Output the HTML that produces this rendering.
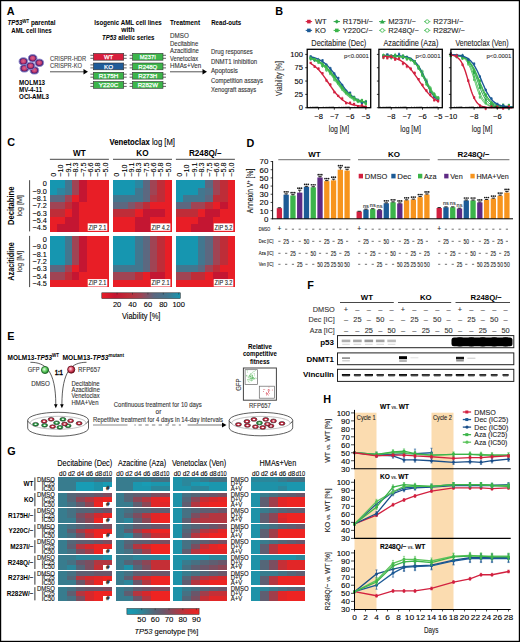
<!DOCTYPE html><html><head><meta charset="utf-8"><style>html,body{margin:0;padding:0;background:#fff;}svg{display:block;}text{font-family:"Liberation Sans",sans-serif;}</style></head><body>
<svg width="520" height="642" viewBox="0 0 520 642">
<rect x="0" y="0" width="520" height="642" fill="#fff"/>
<text x="6.80" y="14.70" font-size="10.8" text-anchor="start" fill="#000" font-weight="bold" >A</text>
<text x="275.30" y="15.00" font-size="10.8" text-anchor="start" fill="#000" font-weight="bold" >B</text>
<text x="7.30" y="146.20" font-size="10.8" text-anchor="start" fill="#000" font-weight="bold" >C</text>
<text x="246.60" y="146.70" font-size="10.8" text-anchor="start" fill="#000" font-weight="bold" >D</text>
<text x="7.30" y="339.50" font-size="10.8" text-anchor="start" fill="#000" font-weight="bold" >E</text>
<text x="307.20" y="288.90" font-size="10.8" text-anchor="start" fill="#000" font-weight="bold" >F</text>
<text x="7.30" y="454.50" font-size="10.8" text-anchor="start" fill="#000" font-weight="bold" >G</text>
<text x="323.30" y="403.30" font-size="10.8" text-anchor="start" fill="#000" font-weight="bold" >H</text>
<rect x="49.90" y="180.20" width="7.67" height="7.61" fill="#1696b0" shape-rendering="crispEdges"/>
<rect x="57.27" y="180.20" width="7.67" height="7.61" fill="#1696b0" shape-rendering="crispEdges"/>
<rect x="64.65" y="180.20" width="7.67" height="7.61" fill="#42778f" shape-rendering="crispEdges"/>
<rect x="72.03" y="180.20" width="7.67" height="7.61" fill="#a04454" shape-rendering="crispEdges"/>
<rect x="79.40" y="180.20" width="7.67" height="7.61" fill="#c41632" shape-rendering="crispEdges"/>
<rect x="86.78" y="180.20" width="7.67" height="7.61" fill="#e81e26" shape-rendering="crispEdges"/>
<rect x="94.15" y="180.20" width="7.67" height="7.61" fill="#e81e26" shape-rendering="crispEdges"/>
<rect x="101.53" y="180.20" width="7.67" height="7.61" fill="#e81e26" shape-rendering="crispEdges"/>
<rect x="49.90" y="187.51" width="7.67" height="7.61" fill="#1696b0" shape-rendering="crispEdges"/>
<rect x="57.27" y="187.51" width="7.67" height="7.61" fill="#2c86a0" shape-rendering="crispEdges"/>
<rect x="64.65" y="187.51" width="7.67" height="7.61" fill="#42778f" shape-rendering="crispEdges"/>
<rect x="72.03" y="187.51" width="7.67" height="7.61" fill="#a04454" shape-rendering="crispEdges"/>
<rect x="79.40" y="187.51" width="7.67" height="7.61" fill="#c41632" shape-rendering="crispEdges"/>
<rect x="86.78" y="187.51" width="7.67" height="7.61" fill="#e81e26" shape-rendering="crispEdges"/>
<rect x="94.15" y="187.51" width="7.67" height="7.61" fill="#e81e26" shape-rendering="crispEdges"/>
<rect x="101.53" y="187.51" width="7.67" height="7.61" fill="#e81e26" shape-rendering="crispEdges"/>
<rect x="49.90" y="194.83" width="7.67" height="7.61" fill="#5c6880" shape-rendering="crispEdges"/>
<rect x="57.27" y="194.83" width="7.67" height="7.61" fill="#5c6880" shape-rendering="crispEdges"/>
<rect x="64.65" y="194.83" width="7.67" height="7.61" fill="#a04454" shape-rendering="crispEdges"/>
<rect x="72.03" y="194.83" width="7.67" height="7.61" fill="#e81e26" shape-rendering="crispEdges"/>
<rect x="79.40" y="194.83" width="7.67" height="7.61" fill="#c41632" shape-rendering="crispEdges"/>
<rect x="86.78" y="194.83" width="7.67" height="7.61" fill="#e81e26" shape-rendering="crispEdges"/>
<rect x="94.15" y="194.83" width="7.67" height="7.61" fill="#e81e26" shape-rendering="crispEdges"/>
<rect x="101.53" y="194.83" width="7.67" height="7.61" fill="#e81e26" shape-rendering="crispEdges"/>
<rect x="49.90" y="202.14" width="7.67" height="7.61" fill="#a04454" shape-rendering="crispEdges"/>
<rect x="57.27" y="202.14" width="7.67" height="7.61" fill="#a04454" shape-rendering="crispEdges"/>
<rect x="64.65" y="202.14" width="7.67" height="7.61" fill="#be2d38" shape-rendering="crispEdges"/>
<rect x="72.03" y="202.14" width="7.67" height="7.61" fill="#c41632" shape-rendering="crispEdges"/>
<rect x="79.40" y="202.14" width="7.67" height="7.61" fill="#e81e26" shape-rendering="crispEdges"/>
<rect x="86.78" y="202.14" width="7.67" height="7.61" fill="#e81e26" shape-rendering="crispEdges"/>
<rect x="94.15" y="202.14" width="7.67" height="7.61" fill="#e81e26" shape-rendering="crispEdges"/>
<rect x="101.53" y="202.14" width="7.67" height="7.61" fill="#e81e26" shape-rendering="crispEdges"/>
<rect x="49.90" y="209.46" width="7.67" height="7.61" fill="#be2d38" shape-rendering="crispEdges"/>
<rect x="57.27" y="209.46" width="7.67" height="7.61" fill="#be2d38" shape-rendering="crispEdges"/>
<rect x="64.65" y="209.46" width="7.67" height="7.61" fill="#e81e26" shape-rendering="crispEdges"/>
<rect x="72.03" y="209.46" width="7.67" height="7.61" fill="#c41632" shape-rendering="crispEdges"/>
<rect x="79.40" y="209.46" width="7.67" height="7.61" fill="#e81e26" shape-rendering="crispEdges"/>
<rect x="86.78" y="209.46" width="7.67" height="7.61" fill="#e81e26" shape-rendering="crispEdges"/>
<rect x="94.15" y="209.46" width="7.67" height="7.61" fill="#e81e26" shape-rendering="crispEdges"/>
<rect x="101.53" y="209.46" width="7.67" height="7.61" fill="#e81e26" shape-rendering="crispEdges"/>
<rect x="49.90" y="216.77" width="7.67" height="7.61" fill="#e81e26" shape-rendering="crispEdges"/>
<rect x="57.27" y="216.77" width="7.67" height="7.61" fill="#e81e26" shape-rendering="crispEdges"/>
<rect x="64.65" y="216.77" width="7.67" height="7.61" fill="#c41632" shape-rendering="crispEdges"/>
<rect x="72.03" y="216.77" width="7.67" height="7.61" fill="#c41632" shape-rendering="crispEdges"/>
<rect x="79.40" y="216.77" width="7.67" height="7.61" fill="#e81e26" shape-rendering="crispEdges"/>
<rect x="86.78" y="216.77" width="7.67" height="7.61" fill="#e81e26" shape-rendering="crispEdges"/>
<rect x="94.15" y="216.77" width="7.67" height="7.61" fill="#e81e26" shape-rendering="crispEdges"/>
<rect x="101.53" y="216.77" width="7.67" height="7.61" fill="#e81e26" shape-rendering="crispEdges"/>
<rect x="49.90" y="224.09" width="7.67" height="7.61" fill="#e81e26" shape-rendering="crispEdges"/>
<rect x="57.27" y="224.09" width="7.67" height="7.61" fill="#c41632" shape-rendering="crispEdges"/>
<rect x="64.65" y="224.09" width="7.67" height="7.61" fill="#c41632" shape-rendering="crispEdges"/>
<rect x="72.03" y="224.09" width="7.67" height="7.61" fill="#c41632" shape-rendering="crispEdges"/>
<rect x="79.40" y="224.09" width="7.67" height="7.61" fill="#e81e26" shape-rendering="crispEdges"/>
<rect x="86.78" y="224.09" width="7.67" height="7.61" fill="#e81e26" shape-rendering="crispEdges"/>
<rect x="94.15" y="224.09" width="7.67" height="7.61" fill="#e81e26" shape-rendering="crispEdges"/>
<rect x="101.53" y="224.09" width="7.67" height="7.61" fill="#e81e26" shape-rendering="crispEdges"/>
<rect x="87.70" y="223.40" width="19.60" height="7.40" fill="#fff" />
<text x="97.50" y="229.50" font-size="6.4" text-anchor="middle" fill="#222" stroke="#222" stroke-width="0.1" textLength="18.00" lengthAdjust="spacingAndGlyphs" >ZIP 2.1</text>
<rect x="113.00" y="180.20" width="7.67" height="7.61" fill="#1696b0" shape-rendering="crispEdges"/>
<rect x="120.38" y="180.20" width="7.67" height="7.61" fill="#1696b0" shape-rendering="crispEdges"/>
<rect x="127.75" y="180.20" width="7.67" height="7.61" fill="#1696b0" shape-rendering="crispEdges"/>
<rect x="135.12" y="180.20" width="7.67" height="7.61" fill="#2c86a0" shape-rendering="crispEdges"/>
<rect x="142.50" y="180.20" width="7.67" height="7.61" fill="#5c6880" shape-rendering="crispEdges"/>
<rect x="149.88" y="180.20" width="7.67" height="7.61" fill="#a04454" shape-rendering="crispEdges"/>
<rect x="157.25" y="180.20" width="7.67" height="7.61" fill="#be2d38" shape-rendering="crispEdges"/>
<rect x="164.62" y="180.20" width="7.67" height="7.61" fill="#e81e26" shape-rendering="crispEdges"/>
<rect x="113.00" y="187.51" width="7.67" height="7.61" fill="#1696b0" shape-rendering="crispEdges"/>
<rect x="120.38" y="187.51" width="7.67" height="7.61" fill="#1696b0" shape-rendering="crispEdges"/>
<rect x="127.75" y="187.51" width="7.67" height="7.61" fill="#1696b0" shape-rendering="crispEdges"/>
<rect x="135.12" y="187.51" width="7.67" height="7.61" fill="#42778f" shape-rendering="crispEdges"/>
<rect x="142.50" y="187.51" width="7.67" height="7.61" fill="#5c6880" shape-rendering="crispEdges"/>
<rect x="149.88" y="187.51" width="7.67" height="7.61" fill="#a04454" shape-rendering="crispEdges"/>
<rect x="157.25" y="187.51" width="7.67" height="7.61" fill="#be2d38" shape-rendering="crispEdges"/>
<rect x="164.62" y="187.51" width="7.67" height="7.61" fill="#e81e26" shape-rendering="crispEdges"/>
<rect x="113.00" y="194.83" width="7.67" height="7.61" fill="#42778f" shape-rendering="crispEdges"/>
<rect x="120.38" y="194.83" width="7.67" height="7.61" fill="#42778f" shape-rendering="crispEdges"/>
<rect x="127.75" y="194.83" width="7.67" height="7.61" fill="#42778f" shape-rendering="crispEdges"/>
<rect x="135.12" y="194.83" width="7.67" height="7.61" fill="#42778f" shape-rendering="crispEdges"/>
<rect x="142.50" y="194.83" width="7.67" height="7.61" fill="#5c6880" shape-rendering="crispEdges"/>
<rect x="149.88" y="194.83" width="7.67" height="7.61" fill="#af3846" shape-rendering="crispEdges"/>
<rect x="157.25" y="194.83" width="7.67" height="7.61" fill="#be2d38" shape-rendering="crispEdges"/>
<rect x="164.62" y="194.83" width="7.67" height="7.61" fill="#e81e26" shape-rendering="crispEdges"/>
<rect x="113.00" y="202.14" width="7.67" height="7.61" fill="#5c6880" shape-rendering="crispEdges"/>
<rect x="120.38" y="202.14" width="7.67" height="7.61" fill="#5c6880" shape-rendering="crispEdges"/>
<rect x="127.75" y="202.14" width="7.67" height="7.61" fill="#7e566a" shape-rendering="crispEdges"/>
<rect x="135.12" y="202.14" width="7.67" height="7.61" fill="#a04454" shape-rendering="crispEdges"/>
<rect x="142.50" y="202.14" width="7.67" height="7.61" fill="#be2d38" shape-rendering="crispEdges"/>
<rect x="149.88" y="202.14" width="7.67" height="7.61" fill="#e81e26" shape-rendering="crispEdges"/>
<rect x="157.25" y="202.14" width="7.67" height="7.61" fill="#e81e26" shape-rendering="crispEdges"/>
<rect x="164.62" y="202.14" width="7.67" height="7.61" fill="#e81e26" shape-rendering="crispEdges"/>
<rect x="113.00" y="209.46" width="7.67" height="7.61" fill="#be2d38" shape-rendering="crispEdges"/>
<rect x="120.38" y="209.46" width="7.67" height="7.61" fill="#be2d38" shape-rendering="crispEdges"/>
<rect x="127.75" y="209.46" width="7.67" height="7.61" fill="#be2d38" shape-rendering="crispEdges"/>
<rect x="135.12" y="209.46" width="7.67" height="7.61" fill="#e81e26" shape-rendering="crispEdges"/>
<rect x="142.50" y="209.46" width="7.67" height="7.61" fill="#c41632" shape-rendering="crispEdges"/>
<rect x="149.88" y="209.46" width="7.67" height="7.61" fill="#c41632" shape-rendering="crispEdges"/>
<rect x="157.25" y="209.46" width="7.67" height="7.61" fill="#c41632" shape-rendering="crispEdges"/>
<rect x="164.62" y="209.46" width="7.67" height="7.61" fill="#e81e26" shape-rendering="crispEdges"/>
<rect x="113.00" y="216.77" width="7.67" height="7.61" fill="#e81e26" shape-rendering="crispEdges"/>
<rect x="120.38" y="216.77" width="7.67" height="7.61" fill="#e81e26" shape-rendering="crispEdges"/>
<rect x="127.75" y="216.77" width="7.67" height="7.61" fill="#e81e26" shape-rendering="crispEdges"/>
<rect x="135.12" y="216.77" width="7.67" height="7.61" fill="#c41632" shape-rendering="crispEdges"/>
<rect x="142.50" y="216.77" width="7.67" height="7.61" fill="#c41632" shape-rendering="crispEdges"/>
<rect x="149.88" y="216.77" width="7.67" height="7.61" fill="#e81e26" shape-rendering="crispEdges"/>
<rect x="157.25" y="216.77" width="7.67" height="7.61" fill="#e81e26" shape-rendering="crispEdges"/>
<rect x="164.62" y="216.77" width="7.67" height="7.61" fill="#e81e26" shape-rendering="crispEdges"/>
<rect x="113.00" y="224.09" width="7.67" height="7.61" fill="#e81e26" shape-rendering="crispEdges"/>
<rect x="120.38" y="224.09" width="7.67" height="7.61" fill="#e81e26" shape-rendering="crispEdges"/>
<rect x="127.75" y="224.09" width="7.67" height="7.61" fill="#e81e26" shape-rendering="crispEdges"/>
<rect x="135.12" y="224.09" width="7.67" height="7.61" fill="#c41632" shape-rendering="crispEdges"/>
<rect x="142.50" y="224.09" width="7.67" height="7.61" fill="#c41632" shape-rendering="crispEdges"/>
<rect x="149.88" y="224.09" width="7.67" height="7.61" fill="#e81e26" shape-rendering="crispEdges"/>
<rect x="157.25" y="224.09" width="7.67" height="7.61" fill="#e81e26" shape-rendering="crispEdges"/>
<rect x="164.62" y="224.09" width="7.67" height="7.61" fill="#e81e26" shape-rendering="crispEdges"/>
<rect x="150.80" y="223.40" width="19.60" height="7.40" fill="#fff" />
<text x="160.60" y="229.50" font-size="6.4" text-anchor="middle" fill="#222" stroke="#222" stroke-width="0.1" textLength="18.00" lengthAdjust="spacingAndGlyphs" >ZIP 4.2</text>
<rect x="175.90" y="180.20" width="7.67" height="7.61" fill="#1696b0" shape-rendering="crispEdges"/>
<rect x="183.28" y="180.20" width="7.67" height="7.61" fill="#1696b0" shape-rendering="crispEdges"/>
<rect x="190.65" y="180.20" width="7.67" height="7.61" fill="#1696b0" shape-rendering="crispEdges"/>
<rect x="198.03" y="180.20" width="7.67" height="7.61" fill="#1696b0" shape-rendering="crispEdges"/>
<rect x="205.40" y="180.20" width="7.67" height="7.61" fill="#5c6880" shape-rendering="crispEdges"/>
<rect x="212.78" y="180.20" width="7.67" height="7.61" fill="#a04454" shape-rendering="crispEdges"/>
<rect x="220.15" y="180.20" width="7.67" height="7.61" fill="#be2d38" shape-rendering="crispEdges"/>
<rect x="227.53" y="180.20" width="7.67" height="7.61" fill="#e81e26" shape-rendering="crispEdges"/>
<rect x="175.90" y="187.51" width="7.67" height="7.61" fill="#1696b0" shape-rendering="crispEdges"/>
<rect x="183.28" y="187.51" width="7.67" height="7.61" fill="#1696b0" shape-rendering="crispEdges"/>
<rect x="190.65" y="187.51" width="7.67" height="7.61" fill="#1696b0" shape-rendering="crispEdges"/>
<rect x="198.03" y="187.51" width="7.67" height="7.61" fill="#42778f" shape-rendering="crispEdges"/>
<rect x="205.40" y="187.51" width="7.67" height="7.61" fill="#4f7088" shape-rendering="crispEdges"/>
<rect x="212.78" y="187.51" width="7.67" height="7.61" fill="#a04454" shape-rendering="crispEdges"/>
<rect x="220.15" y="187.51" width="7.67" height="7.61" fill="#be2d38" shape-rendering="crispEdges"/>
<rect x="227.53" y="187.51" width="7.67" height="7.61" fill="#e81e26" shape-rendering="crispEdges"/>
<rect x="175.90" y="194.83" width="7.67" height="7.61" fill="#1696b0" shape-rendering="crispEdges"/>
<rect x="183.28" y="194.83" width="7.67" height="7.61" fill="#42778f" shape-rendering="crispEdges"/>
<rect x="190.65" y="194.83" width="7.67" height="7.61" fill="#42778f" shape-rendering="crispEdges"/>
<rect x="198.03" y="194.83" width="7.67" height="7.61" fill="#42778f" shape-rendering="crispEdges"/>
<rect x="205.40" y="194.83" width="7.67" height="7.61" fill="#5c6880" shape-rendering="crispEdges"/>
<rect x="212.78" y="194.83" width="7.67" height="7.61" fill="#be2d38" shape-rendering="crispEdges"/>
<rect x="220.15" y="194.83" width="7.67" height="7.61" fill="#be2d38" shape-rendering="crispEdges"/>
<rect x="227.53" y="194.83" width="7.67" height="7.61" fill="#e81e26" shape-rendering="crispEdges"/>
<rect x="175.90" y="202.14" width="7.67" height="7.61" fill="#5c6880" shape-rendering="crispEdges"/>
<rect x="183.28" y="202.14" width="7.67" height="7.61" fill="#5c6880" shape-rendering="crispEdges"/>
<rect x="190.65" y="202.14" width="7.67" height="7.61" fill="#a04454" shape-rendering="crispEdges"/>
<rect x="198.03" y="202.14" width="7.67" height="7.61" fill="#a04454" shape-rendering="crispEdges"/>
<rect x="205.40" y="202.14" width="7.67" height="7.61" fill="#be2d38" shape-rendering="crispEdges"/>
<rect x="212.78" y="202.14" width="7.67" height="7.61" fill="#e81e26" shape-rendering="crispEdges"/>
<rect x="220.15" y="202.14" width="7.67" height="7.61" fill="#c41632" shape-rendering="crispEdges"/>
<rect x="227.53" y="202.14" width="7.67" height="7.61" fill="#e81e26" shape-rendering="crispEdges"/>
<rect x="175.90" y="209.46" width="7.67" height="7.61" fill="#be2d38" shape-rendering="crispEdges"/>
<rect x="183.28" y="209.46" width="7.67" height="7.61" fill="#be2d38" shape-rendering="crispEdges"/>
<rect x="190.65" y="209.46" width="7.67" height="7.61" fill="#be2d38" shape-rendering="crispEdges"/>
<rect x="198.03" y="209.46" width="7.67" height="7.61" fill="#e81e26" shape-rendering="crispEdges"/>
<rect x="205.40" y="209.46" width="7.67" height="7.61" fill="#c41632" shape-rendering="crispEdges"/>
<rect x="212.78" y="209.46" width="7.67" height="7.61" fill="#c41632" shape-rendering="crispEdges"/>
<rect x="220.15" y="209.46" width="7.67" height="7.61" fill="#e81e26" shape-rendering="crispEdges"/>
<rect x="227.53" y="209.46" width="7.67" height="7.61" fill="#e81e26" shape-rendering="crispEdges"/>
<rect x="175.90" y="216.77" width="7.67" height="7.61" fill="#e81e26" shape-rendering="crispEdges"/>
<rect x="183.28" y="216.77" width="7.67" height="7.61" fill="#e81e26" shape-rendering="crispEdges"/>
<rect x="190.65" y="216.77" width="7.67" height="7.61" fill="#e81e26" shape-rendering="crispEdges"/>
<rect x="198.03" y="216.77" width="7.67" height="7.61" fill="#c41632" shape-rendering="crispEdges"/>
<rect x="205.40" y="216.77" width="7.67" height="7.61" fill="#c41632" shape-rendering="crispEdges"/>
<rect x="212.78" y="216.77" width="7.67" height="7.61" fill="#e81e26" shape-rendering="crispEdges"/>
<rect x="220.15" y="216.77" width="7.67" height="7.61" fill="#e81e26" shape-rendering="crispEdges"/>
<rect x="227.53" y="216.77" width="7.67" height="7.61" fill="#e81e26" shape-rendering="crispEdges"/>
<rect x="175.90" y="224.09" width="7.67" height="7.61" fill="#e81e26" shape-rendering="crispEdges"/>
<rect x="183.28" y="224.09" width="7.67" height="7.61" fill="#e81e26" shape-rendering="crispEdges"/>
<rect x="190.65" y="224.09" width="7.67" height="7.61" fill="#c41632" shape-rendering="crispEdges"/>
<rect x="198.03" y="224.09" width="7.67" height="7.61" fill="#c41632" shape-rendering="crispEdges"/>
<rect x="205.40" y="224.09" width="7.67" height="7.61" fill="#c41632" shape-rendering="crispEdges"/>
<rect x="212.78" y="224.09" width="7.67" height="7.61" fill="#e81e26" shape-rendering="crispEdges"/>
<rect x="220.15" y="224.09" width="7.67" height="7.61" fill="#e81e26" shape-rendering="crispEdges"/>
<rect x="227.53" y="224.09" width="7.67" height="7.61" fill="#e81e26" shape-rendering="crispEdges"/>
<rect x="213.70" y="223.40" width="19.60" height="7.40" fill="#fff" />
<text x="223.50" y="229.50" font-size="6.4" text-anchor="middle" fill="#222" stroke="#222" stroke-width="0.1" textLength="18.00" lengthAdjust="spacingAndGlyphs" >ZIP 5.2</text>
<rect x="49.90" y="235.90" width="7.67" height="7.61" fill="#1696b0" shape-rendering="crispEdges"/>
<rect x="57.27" y="235.90" width="7.67" height="7.61" fill="#1696b0" shape-rendering="crispEdges"/>
<rect x="64.65" y="235.90" width="7.67" height="7.61" fill="#42778f" shape-rendering="crispEdges"/>
<rect x="72.03" y="235.90" width="7.67" height="7.61" fill="#a04454" shape-rendering="crispEdges"/>
<rect x="79.40" y="235.90" width="7.67" height="7.61" fill="#c41632" shape-rendering="crispEdges"/>
<rect x="86.78" y="235.90" width="7.67" height="7.61" fill="#e81e26" shape-rendering="crispEdges"/>
<rect x="94.15" y="235.90" width="7.67" height="7.61" fill="#e81e26" shape-rendering="crispEdges"/>
<rect x="101.53" y="235.90" width="7.67" height="7.61" fill="#e81e26" shape-rendering="crispEdges"/>
<rect x="49.90" y="243.21" width="7.67" height="7.61" fill="#1696b0" shape-rendering="crispEdges"/>
<rect x="57.27" y="243.21" width="7.67" height="7.61" fill="#1696b0" shape-rendering="crispEdges"/>
<rect x="64.65" y="243.21" width="7.67" height="7.61" fill="#42778f" shape-rendering="crispEdges"/>
<rect x="72.03" y="243.21" width="7.67" height="7.61" fill="#a04454" shape-rendering="crispEdges"/>
<rect x="79.40" y="243.21" width="7.67" height="7.61" fill="#c41632" shape-rendering="crispEdges"/>
<rect x="86.78" y="243.21" width="7.67" height="7.61" fill="#e81e26" shape-rendering="crispEdges"/>
<rect x="94.15" y="243.21" width="7.67" height="7.61" fill="#e81e26" shape-rendering="crispEdges"/>
<rect x="101.53" y="243.21" width="7.67" height="7.61" fill="#e81e26" shape-rendering="crispEdges"/>
<rect x="49.90" y="250.53" width="7.67" height="7.61" fill="#1696b0" shape-rendering="crispEdges"/>
<rect x="57.27" y="250.53" width="7.67" height="7.61" fill="#1696b0" shape-rendering="crispEdges"/>
<rect x="64.65" y="250.53" width="7.67" height="7.61" fill="#42778f" shape-rendering="crispEdges"/>
<rect x="72.03" y="250.53" width="7.67" height="7.61" fill="#a04454" shape-rendering="crispEdges"/>
<rect x="79.40" y="250.53" width="7.67" height="7.61" fill="#c41632" shape-rendering="crispEdges"/>
<rect x="86.78" y="250.53" width="7.67" height="7.61" fill="#e81e26" shape-rendering="crispEdges"/>
<rect x="94.15" y="250.53" width="7.67" height="7.61" fill="#e81e26" shape-rendering="crispEdges"/>
<rect x="101.53" y="250.53" width="7.67" height="7.61" fill="#e81e26" shape-rendering="crispEdges"/>
<rect x="49.90" y="257.84" width="7.67" height="7.61" fill="#1696b0" shape-rendering="crispEdges"/>
<rect x="57.27" y="257.84" width="7.67" height="7.61" fill="#1696b0" shape-rendering="crispEdges"/>
<rect x="64.65" y="257.84" width="7.67" height="7.61" fill="#42778f" shape-rendering="crispEdges"/>
<rect x="72.03" y="257.84" width="7.67" height="7.61" fill="#a04454" shape-rendering="crispEdges"/>
<rect x="79.40" y="257.84" width="7.67" height="7.61" fill="#c41632" shape-rendering="crispEdges"/>
<rect x="86.78" y="257.84" width="7.67" height="7.61" fill="#e81e26" shape-rendering="crispEdges"/>
<rect x="94.15" y="257.84" width="7.67" height="7.61" fill="#e81e26" shape-rendering="crispEdges"/>
<rect x="101.53" y="257.84" width="7.67" height="7.61" fill="#e81e26" shape-rendering="crispEdges"/>
<rect x="49.90" y="265.16" width="7.67" height="7.61" fill="#5c6880" shape-rendering="crispEdges"/>
<rect x="57.27" y="265.16" width="7.67" height="7.61" fill="#5c6880" shape-rendering="crispEdges"/>
<rect x="64.65" y="265.16" width="7.67" height="7.61" fill="#a04454" shape-rendering="crispEdges"/>
<rect x="72.03" y="265.16" width="7.67" height="7.61" fill="#e81e26" shape-rendering="crispEdges"/>
<rect x="79.40" y="265.16" width="7.67" height="7.61" fill="#c41632" shape-rendering="crispEdges"/>
<rect x="86.78" y="265.16" width="7.67" height="7.61" fill="#e81e26" shape-rendering="crispEdges"/>
<rect x="94.15" y="265.16" width="7.67" height="7.61" fill="#e81e26" shape-rendering="crispEdges"/>
<rect x="101.53" y="265.16" width="7.67" height="7.61" fill="#e81e26" shape-rendering="crispEdges"/>
<rect x="49.90" y="272.47" width="7.67" height="7.61" fill="#a04454" shape-rendering="crispEdges"/>
<rect x="57.27" y="272.47" width="7.67" height="7.61" fill="#a04454" shape-rendering="crispEdges"/>
<rect x="64.65" y="272.47" width="7.67" height="7.61" fill="#be2d38" shape-rendering="crispEdges"/>
<rect x="72.03" y="272.47" width="7.67" height="7.61" fill="#c41632" shape-rendering="crispEdges"/>
<rect x="79.40" y="272.47" width="7.67" height="7.61" fill="#e81e26" shape-rendering="crispEdges"/>
<rect x="86.78" y="272.47" width="7.67" height="7.61" fill="#e81e26" shape-rendering="crispEdges"/>
<rect x="94.15" y="272.47" width="7.67" height="7.61" fill="#e81e26" shape-rendering="crispEdges"/>
<rect x="101.53" y="272.47" width="7.67" height="7.61" fill="#e81e26" shape-rendering="crispEdges"/>
<rect x="49.90" y="279.79" width="7.67" height="7.61" fill="#e81e26" shape-rendering="crispEdges"/>
<rect x="57.27" y="279.79" width="7.67" height="7.61" fill="#e81e26" shape-rendering="crispEdges"/>
<rect x="64.65" y="279.79" width="7.67" height="7.61" fill="#e81e26" shape-rendering="crispEdges"/>
<rect x="72.03" y="279.79" width="7.67" height="7.61" fill="#e81e26" shape-rendering="crispEdges"/>
<rect x="79.40" y="279.79" width="7.67" height="7.61" fill="#e81e26" shape-rendering="crispEdges"/>
<rect x="86.78" y="279.79" width="7.67" height="7.61" fill="#e81e26" shape-rendering="crispEdges"/>
<rect x="94.15" y="279.79" width="7.67" height="7.61" fill="#e81e26" shape-rendering="crispEdges"/>
<rect x="101.53" y="279.79" width="7.67" height="7.61" fill="#e81e26" shape-rendering="crispEdges"/>
<rect x="87.70" y="279.10" width="19.60" height="7.40" fill="#fff" />
<text x="97.50" y="285.20" font-size="6.4" text-anchor="middle" fill="#222" stroke="#222" stroke-width="0.1" textLength="18.00" lengthAdjust="spacingAndGlyphs" >ZIP 2.1</text>
<rect x="113.00" y="235.90" width="7.67" height="7.61" fill="#1696b0" shape-rendering="crispEdges"/>
<rect x="120.38" y="235.90" width="7.67" height="7.61" fill="#1696b0" shape-rendering="crispEdges"/>
<rect x="127.75" y="235.90" width="7.67" height="7.61" fill="#1696b0" shape-rendering="crispEdges"/>
<rect x="135.12" y="235.90" width="7.67" height="7.61" fill="#42778f" shape-rendering="crispEdges"/>
<rect x="142.50" y="235.90" width="7.67" height="7.61" fill="#5c6880" shape-rendering="crispEdges"/>
<rect x="149.88" y="235.90" width="7.67" height="7.61" fill="#a04454" shape-rendering="crispEdges"/>
<rect x="157.25" y="235.90" width="7.67" height="7.61" fill="#be2d38" shape-rendering="crispEdges"/>
<rect x="164.62" y="235.90" width="7.67" height="7.61" fill="#e81e26" shape-rendering="crispEdges"/>
<rect x="113.00" y="243.21" width="7.67" height="7.61" fill="#1696b0" shape-rendering="crispEdges"/>
<rect x="120.38" y="243.21" width="7.67" height="7.61" fill="#1696b0" shape-rendering="crispEdges"/>
<rect x="127.75" y="243.21" width="7.67" height="7.61" fill="#1696b0" shape-rendering="crispEdges"/>
<rect x="135.12" y="243.21" width="7.67" height="7.61" fill="#42778f" shape-rendering="crispEdges"/>
<rect x="142.50" y="243.21" width="7.67" height="7.61" fill="#5c6880" shape-rendering="crispEdges"/>
<rect x="149.88" y="243.21" width="7.67" height="7.61" fill="#a04454" shape-rendering="crispEdges"/>
<rect x="157.25" y="243.21" width="7.67" height="7.61" fill="#be2d38" shape-rendering="crispEdges"/>
<rect x="164.62" y="243.21" width="7.67" height="7.61" fill="#e81e26" shape-rendering="crispEdges"/>
<rect x="113.00" y="250.53" width="7.67" height="7.61" fill="#1696b0" shape-rendering="crispEdges"/>
<rect x="120.38" y="250.53" width="7.67" height="7.61" fill="#1696b0" shape-rendering="crispEdges"/>
<rect x="127.75" y="250.53" width="7.67" height="7.61" fill="#1696b0" shape-rendering="crispEdges"/>
<rect x="135.12" y="250.53" width="7.67" height="7.61" fill="#42778f" shape-rendering="crispEdges"/>
<rect x="142.50" y="250.53" width="7.67" height="7.61" fill="#5c6880" shape-rendering="crispEdges"/>
<rect x="149.88" y="250.53" width="7.67" height="7.61" fill="#a04454" shape-rendering="crispEdges"/>
<rect x="157.25" y="250.53" width="7.67" height="7.61" fill="#be2d38" shape-rendering="crispEdges"/>
<rect x="164.62" y="250.53" width="7.67" height="7.61" fill="#e81e26" shape-rendering="crispEdges"/>
<rect x="113.00" y="257.84" width="7.67" height="7.61" fill="#1696b0" shape-rendering="crispEdges"/>
<rect x="120.38" y="257.84" width="7.67" height="7.61" fill="#1696b0" shape-rendering="crispEdges"/>
<rect x="127.75" y="257.84" width="7.67" height="7.61" fill="#1696b0" shape-rendering="crispEdges"/>
<rect x="135.12" y="257.84" width="7.67" height="7.61" fill="#42778f" shape-rendering="crispEdges"/>
<rect x="142.50" y="257.84" width="7.67" height="7.61" fill="#5c6880" shape-rendering="crispEdges"/>
<rect x="149.88" y="257.84" width="7.67" height="7.61" fill="#a04454" shape-rendering="crispEdges"/>
<rect x="157.25" y="257.84" width="7.67" height="7.61" fill="#be2d38" shape-rendering="crispEdges"/>
<rect x="164.62" y="257.84" width="7.67" height="7.61" fill="#e81e26" shape-rendering="crispEdges"/>
<rect x="113.00" y="265.16" width="7.67" height="7.61" fill="#42778f" shape-rendering="crispEdges"/>
<rect x="120.38" y="265.16" width="7.67" height="7.61" fill="#42778f" shape-rendering="crispEdges"/>
<rect x="127.75" y="265.16" width="7.67" height="7.61" fill="#42778f" shape-rendering="crispEdges"/>
<rect x="135.12" y="265.16" width="7.67" height="7.61" fill="#42778f" shape-rendering="crispEdges"/>
<rect x="142.50" y="265.16" width="7.67" height="7.61" fill="#5c6880" shape-rendering="crispEdges"/>
<rect x="149.88" y="265.16" width="7.67" height="7.61" fill="#a04454" shape-rendering="crispEdges"/>
<rect x="157.25" y="265.16" width="7.67" height="7.61" fill="#be2d38" shape-rendering="crispEdges"/>
<rect x="164.62" y="265.16" width="7.67" height="7.61" fill="#e81e26" shape-rendering="crispEdges"/>
<rect x="113.00" y="272.47" width="7.67" height="7.61" fill="#a04454" shape-rendering="crispEdges"/>
<rect x="120.38" y="272.47" width="7.67" height="7.61" fill="#a04454" shape-rendering="crispEdges"/>
<rect x="127.75" y="272.47" width="7.67" height="7.61" fill="#a04454" shape-rendering="crispEdges"/>
<rect x="135.12" y="272.47" width="7.67" height="7.61" fill="#be2d38" shape-rendering="crispEdges"/>
<rect x="142.50" y="272.47" width="7.67" height="7.61" fill="#e81e26" shape-rendering="crispEdges"/>
<rect x="149.88" y="272.47" width="7.67" height="7.61" fill="#c41632" shape-rendering="crispEdges"/>
<rect x="157.25" y="272.47" width="7.67" height="7.61" fill="#c41632" shape-rendering="crispEdges"/>
<rect x="164.62" y="272.47" width="7.67" height="7.61" fill="#e81e26" shape-rendering="crispEdges"/>
<rect x="113.00" y="279.79" width="7.67" height="7.61" fill="#e81e26" shape-rendering="crispEdges"/>
<rect x="120.38" y="279.79" width="7.67" height="7.61" fill="#e81e26" shape-rendering="crispEdges"/>
<rect x="127.75" y="279.79" width="7.67" height="7.61" fill="#e81e26" shape-rendering="crispEdges"/>
<rect x="135.12" y="279.79" width="7.67" height="7.61" fill="#e81e26" shape-rendering="crispEdges"/>
<rect x="142.50" y="279.79" width="7.67" height="7.61" fill="#e81e26" shape-rendering="crispEdges"/>
<rect x="149.88" y="279.79" width="7.67" height="7.61" fill="#e81e26" shape-rendering="crispEdges"/>
<rect x="157.25" y="279.79" width="7.67" height="7.61" fill="#e81e26" shape-rendering="crispEdges"/>
<rect x="164.62" y="279.79" width="7.67" height="7.61" fill="#e81e26" shape-rendering="crispEdges"/>
<rect x="150.80" y="279.10" width="19.60" height="7.40" fill="#fff" />
<text x="160.60" y="285.20" font-size="6.4" text-anchor="middle" fill="#222" stroke="#222" stroke-width="0.1" textLength="18.00" lengthAdjust="spacingAndGlyphs" >ZIP 2.1</text>
<rect x="175.90" y="235.90" width="7.67" height="7.61" fill="#1696b0" shape-rendering="crispEdges"/>
<rect x="183.28" y="235.90" width="7.67" height="7.61" fill="#1696b0" shape-rendering="crispEdges"/>
<rect x="190.65" y="235.90" width="7.67" height="7.61" fill="#1696b0" shape-rendering="crispEdges"/>
<rect x="198.03" y="235.90" width="7.67" height="7.61" fill="#42778f" shape-rendering="crispEdges"/>
<rect x="205.40" y="235.90" width="7.67" height="7.61" fill="#5c6880" shape-rendering="crispEdges"/>
<rect x="212.78" y="235.90" width="7.67" height="7.61" fill="#a04454" shape-rendering="crispEdges"/>
<rect x="220.15" y="235.90" width="7.67" height="7.61" fill="#be2d38" shape-rendering="crispEdges"/>
<rect x="227.53" y="235.90" width="7.67" height="7.61" fill="#e81e26" shape-rendering="crispEdges"/>
<rect x="175.90" y="243.21" width="7.67" height="7.61" fill="#1696b0" shape-rendering="crispEdges"/>
<rect x="183.28" y="243.21" width="7.67" height="7.61" fill="#1696b0" shape-rendering="crispEdges"/>
<rect x="190.65" y="243.21" width="7.67" height="7.61" fill="#1696b0" shape-rendering="crispEdges"/>
<rect x="198.03" y="243.21" width="7.67" height="7.61" fill="#42778f" shape-rendering="crispEdges"/>
<rect x="205.40" y="243.21" width="7.67" height="7.61" fill="#5c6880" shape-rendering="crispEdges"/>
<rect x="212.78" y="243.21" width="7.67" height="7.61" fill="#a04454" shape-rendering="crispEdges"/>
<rect x="220.15" y="243.21" width="7.67" height="7.61" fill="#be2d38" shape-rendering="crispEdges"/>
<rect x="227.53" y="243.21" width="7.67" height="7.61" fill="#e81e26" shape-rendering="crispEdges"/>
<rect x="175.90" y="250.53" width="7.67" height="7.61" fill="#1696b0" shape-rendering="crispEdges"/>
<rect x="183.28" y="250.53" width="7.67" height="7.61" fill="#1696b0" shape-rendering="crispEdges"/>
<rect x="190.65" y="250.53" width="7.67" height="7.61" fill="#1696b0" shape-rendering="crispEdges"/>
<rect x="198.03" y="250.53" width="7.67" height="7.61" fill="#42778f" shape-rendering="crispEdges"/>
<rect x="205.40" y="250.53" width="7.67" height="7.61" fill="#5c6880" shape-rendering="crispEdges"/>
<rect x="212.78" y="250.53" width="7.67" height="7.61" fill="#a04454" shape-rendering="crispEdges"/>
<rect x="220.15" y="250.53" width="7.67" height="7.61" fill="#be2d38" shape-rendering="crispEdges"/>
<rect x="227.53" y="250.53" width="7.67" height="7.61" fill="#e81e26" shape-rendering="crispEdges"/>
<rect x="175.90" y="257.84" width="7.67" height="7.61" fill="#1696b0" shape-rendering="crispEdges"/>
<rect x="183.28" y="257.84" width="7.67" height="7.61" fill="#1696b0" shape-rendering="crispEdges"/>
<rect x="190.65" y="257.84" width="7.67" height="7.61" fill="#1696b0" shape-rendering="crispEdges"/>
<rect x="198.03" y="257.84" width="7.67" height="7.61" fill="#42778f" shape-rendering="crispEdges"/>
<rect x="205.40" y="257.84" width="7.67" height="7.61" fill="#5c6880" shape-rendering="crispEdges"/>
<rect x="212.78" y="257.84" width="7.67" height="7.61" fill="#a04454" shape-rendering="crispEdges"/>
<rect x="220.15" y="257.84" width="7.67" height="7.61" fill="#be2d38" shape-rendering="crispEdges"/>
<rect x="227.53" y="257.84" width="7.67" height="7.61" fill="#e81e26" shape-rendering="crispEdges"/>
<rect x="175.90" y="265.16" width="7.67" height="7.61" fill="#42778f" shape-rendering="crispEdges"/>
<rect x="183.28" y="265.16" width="7.67" height="7.61" fill="#42778f" shape-rendering="crispEdges"/>
<rect x="190.65" y="265.16" width="7.67" height="7.61" fill="#42778f" shape-rendering="crispEdges"/>
<rect x="198.03" y="265.16" width="7.67" height="7.61" fill="#5c6880" shape-rendering="crispEdges"/>
<rect x="205.40" y="265.16" width="7.67" height="7.61" fill="#a04454" shape-rendering="crispEdges"/>
<rect x="212.78" y="265.16" width="7.67" height="7.61" fill="#be2d38" shape-rendering="crispEdges"/>
<rect x="220.15" y="265.16" width="7.67" height="7.61" fill="#e81e26" shape-rendering="crispEdges"/>
<rect x="227.53" y="265.16" width="7.67" height="7.61" fill="#e81e26" shape-rendering="crispEdges"/>
<rect x="175.90" y="272.47" width="7.67" height="7.61" fill="#a04454" shape-rendering="crispEdges"/>
<rect x="183.28" y="272.47" width="7.67" height="7.61" fill="#a04454" shape-rendering="crispEdges"/>
<rect x="190.65" y="272.47" width="7.67" height="7.61" fill="#be2d38" shape-rendering="crispEdges"/>
<rect x="198.03" y="272.47" width="7.67" height="7.61" fill="#be2d38" shape-rendering="crispEdges"/>
<rect x="205.40" y="272.47" width="7.67" height="7.61" fill="#e81e26" shape-rendering="crispEdges"/>
<rect x="212.78" y="272.47" width="7.67" height="7.61" fill="#c41632" shape-rendering="crispEdges"/>
<rect x="220.15" y="272.47" width="7.67" height="7.61" fill="#c41632" shape-rendering="crispEdges"/>
<rect x="227.53" y="272.47" width="7.67" height="7.61" fill="#e81e26" shape-rendering="crispEdges"/>
<rect x="175.90" y="279.79" width="7.67" height="7.61" fill="#e81e26" shape-rendering="crispEdges"/>
<rect x="183.28" y="279.79" width="7.67" height="7.61" fill="#e81e26" shape-rendering="crispEdges"/>
<rect x="190.65" y="279.79" width="7.67" height="7.61" fill="#e81e26" shape-rendering="crispEdges"/>
<rect x="198.03" y="279.79" width="7.67" height="7.61" fill="#e81e26" shape-rendering="crispEdges"/>
<rect x="205.40" y="279.79" width="7.67" height="7.61" fill="#e81e26" shape-rendering="crispEdges"/>
<rect x="212.78" y="279.79" width="7.67" height="7.61" fill="#e81e26" shape-rendering="crispEdges"/>
<rect x="220.15" y="279.79" width="7.67" height="7.61" fill="#e81e26" shape-rendering="crispEdges"/>
<rect x="227.53" y="279.79" width="7.67" height="7.61" fill="#e81e26" shape-rendering="crispEdges"/>
<rect x="213.70" y="279.10" width="19.60" height="7.40" fill="#fff" />
<text x="223.50" y="285.20" font-size="6.4" text-anchor="middle" fill="#222" stroke="#222" stroke-width="0.1" textLength="18.00" lengthAdjust="spacingAndGlyphs" >ZIP 3.2</text>
<text x="142.30" y="145.40" font-size="8.6" text-anchor="middle" fill="#000" stroke="#000" stroke-width="0.1" textLength="65.40" lengthAdjust="spacingAndGlyphs" ><tspan font-weight="bold">Venetoclax</tspan> log [M]</text>
<text x="79.40" y="156.40" font-size="8.2" text-anchor="middle" fill="#000" font-weight="bold" >WT</text>
<line x1="49.90" y1="159.30" x2="108.90" y2="159.30" stroke="#333" stroke-width="0.9" />
<text x="56.09" y="176.80" font-size="7.3" text-anchor="start" fill="#000" stroke="#000" stroke-width="0.1" transform="rotate(-90 56.09 176.80)" >0</text>
<text x="63.46" y="176.80" font-size="7.3" text-anchor="start" fill="#000" stroke="#000" stroke-width="0.1" transform="rotate(-90 63.46 176.80)" >−10</text>
<text x="70.84" y="176.80" font-size="7.3" text-anchor="start" fill="#000" stroke="#000" stroke-width="0.1" transform="rotate(-90 70.84 176.80)" >−9.1</text>
<text x="78.21" y="176.80" font-size="7.3" text-anchor="start" fill="#000" stroke="#000" stroke-width="0.1" transform="rotate(-90 78.21 176.80)" >−8.3</text>
<text x="85.59" y="176.80" font-size="7.3" text-anchor="start" fill="#000" stroke="#000" stroke-width="0.1" transform="rotate(-90 85.59 176.80)" >−7.5</text>
<text x="92.96" y="176.80" font-size="7.3" text-anchor="start" fill="#000" stroke="#000" stroke-width="0.1" transform="rotate(-90 92.96 176.80)" >−6.6</text>
<text x="100.34" y="176.80" font-size="7.3" text-anchor="start" fill="#000" stroke="#000" stroke-width="0.1" transform="rotate(-90 100.34 176.80)" >−5.8</text>
<text x="107.71" y="176.80" font-size="7.3" text-anchor="start" fill="#000" stroke="#000" stroke-width="0.1" transform="rotate(-90 107.71 176.80)" >−5.0</text>
<text x="142.50" y="156.40" font-size="8.2" text-anchor="middle" fill="#000" font-weight="bold" >KO</text>
<line x1="113.00" y1="159.30" x2="172.00" y2="159.30" stroke="#333" stroke-width="0.9" />
<text x="119.19" y="176.80" font-size="7.3" text-anchor="start" fill="#000" stroke="#000" stroke-width="0.1" transform="rotate(-90 119.19 176.80)" >0</text>
<text x="126.56" y="176.80" font-size="7.3" text-anchor="start" fill="#000" stroke="#000" stroke-width="0.1" transform="rotate(-90 126.56 176.80)" >−10</text>
<text x="133.94" y="176.80" font-size="7.3" text-anchor="start" fill="#000" stroke="#000" stroke-width="0.1" transform="rotate(-90 133.94 176.80)" >−9.1</text>
<text x="141.31" y="176.80" font-size="7.3" text-anchor="start" fill="#000" stroke="#000" stroke-width="0.1" transform="rotate(-90 141.31 176.80)" >−8.3</text>
<text x="148.69" y="176.80" font-size="7.3" text-anchor="start" fill="#000" stroke="#000" stroke-width="0.1" transform="rotate(-90 148.69 176.80)" >−7.5</text>
<text x="156.06" y="176.80" font-size="7.3" text-anchor="start" fill="#000" stroke="#000" stroke-width="0.1" transform="rotate(-90 156.06 176.80)" >−6.6</text>
<text x="163.44" y="176.80" font-size="7.3" text-anchor="start" fill="#000" stroke="#000" stroke-width="0.1" transform="rotate(-90 163.44 176.80)" >−5.8</text>
<text x="170.81" y="176.80" font-size="7.3" text-anchor="start" fill="#000" stroke="#000" stroke-width="0.1" transform="rotate(-90 170.81 176.80)" >−5.0</text>
<text x="205.40" y="156.40" font-size="8.2" text-anchor="middle" fill="#000" font-weight="bold" >R248Q/−</text>
<line x1="175.90" y1="159.30" x2="234.90" y2="159.30" stroke="#333" stroke-width="0.9" />
<text x="182.09" y="176.80" font-size="7.3" text-anchor="start" fill="#000" stroke="#000" stroke-width="0.1" transform="rotate(-90 182.09 176.80)" >0</text>
<text x="189.46" y="176.80" font-size="7.3" text-anchor="start" fill="#000" stroke="#000" stroke-width="0.1" transform="rotate(-90 189.46 176.80)" >−10</text>
<text x="196.84" y="176.80" font-size="7.3" text-anchor="start" fill="#000" stroke="#000" stroke-width="0.1" transform="rotate(-90 196.84 176.80)" >−9.1</text>
<text x="204.21" y="176.80" font-size="7.3" text-anchor="start" fill="#000" stroke="#000" stroke-width="0.1" transform="rotate(-90 204.21 176.80)" >−8.3</text>
<text x="211.59" y="176.80" font-size="7.3" text-anchor="start" fill="#000" stroke="#000" stroke-width="0.1" transform="rotate(-90 211.59 176.80)" >−7.5</text>
<text x="218.96" y="176.80" font-size="7.3" text-anchor="start" fill="#000" stroke="#000" stroke-width="0.1" transform="rotate(-90 218.96 176.80)" >−6.6</text>
<text x="226.34" y="176.80" font-size="7.3" text-anchor="start" fill="#000" stroke="#000" stroke-width="0.1" transform="rotate(-90 226.34 176.80)" >−5.8</text>
<text x="233.71" y="176.80" font-size="7.3" text-anchor="start" fill="#000" stroke="#000" stroke-width="0.1" transform="rotate(-90 233.71 176.80)" >−5.0</text>
<text x="46.90" y="186.46" font-size="7.3" text-anchor="end" fill="#000" stroke="#000" stroke-width="0.1" >0</text>
<text x="46.90" y="193.77" font-size="7.3" text-anchor="end" fill="#000" stroke="#000" stroke-width="0.1" >−9.0</text>
<text x="46.90" y="201.09" font-size="7.3" text-anchor="end" fill="#000" stroke="#000" stroke-width="0.1" >−8.1</text>
<text x="46.90" y="208.40" font-size="7.3" text-anchor="end" fill="#000" stroke="#000" stroke-width="0.1" >−7.2</text>
<text x="46.90" y="215.71" font-size="7.3" text-anchor="end" fill="#000" stroke="#000" stroke-width="0.1" >−6.3</text>
<text x="46.90" y="223.03" font-size="7.3" text-anchor="end" fill="#000" stroke="#000" stroke-width="0.1" >−5.4</text>
<text x="46.90" y="230.34" font-size="7.3" text-anchor="end" fill="#000" stroke="#000" stroke-width="0.1" >−4.5</text>
<line x1="29.60" y1="180.20" x2="29.60" y2="231.40" stroke="#333" stroke-width="0.9" />
<text x="14.20" y="205.80" font-size="8.6" text-anchor="middle" fill="#000" font-weight="bold" textLength="38.50" lengthAdjust="spacingAndGlyphs" transform="rotate(-90 14.20 205.80)" >Decitabine</text>
<text x="22.20" y="205.80" font-size="7.2" text-anchor="middle" fill="#333" stroke="#333" stroke-width="0.1" transform="rotate(-90 22.20 205.80)" >log [M]</text>
<text x="46.90" y="242.16" font-size="7.3" text-anchor="end" fill="#000" stroke="#000" stroke-width="0.1" >0</text>
<text x="46.90" y="249.47" font-size="7.3" text-anchor="end" fill="#000" stroke="#000" stroke-width="0.1" >−9.0</text>
<text x="46.90" y="256.79" font-size="7.3" text-anchor="end" fill="#000" stroke="#000" stroke-width="0.1" >−8.1</text>
<text x="46.90" y="264.10" font-size="7.3" text-anchor="end" fill="#000" stroke="#000" stroke-width="0.1" >−7.2</text>
<text x="46.90" y="271.41" font-size="7.3" text-anchor="end" fill="#000" stroke="#000" stroke-width="0.1" >−6.3</text>
<text x="46.90" y="278.73" font-size="7.3" text-anchor="end" fill="#000" stroke="#000" stroke-width="0.1" >−5.4</text>
<text x="46.90" y="286.04" font-size="7.3" text-anchor="end" fill="#000" stroke="#000" stroke-width="0.1" >−4.5</text>
<line x1="29.60" y1="235.90" x2="29.60" y2="287.10" stroke="#333" stroke-width="0.9" />
<text x="14.20" y="261.50" font-size="8.6" text-anchor="middle" fill="#000" font-weight="bold" textLength="38.50" lengthAdjust="spacingAndGlyphs" transform="rotate(-90 14.20 261.50)" >Azacitidine</text>
<text x="22.20" y="261.50" font-size="7.2" text-anchor="middle" fill="#333" stroke="#333" stroke-width="0.1" transform="rotate(-90 22.20 261.50)" >log [M]</text>
<defs><linearGradient id="cgrad" x1="0" x2="1" y1="0" y2="0"><stop offset="0.000" stop-color="#e81e26"/><stop offset="0.167" stop-color="#c41632"/><stop offset="0.333" stop-color="#be2d38"/><stop offset="0.500" stop-color="#a04454"/><stop offset="0.667" stop-color="#5c6880"/><stop offset="0.833" stop-color="#42778f"/><stop offset="1.000" stop-color="#1696b0"/></linearGradient>
<linearGradient id="ggrad" x1="0" x2="1" y1="0" y2="0"><stop offset="0.000" stop-color="#189cb4"/><stop offset="0.125" stop-color="#1e92a8"/><stop offset="0.250" stop-color="#387c8e"/><stop offset="0.375" stop-color="#546678"/><stop offset="0.500" stop-color="#6a566a"/><stop offset="0.625" stop-color="#8c4656"/><stop offset="0.750" stop-color="#b43640"/><stop offset="0.875" stop-color="#d6282c"/><stop offset="1.000" stop-color="#ee2422"/></linearGradient></defs>
<rect x="101.80" y="292.80" width="78.50" height="5.80" fill="url(#cgrad)" stroke="#222" stroke-width="0.5" />
<line x1="117.10" y1="292.80" x2="117.10" y2="294.50" stroke="#222" stroke-width="0.5" />
<text x="117.10" y="306.90" font-size="7.5" text-anchor="middle" fill="#000" stroke="#000" stroke-width="0.1" >20</text>
<line x1="132.50" y1="292.80" x2="132.50" y2="294.50" stroke="#222" stroke-width="0.5" />
<text x="132.50" y="306.90" font-size="7.5" text-anchor="middle" fill="#000" stroke="#000" stroke-width="0.1" >40</text>
<line x1="147.90" y1="292.80" x2="147.90" y2="294.50" stroke="#222" stroke-width="0.5" />
<text x="147.90" y="306.90" font-size="7.5" text-anchor="middle" fill="#000" stroke="#000" stroke-width="0.1" >60</text>
<line x1="163.30" y1="292.80" x2="163.30" y2="294.50" stroke="#222" stroke-width="0.5" />
<text x="163.30" y="306.90" font-size="7.5" text-anchor="middle" fill="#000" stroke="#000" stroke-width="0.1" >80</text>
<line x1="178.70" y1="292.80" x2="178.70" y2="294.50" stroke="#222" stroke-width="0.5" />
<text x="178.70" y="306.90" font-size="7.5" text-anchor="middle" fill="#000" stroke="#000" stroke-width="0.1" >100</text>
<text x="141.15" y="319.20" font-size="8.2" text-anchor="middle" fill="#000" stroke="#000" stroke-width="0.1" textLength="38.50" lengthAdjust="spacingAndGlyphs" >Viability [%]</text>
<rect x="58.20" y="477.00" width="9.25" height="4.97" fill="#387c8e" shape-rendering="crispEdges"/>
<rect x="67.15" y="477.00" width="9.25" height="4.97" fill="#387c8e" shape-rendering="crispEdges"/>
<rect x="76.10" y="477.00" width="9.25" height="4.97" fill="#387c8e" shape-rendering="crispEdges"/>
<rect x="85.05" y="477.00" width="9.25" height="4.97" fill="#387c8e" shape-rendering="crispEdges"/>
<rect x="94.00" y="477.00" width="9.25" height="4.97" fill="#467183" shape-rendering="crispEdges"/>
<rect x="102.95" y="477.00" width="9.25" height="4.97" fill="#467183" shape-rendering="crispEdges"/>
<rect x="58.20" y="481.67" width="9.25" height="4.97" fill="#387c8e" shape-rendering="crispEdges"/>
<rect x="67.15" y="481.67" width="9.25" height="4.97" fill="#387c8e" shape-rendering="crispEdges"/>
<rect x="76.10" y="481.67" width="9.25" height="4.97" fill="#189cb4" shape-rendering="crispEdges"/>
<rect x="85.05" y="481.67" width="9.25" height="4.97" fill="#189cb4" shape-rendering="crispEdges"/>
<rect x="94.00" y="481.67" width="9.25" height="4.97" fill="#1e92a8" shape-rendering="crispEdges"/>
<rect x="102.95" y="481.67" width="9.25" height="4.97" fill="#189cb4" shape-rendering="crispEdges"/>
<rect x="58.20" y="486.33" width="9.25" height="4.97" fill="#387c8e" shape-rendering="crispEdges"/>
<rect x="67.15" y="486.33" width="9.25" height="4.97" fill="#387c8e" shape-rendering="crispEdges"/>
<rect x="76.10" y="486.33" width="9.25" height="4.97" fill="#189cb4" shape-rendering="crispEdges"/>
<rect x="85.05" y="486.33" width="9.25" height="4.97" fill="#189cb4" shape-rendering="crispEdges"/>
<rect x="94.00" y="486.33" width="9.25" height="4.97" fill="#1e92a8" shape-rendering="crispEdges"/>
<text x="107.93" y="490.40" font-size="5.6" text-anchor="middle" fill="#3a3a3a" stroke="#3a3a3a" stroke-width="0.35" font-weight="bold" >#</text>
<rect x="58.20" y="492.68" width="9.25" height="4.97" fill="#387c8e" shape-rendering="crispEdges"/>
<rect x="67.15" y="492.68" width="9.25" height="4.97" fill="#546678" shape-rendering="crispEdges"/>
<rect x="76.10" y="492.68" width="9.25" height="4.97" fill="#5f5e71" shape-rendering="crispEdges"/>
<rect x="85.05" y="492.68" width="9.25" height="4.97" fill="#5f5e71" shape-rendering="crispEdges"/>
<rect x="94.00" y="492.68" width="9.25" height="4.97" fill="#6a566a" shape-rendering="crispEdges"/>
<rect x="102.95" y="492.68" width="9.25" height="4.97" fill="#7b4e60" shape-rendering="crispEdges"/>
<rect x="58.20" y="497.35" width="9.25" height="4.97" fill="#387c8e" shape-rendering="crispEdges"/>
<rect x="67.15" y="497.35" width="9.25" height="4.97" fill="#546678" shape-rendering="crispEdges"/>
<rect x="76.10" y="497.35" width="9.25" height="4.97" fill="#8c4656" shape-rendering="crispEdges"/>
<rect x="85.05" y="497.35" width="9.25" height="4.97" fill="#b43640" shape-rendering="crispEdges"/>
<rect x="94.00" y="497.35" width="9.25" height="4.97" fill="#e22627" shape-rendering="crispEdges"/>
<rect x="102.95" y="497.35" width="9.25" height="4.97" fill="#ee2422" shape-rendering="crispEdges"/>
<rect x="58.20" y="502.01" width="9.25" height="4.97" fill="#387c8e" shape-rendering="crispEdges"/>
<rect x="67.15" y="502.01" width="9.25" height="4.97" fill="#467183" shape-rendering="crispEdges"/>
<rect x="76.10" y="502.01" width="9.25" height="4.97" fill="#5f5e71" shape-rendering="crispEdges"/>
<rect x="85.05" y="502.01" width="9.25" height="4.97" fill="#8c4656" shape-rendering="crispEdges"/>
<rect x="94.00" y="502.01" width="9.25" height="4.97" fill="#ee2422" shape-rendering="crispEdges"/>
<text x="107.93" y="506.08" font-size="5.6" text-anchor="middle" fill="#3a3a3a" stroke="#3a3a3a" stroke-width="0.35" font-weight="bold" >#</text>
<rect x="58.20" y="508.36" width="9.25" height="4.97" fill="#387c8e" shape-rendering="crispEdges"/>
<rect x="67.15" y="508.36" width="9.25" height="4.97" fill="#467183" shape-rendering="crispEdges"/>
<rect x="76.10" y="508.36" width="9.25" height="4.97" fill="#546678" shape-rendering="crispEdges"/>
<rect x="85.05" y="508.36" width="9.25" height="4.97" fill="#546678" shape-rendering="crispEdges"/>
<rect x="94.00" y="508.36" width="9.25" height="4.97" fill="#5f5e71" shape-rendering="crispEdges"/>
<rect x="102.95" y="508.36" width="9.25" height="4.97" fill="#6a566a" shape-rendering="crispEdges"/>
<rect x="58.20" y="513.03" width="9.25" height="4.97" fill="#387c8e" shape-rendering="crispEdges"/>
<rect x="67.15" y="513.03" width="9.25" height="4.97" fill="#467183" shape-rendering="crispEdges"/>
<rect x="76.10" y="513.03" width="9.25" height="4.97" fill="#7b4e60" shape-rendering="crispEdges"/>
<rect x="85.05" y="513.03" width="9.25" height="4.97" fill="#a03e4b" shape-rendering="crispEdges"/>
<rect x="94.00" y="513.03" width="9.25" height="4.97" fill="#d6282c" shape-rendering="crispEdges"/>
<rect x="102.95" y="513.03" width="9.25" height="4.97" fill="#ee2422" shape-rendering="crispEdges"/>
<rect x="58.20" y="517.69" width="9.25" height="4.97" fill="#387c8e" shape-rendering="crispEdges"/>
<rect x="67.15" y="517.69" width="9.25" height="4.97" fill="#387c8e" shape-rendering="crispEdges"/>
<rect x="76.10" y="517.69" width="9.25" height="4.97" fill="#6a566a" shape-rendering="crispEdges"/>
<rect x="85.05" y="517.69" width="9.25" height="4.97" fill="#8c4656" shape-rendering="crispEdges"/>
<rect x="94.00" y="517.69" width="9.25" height="4.97" fill="#ee2422" shape-rendering="crispEdges"/>
<text x="107.93" y="521.76" font-size="5.6" text-anchor="middle" fill="#3a3a3a" stroke="#3a3a3a" stroke-width="0.35" font-weight="bold" >#</text>
<rect x="58.20" y="524.04" width="9.25" height="4.97" fill="#387c8e" shape-rendering="crispEdges"/>
<rect x="67.15" y="524.04" width="9.25" height="4.97" fill="#467183" shape-rendering="crispEdges"/>
<rect x="76.10" y="524.04" width="9.25" height="4.97" fill="#546678" shape-rendering="crispEdges"/>
<rect x="85.05" y="524.04" width="9.25" height="4.97" fill="#5f5e71" shape-rendering="crispEdges"/>
<rect x="94.00" y="524.04" width="9.25" height="4.97" fill="#6a566a" shape-rendering="crispEdges"/>
<rect x="102.95" y="524.04" width="9.25" height="4.97" fill="#7b4e60" shape-rendering="crispEdges"/>
<rect x="58.20" y="528.71" width="9.25" height="4.97" fill="#387c8e" shape-rendering="crispEdges"/>
<rect x="67.15" y="528.71" width="9.25" height="4.97" fill="#5f5e71" shape-rendering="crispEdges"/>
<rect x="76.10" y="528.71" width="9.25" height="4.97" fill="#a03e4b" shape-rendering="crispEdges"/>
<rect x="85.05" y="528.71" width="9.25" height="4.97" fill="#d6282c" shape-rendering="crispEdges"/>
<rect x="94.00" y="528.71" width="9.25" height="4.97" fill="#ee2422" shape-rendering="crispEdges"/>
<rect x="102.95" y="528.71" width="9.25" height="4.97" fill="#ee2422" shape-rendering="crispEdges"/>
<rect x="58.20" y="533.37" width="9.25" height="4.97" fill="#387c8e" shape-rendering="crispEdges"/>
<rect x="67.15" y="533.37" width="9.25" height="4.97" fill="#467183" shape-rendering="crispEdges"/>
<rect x="76.10" y="533.37" width="9.25" height="4.97" fill="#6a566a" shape-rendering="crispEdges"/>
<rect x="85.05" y="533.37" width="9.25" height="4.97" fill="#b43640" shape-rendering="crispEdges"/>
<rect x="94.00" y="533.37" width="9.25" height="4.97" fill="#ee2422" shape-rendering="crispEdges"/>
<text x="107.93" y="537.44" font-size="5.6" text-anchor="middle" fill="#3a3a3a" stroke="#3a3a3a" stroke-width="0.35" font-weight="bold" >#</text>
<rect x="58.20" y="539.72" width="9.25" height="4.97" fill="#387c8e" shape-rendering="crispEdges"/>
<rect x="67.15" y="539.72" width="9.25" height="4.97" fill="#546678" shape-rendering="crispEdges"/>
<rect x="76.10" y="539.72" width="9.25" height="4.97" fill="#5f5e71" shape-rendering="crispEdges"/>
<rect x="85.05" y="539.72" width="9.25" height="4.97" fill="#5f5e71" shape-rendering="crispEdges"/>
<rect x="94.00" y="539.72" width="9.25" height="4.97" fill="#6a566a" shape-rendering="crispEdges"/>
<rect x="102.95" y="539.72" width="9.25" height="4.97" fill="#7b4e60" shape-rendering="crispEdges"/>
<rect x="58.20" y="544.39" width="9.25" height="4.97" fill="#387c8e" shape-rendering="crispEdges"/>
<rect x="67.15" y="544.39" width="9.25" height="4.97" fill="#5f5e71" shape-rendering="crispEdges"/>
<rect x="76.10" y="544.39" width="9.25" height="4.97" fill="#b43640" shape-rendering="crispEdges"/>
<rect x="85.05" y="544.39" width="9.25" height="4.97" fill="#d6282c" shape-rendering="crispEdges"/>
<rect x="94.00" y="544.39" width="9.25" height="4.97" fill="#ee2422" shape-rendering="crispEdges"/>
<rect x="102.95" y="544.39" width="9.25" height="4.97" fill="#ee2422" shape-rendering="crispEdges"/>
<rect x="58.20" y="549.05" width="9.25" height="4.97" fill="#387c8e" shape-rendering="crispEdges"/>
<rect x="67.15" y="549.05" width="9.25" height="4.97" fill="#467183" shape-rendering="crispEdges"/>
<rect x="76.10" y="549.05" width="9.25" height="4.97" fill="#7b4e60" shape-rendering="crispEdges"/>
<rect x="85.05" y="549.05" width="9.25" height="4.97" fill="#a03e4b" shape-rendering="crispEdges"/>
<rect x="94.00" y="549.05" width="9.25" height="4.97" fill="#ee2422" shape-rendering="crispEdges"/>
<text x="107.93" y="553.12" font-size="5.6" text-anchor="middle" fill="#3a3a3a" stroke="#3a3a3a" stroke-width="0.35" font-weight="bold" >#</text>
<rect x="58.20" y="555.40" width="9.25" height="4.97" fill="#387c8e" shape-rendering="crispEdges"/>
<rect x="67.15" y="555.40" width="9.25" height="4.97" fill="#387c8e" shape-rendering="crispEdges"/>
<rect x="76.10" y="555.40" width="9.25" height="4.97" fill="#2b879b" shape-rendering="crispEdges"/>
<rect x="85.05" y="555.40" width="9.25" height="4.97" fill="#2b879b" shape-rendering="crispEdges"/>
<rect x="94.00" y="555.40" width="9.25" height="4.97" fill="#2b879b" shape-rendering="crispEdges"/>
<rect x="102.95" y="555.40" width="9.25" height="4.97" fill="#1e92a8" shape-rendering="crispEdges"/>
<rect x="58.20" y="560.07" width="9.25" height="4.97" fill="#387c8e" shape-rendering="crispEdges"/>
<rect x="67.15" y="560.07" width="9.25" height="4.97" fill="#467183" shape-rendering="crispEdges"/>
<rect x="76.10" y="560.07" width="9.25" height="4.97" fill="#6a566a" shape-rendering="crispEdges"/>
<rect x="85.05" y="560.07" width="9.25" height="4.97" fill="#7b4e60" shape-rendering="crispEdges"/>
<rect x="94.00" y="560.07" width="9.25" height="4.97" fill="#b43640" shape-rendering="crispEdges"/>
<rect x="102.95" y="560.07" width="9.25" height="4.97" fill="#b43640" shape-rendering="crispEdges"/>
<rect x="58.20" y="564.73" width="9.25" height="4.97" fill="#387c8e" shape-rendering="crispEdges"/>
<rect x="67.15" y="564.73" width="9.25" height="4.97" fill="#2b879b" shape-rendering="crispEdges"/>
<rect x="76.10" y="564.73" width="9.25" height="4.97" fill="#546678" shape-rendering="crispEdges"/>
<rect x="85.05" y="564.73" width="9.25" height="4.97" fill="#7b4e60" shape-rendering="crispEdges"/>
<rect x="94.00" y="564.73" width="9.25" height="4.97" fill="#c52f36" shape-rendering="crispEdges"/>
<text x="107.93" y="568.80" font-size="5.6" text-anchor="middle" fill="#3a3a3a" stroke="#3a3a3a" stroke-width="0.35" font-weight="bold" >#</text>
<rect x="58.20" y="571.08" width="9.25" height="4.97" fill="#387c8e" shape-rendering="crispEdges"/>
<rect x="67.15" y="571.08" width="9.25" height="4.97" fill="#467183" shape-rendering="crispEdges"/>
<rect x="76.10" y="571.08" width="9.25" height="4.97" fill="#5f5e71" shape-rendering="crispEdges"/>
<rect x="85.05" y="571.08" width="9.25" height="4.97" fill="#5f5e71" shape-rendering="crispEdges"/>
<rect x="94.00" y="571.08" width="9.25" height="4.97" fill="#6a566a" shape-rendering="crispEdges"/>
<rect x="102.95" y="571.08" width="9.25" height="4.97" fill="#6a566a" shape-rendering="crispEdges"/>
<rect x="58.20" y="575.75" width="9.25" height="4.97" fill="#387c8e" shape-rendering="crispEdges"/>
<rect x="67.15" y="575.75" width="9.25" height="4.97" fill="#546678" shape-rendering="crispEdges"/>
<rect x="76.10" y="575.75" width="9.25" height="4.97" fill="#b43640" shape-rendering="crispEdges"/>
<rect x="85.05" y="575.75" width="9.25" height="4.97" fill="#d6282c" shape-rendering="crispEdges"/>
<rect x="94.00" y="575.75" width="9.25" height="4.97" fill="#e22627" shape-rendering="crispEdges"/>
<rect x="102.95" y="575.75" width="9.25" height="4.97" fill="#ee2422" shape-rendering="crispEdges"/>
<rect x="58.20" y="580.41" width="9.25" height="4.97" fill="#387c8e" shape-rendering="crispEdges"/>
<rect x="67.15" y="580.41" width="9.25" height="4.97" fill="#387c8e" shape-rendering="crispEdges"/>
<rect x="76.10" y="580.41" width="9.25" height="4.97" fill="#6a566a" shape-rendering="crispEdges"/>
<rect x="85.05" y="580.41" width="9.25" height="4.97" fill="#b43640" shape-rendering="crispEdges"/>
<rect x="94.00" y="580.41" width="9.25" height="4.97" fill="#ee2422" shape-rendering="crispEdges"/>
<text x="107.93" y="584.48" font-size="5.6" text-anchor="middle" fill="#3a3a3a" stroke="#3a3a3a" stroke-width="0.35" font-weight="bold" >#</text>
<rect x="58.20" y="586.76" width="9.25" height="4.97" fill="#387c8e" shape-rendering="crispEdges"/>
<rect x="67.15" y="586.76" width="9.25" height="4.97" fill="#467183" shape-rendering="crispEdges"/>
<rect x="76.10" y="586.76" width="9.25" height="4.97" fill="#5f5e71" shape-rendering="crispEdges"/>
<rect x="85.05" y="586.76" width="9.25" height="4.97" fill="#6a566a" shape-rendering="crispEdges"/>
<rect x="94.00" y="586.76" width="9.25" height="4.97" fill="#6a566a" shape-rendering="crispEdges"/>
<rect x="102.95" y="586.76" width="9.25" height="4.97" fill="#7b4e60" shape-rendering="crispEdges"/>
<rect x="58.20" y="591.43" width="9.25" height="4.97" fill="#387c8e" shape-rendering="crispEdges"/>
<rect x="67.15" y="591.43" width="9.25" height="4.97" fill="#5f5e71" shape-rendering="crispEdges"/>
<rect x="76.10" y="591.43" width="9.25" height="4.97" fill="#b43640" shape-rendering="crispEdges"/>
<rect x="85.05" y="591.43" width="9.25" height="4.97" fill="#d6282c" shape-rendering="crispEdges"/>
<rect x="94.00" y="591.43" width="9.25" height="4.97" fill="#ee2422" shape-rendering="crispEdges"/>
<rect x="102.95" y="591.43" width="9.25" height="4.97" fill="#ee2422" shape-rendering="crispEdges"/>
<rect x="58.20" y="596.09" width="9.25" height="4.97" fill="#387c8e" shape-rendering="crispEdges"/>
<rect x="67.15" y="596.09" width="9.25" height="4.97" fill="#467183" shape-rendering="crispEdges"/>
<rect x="76.10" y="596.09" width="9.25" height="4.97" fill="#7b4e60" shape-rendering="crispEdges"/>
<rect x="85.05" y="596.09" width="9.25" height="4.97" fill="#d6282c" shape-rendering="crispEdges"/>
<rect x="94.00" y="596.09" width="9.25" height="4.97" fill="#ee2422" shape-rendering="crispEdges"/>
<text x="107.93" y="600.16" font-size="5.6" text-anchor="middle" fill="#3a3a3a" stroke="#3a3a3a" stroke-width="0.35" font-weight="bold" >#</text>
<text x="62.68" y="475.80" font-size="6.9" text-anchor="middle" fill="#000" stroke="#000" stroke-width="0.1" textLength="7.20" lengthAdjust="spacingAndGlyphs" >d0</text>
<text x="71.62" y="475.80" font-size="6.9" text-anchor="middle" fill="#000" stroke="#000" stroke-width="0.1" textLength="7.20" lengthAdjust="spacingAndGlyphs" >d2</text>
<text x="80.58" y="475.80" font-size="6.9" text-anchor="middle" fill="#000" stroke="#000" stroke-width="0.1" textLength="7.20" lengthAdjust="spacingAndGlyphs" >d4</text>
<text x="89.53" y="475.80" font-size="6.9" text-anchor="middle" fill="#000" stroke="#000" stroke-width="0.1" textLength="7.20" lengthAdjust="spacingAndGlyphs" >d6</text>
<text x="98.48" y="475.80" font-size="6.9" text-anchor="middle" fill="#000" stroke="#000" stroke-width="0.1" textLength="7.20" lengthAdjust="spacingAndGlyphs" >d8</text>
<text x="107.43" y="475.80" font-size="6.9" text-anchor="middle" fill="#000" stroke="#000" stroke-width="0.1" textLength="9.40" lengthAdjust="spacingAndGlyphs" >d10</text>
<rect x="115.50" y="477.00" width="9.25" height="4.97" fill="#387c8e" shape-rendering="crispEdges"/>
<rect x="124.45" y="477.00" width="9.25" height="4.97" fill="#387c8e" shape-rendering="crispEdges"/>
<rect x="133.40" y="477.00" width="9.25" height="4.97" fill="#387c8e" shape-rendering="crispEdges"/>
<rect x="142.35" y="477.00" width="9.25" height="4.97" fill="#387c8e" shape-rendering="crispEdges"/>
<rect x="151.30" y="477.00" width="9.25" height="4.97" fill="#467183" shape-rendering="crispEdges"/>
<rect x="160.25" y="477.00" width="9.25" height="4.97" fill="#467183" shape-rendering="crispEdges"/>
<rect x="115.50" y="481.67" width="9.25" height="4.97" fill="#387c8e" shape-rendering="crispEdges"/>
<rect x="124.45" y="481.67" width="9.25" height="4.97" fill="#387c8e" shape-rendering="crispEdges"/>
<rect x="133.40" y="481.67" width="9.25" height="4.97" fill="#1b97ae" shape-rendering="crispEdges"/>
<rect x="142.35" y="481.67" width="9.25" height="4.97" fill="#189cb4" shape-rendering="crispEdges"/>
<rect x="151.30" y="481.67" width="9.25" height="4.97" fill="#1b97ae" shape-rendering="crispEdges"/>
<rect x="160.25" y="481.67" width="9.25" height="4.97" fill="#1b97ae" shape-rendering="crispEdges"/>
<rect x="115.50" y="486.33" width="9.25" height="4.97" fill="#387c8e" shape-rendering="crispEdges"/>
<rect x="124.45" y="486.33" width="9.25" height="4.97" fill="#387c8e" shape-rendering="crispEdges"/>
<rect x="133.40" y="486.33" width="9.25" height="4.97" fill="#1b97ae" shape-rendering="crispEdges"/>
<rect x="142.35" y="486.33" width="9.25" height="4.97" fill="#1b97ae" shape-rendering="crispEdges"/>
<rect x="151.30" y="486.33" width="9.25" height="4.97" fill="#2b879b" shape-rendering="crispEdges"/>
<rect x="160.25" y="486.33" width="9.25" height="4.97" fill="#2b879b" shape-rendering="crispEdges"/>
<rect x="115.50" y="492.68" width="9.25" height="4.97" fill="#387c8e" shape-rendering="crispEdges"/>
<rect x="124.45" y="492.68" width="9.25" height="4.97" fill="#546678" shape-rendering="crispEdges"/>
<rect x="133.40" y="492.68" width="9.25" height="4.97" fill="#5f5e71" shape-rendering="crispEdges"/>
<rect x="142.35" y="492.68" width="9.25" height="4.97" fill="#5f5e71" shape-rendering="crispEdges"/>
<rect x="151.30" y="492.68" width="9.25" height="4.97" fill="#7b4e60" shape-rendering="crispEdges"/>
<rect x="160.25" y="492.68" width="9.25" height="4.97" fill="#8c4656" shape-rendering="crispEdges"/>
<rect x="115.50" y="497.35" width="9.25" height="4.97" fill="#387c8e" shape-rendering="crispEdges"/>
<rect x="124.45" y="497.35" width="9.25" height="4.97" fill="#546678" shape-rendering="crispEdges"/>
<rect x="133.40" y="497.35" width="9.25" height="4.97" fill="#8c4656" shape-rendering="crispEdges"/>
<rect x="142.35" y="497.35" width="9.25" height="4.97" fill="#b43640" shape-rendering="crispEdges"/>
<rect x="151.30" y="497.35" width="9.25" height="4.97" fill="#e22627" shape-rendering="crispEdges"/>
<rect x="160.25" y="497.35" width="9.25" height="4.97" fill="#ee2422" shape-rendering="crispEdges"/>
<rect x="115.50" y="502.01" width="9.25" height="4.97" fill="#387c8e" shape-rendering="crispEdges"/>
<rect x="124.45" y="502.01" width="9.25" height="4.97" fill="#387c8e" shape-rendering="crispEdges"/>
<rect x="133.40" y="502.01" width="9.25" height="4.97" fill="#5f5e71" shape-rendering="crispEdges"/>
<rect x="142.35" y="502.01" width="9.25" height="4.97" fill="#8c4656" shape-rendering="crispEdges"/>
<rect x="151.30" y="502.01" width="9.25" height="4.97" fill="#e22627" shape-rendering="crispEdges"/>
<rect x="160.25" y="502.01" width="9.25" height="4.97" fill="#e22627" shape-rendering="crispEdges"/>
<rect x="115.50" y="508.36" width="9.25" height="4.97" fill="#387c8e" shape-rendering="crispEdges"/>
<rect x="124.45" y="508.36" width="9.25" height="4.97" fill="#467183" shape-rendering="crispEdges"/>
<rect x="133.40" y="508.36" width="9.25" height="4.97" fill="#546678" shape-rendering="crispEdges"/>
<rect x="142.35" y="508.36" width="9.25" height="4.97" fill="#546678" shape-rendering="crispEdges"/>
<rect x="151.30" y="508.36" width="9.25" height="4.97" fill="#5f5e71" shape-rendering="crispEdges"/>
<rect x="160.25" y="508.36" width="9.25" height="4.97" fill="#5f5e71" shape-rendering="crispEdges"/>
<rect x="115.50" y="513.03" width="9.25" height="4.97" fill="#387c8e" shape-rendering="crispEdges"/>
<rect x="124.45" y="513.03" width="9.25" height="4.97" fill="#546678" shape-rendering="crispEdges"/>
<rect x="133.40" y="513.03" width="9.25" height="4.97" fill="#7b4e60" shape-rendering="crispEdges"/>
<rect x="142.35" y="513.03" width="9.25" height="4.97" fill="#b43640" shape-rendering="crispEdges"/>
<rect x="151.30" y="513.03" width="9.25" height="4.97" fill="#e22627" shape-rendering="crispEdges"/>
<rect x="160.25" y="513.03" width="9.25" height="4.97" fill="#ee2422" shape-rendering="crispEdges"/>
<rect x="115.50" y="517.69" width="9.25" height="4.97" fill="#387c8e" shape-rendering="crispEdges"/>
<rect x="124.45" y="517.69" width="9.25" height="4.97" fill="#2b879b" shape-rendering="crispEdges"/>
<rect x="133.40" y="517.69" width="9.25" height="4.97" fill="#5f5e71" shape-rendering="crispEdges"/>
<rect x="142.35" y="517.69" width="9.25" height="4.97" fill="#8c4656" shape-rendering="crispEdges"/>
<rect x="151.30" y="517.69" width="9.25" height="4.97" fill="#e22627" shape-rendering="crispEdges"/>
<rect x="160.25" y="517.69" width="9.25" height="4.97" fill="#ee2422" shape-rendering="crispEdges"/>
<rect x="115.50" y="524.04" width="9.25" height="4.97" fill="#387c8e" shape-rendering="crispEdges"/>
<rect x="124.45" y="524.04" width="9.25" height="4.97" fill="#467183" shape-rendering="crispEdges"/>
<rect x="133.40" y="524.04" width="9.25" height="4.97" fill="#5f5e71" shape-rendering="crispEdges"/>
<rect x="142.35" y="524.04" width="9.25" height="4.97" fill="#5f5e71" shape-rendering="crispEdges"/>
<rect x="151.30" y="524.04" width="9.25" height="4.97" fill="#6a566a" shape-rendering="crispEdges"/>
<rect x="160.25" y="524.04" width="9.25" height="4.97" fill="#6a566a" shape-rendering="crispEdges"/>
<rect x="115.50" y="528.71" width="9.25" height="4.97" fill="#387c8e" shape-rendering="crispEdges"/>
<rect x="124.45" y="528.71" width="9.25" height="4.97" fill="#5f5e71" shape-rendering="crispEdges"/>
<rect x="133.40" y="528.71" width="9.25" height="4.97" fill="#a03e4b" shape-rendering="crispEdges"/>
<rect x="142.35" y="528.71" width="9.25" height="4.97" fill="#d6282c" shape-rendering="crispEdges"/>
<rect x="151.30" y="528.71" width="9.25" height="4.97" fill="#ee2422" shape-rendering="crispEdges"/>
<rect x="160.25" y="528.71" width="9.25" height="4.97" fill="#ee2422" shape-rendering="crispEdges"/>
<rect x="115.50" y="533.37" width="9.25" height="4.97" fill="#387c8e" shape-rendering="crispEdges"/>
<rect x="124.45" y="533.37" width="9.25" height="4.97" fill="#2b879b" shape-rendering="crispEdges"/>
<rect x="133.40" y="533.37" width="9.25" height="4.97" fill="#5f5e71" shape-rendering="crispEdges"/>
<rect x="142.35" y="533.37" width="9.25" height="4.97" fill="#8c4656" shape-rendering="crispEdges"/>
<rect x="151.30" y="533.37" width="9.25" height="4.97" fill="#c52f36" shape-rendering="crispEdges"/>
<rect x="160.25" y="533.37" width="9.25" height="4.97" fill="#d6282c" shape-rendering="crispEdges"/>
<rect x="115.50" y="539.72" width="9.25" height="4.97" fill="#387c8e" shape-rendering="crispEdges"/>
<rect x="124.45" y="539.72" width="9.25" height="4.97" fill="#546678" shape-rendering="crispEdges"/>
<rect x="133.40" y="539.72" width="9.25" height="4.97" fill="#5f5e71" shape-rendering="crispEdges"/>
<rect x="142.35" y="539.72" width="9.25" height="4.97" fill="#5f5e71" shape-rendering="crispEdges"/>
<rect x="151.30" y="539.72" width="9.25" height="4.97" fill="#6a566a" shape-rendering="crispEdges"/>
<rect x="160.25" y="539.72" width="9.25" height="4.97" fill="#7b4e60" shape-rendering="crispEdges"/>
<rect x="115.50" y="544.39" width="9.25" height="4.97" fill="#387c8e" shape-rendering="crispEdges"/>
<rect x="124.45" y="544.39" width="9.25" height="4.97" fill="#5f5e71" shape-rendering="crispEdges"/>
<rect x="133.40" y="544.39" width="9.25" height="4.97" fill="#b43640" shape-rendering="crispEdges"/>
<rect x="142.35" y="544.39" width="9.25" height="4.97" fill="#d6282c" shape-rendering="crispEdges"/>
<rect x="151.30" y="544.39" width="9.25" height="4.97" fill="#ee2422" shape-rendering="crispEdges"/>
<rect x="160.25" y="544.39" width="9.25" height="4.97" fill="#ee2422" shape-rendering="crispEdges"/>
<rect x="115.50" y="549.05" width="9.25" height="4.97" fill="#387c8e" shape-rendering="crispEdges"/>
<rect x="124.45" y="549.05" width="9.25" height="4.97" fill="#467183" shape-rendering="crispEdges"/>
<rect x="133.40" y="549.05" width="9.25" height="4.97" fill="#6a566a" shape-rendering="crispEdges"/>
<rect x="142.35" y="549.05" width="9.25" height="4.97" fill="#a03e4b" shape-rendering="crispEdges"/>
<rect x="151.30" y="549.05" width="9.25" height="4.97" fill="#ee2422" shape-rendering="crispEdges"/>
<rect x="160.25" y="549.05" width="9.25" height="4.97" fill="#ee2422" shape-rendering="crispEdges"/>
<rect x="115.50" y="555.40" width="9.25" height="4.97" fill="#387c8e" shape-rendering="crispEdges"/>
<rect x="124.45" y="555.40" width="9.25" height="4.97" fill="#387c8e" shape-rendering="crispEdges"/>
<rect x="133.40" y="555.40" width="9.25" height="4.97" fill="#2b879b" shape-rendering="crispEdges"/>
<rect x="142.35" y="555.40" width="9.25" height="4.97" fill="#2b879b" shape-rendering="crispEdges"/>
<rect x="151.30" y="555.40" width="9.25" height="4.97" fill="#2b879b" shape-rendering="crispEdges"/>
<rect x="160.25" y="555.40" width="9.25" height="4.97" fill="#1e92a8" shape-rendering="crispEdges"/>
<rect x="115.50" y="560.07" width="9.25" height="4.97" fill="#387c8e" shape-rendering="crispEdges"/>
<rect x="124.45" y="560.07" width="9.25" height="4.97" fill="#546678" shape-rendering="crispEdges"/>
<rect x="133.40" y="560.07" width="9.25" height="4.97" fill="#6a566a" shape-rendering="crispEdges"/>
<rect x="142.35" y="560.07" width="9.25" height="4.97" fill="#8c4656" shape-rendering="crispEdges"/>
<rect x="151.30" y="560.07" width="9.25" height="4.97" fill="#c52f36" shape-rendering="crispEdges"/>
<rect x="160.25" y="560.07" width="9.25" height="4.97" fill="#c52f36" shape-rendering="crispEdges"/>
<rect x="115.50" y="564.73" width="9.25" height="4.97" fill="#387c8e" shape-rendering="crispEdges"/>
<rect x="124.45" y="564.73" width="9.25" height="4.97" fill="#1e92a8" shape-rendering="crispEdges"/>
<rect x="133.40" y="564.73" width="9.25" height="4.97" fill="#546678" shape-rendering="crispEdges"/>
<rect x="142.35" y="564.73" width="9.25" height="4.97" fill="#7b4e60" shape-rendering="crispEdges"/>
<rect x="151.30" y="564.73" width="9.25" height="4.97" fill="#c52f36" shape-rendering="crispEdges"/>
<rect x="160.25" y="564.73" width="9.25" height="4.97" fill="#c52f36" shape-rendering="crispEdges"/>
<rect x="115.50" y="571.08" width="9.25" height="4.97" fill="#387c8e" shape-rendering="crispEdges"/>
<rect x="124.45" y="571.08" width="9.25" height="4.97" fill="#467183" shape-rendering="crispEdges"/>
<rect x="133.40" y="571.08" width="9.25" height="4.97" fill="#5f5e71" shape-rendering="crispEdges"/>
<rect x="142.35" y="571.08" width="9.25" height="4.97" fill="#5f5e71" shape-rendering="crispEdges"/>
<rect x="151.30" y="571.08" width="9.25" height="4.97" fill="#6a566a" shape-rendering="crispEdges"/>
<rect x="160.25" y="571.08" width="9.25" height="4.97" fill="#6a566a" shape-rendering="crispEdges"/>
<rect x="115.50" y="575.75" width="9.25" height="4.97" fill="#387c8e" shape-rendering="crispEdges"/>
<rect x="124.45" y="575.75" width="9.25" height="4.97" fill="#5f5e71" shape-rendering="crispEdges"/>
<rect x="133.40" y="575.75" width="9.25" height="4.97" fill="#b43640" shape-rendering="crispEdges"/>
<rect x="142.35" y="575.75" width="9.25" height="4.97" fill="#d6282c" shape-rendering="crispEdges"/>
<rect x="151.30" y="575.75" width="9.25" height="4.97" fill="#ee2422" shape-rendering="crispEdges"/>
<rect x="160.25" y="575.75" width="9.25" height="4.97" fill="#ee2422" shape-rendering="crispEdges"/>
<rect x="115.50" y="580.41" width="9.25" height="4.97" fill="#387c8e" shape-rendering="crispEdges"/>
<rect x="124.45" y="580.41" width="9.25" height="4.97" fill="#2b879b" shape-rendering="crispEdges"/>
<rect x="133.40" y="580.41" width="9.25" height="4.97" fill="#6a566a" shape-rendering="crispEdges"/>
<rect x="142.35" y="580.41" width="9.25" height="4.97" fill="#b43640" shape-rendering="crispEdges"/>
<rect x="151.30" y="580.41" width="9.25" height="4.97" fill="#ee2422" shape-rendering="crispEdges"/>
<rect x="160.25" y="580.41" width="9.25" height="4.97" fill="#ee2422" shape-rendering="crispEdges"/>
<rect x="115.50" y="586.76" width="9.25" height="4.97" fill="#387c8e" shape-rendering="crispEdges"/>
<rect x="124.45" y="586.76" width="9.25" height="4.97" fill="#467183" shape-rendering="crispEdges"/>
<rect x="133.40" y="586.76" width="9.25" height="4.97" fill="#5f5e71" shape-rendering="crispEdges"/>
<rect x="142.35" y="586.76" width="9.25" height="4.97" fill="#6a566a" shape-rendering="crispEdges"/>
<rect x="151.30" y="586.76" width="9.25" height="4.97" fill="#7b4e60" shape-rendering="crispEdges"/>
<rect x="160.25" y="586.76" width="9.25" height="4.97" fill="#7b4e60" shape-rendering="crispEdges"/>
<rect x="115.50" y="591.43" width="9.25" height="4.97" fill="#387c8e" shape-rendering="crispEdges"/>
<rect x="124.45" y="591.43" width="9.25" height="4.97" fill="#5f5e71" shape-rendering="crispEdges"/>
<rect x="133.40" y="591.43" width="9.25" height="4.97" fill="#b43640" shape-rendering="crispEdges"/>
<rect x="142.35" y="591.43" width="9.25" height="4.97" fill="#d6282c" shape-rendering="crispEdges"/>
<rect x="151.30" y="591.43" width="9.25" height="4.97" fill="#ee2422" shape-rendering="crispEdges"/>
<rect x="160.25" y="591.43" width="9.25" height="4.97" fill="#ee2422" shape-rendering="crispEdges"/>
<rect x="115.50" y="596.09" width="9.25" height="4.97" fill="#387c8e" shape-rendering="crispEdges"/>
<rect x="124.45" y="596.09" width="9.25" height="4.97" fill="#387c8e" shape-rendering="crispEdges"/>
<rect x="133.40" y="596.09" width="9.25" height="4.97" fill="#6a566a" shape-rendering="crispEdges"/>
<rect x="142.35" y="596.09" width="9.25" height="4.97" fill="#b43640" shape-rendering="crispEdges"/>
<rect x="151.30" y="596.09" width="9.25" height="4.97" fill="#ee2422" shape-rendering="crispEdges"/>
<rect x="160.25" y="596.09" width="9.25" height="4.97" fill="#ee2422" shape-rendering="crispEdges"/>
<text x="119.97" y="475.80" font-size="6.9" text-anchor="middle" fill="#000" stroke="#000" stroke-width="0.1" textLength="7.20" lengthAdjust="spacingAndGlyphs" >d0</text>
<text x="128.93" y="475.80" font-size="6.9" text-anchor="middle" fill="#000" stroke="#000" stroke-width="0.1" textLength="7.20" lengthAdjust="spacingAndGlyphs" >d2</text>
<text x="137.88" y="475.80" font-size="6.9" text-anchor="middle" fill="#000" stroke="#000" stroke-width="0.1" textLength="7.20" lengthAdjust="spacingAndGlyphs" >d4</text>
<text x="146.82" y="475.80" font-size="6.9" text-anchor="middle" fill="#000" stroke="#000" stroke-width="0.1" textLength="7.20" lengthAdjust="spacingAndGlyphs" >d6</text>
<text x="155.78" y="475.80" font-size="6.9" text-anchor="middle" fill="#000" stroke="#000" stroke-width="0.1" textLength="7.20" lengthAdjust="spacingAndGlyphs" >d8</text>
<text x="164.73" y="475.80" font-size="6.9" text-anchor="middle" fill="#000" stroke="#000" stroke-width="0.1" textLength="9.40" lengthAdjust="spacingAndGlyphs" >d10</text>
<rect x="172.80" y="477.00" width="9.25" height="4.97" fill="#1e92a8" shape-rendering="crispEdges"/>
<rect x="181.75" y="477.00" width="9.25" height="4.97" fill="#2b879b" shape-rendering="crispEdges"/>
<rect x="190.70" y="477.00" width="9.25" height="4.97" fill="#2b879b" shape-rendering="crispEdges"/>
<rect x="199.65" y="477.00" width="9.25" height="4.97" fill="#387c8e" shape-rendering="crispEdges"/>
<rect x="208.60" y="477.00" width="9.25" height="4.97" fill="#467183" shape-rendering="crispEdges"/>
<rect x="217.55" y="477.00" width="9.25" height="4.97" fill="#467183" shape-rendering="crispEdges"/>
<rect x="172.80" y="481.67" width="9.25" height="4.97" fill="#1e92a8" shape-rendering="crispEdges"/>
<rect x="181.75" y="481.67" width="9.25" height="4.97" fill="#2b879b" shape-rendering="crispEdges"/>
<rect x="190.70" y="481.67" width="9.25" height="4.97" fill="#1b97ae" shape-rendering="crispEdges"/>
<rect x="199.65" y="481.67" width="9.25" height="4.97" fill="#189cb4" shape-rendering="crispEdges"/>
<rect x="208.60" y="481.67" width="9.25" height="4.97" fill="#1b97ae" shape-rendering="crispEdges"/>
<rect x="217.55" y="481.67" width="9.25" height="4.97" fill="#1b97ae" shape-rendering="crispEdges"/>
<rect x="172.80" y="486.33" width="9.25" height="4.97" fill="#1e92a8" shape-rendering="crispEdges"/>
<rect x="181.75" y="486.33" width="9.25" height="4.97" fill="#1e92a8" shape-rendering="crispEdges"/>
<rect x="190.70" y="486.33" width="9.25" height="4.97" fill="#2b879b" shape-rendering="crispEdges"/>
<rect x="199.65" y="486.33" width="9.25" height="4.97" fill="#2b879b" shape-rendering="crispEdges"/>
<rect x="208.60" y="486.33" width="9.25" height="4.97" fill="#1b97ae" shape-rendering="crispEdges"/>
<rect x="217.55" y="486.33" width="9.25" height="4.97" fill="#1b97ae" shape-rendering="crispEdges"/>
<rect x="172.80" y="492.68" width="9.25" height="4.97" fill="#1e92a8" shape-rendering="crispEdges"/>
<rect x="181.75" y="492.68" width="9.25" height="4.97" fill="#467183" shape-rendering="crispEdges"/>
<rect x="190.70" y="492.68" width="9.25" height="4.97" fill="#546678" shape-rendering="crispEdges"/>
<rect x="199.65" y="492.68" width="9.25" height="4.97" fill="#5f5e71" shape-rendering="crispEdges"/>
<rect x="208.60" y="492.68" width="9.25" height="4.97" fill="#6a566a" shape-rendering="crispEdges"/>
<rect x="217.55" y="492.68" width="9.25" height="4.97" fill="#7b4e60" shape-rendering="crispEdges"/>
<rect x="172.80" y="497.35" width="9.25" height="4.97" fill="#1e92a8" shape-rendering="crispEdges"/>
<rect x="181.75" y="497.35" width="9.25" height="4.97" fill="#546678" shape-rendering="crispEdges"/>
<rect x="190.70" y="497.35" width="9.25" height="4.97" fill="#8c4656" shape-rendering="crispEdges"/>
<rect x="199.65" y="497.35" width="9.25" height="4.97" fill="#c52f36" shape-rendering="crispEdges"/>
<rect x="208.60" y="497.35" width="9.25" height="4.97" fill="#d6282c" shape-rendering="crispEdges"/>
<rect x="217.55" y="497.35" width="9.25" height="4.97" fill="#e22627" shape-rendering="crispEdges"/>
<rect x="172.80" y="502.01" width="9.25" height="4.97" fill="#1e92a8" shape-rendering="crispEdges"/>
<rect x="181.75" y="502.01" width="9.25" height="4.97" fill="#5f5e71" shape-rendering="crispEdges"/>
<rect x="190.70" y="502.01" width="9.25" height="4.97" fill="#b43640" shape-rendering="crispEdges"/>
<rect x="199.65" y="502.01" width="9.25" height="4.97" fill="#e22627" shape-rendering="crispEdges"/>
<rect x="208.60" y="502.01" width="9.25" height="4.97" fill="#ee2422" shape-rendering="crispEdges"/>
<rect x="217.55" y="502.01" width="9.25" height="4.97" fill="#ee2422" shape-rendering="crispEdges"/>
<rect x="172.80" y="508.36" width="9.25" height="4.97" fill="#1e92a8" shape-rendering="crispEdges"/>
<rect x="181.75" y="508.36" width="9.25" height="4.97" fill="#467183" shape-rendering="crispEdges"/>
<rect x="190.70" y="508.36" width="9.25" height="4.97" fill="#546678" shape-rendering="crispEdges"/>
<rect x="199.65" y="508.36" width="9.25" height="4.97" fill="#5f5e71" shape-rendering="crispEdges"/>
<rect x="208.60" y="508.36" width="9.25" height="4.97" fill="#5f5e71" shape-rendering="crispEdges"/>
<rect x="217.55" y="508.36" width="9.25" height="4.97" fill="#6a566a" shape-rendering="crispEdges"/>
<rect x="172.80" y="513.03" width="9.25" height="4.97" fill="#1e92a8" shape-rendering="crispEdges"/>
<rect x="181.75" y="513.03" width="9.25" height="4.97" fill="#467183" shape-rendering="crispEdges"/>
<rect x="190.70" y="513.03" width="9.25" height="4.97" fill="#7b4e60" shape-rendering="crispEdges"/>
<rect x="199.65" y="513.03" width="9.25" height="4.97" fill="#a03e4b" shape-rendering="crispEdges"/>
<rect x="208.60" y="513.03" width="9.25" height="4.97" fill="#b43640" shape-rendering="crispEdges"/>
<rect x="217.55" y="513.03" width="9.25" height="4.97" fill="#b43640" shape-rendering="crispEdges"/>
<rect x="172.80" y="517.69" width="9.25" height="4.97" fill="#1e92a8" shape-rendering="crispEdges"/>
<rect x="181.75" y="517.69" width="9.25" height="4.97" fill="#5f5e71" shape-rendering="crispEdges"/>
<rect x="190.70" y="517.69" width="9.25" height="4.97" fill="#a03e4b" shape-rendering="crispEdges"/>
<rect x="199.65" y="517.69" width="9.25" height="4.97" fill="#b43640" shape-rendering="crispEdges"/>
<rect x="208.60" y="517.69" width="9.25" height="4.97" fill="#b43640" shape-rendering="crispEdges"/>
<rect x="217.55" y="517.69" width="9.25" height="4.97" fill="#b43640" shape-rendering="crispEdges"/>
<rect x="172.80" y="524.04" width="9.25" height="4.97" fill="#1e92a8" shape-rendering="crispEdges"/>
<rect x="181.75" y="524.04" width="9.25" height="4.97" fill="#467183" shape-rendering="crispEdges"/>
<rect x="190.70" y="524.04" width="9.25" height="4.97" fill="#546678" shape-rendering="crispEdges"/>
<rect x="199.65" y="524.04" width="9.25" height="4.97" fill="#5f5e71" shape-rendering="crispEdges"/>
<rect x="208.60" y="524.04" width="9.25" height="4.97" fill="#6a566a" shape-rendering="crispEdges"/>
<rect x="217.55" y="524.04" width="9.25" height="4.97" fill="#7b4e60" shape-rendering="crispEdges"/>
<rect x="172.80" y="528.71" width="9.25" height="4.97" fill="#1e92a8" shape-rendering="crispEdges"/>
<rect x="181.75" y="528.71" width="9.25" height="4.97" fill="#546678" shape-rendering="crispEdges"/>
<rect x="190.70" y="528.71" width="9.25" height="4.97" fill="#7b4e60" shape-rendering="crispEdges"/>
<rect x="199.65" y="528.71" width="9.25" height="4.97" fill="#b43640" shape-rendering="crispEdges"/>
<rect x="208.60" y="528.71" width="9.25" height="4.97" fill="#c52f36" shape-rendering="crispEdges"/>
<rect x="217.55" y="528.71" width="9.25" height="4.97" fill="#e22627" shape-rendering="crispEdges"/>
<rect x="172.80" y="533.37" width="9.25" height="4.97" fill="#1e92a8" shape-rendering="crispEdges"/>
<rect x="181.75" y="533.37" width="9.25" height="4.97" fill="#5f5e71" shape-rendering="crispEdges"/>
<rect x="190.70" y="533.37" width="9.25" height="4.97" fill="#b43640" shape-rendering="crispEdges"/>
<rect x="199.65" y="533.37" width="9.25" height="4.97" fill="#e22627" shape-rendering="crispEdges"/>
<rect x="208.60" y="533.37" width="9.25" height="4.97" fill="#ee2422" shape-rendering="crispEdges"/>
<rect x="217.55" y="533.37" width="9.25" height="4.97" fill="#ee2422" shape-rendering="crispEdges"/>
<rect x="172.80" y="539.72" width="9.25" height="4.97" fill="#1e92a8" shape-rendering="crispEdges"/>
<rect x="181.75" y="539.72" width="9.25" height="4.97" fill="#467183" shape-rendering="crispEdges"/>
<rect x="190.70" y="539.72" width="9.25" height="4.97" fill="#546678" shape-rendering="crispEdges"/>
<rect x="199.65" y="539.72" width="9.25" height="4.97" fill="#5f5e71" shape-rendering="crispEdges"/>
<rect x="208.60" y="539.72" width="9.25" height="4.97" fill="#6a566a" shape-rendering="crispEdges"/>
<rect x="217.55" y="539.72" width="9.25" height="4.97" fill="#7b4e60" shape-rendering="crispEdges"/>
<rect x="172.80" y="544.39" width="9.25" height="4.97" fill="#1e92a8" shape-rendering="crispEdges"/>
<rect x="181.75" y="544.39" width="9.25" height="4.97" fill="#467183" shape-rendering="crispEdges"/>
<rect x="190.70" y="544.39" width="9.25" height="4.97" fill="#7b4e60" shape-rendering="crispEdges"/>
<rect x="199.65" y="544.39" width="9.25" height="4.97" fill="#c52f36" shape-rendering="crispEdges"/>
<rect x="208.60" y="544.39" width="9.25" height="4.97" fill="#e22627" shape-rendering="crispEdges"/>
<rect x="217.55" y="544.39" width="9.25" height="4.97" fill="#ee2422" shape-rendering="crispEdges"/>
<rect x="172.80" y="549.05" width="9.25" height="4.97" fill="#1e92a8" shape-rendering="crispEdges"/>
<rect x="181.75" y="549.05" width="9.25" height="4.97" fill="#5f5e71" shape-rendering="crispEdges"/>
<rect x="190.70" y="549.05" width="9.25" height="4.97" fill="#b43640" shape-rendering="crispEdges"/>
<rect x="199.65" y="549.05" width="9.25" height="4.97" fill="#e22627" shape-rendering="crispEdges"/>
<rect x="208.60" y="549.05" width="9.25" height="4.97" fill="#e22627" shape-rendering="crispEdges"/>
<rect x="217.55" y="549.05" width="9.25" height="4.97" fill="#e22627" shape-rendering="crispEdges"/>
<rect x="172.80" y="555.40" width="9.25" height="4.97" fill="#1e92a8" shape-rendering="crispEdges"/>
<rect x="181.75" y="555.40" width="9.25" height="4.97" fill="#1e92a8" shape-rendering="crispEdges"/>
<rect x="190.70" y="555.40" width="9.25" height="4.97" fill="#1e92a8" shape-rendering="crispEdges"/>
<rect x="199.65" y="555.40" width="9.25" height="4.97" fill="#1e92a8" shape-rendering="crispEdges"/>
<rect x="208.60" y="555.40" width="9.25" height="4.97" fill="#2b879b" shape-rendering="crispEdges"/>
<rect x="217.55" y="555.40" width="9.25" height="4.97" fill="#2b879b" shape-rendering="crispEdges"/>
<rect x="172.80" y="560.07" width="9.25" height="4.97" fill="#1e92a8" shape-rendering="crispEdges"/>
<rect x="181.75" y="560.07" width="9.25" height="4.97" fill="#387c8e" shape-rendering="crispEdges"/>
<rect x="190.70" y="560.07" width="9.25" height="4.97" fill="#467183" shape-rendering="crispEdges"/>
<rect x="199.65" y="560.07" width="9.25" height="4.97" fill="#546678" shape-rendering="crispEdges"/>
<rect x="208.60" y="560.07" width="9.25" height="4.97" fill="#5f5e71" shape-rendering="crispEdges"/>
<rect x="217.55" y="560.07" width="9.25" height="4.97" fill="#6a566a" shape-rendering="crispEdges"/>
<rect x="172.80" y="564.73" width="9.25" height="4.97" fill="#1e92a8" shape-rendering="crispEdges"/>
<rect x="181.75" y="564.73" width="9.25" height="4.97" fill="#467183" shape-rendering="crispEdges"/>
<rect x="190.70" y="564.73" width="9.25" height="4.97" fill="#5f5e71" shape-rendering="crispEdges"/>
<rect x="199.65" y="564.73" width="9.25" height="4.97" fill="#6a566a" shape-rendering="crispEdges"/>
<rect x="208.60" y="564.73" width="9.25" height="4.97" fill="#7b4e60" shape-rendering="crispEdges"/>
<rect x="217.55" y="564.73" width="9.25" height="4.97" fill="#8c4656" shape-rendering="crispEdges"/>
<rect x="172.80" y="571.08" width="9.25" height="4.97" fill="#1e92a8" shape-rendering="crispEdges"/>
<rect x="181.75" y="571.08" width="9.25" height="4.97" fill="#387c8e" shape-rendering="crispEdges"/>
<rect x="190.70" y="571.08" width="9.25" height="4.97" fill="#467183" shape-rendering="crispEdges"/>
<rect x="199.65" y="571.08" width="9.25" height="4.97" fill="#546678" shape-rendering="crispEdges"/>
<rect x="208.60" y="571.08" width="9.25" height="4.97" fill="#5f5e71" shape-rendering="crispEdges"/>
<rect x="217.55" y="571.08" width="9.25" height="4.97" fill="#6a566a" shape-rendering="crispEdges"/>
<rect x="172.80" y="575.75" width="9.25" height="4.97" fill="#1e92a8" shape-rendering="crispEdges"/>
<rect x="181.75" y="575.75" width="9.25" height="4.97" fill="#546678" shape-rendering="crispEdges"/>
<rect x="190.70" y="575.75" width="9.25" height="4.97" fill="#8c4656" shape-rendering="crispEdges"/>
<rect x="199.65" y="575.75" width="9.25" height="4.97" fill="#b43640" shape-rendering="crispEdges"/>
<rect x="208.60" y="575.75" width="9.25" height="4.97" fill="#c52f36" shape-rendering="crispEdges"/>
<rect x="217.55" y="575.75" width="9.25" height="4.97" fill="#d6282c" shape-rendering="crispEdges"/>
<rect x="172.80" y="580.41" width="9.25" height="4.97" fill="#1e92a8" shape-rendering="crispEdges"/>
<rect x="181.75" y="580.41" width="9.25" height="4.97" fill="#5f5e71" shape-rendering="crispEdges"/>
<rect x="190.70" y="580.41" width="9.25" height="4.97" fill="#b43640" shape-rendering="crispEdges"/>
<rect x="199.65" y="580.41" width="9.25" height="4.97" fill="#e22627" shape-rendering="crispEdges"/>
<rect x="208.60" y="580.41" width="9.25" height="4.97" fill="#ee2422" shape-rendering="crispEdges"/>
<rect x="217.55" y="580.41" width="9.25" height="4.97" fill="#ee2422" shape-rendering="crispEdges"/>
<rect x="172.80" y="586.76" width="9.25" height="4.97" fill="#1e92a8" shape-rendering="crispEdges"/>
<rect x="181.75" y="586.76" width="9.25" height="4.97" fill="#387c8e" shape-rendering="crispEdges"/>
<rect x="190.70" y="586.76" width="9.25" height="4.97" fill="#467183" shape-rendering="crispEdges"/>
<rect x="199.65" y="586.76" width="9.25" height="4.97" fill="#546678" shape-rendering="crispEdges"/>
<rect x="208.60" y="586.76" width="9.25" height="4.97" fill="#5f5e71" shape-rendering="crispEdges"/>
<rect x="217.55" y="586.76" width="9.25" height="4.97" fill="#6a566a" shape-rendering="crispEdges"/>
<rect x="172.80" y="591.43" width="9.25" height="4.97" fill="#1e92a8" shape-rendering="crispEdges"/>
<rect x="181.75" y="591.43" width="9.25" height="4.97" fill="#467183" shape-rendering="crispEdges"/>
<rect x="190.70" y="591.43" width="9.25" height="4.97" fill="#6a566a" shape-rendering="crispEdges"/>
<rect x="199.65" y="591.43" width="9.25" height="4.97" fill="#a03e4b" shape-rendering="crispEdges"/>
<rect x="208.60" y="591.43" width="9.25" height="4.97" fill="#c52f36" shape-rendering="crispEdges"/>
<rect x="217.55" y="591.43" width="9.25" height="4.97" fill="#c52f36" shape-rendering="crispEdges"/>
<rect x="172.80" y="596.09" width="9.25" height="4.97" fill="#1e92a8" shape-rendering="crispEdges"/>
<rect x="181.75" y="596.09" width="9.25" height="4.97" fill="#546678" shape-rendering="crispEdges"/>
<rect x="190.70" y="596.09" width="9.25" height="4.97" fill="#7b4e60" shape-rendering="crispEdges"/>
<rect x="199.65" y="596.09" width="9.25" height="4.97" fill="#c52f36" shape-rendering="crispEdges"/>
<rect x="208.60" y="596.09" width="9.25" height="4.97" fill="#e22627" shape-rendering="crispEdges"/>
<rect x="217.55" y="596.09" width="9.25" height="4.97" fill="#e22627" shape-rendering="crispEdges"/>
<text x="177.28" y="475.80" font-size="6.9" text-anchor="middle" fill="#000" stroke="#000" stroke-width="0.1" textLength="7.20" lengthAdjust="spacingAndGlyphs" >d0</text>
<text x="186.23" y="475.80" font-size="6.9" text-anchor="middle" fill="#000" stroke="#000" stroke-width="0.1" textLength="7.20" lengthAdjust="spacingAndGlyphs" >d2</text>
<text x="195.18" y="475.80" font-size="6.9" text-anchor="middle" fill="#000" stroke="#000" stroke-width="0.1" textLength="7.20" lengthAdjust="spacingAndGlyphs" >d4</text>
<text x="204.12" y="475.80" font-size="6.9" text-anchor="middle" fill="#000" stroke="#000" stroke-width="0.1" textLength="7.20" lengthAdjust="spacingAndGlyphs" >d6</text>
<text x="213.08" y="475.80" font-size="6.9" text-anchor="middle" fill="#000" stroke="#000" stroke-width="0.1" textLength="7.20" lengthAdjust="spacingAndGlyphs" >d8</text>
<text x="222.03" y="475.80" font-size="6.9" text-anchor="middle" fill="#000" stroke="#000" stroke-width="0.1" textLength="9.40" lengthAdjust="spacingAndGlyphs" >d10</text>
<rect x="251.20" y="477.00" width="9.25" height="4.97" fill="#2b879b" shape-rendering="crispEdges"/>
<rect x="260.15" y="477.00" width="9.25" height="4.97" fill="#2b879b" shape-rendering="crispEdges"/>
<rect x="269.10" y="477.00" width="9.25" height="4.97" fill="#2b879b" shape-rendering="crispEdges"/>
<rect x="278.05" y="477.00" width="9.25" height="4.97" fill="#387c8e" shape-rendering="crispEdges"/>
<rect x="287.00" y="477.00" width="9.25" height="4.97" fill="#467183" shape-rendering="crispEdges"/>
<rect x="295.95" y="477.00" width="9.25" height="4.97" fill="#467183" shape-rendering="crispEdges"/>
<rect x="251.20" y="481.67" width="9.25" height="4.97" fill="#1e92a8" shape-rendering="crispEdges"/>
<rect x="260.15" y="481.67" width="9.25" height="4.97" fill="#1e92a8" shape-rendering="crispEdges"/>
<rect x="269.10" y="481.67" width="9.25" height="4.97" fill="#1e92a8" shape-rendering="crispEdges"/>
<rect x="278.05" y="481.67" width="9.25" height="4.97" fill="#1e92a8" shape-rendering="crispEdges"/>
<rect x="287.00" y="481.67" width="9.25" height="4.97" fill="#1b97ae" shape-rendering="crispEdges"/>
<rect x="295.95" y="481.67" width="9.25" height="4.97" fill="#1b97ae" shape-rendering="crispEdges"/>
<rect x="251.20" y="486.33" width="9.25" height="4.97" fill="#1e92a8" shape-rendering="crispEdges"/>
<rect x="260.15" y="486.33" width="9.25" height="4.97" fill="#1e92a8" shape-rendering="crispEdges"/>
<rect x="269.10" y="486.33" width="9.25" height="4.97" fill="#1e92a8" shape-rendering="crispEdges"/>
<rect x="278.05" y="486.33" width="9.25" height="4.97" fill="#2b879b" shape-rendering="crispEdges"/>
<rect x="287.00" y="486.33" width="9.25" height="4.97" fill="#1b97ae" shape-rendering="crispEdges"/>
<rect x="295.95" y="486.33" width="9.25" height="4.97" fill="#1b97ae" shape-rendering="crispEdges"/>
<rect x="251.20" y="492.68" width="9.25" height="4.97" fill="#1e92a8" shape-rendering="crispEdges"/>
<rect x="260.15" y="492.68" width="9.25" height="4.97" fill="#387c8e" shape-rendering="crispEdges"/>
<rect x="269.10" y="492.68" width="9.25" height="4.97" fill="#467183" shape-rendering="crispEdges"/>
<rect x="278.05" y="492.68" width="9.25" height="4.97" fill="#546678" shape-rendering="crispEdges"/>
<rect x="287.00" y="492.68" width="9.25" height="4.97" fill="#5f5e71" shape-rendering="crispEdges"/>
<rect x="295.95" y="492.68" width="9.25" height="4.97" fill="#6a566a" shape-rendering="crispEdges"/>
<rect x="251.20" y="497.35" width="9.25" height="4.97" fill="#1e92a8" shape-rendering="crispEdges"/>
<rect x="260.15" y="497.35" width="9.25" height="4.97" fill="#5f5e71" shape-rendering="crispEdges"/>
<rect x="269.10" y="497.35" width="9.25" height="4.97" fill="#a03e4b" shape-rendering="crispEdges"/>
<rect x="278.05" y="497.35" width="9.25" height="4.97" fill="#e22627" shape-rendering="crispEdges"/>
<rect x="287.00" y="497.35" width="9.25" height="4.97" fill="#ee2422" shape-rendering="crispEdges"/>
<rect x="295.95" y="497.35" width="9.25" height="4.97" fill="#ee2422" shape-rendering="crispEdges"/>
<rect x="251.20" y="502.01" width="9.25" height="4.97" fill="#1e92a8" shape-rendering="crispEdges"/>
<rect x="260.15" y="502.01" width="9.25" height="4.97" fill="#5f5e71" shape-rendering="crispEdges"/>
<rect x="269.10" y="502.01" width="9.25" height="4.97" fill="#a03e4b" shape-rendering="crispEdges"/>
<rect x="278.05" y="502.01" width="9.25" height="4.97" fill="#e22627" shape-rendering="crispEdges"/>
<rect x="287.00" y="502.01" width="9.25" height="4.97" fill="#ee2422" shape-rendering="crispEdges"/>
<rect x="295.95" y="502.01" width="9.25" height="4.97" fill="#ee2422" shape-rendering="crispEdges"/>
<rect x="251.20" y="508.36" width="9.25" height="4.97" fill="#1e92a8" shape-rendering="crispEdges"/>
<rect x="260.15" y="508.36" width="9.25" height="4.97" fill="#387c8e" shape-rendering="crispEdges"/>
<rect x="269.10" y="508.36" width="9.25" height="4.97" fill="#467183" shape-rendering="crispEdges"/>
<rect x="278.05" y="508.36" width="9.25" height="4.97" fill="#546678" shape-rendering="crispEdges"/>
<rect x="287.00" y="508.36" width="9.25" height="4.97" fill="#5f5e71" shape-rendering="crispEdges"/>
<rect x="295.95" y="508.36" width="9.25" height="4.97" fill="#5f5e71" shape-rendering="crispEdges"/>
<rect x="251.20" y="513.03" width="9.25" height="4.97" fill="#1e92a8" shape-rendering="crispEdges"/>
<rect x="260.15" y="513.03" width="9.25" height="4.97" fill="#5f5e71" shape-rendering="crispEdges"/>
<rect x="269.10" y="513.03" width="9.25" height="4.97" fill="#8c4656" shape-rendering="crispEdges"/>
<rect x="278.05" y="513.03" width="9.25" height="4.97" fill="#e22627" shape-rendering="crispEdges"/>
<rect x="287.00" y="513.03" width="9.25" height="4.97" fill="#ee2422" shape-rendering="crispEdges"/>
<rect x="295.95" y="513.03" width="9.25" height="4.97" fill="#ee2422" shape-rendering="crispEdges"/>
<rect x="251.20" y="517.69" width="9.25" height="4.97" fill="#1e92a8" shape-rendering="crispEdges"/>
<rect x="260.15" y="517.69" width="9.25" height="4.97" fill="#5f5e71" shape-rendering="crispEdges"/>
<rect x="269.10" y="517.69" width="9.25" height="4.97" fill="#8c4656" shape-rendering="crispEdges"/>
<rect x="278.05" y="517.69" width="9.25" height="4.97" fill="#d6282c" shape-rendering="crispEdges"/>
<rect x="287.00" y="517.69" width="9.25" height="4.97" fill="#ee2422" shape-rendering="crispEdges"/>
<rect x="295.95" y="517.69" width="9.25" height="4.97" fill="#ee2422" shape-rendering="crispEdges"/>
<rect x="251.20" y="524.04" width="9.25" height="4.97" fill="#1e92a8" shape-rendering="crispEdges"/>
<rect x="260.15" y="524.04" width="9.25" height="4.97" fill="#387c8e" shape-rendering="crispEdges"/>
<rect x="269.10" y="524.04" width="9.25" height="4.97" fill="#467183" shape-rendering="crispEdges"/>
<rect x="278.05" y="524.04" width="9.25" height="4.97" fill="#546678" shape-rendering="crispEdges"/>
<rect x="287.00" y="524.04" width="9.25" height="4.97" fill="#5f5e71" shape-rendering="crispEdges"/>
<rect x="295.95" y="524.04" width="9.25" height="4.97" fill="#6a566a" shape-rendering="crispEdges"/>
<rect x="251.20" y="528.71" width="9.25" height="4.97" fill="#1e92a8" shape-rendering="crispEdges"/>
<rect x="260.15" y="528.71" width="9.25" height="4.97" fill="#5f5e71" shape-rendering="crispEdges"/>
<rect x="269.10" y="528.71" width="9.25" height="4.97" fill="#a03e4b" shape-rendering="crispEdges"/>
<rect x="278.05" y="528.71" width="9.25" height="4.97" fill="#ee2422" shape-rendering="crispEdges"/>
<rect x="287.00" y="528.71" width="9.25" height="4.97" fill="#ee2422" shape-rendering="crispEdges"/>
<rect x="295.95" y="528.71" width="9.25" height="4.97" fill="#ee2422" shape-rendering="crispEdges"/>
<rect x="251.20" y="533.37" width="9.25" height="4.97" fill="#1e92a8" shape-rendering="crispEdges"/>
<rect x="260.15" y="533.37" width="9.25" height="4.97" fill="#5f5e71" shape-rendering="crispEdges"/>
<rect x="269.10" y="533.37" width="9.25" height="4.97" fill="#a03e4b" shape-rendering="crispEdges"/>
<rect x="278.05" y="533.37" width="9.25" height="4.97" fill="#ee2422" shape-rendering="crispEdges"/>
<rect x="287.00" y="533.37" width="9.25" height="4.97" fill="#ee2422" shape-rendering="crispEdges"/>
<rect x="295.95" y="533.37" width="9.25" height="4.97" fill="#ee2422" shape-rendering="crispEdges"/>
<rect x="251.20" y="539.72" width="9.25" height="4.97" fill="#1e92a8" shape-rendering="crispEdges"/>
<rect x="260.15" y="539.72" width="9.25" height="4.97" fill="#387c8e" shape-rendering="crispEdges"/>
<rect x="269.10" y="539.72" width="9.25" height="4.97" fill="#467183" shape-rendering="crispEdges"/>
<rect x="278.05" y="539.72" width="9.25" height="4.97" fill="#546678" shape-rendering="crispEdges"/>
<rect x="287.00" y="539.72" width="9.25" height="4.97" fill="#5f5e71" shape-rendering="crispEdges"/>
<rect x="295.95" y="539.72" width="9.25" height="4.97" fill="#6a566a" shape-rendering="crispEdges"/>
<rect x="251.20" y="544.39" width="9.25" height="4.97" fill="#1e92a8" shape-rendering="crispEdges"/>
<rect x="260.15" y="544.39" width="9.25" height="4.97" fill="#5f5e71" shape-rendering="crispEdges"/>
<rect x="269.10" y="544.39" width="9.25" height="4.97" fill="#b43640" shape-rendering="crispEdges"/>
<rect x="278.05" y="544.39" width="9.25" height="4.97" fill="#ee2422" shape-rendering="crispEdges"/>
<rect x="287.00" y="544.39" width="9.25" height="4.97" fill="#ee2422" shape-rendering="crispEdges"/>
<rect x="295.95" y="544.39" width="9.25" height="4.97" fill="#ee2422" shape-rendering="crispEdges"/>
<rect x="251.20" y="549.05" width="9.25" height="4.97" fill="#1e92a8" shape-rendering="crispEdges"/>
<rect x="260.15" y="549.05" width="9.25" height="4.97" fill="#5f5e71" shape-rendering="crispEdges"/>
<rect x="269.10" y="549.05" width="9.25" height="4.97" fill="#b43640" shape-rendering="crispEdges"/>
<rect x="278.05" y="549.05" width="9.25" height="4.97" fill="#ee2422" shape-rendering="crispEdges"/>
<rect x="287.00" y="549.05" width="9.25" height="4.97" fill="#ee2422" shape-rendering="crispEdges"/>
<rect x="295.95" y="549.05" width="9.25" height="4.97" fill="#ee2422" shape-rendering="crispEdges"/>
<rect x="251.20" y="555.40" width="9.25" height="4.97" fill="#1e92a8" shape-rendering="crispEdges"/>
<rect x="260.15" y="555.40" width="9.25" height="4.97" fill="#1e92a8" shape-rendering="crispEdges"/>
<rect x="269.10" y="555.40" width="9.25" height="4.97" fill="#1e92a8" shape-rendering="crispEdges"/>
<rect x="278.05" y="555.40" width="9.25" height="4.97" fill="#1e92a8" shape-rendering="crispEdges"/>
<rect x="287.00" y="555.40" width="9.25" height="4.97" fill="#1e92a8" shape-rendering="crispEdges"/>
<rect x="295.95" y="555.40" width="9.25" height="4.97" fill="#2b879b" shape-rendering="crispEdges"/>
<rect x="251.20" y="560.07" width="9.25" height="4.97" fill="#1e92a8" shape-rendering="crispEdges"/>
<rect x="260.15" y="560.07" width="9.25" height="4.97" fill="#546678" shape-rendering="crispEdges"/>
<rect x="269.10" y="560.07" width="9.25" height="4.97" fill="#7b4e60" shape-rendering="crispEdges"/>
<rect x="278.05" y="560.07" width="9.25" height="4.97" fill="#c52f36" shape-rendering="crispEdges"/>
<rect x="287.00" y="560.07" width="9.25" height="4.97" fill="#e22627" shape-rendering="crispEdges"/>
<rect x="295.95" y="560.07" width="9.25" height="4.97" fill="#e22627" shape-rendering="crispEdges"/>
<rect x="251.20" y="564.73" width="9.25" height="4.97" fill="#1e92a8" shape-rendering="crispEdges"/>
<rect x="260.15" y="564.73" width="9.25" height="4.97" fill="#546678" shape-rendering="crispEdges"/>
<rect x="269.10" y="564.73" width="9.25" height="4.97" fill="#7b4e60" shape-rendering="crispEdges"/>
<rect x="278.05" y="564.73" width="9.25" height="4.97" fill="#c52f36" shape-rendering="crispEdges"/>
<rect x="287.00" y="564.73" width="9.25" height="4.97" fill="#e22627" shape-rendering="crispEdges"/>
<rect x="295.95" y="564.73" width="9.25" height="4.97" fill="#e22627" shape-rendering="crispEdges"/>
<rect x="251.20" y="571.08" width="9.25" height="4.97" fill="#1e92a8" shape-rendering="crispEdges"/>
<rect x="260.15" y="571.08" width="9.25" height="4.97" fill="#387c8e" shape-rendering="crispEdges"/>
<rect x="269.10" y="571.08" width="9.25" height="4.97" fill="#387c8e" shape-rendering="crispEdges"/>
<rect x="278.05" y="571.08" width="9.25" height="4.97" fill="#467183" shape-rendering="crispEdges"/>
<rect x="287.00" y="571.08" width="9.25" height="4.97" fill="#546678" shape-rendering="crispEdges"/>
<rect x="295.95" y="571.08" width="9.25" height="4.97" fill="#5f5e71" shape-rendering="crispEdges"/>
<rect x="251.20" y="575.75" width="9.25" height="4.97" fill="#1e92a8" shape-rendering="crispEdges"/>
<rect x="260.15" y="575.75" width="9.25" height="4.97" fill="#5f5e71" shape-rendering="crispEdges"/>
<rect x="269.10" y="575.75" width="9.25" height="4.97" fill="#b43640" shape-rendering="crispEdges"/>
<rect x="278.05" y="575.75" width="9.25" height="4.97" fill="#ee2422" shape-rendering="crispEdges"/>
<rect x="287.00" y="575.75" width="9.25" height="4.97" fill="#ee2422" shape-rendering="crispEdges"/>
<rect x="295.95" y="575.75" width="9.25" height="4.97" fill="#ee2422" shape-rendering="crispEdges"/>
<rect x="251.20" y="580.41" width="9.25" height="4.97" fill="#1e92a8" shape-rendering="crispEdges"/>
<rect x="260.15" y="580.41" width="9.25" height="4.97" fill="#5f5e71" shape-rendering="crispEdges"/>
<rect x="269.10" y="580.41" width="9.25" height="4.97" fill="#b43640" shape-rendering="crispEdges"/>
<rect x="278.05" y="580.41" width="9.25" height="4.97" fill="#ee2422" shape-rendering="crispEdges"/>
<rect x="287.00" y="580.41" width="9.25" height="4.97" fill="#ee2422" shape-rendering="crispEdges"/>
<rect x="295.95" y="580.41" width="9.25" height="4.97" fill="#ee2422" shape-rendering="crispEdges"/>
<rect x="251.20" y="586.76" width="9.25" height="4.97" fill="#1e92a8" shape-rendering="crispEdges"/>
<rect x="260.15" y="586.76" width="9.25" height="4.97" fill="#2b879b" shape-rendering="crispEdges"/>
<rect x="269.10" y="586.76" width="9.25" height="4.97" fill="#387c8e" shape-rendering="crispEdges"/>
<rect x="278.05" y="586.76" width="9.25" height="4.97" fill="#467183" shape-rendering="crispEdges"/>
<rect x="287.00" y="586.76" width="9.25" height="4.97" fill="#546678" shape-rendering="crispEdges"/>
<rect x="295.95" y="586.76" width="9.25" height="4.97" fill="#5f5e71" shape-rendering="crispEdges"/>
<rect x="251.20" y="591.43" width="9.25" height="4.97" fill="#1e92a8" shape-rendering="crispEdges"/>
<rect x="260.15" y="591.43" width="9.25" height="4.97" fill="#5f5e71" shape-rendering="crispEdges"/>
<rect x="269.10" y="591.43" width="9.25" height="4.97" fill="#a03e4b" shape-rendering="crispEdges"/>
<rect x="278.05" y="591.43" width="9.25" height="4.97" fill="#e22627" shape-rendering="crispEdges"/>
<rect x="287.00" y="591.43" width="9.25" height="4.97" fill="#ee2422" shape-rendering="crispEdges"/>
<rect x="295.95" y="591.43" width="9.25" height="4.97" fill="#ee2422" shape-rendering="crispEdges"/>
<rect x="251.20" y="596.09" width="9.25" height="4.97" fill="#1e92a8" shape-rendering="crispEdges"/>
<rect x="260.15" y="596.09" width="9.25" height="4.97" fill="#5f5e71" shape-rendering="crispEdges"/>
<rect x="269.10" y="596.09" width="9.25" height="4.97" fill="#a03e4b" shape-rendering="crispEdges"/>
<rect x="278.05" y="596.09" width="9.25" height="4.97" fill="#e22627" shape-rendering="crispEdges"/>
<rect x="287.00" y="596.09" width="9.25" height="4.97" fill="#ee2422" shape-rendering="crispEdges"/>
<rect x="295.95" y="596.09" width="9.25" height="4.97" fill="#ee2422" shape-rendering="crispEdges"/>
<text x="255.67" y="475.80" font-size="6.9" text-anchor="middle" fill="#000" stroke="#000" stroke-width="0.1" textLength="7.20" lengthAdjust="spacingAndGlyphs" >d0</text>
<text x="264.62" y="475.80" font-size="6.9" text-anchor="middle" fill="#000" stroke="#000" stroke-width="0.1" textLength="7.20" lengthAdjust="spacingAndGlyphs" >d2</text>
<text x="273.57" y="475.80" font-size="6.9" text-anchor="middle" fill="#000" stroke="#000" stroke-width="0.1" textLength="7.20" lengthAdjust="spacingAndGlyphs" >d4</text>
<text x="282.52" y="475.80" font-size="6.9" text-anchor="middle" fill="#000" stroke="#000" stroke-width="0.1" textLength="7.20" lengthAdjust="spacingAndGlyphs" >d6</text>
<text x="291.48" y="475.80" font-size="6.9" text-anchor="middle" fill="#000" stroke="#000" stroke-width="0.1" textLength="7.20" lengthAdjust="spacingAndGlyphs" >d8</text>
<text x="300.43" y="475.80" font-size="6.9" text-anchor="middle" fill="#000" stroke="#000" stroke-width="0.1" textLength="9.40" lengthAdjust="spacingAndGlyphs" >d10</text>
<text x="84.75" y="465.60" font-size="8.3" text-anchor="middle" fill="#000" stroke="#000" stroke-width="0.1" textLength="55.00" lengthAdjust="spacingAndGlyphs" >Decitabine (Dec)</text>
<text x="142.10" y="465.60" font-size="8.3" text-anchor="middle" fill="#000" stroke="#000" stroke-width="0.1" textLength="48.30" lengthAdjust="spacingAndGlyphs" >Azacitine (Aza)</text>
<text x="199.10" y="465.60" font-size="8.3" text-anchor="middle" fill="#000" stroke="#000" stroke-width="0.1" textLength="54.30" lengthAdjust="spacingAndGlyphs" >Venetoclax (Ven)</text>
<text x="277.90" y="465.60" font-size="8.3" text-anchor="middle" fill="#000" stroke="#000" stroke-width="0.1" textLength="36.60" lengthAdjust="spacingAndGlyphs" >HMAs+Ven</text>
<text x="33.50" y="486.40" font-size="6.4" text-anchor="end" fill="#000" font-weight="bold" >WT</text>
<line x1="34.90" y1="477.40" x2="34.90" y2="490.60" stroke="#333" stroke-width="1.0" />
<text x="54.80" y="481.73" font-size="6.7" text-anchor="end" fill="#222" stroke="#222" stroke-width="0.15" textLength="17.90" lengthAdjust="spacingAndGlyphs" >DMSO</text>
<text x="54.80" y="486.40" font-size="6.7" text-anchor="end" fill="#222" stroke="#222" stroke-width="0.15" textLength="13.00" lengthAdjust="spacingAndGlyphs" >IC25</text>
<text x="54.80" y="491.07" font-size="6.7" text-anchor="end" fill="#222" stroke="#222" stroke-width="0.15" textLength="13.00" lengthAdjust="spacingAndGlyphs" >IC50</text>
<text x="230.80" y="481.73" font-size="6.7" text-anchor="start" fill="#222" stroke="#222" stroke-width="0.15" textLength="17.90" lengthAdjust="spacingAndGlyphs" >DMSO</text>
<text x="230.80" y="486.40" font-size="6.7" text-anchor="start" fill="#222" stroke="#222" stroke-width="0.15" textLength="11.50" lengthAdjust="spacingAndGlyphs" >D+V</text>
<text x="230.80" y="491.07" font-size="6.7" text-anchor="start" fill="#222" stroke="#222" stroke-width="0.15" textLength="11.50" lengthAdjust="spacingAndGlyphs" >A+V</text>
<text x="33.50" y="502.08" font-size="6.4" text-anchor="end" fill="#000" font-weight="bold" >KO</text>
<line x1="34.90" y1="493.08" x2="34.90" y2="506.28" stroke="#333" stroke-width="1.0" />
<text x="54.80" y="497.41" font-size="6.7" text-anchor="end" fill="#222" stroke="#222" stroke-width="0.15" textLength="17.90" lengthAdjust="spacingAndGlyphs" >DMSO</text>
<text x="54.80" y="502.08" font-size="6.7" text-anchor="end" fill="#222" stroke="#222" stroke-width="0.15" textLength="13.00" lengthAdjust="spacingAndGlyphs" >IC25</text>
<text x="54.80" y="506.75" font-size="6.7" text-anchor="end" fill="#222" stroke="#222" stroke-width="0.15" textLength="13.00" lengthAdjust="spacingAndGlyphs" >IC50</text>
<text x="230.80" y="497.41" font-size="6.7" text-anchor="start" fill="#222" stroke="#222" stroke-width="0.15" textLength="17.90" lengthAdjust="spacingAndGlyphs" >DMSO</text>
<text x="230.80" y="502.08" font-size="6.7" text-anchor="start" fill="#222" stroke="#222" stroke-width="0.15" textLength="11.50" lengthAdjust="spacingAndGlyphs" >D+V</text>
<text x="230.80" y="506.75" font-size="6.7" text-anchor="start" fill="#222" stroke="#222" stroke-width="0.15" textLength="11.50" lengthAdjust="spacingAndGlyphs" >A+V</text>
<text x="33.50" y="517.76" font-size="6.4" text-anchor="end" fill="#000" font-weight="bold" >R175H/−</text>
<line x1="34.90" y1="508.76" x2="34.90" y2="521.96" stroke="#333" stroke-width="1.0" />
<text x="54.80" y="513.09" font-size="6.7" text-anchor="end" fill="#222" stroke="#222" stroke-width="0.15" textLength="17.90" lengthAdjust="spacingAndGlyphs" >DMSO</text>
<text x="54.80" y="517.76" font-size="6.7" text-anchor="end" fill="#222" stroke="#222" stroke-width="0.15" textLength="13.00" lengthAdjust="spacingAndGlyphs" >IC25</text>
<text x="54.80" y="522.43" font-size="6.7" text-anchor="end" fill="#222" stroke="#222" stroke-width="0.15" textLength="13.00" lengthAdjust="spacingAndGlyphs" >IC50</text>
<text x="230.80" y="513.09" font-size="6.7" text-anchor="start" fill="#222" stroke="#222" stroke-width="0.15" textLength="17.90" lengthAdjust="spacingAndGlyphs" >DMSO</text>
<text x="230.80" y="517.76" font-size="6.7" text-anchor="start" fill="#222" stroke="#222" stroke-width="0.15" textLength="11.50" lengthAdjust="spacingAndGlyphs" >D+V</text>
<text x="230.80" y="522.43" font-size="6.7" text-anchor="start" fill="#222" stroke="#222" stroke-width="0.15" textLength="11.50" lengthAdjust="spacingAndGlyphs" >A+V</text>
<text x="33.50" y="533.44" font-size="6.4" text-anchor="end" fill="#000" font-weight="bold" >Y220C/−</text>
<line x1="34.90" y1="524.44" x2="34.90" y2="537.64" stroke="#333" stroke-width="1.0" />
<text x="54.80" y="528.77" font-size="6.7" text-anchor="end" fill="#222" stroke="#222" stroke-width="0.15" textLength="17.90" lengthAdjust="spacingAndGlyphs" >DMSO</text>
<text x="54.80" y="533.44" font-size="6.7" text-anchor="end" fill="#222" stroke="#222" stroke-width="0.15" textLength="13.00" lengthAdjust="spacingAndGlyphs" >IC25</text>
<text x="54.80" y="538.11" font-size="6.7" text-anchor="end" fill="#222" stroke="#222" stroke-width="0.15" textLength="13.00" lengthAdjust="spacingAndGlyphs" >IC50</text>
<text x="230.80" y="528.77" font-size="6.7" text-anchor="start" fill="#222" stroke="#222" stroke-width="0.15" textLength="17.90" lengthAdjust="spacingAndGlyphs" >DMSO</text>
<text x="230.80" y="533.44" font-size="6.7" text-anchor="start" fill="#222" stroke="#222" stroke-width="0.15" textLength="11.50" lengthAdjust="spacingAndGlyphs" >D+V</text>
<text x="230.80" y="538.11" font-size="6.7" text-anchor="start" fill="#222" stroke="#222" stroke-width="0.15" textLength="11.50" lengthAdjust="spacingAndGlyphs" >A+V</text>
<text x="33.50" y="549.12" font-size="6.4" text-anchor="end" fill="#000" font-weight="bold" >M237I/−</text>
<line x1="34.90" y1="540.12" x2="34.90" y2="553.32" stroke="#333" stroke-width="1.0" />
<text x="54.80" y="544.45" font-size="6.7" text-anchor="end" fill="#222" stroke="#222" stroke-width="0.15" textLength="17.90" lengthAdjust="spacingAndGlyphs" >DMSO</text>
<text x="54.80" y="549.12" font-size="6.7" text-anchor="end" fill="#222" stroke="#222" stroke-width="0.15" textLength="13.00" lengthAdjust="spacingAndGlyphs" >IC25</text>
<text x="54.80" y="553.79" font-size="6.7" text-anchor="end" fill="#222" stroke="#222" stroke-width="0.15" textLength="13.00" lengthAdjust="spacingAndGlyphs" >IC50</text>
<text x="230.80" y="544.45" font-size="6.7" text-anchor="start" fill="#222" stroke="#222" stroke-width="0.15" textLength="17.90" lengthAdjust="spacingAndGlyphs" >DMSO</text>
<text x="230.80" y="549.12" font-size="6.7" text-anchor="start" fill="#222" stroke="#222" stroke-width="0.15" textLength="11.50" lengthAdjust="spacingAndGlyphs" >D+V</text>
<text x="230.80" y="553.79" font-size="6.7" text-anchor="start" fill="#222" stroke="#222" stroke-width="0.15" textLength="11.50" lengthAdjust="spacingAndGlyphs" >A+V</text>
<text x="33.50" y="564.80" font-size="6.4" text-anchor="end" fill="#000" font-weight="bold" >R248Q/−</text>
<line x1="34.90" y1="555.80" x2="34.90" y2="569.00" stroke="#333" stroke-width="1.0" />
<text x="54.80" y="560.13" font-size="6.7" text-anchor="end" fill="#222" stroke="#222" stroke-width="0.15" textLength="17.90" lengthAdjust="spacingAndGlyphs" >DMSO</text>
<text x="54.80" y="564.80" font-size="6.7" text-anchor="end" fill="#222" stroke="#222" stroke-width="0.15" textLength="13.00" lengthAdjust="spacingAndGlyphs" >IC25</text>
<text x="54.80" y="569.47" font-size="6.7" text-anchor="end" fill="#222" stroke="#222" stroke-width="0.15" textLength="13.00" lengthAdjust="spacingAndGlyphs" >IC50</text>
<text x="230.80" y="560.13" font-size="6.7" text-anchor="start" fill="#222" stroke="#222" stroke-width="0.15" textLength="17.90" lengthAdjust="spacingAndGlyphs" >DMSO</text>
<text x="230.80" y="564.80" font-size="6.7" text-anchor="start" fill="#222" stroke="#222" stroke-width="0.15" textLength="11.50" lengthAdjust="spacingAndGlyphs" >D+V</text>
<text x="230.80" y="569.47" font-size="6.7" text-anchor="start" fill="#222" stroke="#222" stroke-width="0.15" textLength="11.50" lengthAdjust="spacingAndGlyphs" >A+V</text>
<text x="33.50" y="580.48" font-size="6.4" text-anchor="end" fill="#000" font-weight="bold" >R273H/−</text>
<line x1="34.90" y1="571.48" x2="34.90" y2="584.68" stroke="#333" stroke-width="1.0" />
<text x="54.80" y="575.81" font-size="6.7" text-anchor="end" fill="#222" stroke="#222" stroke-width="0.15" textLength="17.90" lengthAdjust="spacingAndGlyphs" >DMSO</text>
<text x="54.80" y="580.48" font-size="6.7" text-anchor="end" fill="#222" stroke="#222" stroke-width="0.15" textLength="13.00" lengthAdjust="spacingAndGlyphs" >IC25</text>
<text x="54.80" y="585.15" font-size="6.7" text-anchor="end" fill="#222" stroke="#222" stroke-width="0.15" textLength="13.00" lengthAdjust="spacingAndGlyphs" >IC50</text>
<text x="230.80" y="575.81" font-size="6.7" text-anchor="start" fill="#222" stroke="#222" stroke-width="0.15" textLength="17.90" lengthAdjust="spacingAndGlyphs" >DMSO</text>
<text x="230.80" y="580.48" font-size="6.7" text-anchor="start" fill="#222" stroke="#222" stroke-width="0.15" textLength="11.50" lengthAdjust="spacingAndGlyphs" >D+V</text>
<text x="230.80" y="585.15" font-size="6.7" text-anchor="start" fill="#222" stroke="#222" stroke-width="0.15" textLength="11.50" lengthAdjust="spacingAndGlyphs" >A+V</text>
<text x="33.50" y="596.16" font-size="6.4" text-anchor="end" fill="#000" font-weight="bold" >R282W/−</text>
<line x1="34.90" y1="587.16" x2="34.90" y2="600.36" stroke="#333" stroke-width="1.0" />
<text x="54.80" y="591.49" font-size="6.7" text-anchor="end" fill="#222" stroke="#222" stroke-width="0.15" textLength="17.90" lengthAdjust="spacingAndGlyphs" >DMSO</text>
<text x="54.80" y="596.16" font-size="6.7" text-anchor="end" fill="#222" stroke="#222" stroke-width="0.15" textLength="13.00" lengthAdjust="spacingAndGlyphs" >IC25</text>
<text x="54.80" y="600.83" font-size="6.7" text-anchor="end" fill="#222" stroke="#222" stroke-width="0.15" textLength="13.00" lengthAdjust="spacingAndGlyphs" >IC50</text>
<text x="230.80" y="591.49" font-size="6.7" text-anchor="start" fill="#222" stroke="#222" stroke-width="0.15" textLength="17.90" lengthAdjust="spacingAndGlyphs" >DMSO</text>
<text x="230.80" y="596.16" font-size="6.7" text-anchor="start" fill="#222" stroke="#222" stroke-width="0.15" textLength="11.50" lengthAdjust="spacingAndGlyphs" >D+V</text>
<text x="230.80" y="600.83" font-size="6.7" text-anchor="start" fill="#222" stroke="#222" stroke-width="0.15" textLength="11.50" lengthAdjust="spacingAndGlyphs" >A+V</text>
<rect x="126.90" y="608.50" width="72.20" height="5.90" fill="url(#ggrad)" stroke="#222" stroke-width="0.5" />
<line x1="141.70" y1="608.50" x2="141.70" y2="610.20" stroke="#222" stroke-width="0.5" />
<text x="141.70" y="622.20" font-size="7.8" text-anchor="middle" fill="#000" stroke="#000" stroke-width="0.1" >50</text>
<line x1="155.20" y1="608.50" x2="155.20" y2="610.20" stroke="#222" stroke-width="0.5" />
<text x="155.20" y="622.20" font-size="7.8" text-anchor="middle" fill="#000" stroke="#000" stroke-width="0.1" >60</text>
<line x1="169.00" y1="608.50" x2="169.00" y2="610.20" stroke="#222" stroke-width="0.5" />
<text x="169.00" y="622.20" font-size="7.8" text-anchor="middle" fill="#000" stroke="#000" stroke-width="0.1" >70</text>
<line x1="182.80" y1="608.50" x2="182.80" y2="610.20" stroke="#222" stroke-width="0.5" />
<text x="182.80" y="622.20" font-size="7.8" text-anchor="middle" fill="#000" stroke="#000" stroke-width="0.1" >80</text>
<line x1="196.40" y1="608.50" x2="196.40" y2="610.20" stroke="#222" stroke-width="0.5" />
<text x="196.40" y="622.20" font-size="7.8" text-anchor="middle" fill="#000" stroke="#000" stroke-width="0.1" >90</text>
<text x="166.40" y="633.60" font-size="8.0" text-anchor="middle" fill="#000" stroke="#000" stroke-width="0.1" textLength="63.80" lengthAdjust="spacingAndGlyphs" ><tspan font-style="italic">TP53</tspan> genotype [%]</text>
<rect x="276.75" y="208.17" width="5.30" height="10.63" fill="#d2203f" />
<line x1="279.40" y1="207.76" x2="279.40" y2="208.17" stroke="#111" stroke-width="0.8" />
<line x1="277.70" y1="207.76" x2="281.10" y2="207.76" stroke="#111" stroke-width="0.9" />
<rect x="283.52" y="194.67" width="5.30" height="24.13" fill="#1c5a96" />
<line x1="286.17" y1="193.85" x2="286.17" y2="194.67" stroke="#111" stroke-width="0.8" />
<line x1="284.47" y1="193.85" x2="287.87" y2="193.85" stroke="#111" stroke-width="0.9" />
<circle cx="284.37" cy="191.85" r="0.85" fill="#1a1a1a"/>
<circle cx="286.17" cy="191.85" r="0.85" fill="#1a1a1a"/>
<circle cx="287.97" cy="191.85" r="0.85" fill="#1a1a1a"/>
<rect x="290.29" y="195.49" width="5.30" height="23.31" fill="#3cb44a" />
<line x1="292.94" y1="194.67" x2="292.94" y2="195.49" stroke="#111" stroke-width="0.8" />
<line x1="291.24" y1="194.67" x2="294.64" y2="194.67" stroke="#111" stroke-width="0.9" />
<circle cx="291.14" cy="192.67" r="0.85" fill="#1a1a1a"/>
<circle cx="292.94" cy="192.67" r="0.85" fill="#1a1a1a"/>
<circle cx="294.74" cy="192.67" r="0.85" fill="#1a1a1a"/>
<rect x="297.06" y="192.62" width="5.30" height="26.18" fill="#5e2a84" />
<line x1="299.71" y1="190.17" x2="299.71" y2="192.62" stroke="#111" stroke-width="0.8" />
<line x1="298.01" y1="190.17" x2="301.41" y2="190.17" stroke="#111" stroke-width="0.9" />
<circle cx="297.91" cy="188.17" r="0.85" fill="#1a1a1a"/>
<circle cx="299.71" cy="188.17" r="0.85" fill="#1a1a1a"/>
<circle cx="301.51" cy="188.17" r="0.85" fill="#1a1a1a"/>
<rect x="303.83" y="186.90" width="5.30" height="31.90" fill="#1c5a96" />
<line x1="306.48" y1="186.33" x2="306.48" y2="186.90" stroke="#111" stroke-width="0.8" />
<line x1="304.78" y1="186.33" x2="308.18" y2="186.33" stroke="#111" stroke-width="0.9" />
<circle cx="304.68" cy="184.33" r="0.85" fill="#1a1a1a"/>
<circle cx="306.48" cy="184.33" r="0.85" fill="#1a1a1a"/>
<circle cx="308.28" cy="184.33" r="0.85" fill="#1a1a1a"/>
<rect x="310.60" y="187.31" width="5.30" height="31.49" fill="#3cb44a" />
<line x1="313.25" y1="186.73" x2="313.25" y2="187.31" stroke="#111" stroke-width="0.8" />
<line x1="311.55" y1="186.73" x2="314.95" y2="186.73" stroke="#111" stroke-width="0.9" />
<circle cx="311.45" cy="184.73" r="0.85" fill="#1a1a1a"/>
<circle cx="313.25" cy="184.73" r="0.85" fill="#1a1a1a"/>
<circle cx="315.05" cy="184.73" r="0.85" fill="#1a1a1a"/>
<rect x="317.37" y="177.49" width="5.30" height="41.31" fill="#5e2a84" />
<line x1="320.02" y1="176.67" x2="320.02" y2="177.49" stroke="#111" stroke-width="0.8" />
<line x1="318.32" y1="176.67" x2="321.72" y2="176.67" stroke="#111" stroke-width="0.9" />
<circle cx="318.22" cy="174.67" r="0.85" fill="#1a1a1a"/>
<circle cx="320.02" cy="174.67" r="0.85" fill="#1a1a1a"/>
<circle cx="321.82" cy="174.67" r="0.85" fill="#1a1a1a"/>
<rect x="324.14" y="181.17" width="5.30" height="37.63" fill="#f7941d" />
<line x1="326.79" y1="180.60" x2="326.79" y2="181.17" stroke="#111" stroke-width="0.8" />
<line x1="325.09" y1="180.60" x2="328.49" y2="180.60" stroke="#111" stroke-width="0.9" />
<circle cx="324.99" cy="178.60" r="0.85" fill="#1a1a1a"/>
<circle cx="326.79" cy="178.60" r="0.85" fill="#1a1a1a"/>
<circle cx="328.59" cy="178.60" r="0.85" fill="#1a1a1a"/>
<rect x="330.91" y="180.35" width="5.30" height="38.45" fill="#f7941d" />
<line x1="333.56" y1="179.13" x2="333.56" y2="180.35" stroke="#111" stroke-width="0.8" />
<line x1="331.86" y1="179.13" x2="335.26" y2="179.13" stroke="#111" stroke-width="0.9" />
<circle cx="331.76" cy="177.13" r="0.85" fill="#1a1a1a"/>
<circle cx="333.56" cy="177.13" r="0.85" fill="#1a1a1a"/>
<circle cx="335.36" cy="177.13" r="0.85" fill="#1a1a1a"/>
<rect x="337.68" y="169.72" width="5.30" height="49.08" fill="#f7941d" />
<line x1="340.33" y1="167.68" x2="340.33" y2="169.72" stroke="#111" stroke-width="0.8" />
<line x1="338.63" y1="167.68" x2="342.03" y2="167.68" stroke="#111" stroke-width="0.9" />
<circle cx="338.53" cy="165.68" r="0.85" fill="#1a1a1a"/>
<circle cx="340.33" cy="165.68" r="0.85" fill="#1a1a1a"/>
<circle cx="342.13" cy="165.68" r="0.85" fill="#1a1a1a"/>
<rect x="344.45" y="170.54" width="5.30" height="48.26" fill="#f7941d" />
<line x1="347.10" y1="169.31" x2="347.10" y2="170.54" stroke="#111" stroke-width="0.8" />
<line x1="345.40" y1="169.31" x2="348.80" y2="169.31" stroke="#111" stroke-width="0.9" />
<circle cx="345.30" cy="167.31" r="0.85" fill="#1a1a1a"/>
<circle cx="347.10" cy="167.31" r="0.85" fill="#1a1a1a"/>
<circle cx="348.90" cy="167.31" r="0.85" fill="#1a1a1a"/>
<rect x="356.55" y="211.52" width="5.30" height="7.28" fill="#d2203f" />
<line x1="359.20" y1="211.27" x2="359.20" y2="211.52" stroke="#111" stroke-width="0.8" />
<line x1="357.50" y1="211.27" x2="360.90" y2="211.27" stroke="#111" stroke-width="0.9" />
<rect x="363.32" y="209.56" width="5.30" height="9.24" fill="#1c5a96" />
<line x1="365.97" y1="209.15" x2="365.97" y2="209.56" stroke="#111" stroke-width="0.8" />
<line x1="364.27" y1="209.15" x2="367.67" y2="209.15" stroke="#111" stroke-width="0.9" />
<text x="365.97" y="207.65" font-size="6.2" text-anchor="middle" fill="#222" stroke="#222" stroke-width="0.1" textLength="5.80" lengthAdjust="spacingAndGlyphs" >ns</text>
<rect x="370.09" y="209.15" width="5.30" height="9.65" fill="#3cb44a" />
<line x1="372.74" y1="208.74" x2="372.74" y2="209.15" stroke="#111" stroke-width="0.8" />
<line x1="371.04" y1="208.74" x2="374.44" y2="208.74" stroke="#111" stroke-width="0.9" />
<text x="372.74" y="207.24" font-size="6.2" text-anchor="middle" fill="#222" stroke="#222" stroke-width="0.1" textLength="5.80" lengthAdjust="spacingAndGlyphs" >ns</text>
<rect x="376.86" y="210.13" width="5.30" height="8.67" fill="#5e2a84" />
<line x1="379.51" y1="209.72" x2="379.51" y2="210.13" stroke="#111" stroke-width="0.8" />
<line x1="377.81" y1="209.72" x2="381.21" y2="209.72" stroke="#111" stroke-width="0.9" />
<text x="379.51" y="208.22" font-size="6.2" text-anchor="middle" fill="#222" stroke="#222" stroke-width="0.1" textLength="5.80" lengthAdjust="spacingAndGlyphs" >ns</text>
<rect x="383.63" y="203.26" width="5.30" height="15.54" fill="#1c5a96" />
<line x1="386.28" y1="202.85" x2="386.28" y2="203.26" stroke="#111" stroke-width="0.8" />
<line x1="384.58" y1="202.85" x2="387.98" y2="202.85" stroke="#111" stroke-width="0.9" />
<circle cx="384.48" cy="200.85" r="0.85" fill="#1a1a1a"/>
<circle cx="386.28" cy="200.85" r="0.85" fill="#1a1a1a"/>
<circle cx="388.08" cy="200.85" r="0.85" fill="#1a1a1a"/>
<rect x="390.40" y="202.28" width="5.30" height="16.52" fill="#3cb44a" />
<line x1="393.05" y1="201.87" x2="393.05" y2="202.28" stroke="#111" stroke-width="0.8" />
<line x1="391.35" y1="201.87" x2="394.75" y2="201.87" stroke="#111" stroke-width="0.9" />
<circle cx="391.25" cy="199.87" r="0.85" fill="#1a1a1a"/>
<circle cx="393.05" cy="199.87" r="0.85" fill="#1a1a1a"/>
<circle cx="394.85" cy="199.87" r="0.85" fill="#1a1a1a"/>
<rect x="397.17" y="203.42" width="5.30" height="15.38" fill="#5e2a84" />
<line x1="399.82" y1="202.93" x2="399.82" y2="203.42" stroke="#111" stroke-width="0.8" />
<line x1="398.12" y1="202.93" x2="401.52" y2="202.93" stroke="#111" stroke-width="0.9" />
<circle cx="398.02" cy="200.93" r="0.85" fill="#1a1a1a"/>
<circle cx="399.82" cy="200.93" r="0.85" fill="#1a1a1a"/>
<circle cx="401.62" cy="200.93" r="0.85" fill="#1a1a1a"/>
<rect x="403.94" y="200.31" width="5.30" height="18.49" fill="#f7941d" />
<line x1="406.59" y1="199.82" x2="406.59" y2="200.31" stroke="#111" stroke-width="0.8" />
<line x1="404.89" y1="199.82" x2="408.29" y2="199.82" stroke="#111" stroke-width="0.9" />
<circle cx="404.79" cy="197.82" r="0.85" fill="#1a1a1a"/>
<circle cx="406.59" cy="197.82" r="0.85" fill="#1a1a1a"/>
<circle cx="408.39" cy="197.82" r="0.85" fill="#1a1a1a"/>
<rect x="410.71" y="199.58" width="5.30" height="19.22" fill="#f7941d" />
<line x1="413.36" y1="199.09" x2="413.36" y2="199.58" stroke="#111" stroke-width="0.8" />
<line x1="411.66" y1="199.09" x2="415.06" y2="199.09" stroke="#111" stroke-width="0.9" />
<circle cx="411.56" cy="197.09" r="0.85" fill="#1a1a1a"/>
<circle cx="413.36" cy="197.09" r="0.85" fill="#1a1a1a"/>
<circle cx="415.16" cy="197.09" r="0.85" fill="#1a1a1a"/>
<rect x="417.48" y="197.20" width="5.30" height="21.60" fill="#f7941d" />
<line x1="420.13" y1="196.55" x2="420.13" y2="197.20" stroke="#111" stroke-width="0.8" />
<line x1="418.43" y1="196.55" x2="421.83" y2="196.55" stroke="#111" stroke-width="0.9" />
<circle cx="418.33" cy="194.55" r="0.85" fill="#1a1a1a"/>
<circle cx="420.13" cy="194.55" r="0.85" fill="#1a1a1a"/>
<circle cx="421.93" cy="194.55" r="0.85" fill="#1a1a1a"/>
<rect x="424.25" y="194.59" width="5.30" height="24.21" fill="#f7941d" />
<line x1="426.90" y1="193.93" x2="426.90" y2="194.59" stroke="#111" stroke-width="0.8" />
<line x1="425.20" y1="193.93" x2="428.60" y2="193.93" stroke="#111" stroke-width="0.9" />
<circle cx="425.10" cy="191.93" r="0.85" fill="#1a1a1a"/>
<circle cx="426.90" cy="191.93" r="0.85" fill="#1a1a1a"/>
<circle cx="428.70" cy="191.93" r="0.85" fill="#1a1a1a"/>
<rect x="436.55" y="208.00" width="5.30" height="10.80" fill="#d2203f" />
<line x1="439.20" y1="207.59" x2="439.20" y2="208.00" stroke="#111" stroke-width="0.8" />
<line x1="437.50" y1="207.59" x2="440.90" y2="207.59" stroke="#111" stroke-width="0.9" />
<rect x="443.32" y="207.27" width="5.30" height="11.53" fill="#1c5a96" />
<line x1="445.97" y1="206.86" x2="445.97" y2="207.27" stroke="#111" stroke-width="0.8" />
<line x1="444.27" y1="206.86" x2="447.67" y2="206.86" stroke="#111" stroke-width="0.9" />
<text x="445.97" y="205.36" font-size="6.2" text-anchor="middle" fill="#222" stroke="#222" stroke-width="0.1" textLength="5.80" lengthAdjust="spacingAndGlyphs" >ns</text>
<rect x="450.09" y="207.27" width="5.30" height="11.53" fill="#3cb44a" />
<line x1="452.74" y1="206.86" x2="452.74" y2="207.27" stroke="#111" stroke-width="0.8" />
<line x1="451.04" y1="206.86" x2="454.44" y2="206.86" stroke="#111" stroke-width="0.9" />
<text x="452.74" y="205.36" font-size="6.2" text-anchor="middle" fill="#222" stroke="#222" stroke-width="0.1" textLength="5.80" lengthAdjust="spacingAndGlyphs" >ns</text>
<rect x="456.86" y="208.58" width="5.30" height="10.22" fill="#5e2a84" />
<line x1="459.51" y1="208.17" x2="459.51" y2="208.58" stroke="#111" stroke-width="0.8" />
<line x1="457.81" y1="208.17" x2="461.21" y2="208.17" stroke="#111" stroke-width="0.9" />
<text x="459.51" y="206.67" font-size="6.2" text-anchor="middle" fill="#222" stroke="#222" stroke-width="0.1" textLength="5.80" lengthAdjust="spacingAndGlyphs" >ns</text>
<rect x="463.63" y="200.48" width="5.30" height="18.32" fill="#1c5a96" />
<line x1="466.28" y1="199.99" x2="466.28" y2="200.48" stroke="#111" stroke-width="0.8" />
<line x1="464.58" y1="199.99" x2="467.98" y2="199.99" stroke="#111" stroke-width="0.9" />
<circle cx="464.48" cy="197.99" r="0.85" fill="#1a1a1a"/>
<circle cx="466.28" cy="197.99" r="0.85" fill="#1a1a1a"/>
<circle cx="468.08" cy="197.99" r="0.85" fill="#1a1a1a"/>
<rect x="470.40" y="200.48" width="5.30" height="18.32" fill="#3cb44a" />
<line x1="473.05" y1="199.99" x2="473.05" y2="200.48" stroke="#111" stroke-width="0.8" />
<line x1="471.35" y1="199.99" x2="474.75" y2="199.99" stroke="#111" stroke-width="0.9" />
<circle cx="471.25" cy="197.99" r="0.85" fill="#1a1a1a"/>
<circle cx="473.05" cy="197.99" r="0.85" fill="#1a1a1a"/>
<circle cx="474.85" cy="197.99" r="0.85" fill="#1a1a1a"/>
<rect x="477.17" y="202.44" width="5.30" height="16.36" fill="#5e2a84" />
<line x1="479.82" y1="201.95" x2="479.82" y2="202.44" stroke="#111" stroke-width="0.8" />
<line x1="478.12" y1="201.95" x2="481.52" y2="201.95" stroke="#111" stroke-width="0.9" />
<circle cx="478.02" cy="199.95" r="0.85" fill="#1a1a1a"/>
<circle cx="479.82" cy="199.95" r="0.85" fill="#1a1a1a"/>
<circle cx="481.62" cy="199.95" r="0.85" fill="#1a1a1a"/>
<rect x="483.94" y="199.99" width="5.30" height="18.81" fill="#f7941d" />
<line x1="486.59" y1="199.50" x2="486.59" y2="199.99" stroke="#111" stroke-width="0.8" />
<line x1="484.89" y1="199.50" x2="488.29" y2="199.50" stroke="#111" stroke-width="0.9" />
<circle cx="484.79" cy="197.50" r="0.85" fill="#1a1a1a"/>
<circle cx="486.59" cy="197.50" r="0.85" fill="#1a1a1a"/>
<circle cx="488.39" cy="197.50" r="0.85" fill="#1a1a1a"/>
<rect x="490.71" y="198.60" width="5.30" height="20.20" fill="#f7941d" />
<line x1="493.36" y1="198.10" x2="493.36" y2="198.60" stroke="#111" stroke-width="0.8" />
<line x1="491.66" y1="198.10" x2="495.06" y2="198.10" stroke="#111" stroke-width="0.9" />
<circle cx="491.56" cy="196.10" r="0.85" fill="#1a1a1a"/>
<circle cx="493.36" cy="196.10" r="0.85" fill="#1a1a1a"/>
<circle cx="495.16" cy="196.10" r="0.85" fill="#1a1a1a"/>
<rect x="497.48" y="195.73" width="5.30" height="23.07" fill="#f7941d" />
<line x1="500.13" y1="195.08" x2="500.13" y2="195.73" stroke="#111" stroke-width="0.8" />
<line x1="498.43" y1="195.08" x2="501.83" y2="195.08" stroke="#111" stroke-width="0.9" />
<circle cx="498.33" cy="193.08" r="0.85" fill="#1a1a1a"/>
<circle cx="500.13" cy="193.08" r="0.85" fill="#1a1a1a"/>
<circle cx="501.93" cy="193.08" r="0.85" fill="#1a1a1a"/>
<rect x="504.25" y="192.62" width="5.30" height="26.18" fill="#f7941d" />
<line x1="506.90" y1="191.40" x2="506.90" y2="192.62" stroke="#111" stroke-width="0.8" />
<line x1="505.20" y1="191.40" x2="508.60" y2="191.40" stroke="#111" stroke-width="0.9" />
<circle cx="505.10" cy="189.40" r="0.85" fill="#1a1a1a"/>
<circle cx="506.90" cy="189.40" r="0.85" fill="#1a1a1a"/>
<circle cx="508.70" cy="189.40" r="0.85" fill="#1a1a1a"/>
<line x1="272.60" y1="161.00" x2="272.60" y2="219.20" stroke="#000" stroke-width="0.9" />
<line x1="272.20" y1="218.80" x2="513.00" y2="218.80" stroke="#000" stroke-width="1.0" />
<line x1="270.60" y1="218.80" x2="272.60" y2="218.80" stroke="#000" stroke-width="0.7" />
<text x="268.40" y="221.70" font-size="8.0" text-anchor="end" fill="#000" stroke="#000" stroke-width="0.1" textLength="4.40" lengthAdjust="spacingAndGlyphs" >0</text>
<line x1="270.60" y1="210.62" x2="272.60" y2="210.62" stroke="#000" stroke-width="0.7" />
<text x="268.40" y="213.52" font-size="8.0" text-anchor="end" fill="#000" stroke="#000" stroke-width="0.1" textLength="8.80" lengthAdjust="spacingAndGlyphs" >10</text>
<line x1="270.60" y1="202.44" x2="272.60" y2="202.44" stroke="#000" stroke-width="0.7" />
<text x="268.40" y="205.34" font-size="8.0" text-anchor="end" fill="#000" stroke="#000" stroke-width="0.1" textLength="8.80" lengthAdjust="spacingAndGlyphs" >20</text>
<line x1="270.60" y1="194.26" x2="272.60" y2="194.26" stroke="#000" stroke-width="0.7" />
<text x="268.40" y="197.16" font-size="8.0" text-anchor="end" fill="#000" stroke="#000" stroke-width="0.1" textLength="8.80" lengthAdjust="spacingAndGlyphs" >30</text>
<line x1="270.60" y1="186.08" x2="272.60" y2="186.08" stroke="#000" stroke-width="0.7" />
<text x="268.40" y="188.98" font-size="8.0" text-anchor="end" fill="#000" stroke="#000" stroke-width="0.1" textLength="8.80" lengthAdjust="spacingAndGlyphs" >40</text>
<line x1="270.60" y1="177.90" x2="272.60" y2="177.90" stroke="#000" stroke-width="0.7" />
<text x="268.40" y="180.80" font-size="8.0" text-anchor="end" fill="#000" stroke="#000" stroke-width="0.1" textLength="8.80" lengthAdjust="spacingAndGlyphs" >50</text>
<line x1="270.60" y1="169.72" x2="272.60" y2="169.72" stroke="#000" stroke-width="0.7" />
<text x="268.40" y="172.62" font-size="8.0" text-anchor="end" fill="#000" stroke="#000" stroke-width="0.1" textLength="8.80" lengthAdjust="spacingAndGlyphs" >60</text>
<line x1="270.60" y1="161.54" x2="272.60" y2="161.54" stroke="#000" stroke-width="0.7" />
<text x="268.40" y="164.44" font-size="8.0" text-anchor="end" fill="#000" stroke="#000" stroke-width="0.1" textLength="8.80" lengthAdjust="spacingAndGlyphs" >70</text>
<text x="253.40" y="191.00" font-size="8.2" text-anchor="middle" fill="#000" stroke="#000" stroke-width="0.1" textLength="44.50" lengthAdjust="spacingAndGlyphs" transform="rotate(-90 253.40 191.00)" >Annexin V<tspan baseline-shift="super" font-size="5">+</tspan> [%]</text>
<line x1="278.30" y1="159.60" x2="350.40" y2="159.60" stroke="#888" stroke-width="1.1" />
<text x="314.35" y="156.60" font-size="8" text-anchor="middle" fill="#000" font-weight="bold" >WT</text>
<line x1="358.00" y1="159.60" x2="429.80" y2="159.60" stroke="#888" stroke-width="1.1" />
<text x="393.90" y="156.60" font-size="8" text-anchor="middle" fill="#000" font-weight="bold" >KO</text>
<line x1="437.70" y1="159.60" x2="509.40" y2="159.60" stroke="#888" stroke-width="1.1" />
<text x="473.55" y="156.60" font-size="8" text-anchor="middle" fill="#000" font-weight="bold" >R248Q/−</text>
<rect x="358.70" y="173.80" width="4.30" height="4.60" fill="#d2203f" />
<text x="364.80" y="178.60" font-size="7.6" text-anchor="start" fill="#222" stroke="#222" stroke-width="0.1" textLength="22.50" lengthAdjust="spacingAndGlyphs" >DMSO</text>
<rect x="391.30" y="173.80" width="4.30" height="4.60" fill="#1c5a96" />
<text x="397.30" y="178.60" font-size="7.6" text-anchor="start" fill="#222" stroke="#222" stroke-width="0.1" textLength="14.00" lengthAdjust="spacingAndGlyphs" >Dec</text>
<rect x="418.00" y="173.80" width="4.30" height="4.60" fill="#3cb44a" />
<text x="424.00" y="178.60" font-size="7.6" text-anchor="start" fill="#222" stroke="#222" stroke-width="0.1" textLength="12.50" lengthAdjust="spacingAndGlyphs" >Aza</text>
<rect x="444.20" y="173.80" width="4.30" height="4.60" fill="#5e2a84" />
<text x="450.20" y="178.60" font-size="7.6" text-anchor="start" fill="#222" stroke="#222" stroke-width="0.1" textLength="12.50" lengthAdjust="spacingAndGlyphs" >Ven</text>
<rect x="470.40" y="173.80" width="4.30" height="4.60" fill="#f7941d" />
<text x="476.40" y="178.60" font-size="7.6" text-anchor="start" fill="#222" stroke="#222" stroke-width="0.1" textLength="32.40" lengthAdjust="spacingAndGlyphs" >HMA+Ven</text>
<text x="258.80" y="230.80" font-size="5.0" text-anchor="start" fill="#222" stroke="#222" stroke-width="0.1" textLength="11.50" lengthAdjust="spacingAndGlyphs" >DMSO</text>
<text x="279.40" y="231.40" font-size="6.6" text-anchor="middle" fill="#222" stroke="#222" stroke-width="0.1" >+</text>
<line x1="285.07" y1="229.20" x2="287.27" y2="229.20" stroke="#333" stroke-width="0.7" />
<line x1="291.84" y1="229.20" x2="294.04" y2="229.20" stroke="#333" stroke-width="0.7" />
<line x1="298.61" y1="229.20" x2="300.81" y2="229.20" stroke="#333" stroke-width="0.7" />
<line x1="305.38" y1="229.20" x2="307.58" y2="229.20" stroke="#333" stroke-width="0.7" />
<line x1="312.15" y1="229.20" x2="314.35" y2="229.20" stroke="#333" stroke-width="0.7" />
<line x1="318.92" y1="229.20" x2="321.12" y2="229.20" stroke="#333" stroke-width="0.7" />
<line x1="325.69" y1="229.20" x2="327.89" y2="229.20" stroke="#333" stroke-width="0.7" />
<line x1="332.46" y1="229.20" x2="334.66" y2="229.20" stroke="#333" stroke-width="0.7" />
<line x1="339.23" y1="229.20" x2="341.43" y2="229.20" stroke="#333" stroke-width="0.7" />
<line x1="346.00" y1="229.20" x2="348.20" y2="229.20" stroke="#333" stroke-width="0.7" />
<text x="359.20" y="231.40" font-size="6.6" text-anchor="middle" fill="#222" stroke="#222" stroke-width="0.1" >+</text>
<line x1="364.87" y1="229.20" x2="367.07" y2="229.20" stroke="#333" stroke-width="0.7" />
<line x1="371.64" y1="229.20" x2="373.84" y2="229.20" stroke="#333" stroke-width="0.7" />
<line x1="378.41" y1="229.20" x2="380.61" y2="229.20" stroke="#333" stroke-width="0.7" />
<line x1="385.18" y1="229.20" x2="387.38" y2="229.20" stroke="#333" stroke-width="0.7" />
<line x1="391.95" y1="229.20" x2="394.15" y2="229.20" stroke="#333" stroke-width="0.7" />
<line x1="398.72" y1="229.20" x2="400.92" y2="229.20" stroke="#333" stroke-width="0.7" />
<line x1="405.49" y1="229.20" x2="407.69" y2="229.20" stroke="#333" stroke-width="0.7" />
<line x1="412.26" y1="229.20" x2="414.46" y2="229.20" stroke="#333" stroke-width="0.7" />
<line x1="419.03" y1="229.20" x2="421.23" y2="229.20" stroke="#333" stroke-width="0.7" />
<line x1="425.80" y1="229.20" x2="428.00" y2="229.20" stroke="#333" stroke-width="0.7" />
<text x="439.20" y="231.40" font-size="6.6" text-anchor="middle" fill="#222" stroke="#222" stroke-width="0.1" >+</text>
<line x1="444.87" y1="229.20" x2="447.07" y2="229.20" stroke="#333" stroke-width="0.7" />
<line x1="451.64" y1="229.20" x2="453.84" y2="229.20" stroke="#333" stroke-width="0.7" />
<line x1="458.41" y1="229.20" x2="460.61" y2="229.20" stroke="#333" stroke-width="0.7" />
<line x1="465.18" y1="229.20" x2="467.38" y2="229.20" stroke="#333" stroke-width="0.7" />
<line x1="471.95" y1="229.20" x2="474.15" y2="229.20" stroke="#333" stroke-width="0.7" />
<line x1="478.72" y1="229.20" x2="480.92" y2="229.20" stroke="#333" stroke-width="0.7" />
<line x1="485.49" y1="229.20" x2="487.69" y2="229.20" stroke="#333" stroke-width="0.7" />
<line x1="492.26" y1="229.20" x2="494.46" y2="229.20" stroke="#333" stroke-width="0.7" />
<line x1="499.03" y1="229.20" x2="501.23" y2="229.20" stroke="#333" stroke-width="0.7" />
<line x1="505.80" y1="229.20" x2="508.00" y2="229.20" stroke="#333" stroke-width="0.7" />
<text x="258.80" y="242.90" font-size="5.0" text-anchor="start" fill="#222" stroke="#222" stroke-width="0.1" textLength="14.50" lengthAdjust="spacingAndGlyphs" >Dec [IC]</text>
<line x1="278.30" y1="241.30" x2="280.50" y2="241.30" stroke="#333" stroke-width="0.7" />
<text x="286.17" y="243.70" font-size="6.4" text-anchor="middle" fill="#222" stroke="#222" stroke-width="0.1" textLength="5.60" lengthAdjust="spacingAndGlyphs" >25</text>
<line x1="291.84" y1="241.30" x2="294.04" y2="241.30" stroke="#333" stroke-width="0.7" />
<line x1="298.61" y1="241.30" x2="300.81" y2="241.30" stroke="#333" stroke-width="0.7" />
<text x="306.48" y="243.70" font-size="6.4" text-anchor="middle" fill="#222" stroke="#222" stroke-width="0.1" textLength="5.60" lengthAdjust="spacingAndGlyphs" >50</text>
<line x1="312.15" y1="241.30" x2="314.35" y2="241.30" stroke="#333" stroke-width="0.7" />
<line x1="318.92" y1="241.30" x2="321.12" y2="241.30" stroke="#333" stroke-width="0.7" />
<text x="326.79" y="243.70" font-size="6.4" text-anchor="middle" fill="#222" stroke="#222" stroke-width="0.1" textLength="5.60" lengthAdjust="spacingAndGlyphs" >25</text>
<line x1="332.46" y1="241.30" x2="334.66" y2="241.30" stroke="#333" stroke-width="0.7" />
<text x="340.33" y="243.70" font-size="6.4" text-anchor="middle" fill="#222" stroke="#222" stroke-width="0.1" textLength="5.60" lengthAdjust="spacingAndGlyphs" >25</text>
<line x1="346.00" y1="241.30" x2="348.20" y2="241.30" stroke="#333" stroke-width="0.7" />
<line x1="358.10" y1="241.30" x2="360.30" y2="241.30" stroke="#333" stroke-width="0.7" />
<text x="365.97" y="243.70" font-size="6.4" text-anchor="middle" fill="#222" stroke="#222" stroke-width="0.1" textLength="5.60" lengthAdjust="spacingAndGlyphs" >25</text>
<line x1="371.64" y1="241.30" x2="373.84" y2="241.30" stroke="#333" stroke-width="0.7" />
<line x1="378.41" y1="241.30" x2="380.61" y2="241.30" stroke="#333" stroke-width="0.7" />
<text x="386.28" y="243.70" font-size="6.4" text-anchor="middle" fill="#222" stroke="#222" stroke-width="0.1" textLength="5.60" lengthAdjust="spacingAndGlyphs" >50</text>
<line x1="391.95" y1="241.30" x2="394.15" y2="241.30" stroke="#333" stroke-width="0.7" />
<line x1="398.72" y1="241.30" x2="400.92" y2="241.30" stroke="#333" stroke-width="0.7" />
<text x="406.59" y="243.70" font-size="6.4" text-anchor="middle" fill="#222" stroke="#222" stroke-width="0.1" textLength="5.60" lengthAdjust="spacingAndGlyphs" >25</text>
<line x1="412.26" y1="241.30" x2="414.46" y2="241.30" stroke="#333" stroke-width="0.7" />
<text x="420.13" y="243.70" font-size="6.4" text-anchor="middle" fill="#222" stroke="#222" stroke-width="0.1" textLength="5.60" lengthAdjust="spacingAndGlyphs" >25</text>
<line x1="425.80" y1="241.30" x2="428.00" y2="241.30" stroke="#333" stroke-width="0.7" />
<line x1="438.10" y1="241.30" x2="440.30" y2="241.30" stroke="#333" stroke-width="0.7" />
<text x="445.97" y="243.70" font-size="6.4" text-anchor="middle" fill="#222" stroke="#222" stroke-width="0.1" textLength="5.60" lengthAdjust="spacingAndGlyphs" >25</text>
<line x1="451.64" y1="241.30" x2="453.84" y2="241.30" stroke="#333" stroke-width="0.7" />
<line x1="458.41" y1="241.30" x2="460.61" y2="241.30" stroke="#333" stroke-width="0.7" />
<text x="466.28" y="243.70" font-size="6.4" text-anchor="middle" fill="#222" stroke="#222" stroke-width="0.1" textLength="5.60" lengthAdjust="spacingAndGlyphs" >50</text>
<line x1="471.95" y1="241.30" x2="474.15" y2="241.30" stroke="#333" stroke-width="0.7" />
<line x1="478.72" y1="241.30" x2="480.92" y2="241.30" stroke="#333" stroke-width="0.7" />
<text x="486.59" y="243.70" font-size="6.4" text-anchor="middle" fill="#222" stroke="#222" stroke-width="0.1" textLength="5.60" lengthAdjust="spacingAndGlyphs" >25</text>
<line x1="492.26" y1="241.30" x2="494.46" y2="241.30" stroke="#333" stroke-width="0.7" />
<text x="500.13" y="243.70" font-size="6.4" text-anchor="middle" fill="#222" stroke="#222" stroke-width="0.1" textLength="5.60" lengthAdjust="spacingAndGlyphs" >25</text>
<line x1="505.80" y1="241.30" x2="508.00" y2="241.30" stroke="#333" stroke-width="0.7" />
<text x="258.80" y="254.90" font-size="5.0" text-anchor="start" fill="#222" stroke="#222" stroke-width="0.1" textLength="14.50" lengthAdjust="spacingAndGlyphs" >Aza [IC]</text>
<line x1="278.30" y1="253.30" x2="280.50" y2="253.30" stroke="#333" stroke-width="0.7" />
<line x1="285.07" y1="253.30" x2="287.27" y2="253.30" stroke="#333" stroke-width="0.7" />
<text x="292.94" y="255.70" font-size="6.4" text-anchor="middle" fill="#222" stroke="#222" stroke-width="0.1" textLength="5.60" lengthAdjust="spacingAndGlyphs" >25</text>
<line x1="298.61" y1="253.30" x2="300.81" y2="253.30" stroke="#333" stroke-width="0.7" />
<line x1="305.38" y1="253.30" x2="307.58" y2="253.30" stroke="#333" stroke-width="0.7" />
<text x="313.25" y="255.70" font-size="6.4" text-anchor="middle" fill="#222" stroke="#222" stroke-width="0.1" textLength="5.60" lengthAdjust="spacingAndGlyphs" >50</text>
<line x1="318.92" y1="253.30" x2="321.12" y2="253.30" stroke="#333" stroke-width="0.7" />
<line x1="325.69" y1="253.30" x2="327.89" y2="253.30" stroke="#333" stroke-width="0.7" />
<text x="333.56" y="255.70" font-size="6.4" text-anchor="middle" fill="#222" stroke="#222" stroke-width="0.1" textLength="5.60" lengthAdjust="spacingAndGlyphs" >25</text>
<line x1="339.23" y1="253.30" x2="341.43" y2="253.30" stroke="#333" stroke-width="0.7" />
<text x="347.10" y="255.70" font-size="6.4" text-anchor="middle" fill="#222" stroke="#222" stroke-width="0.1" textLength="5.60" lengthAdjust="spacingAndGlyphs" >25</text>
<line x1="358.10" y1="253.30" x2="360.30" y2="253.30" stroke="#333" stroke-width="0.7" />
<line x1="364.87" y1="253.30" x2="367.07" y2="253.30" stroke="#333" stroke-width="0.7" />
<text x="372.74" y="255.70" font-size="6.4" text-anchor="middle" fill="#222" stroke="#222" stroke-width="0.1" textLength="5.60" lengthAdjust="spacingAndGlyphs" >25</text>
<line x1="378.41" y1="253.30" x2="380.61" y2="253.30" stroke="#333" stroke-width="0.7" />
<line x1="385.18" y1="253.30" x2="387.38" y2="253.30" stroke="#333" stroke-width="0.7" />
<text x="393.05" y="255.70" font-size="6.4" text-anchor="middle" fill="#222" stroke="#222" stroke-width="0.1" textLength="5.60" lengthAdjust="spacingAndGlyphs" >50</text>
<line x1="398.72" y1="253.30" x2="400.92" y2="253.30" stroke="#333" stroke-width="0.7" />
<line x1="405.49" y1="253.30" x2="407.69" y2="253.30" stroke="#333" stroke-width="0.7" />
<text x="413.36" y="255.70" font-size="6.4" text-anchor="middle" fill="#222" stroke="#222" stroke-width="0.1" textLength="5.60" lengthAdjust="spacingAndGlyphs" >25</text>
<line x1="419.03" y1="253.30" x2="421.23" y2="253.30" stroke="#333" stroke-width="0.7" />
<text x="426.90" y="255.70" font-size="6.4" text-anchor="middle" fill="#222" stroke="#222" stroke-width="0.1" textLength="5.60" lengthAdjust="spacingAndGlyphs" >25</text>
<line x1="438.10" y1="253.30" x2="440.30" y2="253.30" stroke="#333" stroke-width="0.7" />
<line x1="444.87" y1="253.30" x2="447.07" y2="253.30" stroke="#333" stroke-width="0.7" />
<text x="452.74" y="255.70" font-size="6.4" text-anchor="middle" fill="#222" stroke="#222" stroke-width="0.1" textLength="5.60" lengthAdjust="spacingAndGlyphs" >25</text>
<line x1="458.41" y1="253.30" x2="460.61" y2="253.30" stroke="#333" stroke-width="0.7" />
<line x1="465.18" y1="253.30" x2="467.38" y2="253.30" stroke="#333" stroke-width="0.7" />
<text x="473.05" y="255.70" font-size="6.4" text-anchor="middle" fill="#222" stroke="#222" stroke-width="0.1" textLength="5.60" lengthAdjust="spacingAndGlyphs" >50</text>
<line x1="478.72" y1="253.30" x2="480.92" y2="253.30" stroke="#333" stroke-width="0.7" />
<line x1="485.49" y1="253.30" x2="487.69" y2="253.30" stroke="#333" stroke-width="0.7" />
<text x="493.36" y="255.70" font-size="6.4" text-anchor="middle" fill="#222" stroke="#222" stroke-width="0.1" textLength="5.60" lengthAdjust="spacingAndGlyphs" >25</text>
<line x1="499.03" y1="253.30" x2="501.23" y2="253.30" stroke="#333" stroke-width="0.7" />
<text x="506.90" y="255.70" font-size="6.4" text-anchor="middle" fill="#222" stroke="#222" stroke-width="0.1" textLength="5.60" lengthAdjust="spacingAndGlyphs" >25</text>
<text x="258.80" y="265.90" font-size="5.0" text-anchor="start" fill="#222" stroke="#222" stroke-width="0.1" textLength="14.50" lengthAdjust="spacingAndGlyphs" >Ven [IC]</text>
<line x1="278.30" y1="264.30" x2="280.50" y2="264.30" stroke="#333" stroke-width="0.7" />
<line x1="285.07" y1="264.30" x2="287.27" y2="264.30" stroke="#333" stroke-width="0.7" />
<line x1="291.84" y1="264.30" x2="294.04" y2="264.30" stroke="#333" stroke-width="0.7" />
<text x="299.71" y="266.70" font-size="6.4" text-anchor="middle" fill="#222" stroke="#222" stroke-width="0.1" textLength="5.60" lengthAdjust="spacingAndGlyphs" >25</text>
<line x1="305.38" y1="264.30" x2="307.58" y2="264.30" stroke="#333" stroke-width="0.7" />
<line x1="312.15" y1="264.30" x2="314.35" y2="264.30" stroke="#333" stroke-width="0.7" />
<text x="320.02" y="266.70" font-size="6.4" text-anchor="middle" fill="#222" stroke="#222" stroke-width="0.1" textLength="5.60" lengthAdjust="spacingAndGlyphs" >50</text>
<text x="326.79" y="266.70" font-size="6.4" text-anchor="middle" fill="#222" stroke="#222" stroke-width="0.1" textLength="5.60" lengthAdjust="spacingAndGlyphs" >25</text>
<text x="333.56" y="266.70" font-size="6.4" text-anchor="middle" fill="#222" stroke="#222" stroke-width="0.1" textLength="5.60" lengthAdjust="spacingAndGlyphs" >25</text>
<text x="340.33" y="266.70" font-size="6.4" text-anchor="middle" fill="#222" stroke="#222" stroke-width="0.1" textLength="5.60" lengthAdjust="spacingAndGlyphs" >50</text>
<text x="347.10" y="266.70" font-size="6.4" text-anchor="middle" fill="#222" stroke="#222" stroke-width="0.1" textLength="5.60" lengthAdjust="spacingAndGlyphs" >50</text>
<line x1="358.10" y1="264.30" x2="360.30" y2="264.30" stroke="#333" stroke-width="0.7" />
<line x1="364.87" y1="264.30" x2="367.07" y2="264.30" stroke="#333" stroke-width="0.7" />
<line x1="371.64" y1="264.30" x2="373.84" y2="264.30" stroke="#333" stroke-width="0.7" />
<text x="379.51" y="266.70" font-size="6.4" text-anchor="middle" fill="#222" stroke="#222" stroke-width="0.1" textLength="5.60" lengthAdjust="spacingAndGlyphs" >25</text>
<line x1="385.18" y1="264.30" x2="387.38" y2="264.30" stroke="#333" stroke-width="0.7" />
<line x1="391.95" y1="264.30" x2="394.15" y2="264.30" stroke="#333" stroke-width="0.7" />
<text x="399.82" y="266.70" font-size="6.4" text-anchor="middle" fill="#222" stroke="#222" stroke-width="0.1" textLength="5.60" lengthAdjust="spacingAndGlyphs" >50</text>
<text x="406.59" y="266.70" font-size="6.4" text-anchor="middle" fill="#222" stroke="#222" stroke-width="0.1" textLength="5.60" lengthAdjust="spacingAndGlyphs" >25</text>
<text x="413.36" y="266.70" font-size="6.4" text-anchor="middle" fill="#222" stroke="#222" stroke-width="0.1" textLength="5.60" lengthAdjust="spacingAndGlyphs" >25</text>
<text x="420.13" y="266.70" font-size="6.4" text-anchor="middle" fill="#222" stroke="#222" stroke-width="0.1" textLength="5.60" lengthAdjust="spacingAndGlyphs" >50</text>
<text x="426.90" y="266.70" font-size="6.4" text-anchor="middle" fill="#222" stroke="#222" stroke-width="0.1" textLength="5.60" lengthAdjust="spacingAndGlyphs" >50</text>
<line x1="438.10" y1="264.30" x2="440.30" y2="264.30" stroke="#333" stroke-width="0.7" />
<line x1="444.87" y1="264.30" x2="447.07" y2="264.30" stroke="#333" stroke-width="0.7" />
<line x1="451.64" y1="264.30" x2="453.84" y2="264.30" stroke="#333" stroke-width="0.7" />
<text x="459.51" y="266.70" font-size="6.4" text-anchor="middle" fill="#222" stroke="#222" stroke-width="0.1" textLength="5.60" lengthAdjust="spacingAndGlyphs" >25</text>
<line x1="465.18" y1="264.30" x2="467.38" y2="264.30" stroke="#333" stroke-width="0.7" />
<line x1="471.95" y1="264.30" x2="474.15" y2="264.30" stroke="#333" stroke-width="0.7" />
<text x="479.82" y="266.70" font-size="6.4" text-anchor="middle" fill="#222" stroke="#222" stroke-width="0.1" textLength="5.60" lengthAdjust="spacingAndGlyphs" >50</text>
<text x="486.59" y="266.70" font-size="6.4" text-anchor="middle" fill="#222" stroke="#222" stroke-width="0.1" textLength="5.60" lengthAdjust="spacingAndGlyphs" >25</text>
<text x="493.36" y="266.70" font-size="6.4" text-anchor="middle" fill="#222" stroke="#222" stroke-width="0.1" textLength="5.60" lengthAdjust="spacingAndGlyphs" >25</text>
<text x="500.13" y="266.70" font-size="6.4" text-anchor="middle" fill="#222" stroke="#222" stroke-width="0.1" textLength="5.60" lengthAdjust="spacingAndGlyphs" >50</text>
<text x="506.90" y="266.70" font-size="6.4" text-anchor="middle" fill="#222" stroke="#222" stroke-width="0.1" textLength="5.60" lengthAdjust="spacingAndGlyphs" >50</text>
<polyline points="310.67,58.28 311.59,58.56 312.51,58.87 313.43,59.20 314.35,59.56 315.27,59.96 316.19,60.39 317.11,60.85 318.03,61.35 318.95,61.90 319.87,62.48 320.79,63.11 321.71,63.78 322.63,64.50 323.55,65.27 324.47,66.08 325.39,66.94 326.31,67.85 327.23,68.81 328.15,69.81 329.07,70.85 329.99,71.93 330.91,73.05 331.83,74.20 332.75,75.38 333.67,76.58 334.59,77.80 335.51,79.03 336.43,80.27 337.35,81.50 338.27,82.72 339.19,83.94 340.11,85.13 341.03,86.30 341.95,87.43 342.87,88.54 343.79,89.60 344.71,90.63 345.63,91.61 346.55,92.54 347.47,93.43 348.39,94.27 349.31,95.06 350.23,95.80 351.15,96.50 352.07,97.15 352.99,97.76 353.91,98.32 354.83,98.85 355.75,99.33 356.67,99.78 357.59,100.19 358.51,100.57 359.42,100.92 360.34,101.24 361.26,101.54 362.18,101.80 363.10,102.05 364.02,102.27 364.94,102.48 365.86,102.67" fill="none" stroke="#2aa84a" stroke-width="1.3"/>
<line x1="310.67" y1="57.60" x2="310.67" y2="60.65" stroke="#2aa84a" stroke-width="0.7" />
<rect x="309.57" y="58.02" width="2.20" height="2.20" fill="#2aa84a" />
<line x1="314.61" y1="58.49" x2="314.61" y2="61.69" stroke="#2aa84a" stroke-width="0.7" />
<rect x="313.51" y="58.99" width="2.20" height="2.20" fill="#2aa84a" />
<line x1="318.55" y1="60.37" x2="318.55" y2="62.14" stroke="#2aa84a" stroke-width="0.7" />
<rect x="317.45" y="60.16" width="2.20" height="2.20" fill="#2aa84a" />
<line x1="322.50" y1="64.04" x2="322.50" y2="67.87" stroke="#2aa84a" stroke-width="0.7" />
<rect x="321.40" y="64.85" width="2.20" height="2.20" fill="#2aa84a" />
<line x1="326.44" y1="67.64" x2="326.44" y2="69.86" stroke="#2aa84a" stroke-width="0.7" />
<rect x="325.34" y="67.65" width="2.20" height="2.20" fill="#2aa84a" />
<line x1="330.38" y1="69.40" x2="330.38" y2="72.25" stroke="#2aa84a" stroke-width="0.7" />
<rect x="329.28" y="69.72" width="2.20" height="2.20" fill="#2aa84a" />
<line x1="334.32" y1="74.94" x2="334.32" y2="77.81" stroke="#2aa84a" stroke-width="0.7" />
<rect x="333.22" y="75.28" width="2.20" height="2.20" fill="#2aa84a" />
<line x1="338.27" y1="81.28" x2="338.27" y2="83.28" stroke="#2aa84a" stroke-width="0.7" />
<rect x="337.17" y="81.18" width="2.20" height="2.20" fill="#2aa84a" />
<line x1="342.21" y1="85.36" x2="342.21" y2="89.28" stroke="#2aa84a" stroke-width="0.7" />
<rect x="341.11" y="86.22" width="2.20" height="2.20" fill="#2aa84a" />
<line x1="346.15" y1="90.28" x2="346.15" y2="93.86" stroke="#2aa84a" stroke-width="0.7" />
<rect x="345.05" y="90.97" width="2.20" height="2.20" fill="#2aa84a" />
<line x1="350.09" y1="94.27" x2="350.09" y2="96.04" stroke="#2aa84a" stroke-width="0.7" />
<rect x="348.99" y="94.05" width="2.20" height="2.20" fill="#2aa84a" />
<line x1="354.04" y1="95.99" x2="354.04" y2="99.16" stroke="#2aa84a" stroke-width="0.7" />
<rect x="352.94" y="96.48" width="2.20" height="2.20" fill="#2aa84a" />
<line x1="357.98" y1="100.15" x2="357.98" y2="101.84" stroke="#2aa84a" stroke-width="0.7" />
<rect x="356.88" y="99.90" width="2.20" height="2.20" fill="#2aa84a" />
<line x1="361.92" y1="99.13" x2="361.92" y2="101.99" stroke="#2aa84a" stroke-width="0.7" />
<rect x="360.82" y="99.46" width="2.20" height="2.20" fill="#2aa84a" />
<line x1="365.86" y1="100.00" x2="365.86" y2="103.94" stroke="#2aa84a" stroke-width="0.7" />
<rect x="364.76" y="100.87" width="2.20" height="2.20" fill="#2aa84a" />
<polyline points="310.67,58.38 311.59,58.66 312.51,58.98 313.43,59.32 314.35,59.70 315.27,60.10 316.19,60.54 317.11,61.02 318.03,61.54 318.95,62.09 319.87,62.69 320.79,63.33 321.71,64.02 322.63,64.76 323.55,65.54 324.47,66.37 325.39,67.25 326.31,68.17 327.23,69.14 328.15,70.16 329.07,71.22 329.99,72.31 330.91,73.44 331.83,74.60 332.75,75.79 333.67,77.00 334.59,78.22 335.51,79.45 336.43,80.69 337.35,81.92 338.27,83.14 339.19,84.35 340.11,85.53 341.03,86.69 341.95,87.82 342.87,88.91 343.79,89.96 344.71,90.97 345.63,91.93 346.55,92.85 347.47,93.72 348.39,94.54 349.31,95.32 350.23,96.05 351.15,96.73 352.07,97.37 352.99,97.96 353.91,98.51 354.83,99.02 355.75,99.49 356.67,99.93 357.59,100.33 358.51,100.70 359.42,101.04 360.34,101.35 361.26,101.63 362.18,101.89 363.10,102.13 364.02,102.35 364.94,102.55 365.86,102.73" fill="none" stroke="#34a853" stroke-width="1.3"/>
<line x1="310.67" y1="55.66" x2="310.67" y2="59.72" stroke="#34a853" stroke-width="0.7" />
<rect x="309.57" y="56.59" width="2.20" height="2.20" fill="#34a853" />
<line x1="314.61" y1="58.28" x2="314.61" y2="62.01" stroke="#34a853" stroke-width="0.7" />
<rect x="313.51" y="59.04" width="2.20" height="2.20" fill="#34a853" />
<line x1="318.55" y1="59.98" x2="318.55" y2="64.07" stroke="#34a853" stroke-width="0.7" />
<rect x="317.45" y="60.93" width="2.20" height="2.20" fill="#34a853" />
<line x1="322.50" y1="62.51" x2="322.50" y2="64.37" stroke="#34a853" stroke-width="0.7" />
<rect x="321.40" y="62.34" width="2.20" height="2.20" fill="#34a853" />
<line x1="326.44" y1="68.38" x2="326.44" y2="70.56" stroke="#34a853" stroke-width="0.7" />
<rect x="325.34" y="68.37" width="2.20" height="2.20" fill="#34a853" />
<line x1="330.38" y1="69.92" x2="330.38" y2="72.68" stroke="#34a853" stroke-width="0.7" />
<rect x="329.28" y="70.20" width="2.20" height="2.20" fill="#34a853" />
<line x1="334.32" y1="76.27" x2="334.32" y2="78.67" stroke="#34a853" stroke-width="0.7" />
<rect x="333.22" y="76.37" width="2.20" height="2.20" fill="#34a853" />
<line x1="338.27" y1="81.81" x2="338.27" y2="84.43" stroke="#34a853" stroke-width="0.7" />
<rect x="337.17" y="82.02" width="2.20" height="2.20" fill="#34a853" />
<line x1="342.21" y1="87.03" x2="342.21" y2="90.19" stroke="#34a853" stroke-width="0.7" />
<rect x="341.11" y="87.51" width="2.20" height="2.20" fill="#34a853" />
<line x1="346.15" y1="90.19" x2="346.15" y2="94.20" stroke="#34a853" stroke-width="0.7" />
<rect x="345.05" y="91.09" width="2.20" height="2.20" fill="#34a853" />
<line x1="350.09" y1="93.33" x2="350.09" y2="97.40" stroke="#34a853" stroke-width="0.7" />
<rect x="348.99" y="94.26" width="2.20" height="2.20" fill="#34a853" />
<line x1="354.04" y1="95.32" x2="354.04" y2="99.56" stroke="#34a853" stroke-width="0.7" />
<rect x="352.94" y="96.34" width="2.20" height="2.20" fill="#34a853" />
<line x1="357.98" y1="98.92" x2="357.98" y2="100.96" stroke="#34a853" stroke-width="0.7" />
<rect x="356.88" y="98.84" width="2.20" height="2.20" fill="#34a853" />
<line x1="361.92" y1="98.58" x2="361.92" y2="102.75" stroke="#34a853" stroke-width="0.7" />
<rect x="360.82" y="99.57" width="2.20" height="2.20" fill="#34a853" />
<line x1="365.86" y1="99.87" x2="365.86" y2="102.99" stroke="#34a853" stroke-width="0.7" />
<rect x="364.76" y="100.33" width="2.20" height="2.20" fill="#34a853" />
<polyline points="310.67,58.64 311.59,58.92 312.51,59.23 313.43,59.57 314.35,59.94 315.27,60.35 316.19,60.79 317.11,61.28 318.03,61.80 318.95,62.38 319.87,62.99 320.79,63.66 321.71,64.38 322.63,65.15 323.55,65.98 324.47,66.86 325.39,67.79 326.31,68.77 327.23,69.81 328.15,70.90 329.07,72.03 329.99,73.20 330.91,74.41 331.83,75.65 332.75,76.92 333.67,78.21 334.59,79.51 335.51,80.81 336.43,82.11 337.35,83.40 338.27,84.67 339.19,85.91 340.11,87.13 341.03,88.31 341.95,89.45 342.87,90.54 343.79,91.58 344.71,92.58 345.63,93.51 346.55,94.40 347.47,95.23 348.39,96.01 349.31,96.74 350.23,97.41 351.15,98.04 352.07,98.62 352.99,99.15 353.91,99.64 354.83,100.09 355.75,100.50 356.67,100.88 357.59,101.23 358.51,101.54 359.42,101.82 360.34,102.08 361.26,102.32 362.18,102.53 363.10,102.73 364.02,102.90 364.94,103.06 365.86,103.20" fill="none" stroke="#5cc56a" stroke-width="1.3"/>
<line x1="310.67" y1="56.87" x2="310.67" y2="59.04" stroke="#5cc56a" stroke-width="0.7" />
<rect x="309.57" y="56.85" width="2.20" height="2.20" fill="#5cc56a" />
<line x1="314.61" y1="57.43" x2="314.61" y2="60.56" stroke="#5cc56a" stroke-width="0.7" />
<rect x="313.51" y="57.89" width="2.20" height="2.20" fill="#5cc56a" />
<line x1="318.55" y1="61.93" x2="318.55" y2="63.70" stroke="#5cc56a" stroke-width="0.7" />
<rect x="317.45" y="61.71" width="2.20" height="2.20" fill="#5cc56a" />
<line x1="322.50" y1="61.79" x2="322.50" y2="66.03" stroke="#5cc56a" stroke-width="0.7" />
<rect x="321.40" y="62.81" width="2.20" height="2.20" fill="#5cc56a" />
<line x1="326.44" y1="68.37" x2="326.44" y2="72.10" stroke="#5cc56a" stroke-width="0.7" />
<rect x="325.34" y="69.13" width="2.20" height="2.20" fill="#5cc56a" />
<line x1="330.38" y1="73.00" x2="330.38" y2="75.00" stroke="#5cc56a" stroke-width="0.7" />
<rect x="329.28" y="72.90" width="2.20" height="2.20" fill="#5cc56a" />
<line x1="334.32" y1="77.97" x2="334.32" y2="81.62" stroke="#5cc56a" stroke-width="0.7" />
<rect x="333.22" y="78.69" width="2.20" height="2.20" fill="#5cc56a" />
<line x1="338.27" y1="82.62" x2="338.27" y2="84.33" stroke="#5cc56a" stroke-width="0.7" />
<rect x="337.17" y="82.38" width="2.20" height="2.20" fill="#5cc56a" />
<line x1="342.21" y1="88.54" x2="342.21" y2="90.26" stroke="#5cc56a" stroke-width="0.7" />
<rect x="341.11" y="88.30" width="2.20" height="2.20" fill="#5cc56a" />
<line x1="346.15" y1="92.09" x2="346.15" y2="94.57" stroke="#5cc56a" stroke-width="0.7" />
<rect x="345.05" y="92.23" width="2.20" height="2.20" fill="#5cc56a" />
<line x1="350.09" y1="94.00" x2="350.09" y2="98.21" stroke="#5cc56a" stroke-width="0.7" />
<rect x="348.99" y="95.00" width="2.20" height="2.20" fill="#5cc56a" />
<line x1="354.04" y1="97.56" x2="354.04" y2="101.82" stroke="#5cc56a" stroke-width="0.7" />
<rect x="352.94" y="98.59" width="2.20" height="2.20" fill="#5cc56a" />
<line x1="357.98" y1="101.07" x2="357.98" y2="102.87" stroke="#5cc56a" stroke-width="0.7" />
<rect x="356.88" y="100.87" width="2.20" height="2.20" fill="#5cc56a" />
<line x1="361.92" y1="101.31" x2="361.92" y2="103.00" stroke="#5cc56a" stroke-width="0.7" />
<rect x="360.82" y="101.05" width="2.20" height="2.20" fill="#5cc56a" />
<line x1="365.86" y1="102.83" x2="365.86" y2="105.51" stroke="#5cc56a" stroke-width="0.7" />
<rect x="364.76" y="103.07" width="2.20" height="2.20" fill="#5cc56a" />
<polyline points="310.67,56.80 311.59,57.00 312.51,57.22 313.43,57.47 314.35,57.74 315.27,58.04 316.19,58.37 317.11,58.73 318.03,59.12 318.95,59.55 319.87,60.02 320.79,60.54 321.71,61.09 322.63,61.70 323.55,62.35 324.47,63.05 325.39,63.81 326.31,64.62 327.23,65.48 328.15,66.40 329.07,67.38 329.99,68.41 330.91,69.49 331.83,70.61 332.75,71.79 333.67,73.00 334.59,74.25 335.51,75.53 336.43,76.84 337.35,78.16 338.27,79.49 339.19,80.82 340.11,82.14 341.03,83.46 341.95,84.74 342.87,86.01 343.79,87.23 344.71,88.42 345.63,89.57 346.55,90.66 347.47,91.71 348.39,92.70 349.31,93.64 350.23,94.53 351.15,95.35 352.07,96.13 352.99,96.85 353.91,97.52 354.83,98.14 355.75,98.71 356.67,99.24 357.59,99.72 358.51,100.17 359.42,100.58 360.34,100.95 361.26,101.29 362.18,101.59 363.10,101.87 364.02,102.13 364.94,102.36 365.86,102.57" fill="none" stroke="#1c5a96" stroke-width="1.4"/>
<line x1="310.67" y1="55.44" x2="310.67" y2="57.45" stroke="#1c5a96" stroke-width="0.7" />
<rect x="309.57" y="55.34" width="2.20" height="2.20" fill="#1c5a96" />
<line x1="314.61" y1="57.33" x2="314.61" y2="61.24" stroke="#1c5a96" stroke-width="0.7" />
<rect x="313.51" y="58.19" width="2.20" height="2.20" fill="#1c5a96" />
<line x1="318.55" y1="57.88" x2="318.55" y2="62.04" stroke="#1c5a96" stroke-width="0.7" />
<rect x="317.45" y="58.86" width="2.20" height="2.20" fill="#1c5a96" />
<line x1="322.50" y1="59.04" x2="322.50" y2="61.64" stroke="#1c5a96" stroke-width="0.7" />
<rect x="321.40" y="59.24" width="2.20" height="2.20" fill="#1c5a96" />
<line x1="326.44" y1="63.37" x2="326.44" y2="66.36" stroke="#1c5a96" stroke-width="0.7" />
<rect x="325.34" y="63.77" width="2.20" height="2.20" fill="#1c5a96" />
<line x1="330.38" y1="66.81" x2="330.38" y2="70.00" stroke="#1c5a96" stroke-width="0.7" />
<rect x="329.28" y="67.30" width="2.20" height="2.20" fill="#1c5a96" />
<line x1="334.32" y1="72.08" x2="334.32" y2="75.33" stroke="#1c5a96" stroke-width="0.7" />
<rect x="333.22" y="72.60" width="2.20" height="2.20" fill="#1c5a96" />
<line x1="338.27" y1="76.61" x2="338.27" y2="79.56" stroke="#1c5a96" stroke-width="0.7" />
<rect x="337.17" y="76.98" width="2.20" height="2.20" fill="#1c5a96" />
<line x1="342.21" y1="83.57" x2="342.21" y2="87.09" stroke="#1c5a96" stroke-width="0.7" />
<rect x="341.11" y="84.23" width="2.20" height="2.20" fill="#1c5a96" />
<line x1="346.15" y1="89.84" x2="346.15" y2="92.24" stroke="#1c5a96" stroke-width="0.7" />
<rect x="345.05" y="89.94" width="2.20" height="2.20" fill="#1c5a96" />
<line x1="350.09" y1="91.38" x2="350.09" y2="94.37" stroke="#1c5a96" stroke-width="0.7" />
<rect x="348.99" y="91.78" width="2.20" height="2.20" fill="#1c5a96" />
<line x1="354.04" y1="96.64" x2="354.04" y2="98.27" stroke="#1c5a96" stroke-width="0.7" />
<rect x="352.94" y="96.36" width="2.20" height="2.20" fill="#1c5a96" />
<line x1="357.98" y1="98.62" x2="357.98" y2="101.76" stroke="#1c5a96" stroke-width="0.7" />
<rect x="356.88" y="99.09" width="2.20" height="2.20" fill="#1c5a96" />
<line x1="361.92" y1="101.42" x2="361.92" y2="104.66" stroke="#1c5a96" stroke-width="0.7" />
<rect x="360.82" y="101.94" width="2.20" height="2.20" fill="#1c5a96" />
<line x1="365.86" y1="101.27" x2="365.86" y2="103.03" stroke="#1c5a96" stroke-width="0.7" />
<rect x="364.76" y="101.05" width="2.20" height="2.20" fill="#1c5a96" />
<polyline points="310.67,58.35 311.59,58.60 312.51,58.87 313.43,59.17 314.35,59.49 315.27,59.85 316.19,60.23 317.11,60.66 318.03,61.12 318.95,61.61 319.87,62.16 320.79,62.74 321.71,63.37 322.63,64.05 323.55,64.77 324.47,65.55 325.39,66.38 326.31,67.25 327.23,68.18 328.15,69.16 329.07,70.18 329.99,71.25 330.91,72.36 331.83,73.51 332.75,74.69 333.67,75.90 334.59,77.13 335.51,78.37 336.43,79.63 337.35,80.88 338.27,82.13 339.19,83.37 340.11,84.59 341.03,85.79 341.95,86.96 342.87,88.09 343.79,89.18 344.71,90.23 345.63,91.23 346.55,92.19 347.47,93.10 348.39,93.95 349.31,94.76 350.23,95.51 351.15,96.22 352.07,96.87 352.99,97.48 353.91,98.05 354.83,98.57 355.75,99.05 356.67,99.50 357.59,99.90 358.51,100.28 359.42,100.62 360.34,100.93 361.26,101.22 362.18,101.48 363.10,101.71 364.02,101.93 364.94,102.12 365.86,102.30" fill="none" stroke="#3cb54a" stroke-width="1.4"/>
<line x1="310.67" y1="56.53" x2="310.67" y2="59.37" stroke="#3cb54a" stroke-width="0.7" />
<rect x="309.57" y="56.85" width="2.20" height="2.20" fill="#3cb54a" />
<line x1="314.61" y1="57.75" x2="314.61" y2="60.29" stroke="#3cb54a" stroke-width="0.7" />
<rect x="313.51" y="57.92" width="2.20" height="2.20" fill="#3cb54a" />
<line x1="318.55" y1="58.95" x2="318.55" y2="62.52" stroke="#3cb54a" stroke-width="0.7" />
<rect x="317.45" y="59.63" width="2.20" height="2.20" fill="#3cb54a" />
<line x1="322.50" y1="64.60" x2="322.50" y2="66.36" stroke="#3cb54a" stroke-width="0.7" />
<rect x="321.40" y="64.38" width="2.20" height="2.20" fill="#3cb54a" />
<line x1="326.44" y1="64.74" x2="326.44" y2="68.90" stroke="#3cb54a" stroke-width="0.7" />
<rect x="325.34" y="65.72" width="2.20" height="2.20" fill="#3cb54a" />
<line x1="330.38" y1="71.11" x2="330.38" y2="73.92" stroke="#3cb54a" stroke-width="0.7" />
<rect x="329.28" y="71.42" width="2.20" height="2.20" fill="#3cb54a" />
<line x1="334.32" y1="75.25" x2="334.32" y2="77.70" stroke="#3cb54a" stroke-width="0.7" />
<rect x="333.22" y="75.38" width="2.20" height="2.20" fill="#3cb54a" />
<line x1="338.27" y1="81.35" x2="338.27" y2="83.78" stroke="#3cb54a" stroke-width="0.7" />
<rect x="337.17" y="81.47" width="2.20" height="2.20" fill="#3cb54a" />
<line x1="342.21" y1="86.11" x2="342.21" y2="89.30" stroke="#3cb54a" stroke-width="0.7" />
<rect x="341.11" y="86.60" width="2.20" height="2.20" fill="#3cb54a" />
<line x1="346.15" y1="91.12" x2="346.15" y2="93.73" stroke="#3cb54a" stroke-width="0.7" />
<rect x="345.05" y="91.32" width="2.20" height="2.20" fill="#3cb54a" />
<line x1="350.09" y1="93.70" x2="350.09" y2="95.37" stroke="#3cb54a" stroke-width="0.7" />
<rect x="348.99" y="93.44" width="2.20" height="2.20" fill="#3cb54a" />
<line x1="354.04" y1="96.13" x2="354.04" y2="99.68" stroke="#3cb54a" stroke-width="0.7" />
<rect x="352.94" y="96.81" width="2.20" height="2.20" fill="#3cb54a" />
<line x1="357.98" y1="99.58" x2="357.98" y2="101.77" stroke="#3cb54a" stroke-width="0.7" />
<rect x="356.88" y="99.58" width="2.20" height="2.20" fill="#3cb54a" />
<line x1="361.92" y1="99.31" x2="361.92" y2="101.55" stroke="#3cb54a" stroke-width="0.7" />
<rect x="360.82" y="99.33" width="2.20" height="2.20" fill="#3cb54a" />
<line x1="365.86" y1="101.92" x2="365.86" y2="104.68" stroke="#3cb54a" stroke-width="0.7" />
<rect x="364.76" y="102.20" width="2.20" height="2.20" fill="#3cb54a" />
<polyline points="310.67,63.51 311.59,64.03 312.51,64.60 313.43,65.22 314.35,65.89 315.27,66.62 316.19,67.41 317.11,68.26 318.03,69.17 318.95,70.14 319.87,71.16 320.79,72.25 321.71,73.39 322.63,74.59 323.55,75.83 324.47,77.11 325.39,78.42 326.31,79.77 327.23,81.13 328.15,82.51 329.07,83.88 329.99,85.25 330.91,86.60 331.83,87.93 332.75,89.23 333.67,90.49 334.59,91.70 335.51,92.86 336.43,93.97 337.35,95.02 338.27,96.02 339.19,96.95 340.11,97.82 341.03,98.63 341.95,99.38 342.87,100.08 343.79,100.72 344.71,101.31 345.63,101.85 346.55,102.34 347.47,102.79 348.39,103.20 349.31,103.58 350.23,103.91 351.15,104.22 352.07,104.49 352.99,104.74 353.91,104.96 354.83,105.16 355.75,105.35 356.67,105.51 357.59,105.66 358.51,105.79 359.42,105.90 360.34,106.01 361.26,106.10 362.18,106.19 363.10,106.26 364.02,106.33 364.94,106.39 365.86,106.45" fill="none" stroke="#d2203f" stroke-width="1.4"/>
<line x1="310.67" y1="61.94" x2="310.67" y2="63.81" stroke="#d2203f" stroke-width="0.7" />
<rect x="309.57" y="61.78" width="2.20" height="2.20" fill="#d2203f" />
<line x1="314.61" y1="65.42" x2="314.61" y2="67.91" stroke="#d2203f" stroke-width="0.7" />
<rect x="313.51" y="65.57" width="2.20" height="2.20" fill="#d2203f" />
<line x1="318.55" y1="67.26" x2="318.55" y2="70.03" stroke="#d2203f" stroke-width="0.7" />
<rect x="317.45" y="67.55" width="2.20" height="2.20" fill="#d2203f" />
<line x1="322.50" y1="72.25" x2="322.50" y2="74.30" stroke="#d2203f" stroke-width="0.7" />
<rect x="321.40" y="72.18" width="2.20" height="2.20" fill="#d2203f" />
<line x1="326.44" y1="78.82" x2="326.44" y2="82.15" stroke="#d2203f" stroke-width="0.7" />
<rect x="325.34" y="79.39" width="2.20" height="2.20" fill="#d2203f" />
<line x1="330.38" y1="83.20" x2="330.38" y2="86.00" stroke="#d2203f" stroke-width="0.7" />
<rect x="329.28" y="83.50" width="2.20" height="2.20" fill="#d2203f" />
<line x1="334.32" y1="91.28" x2="334.32" y2="93.20" stroke="#d2203f" stroke-width="0.7" />
<rect x="333.22" y="91.14" width="2.20" height="2.20" fill="#d2203f" />
<line x1="338.27" y1="94.87" x2="338.27" y2="96.97" stroke="#d2203f" stroke-width="0.7" />
<rect x="337.17" y="94.82" width="2.20" height="2.20" fill="#d2203f" />
<line x1="342.21" y1="96.69" x2="342.21" y2="100.52" stroke="#d2203f" stroke-width="0.7" />
<rect x="341.11" y="97.51" width="2.20" height="2.20" fill="#d2203f" />
<line x1="346.15" y1="101.98" x2="346.15" y2="104.32" stroke="#d2203f" stroke-width="0.7" />
<rect x="345.05" y="102.05" width="2.20" height="2.20" fill="#d2203f" />
<line x1="350.09" y1="101.23" x2="350.09" y2="104.54" stroke="#d2203f" stroke-width="0.7" />
<rect x="348.99" y="101.78" width="2.20" height="2.20" fill="#d2203f" />
<line x1="354.04" y1="102.75" x2="354.04" y2="105.27" stroke="#d2203f" stroke-width="0.7" />
<rect x="352.94" y="102.91" width="2.20" height="2.20" fill="#d2203f" />
<line x1="357.98" y1="105.71" x2="357.98" y2="108.09" stroke="#d2203f" stroke-width="0.7" />
<rect x="356.88" y="105.80" width="2.20" height="2.20" fill="#d2203f" />
<line x1="361.92" y1="104.07" x2="361.92" y2="106.39" stroke="#d2203f" stroke-width="0.7" />
<rect x="360.82" y="104.13" width="2.20" height="2.20" fill="#d2203f" />
<line x1="365.86" y1="105.58" x2="365.86" y2="108.29" stroke="#d2203f" stroke-width="0.7" />
<rect x="364.76" y="105.84" width="2.20" height="2.20" fill="#d2203f" />
<rect x="307.20" y="49.30" width="63.50" height="58.40" fill="none" stroke="#000" stroke-width="1.3" />
<line x1="305.20" y1="107.70" x2="307.20" y2="107.70" stroke="#000" stroke-width="0.8" />
<line x1="305.20" y1="94.38" x2="307.20" y2="94.38" stroke="#000" stroke-width="0.8" />
<line x1="305.20" y1="81.05" x2="307.20" y2="81.05" stroke="#000" stroke-width="0.8" />
<line x1="305.20" y1="67.72" x2="307.20" y2="67.72" stroke="#000" stroke-width="0.8" />
<line x1="305.20" y1="54.40" x2="307.20" y2="54.40" stroke="#000" stroke-width="0.8" />
<line x1="318.55" y1="107.70" x2="318.55" y2="109.70" stroke="#000" stroke-width="0.8" />
<text x="318.55" y="119.30" font-size="7.6" text-anchor="middle" fill="#000" stroke="#000" stroke-width="0.1" >−8</text>
<line x1="334.32" y1="107.70" x2="334.32" y2="109.70" stroke="#000" stroke-width="0.8" />
<text x="334.32" y="119.30" font-size="7.6" text-anchor="middle" fill="#000" stroke="#000" stroke-width="0.1" >−7</text>
<line x1="350.09" y1="107.70" x2="350.09" y2="109.70" stroke="#000" stroke-width="0.8" />
<text x="350.09" y="119.30" font-size="7.6" text-anchor="middle" fill="#000" stroke="#000" stroke-width="0.1" >−6</text>
<line x1="365.86" y1="107.70" x2="365.86" y2="109.70" stroke="#000" stroke-width="0.8" />
<text x="365.86" y="119.30" font-size="7.6" text-anchor="middle" fill="#000" stroke="#000" stroke-width="0.1" >−5</text>
<line x1="307.53" y1="106.50" x2="307.53" y2="107.70" stroke="#000" stroke-width="0.5" />
<line x1="310.31" y1="106.50" x2="310.31" y2="107.70" stroke="#000" stroke-width="0.5" />
<line x1="312.28" y1="106.50" x2="312.28" y2="107.70" stroke="#000" stroke-width="0.5" />
<line x1="313.81" y1="106.50" x2="313.81" y2="107.70" stroke="#000" stroke-width="0.5" />
<line x1="315.06" y1="106.50" x2="315.06" y2="107.70" stroke="#000" stroke-width="0.5" />
<line x1="316.11" y1="106.50" x2="316.11" y2="107.70" stroke="#000" stroke-width="0.5" />
<line x1="317.03" y1="106.50" x2="317.03" y2="107.70" stroke="#000" stroke-width="0.5" />
<line x1="317.83" y1="106.50" x2="317.83" y2="107.70" stroke="#000" stroke-width="0.5" />
<line x1="323.30" y1="106.50" x2="323.30" y2="107.70" stroke="#000" stroke-width="0.5" />
<line x1="326.08" y1="106.50" x2="326.08" y2="107.70" stroke="#000" stroke-width="0.5" />
<line x1="328.05" y1="106.50" x2="328.05" y2="107.70" stroke="#000" stroke-width="0.5" />
<line x1="329.58" y1="106.50" x2="329.58" y2="107.70" stroke="#000" stroke-width="0.5" />
<line x1="330.83" y1="106.50" x2="330.83" y2="107.70" stroke="#000" stroke-width="0.5" />
<line x1="331.88" y1="106.50" x2="331.88" y2="107.70" stroke="#000" stroke-width="0.5" />
<line x1="332.80" y1="106.50" x2="332.80" y2="107.70" stroke="#000" stroke-width="0.5" />
<line x1="333.60" y1="106.50" x2="333.60" y2="107.70" stroke="#000" stroke-width="0.5" />
<line x1="339.07" y1="106.50" x2="339.07" y2="107.70" stroke="#000" stroke-width="0.5" />
<line x1="341.85" y1="106.50" x2="341.85" y2="107.70" stroke="#000" stroke-width="0.5" />
<line x1="343.82" y1="106.50" x2="343.82" y2="107.70" stroke="#000" stroke-width="0.5" />
<line x1="345.35" y1="106.50" x2="345.35" y2="107.70" stroke="#000" stroke-width="0.5" />
<line x1="346.60" y1="106.50" x2="346.60" y2="107.70" stroke="#000" stroke-width="0.5" />
<line x1="347.65" y1="106.50" x2="347.65" y2="107.70" stroke="#000" stroke-width="0.5" />
<line x1="348.57" y1="106.50" x2="348.57" y2="107.70" stroke="#000" stroke-width="0.5" />
<line x1="349.37" y1="106.50" x2="349.37" y2="107.70" stroke="#000" stroke-width="0.5" />
<line x1="354.84" y1="106.50" x2="354.84" y2="107.70" stroke="#000" stroke-width="0.5" />
<line x1="357.62" y1="106.50" x2="357.62" y2="107.70" stroke="#000" stroke-width="0.5" />
<line x1="359.59" y1="106.50" x2="359.59" y2="107.70" stroke="#000" stroke-width="0.5" />
<line x1="361.12" y1="106.50" x2="361.12" y2="107.70" stroke="#000" stroke-width="0.5" />
<line x1="362.37" y1="106.50" x2="362.37" y2="107.70" stroke="#000" stroke-width="0.5" />
<line x1="363.42" y1="106.50" x2="363.42" y2="107.70" stroke="#000" stroke-width="0.5" />
<line x1="364.34" y1="106.50" x2="364.34" y2="107.70" stroke="#000" stroke-width="0.5" />
<line x1="365.14" y1="106.50" x2="365.14" y2="107.70" stroke="#000" stroke-width="0.5" />
<line x1="370.61" y1="106.50" x2="370.61" y2="107.70" stroke="#000" stroke-width="0.5" />
<text x="368.90" y="58.30" font-size="6.0" text-anchor="end" fill="#333" stroke="#333" stroke-width="0.1" textLength="25.00" lengthAdjust="spacingAndGlyphs" >p&lt;0.0001</text>
<text x="338.80" y="46.10" font-size="8.3" text-anchor="middle" fill="#222" stroke="#222" stroke-width="0.1" textLength="55.00" lengthAdjust="spacingAndGlyphs" >Decitabine (Dec)</text>
<text x="338.95" y="132.20" font-size="8.8" text-anchor="middle" fill="#222" stroke="#222" stroke-width="0.1" textLength="20.50" lengthAdjust="spacingAndGlyphs" >log [M]</text>
<polyline points="383.43,56.03 384.34,56.04 385.26,56.04 386.17,56.05 387.08,56.06 387.99,56.07 388.90,56.08 389.81,56.09 390.73,56.11 391.64,56.13 392.55,56.15 393.46,56.18 394.37,56.21 395.29,56.25 396.20,56.29 397.11,56.34 398.02,56.40 398.93,56.47 399.84,56.56 400.76,56.65 401.67,56.76 402.58,56.90 403.49,57.05 404.40,57.23 405.31,57.44 406.23,57.68 407.14,57.96 408.05,58.29 408.96,58.66 409.87,59.10 410.79,59.60 411.70,60.17 412.61,60.83 413.52,61.57 414.43,62.42 415.34,63.36 416.26,64.42 417.17,65.59 418.08,66.88 418.99,68.28 419.90,69.80 420.81,71.42 421.73,73.13 422.64,74.92 423.55,76.76 424.46,78.64 425.37,80.53 426.28,82.41 427.20,84.24 428.11,86.02 429.02,87.72 429.93,89.33 430.84,90.83 431.76,92.21 432.67,93.49 433.58,94.64 434.49,95.68 435.40,96.61 436.31,97.44 437.23,98.17 438.14,98.81" fill="none" stroke="#2aa84a" stroke-width="1.3"/>
<line x1="383.43" y1="54.94" x2="383.43" y2="57.63" stroke="#2aa84a" stroke-width="0.7" />
<rect x="382.33" y="55.19" width="2.20" height="2.20" fill="#2aa84a" />
<line x1="387.34" y1="53.71" x2="387.34" y2="55.72" stroke="#2aa84a" stroke-width="0.7" />
<rect x="386.24" y="53.62" width="2.20" height="2.20" fill="#2aa84a" />
<line x1="391.25" y1="55.65" x2="391.25" y2="59.76" stroke="#2aa84a" stroke-width="0.7" />
<rect x="390.15" y="56.61" width="2.20" height="2.20" fill="#2aa84a" />
<line x1="395.16" y1="52.91" x2="395.16" y2="57.14" stroke="#2aa84a" stroke-width="0.7" />
<rect x="394.06" y="53.93" width="2.20" height="2.20" fill="#2aa84a" />
<line x1="399.06" y1="54.63" x2="399.06" y2="58.76" stroke="#2aa84a" stroke-width="0.7" />
<rect x="397.96" y="55.59" width="2.20" height="2.20" fill="#2aa84a" />
<line x1="402.97" y1="54.50" x2="402.97" y2="56.69" stroke="#2aa84a" stroke-width="0.7" />
<rect x="401.87" y="54.49" width="2.20" height="2.20" fill="#2aa84a" />
<line x1="406.88" y1="55.18" x2="406.88" y2="59.01" stroke="#2aa84a" stroke-width="0.7" />
<rect x="405.78" y="55.99" width="2.20" height="2.20" fill="#2aa84a" />
<line x1="410.79" y1="57.59" x2="410.79" y2="60.57" stroke="#2aa84a" stroke-width="0.7" />
<rect x="409.69" y="57.98" width="2.20" height="2.20" fill="#2aa84a" />
<line x1="414.69" y1="62.10" x2="414.69" y2="64.60" stroke="#2aa84a" stroke-width="0.7" />
<rect x="413.59" y="62.25" width="2.20" height="2.20" fill="#2aa84a" />
<line x1="418.60" y1="67.65" x2="418.60" y2="69.43" stroke="#2aa84a" stroke-width="0.7" />
<rect x="417.50" y="67.44" width="2.20" height="2.20" fill="#2aa84a" />
<line x1="422.51" y1="73.19" x2="422.51" y2="75.56" stroke="#2aa84a" stroke-width="0.7" />
<rect x="421.41" y="73.28" width="2.20" height="2.20" fill="#2aa84a" />
<line x1="426.42" y1="80.82" x2="426.42" y2="82.54" stroke="#2aa84a" stroke-width="0.7" />
<rect x="425.32" y="80.58" width="2.20" height="2.20" fill="#2aa84a" />
<line x1="430.32" y1="86.97" x2="430.32" y2="90.42" stroke="#2aa84a" stroke-width="0.7" />
<rect x="429.22" y="87.59" width="2.20" height="2.20" fill="#2aa84a" />
<line x1="434.23" y1="92.05" x2="434.23" y2="96.03" stroke="#2aa84a" stroke-width="0.7" />
<rect x="433.13" y="92.94" width="2.20" height="2.20" fill="#2aa84a" />
<line x1="438.14" y1="95.97" x2="438.14" y2="99.10" stroke="#2aa84a" stroke-width="0.7" />
<rect x="437.04" y="96.44" width="2.20" height="2.20" fill="#2aa84a" />
<polyline points="383.43,56.03 384.34,56.03 385.26,56.04 386.17,56.04 387.08,56.05 387.99,56.06 388.90,56.07 389.81,56.08 390.73,56.10 391.64,56.11 392.55,56.13 393.46,56.16 394.37,56.18 395.29,56.21 396.20,56.25 397.11,56.30 398.02,56.35 398.93,56.41 399.84,56.48 400.76,56.56 401.67,56.66 402.58,56.77 403.49,56.91 404.40,57.06 405.31,57.24 406.23,57.45 407.14,57.70 408.05,57.98 408.96,58.31 409.87,58.69 410.79,59.13 411.70,59.64 412.61,60.21 413.52,60.87 414.43,61.62 415.34,62.47 416.26,63.42 417.17,64.48 418.08,65.66 418.99,66.95 419.90,68.35 420.81,69.86 421.73,71.48 422.64,73.18 423.55,74.96 424.46,76.79 425.37,78.65 426.28,80.52 427.20,82.37 428.11,84.18 429.02,85.92 429.93,87.59 430.84,89.17 431.76,90.63 432.67,91.99 433.58,93.23 434.49,94.36 435.40,95.37 436.31,96.27 437.23,97.08 438.14,97.79" fill="none" stroke="#5cc56a" stroke-width="1.3"/>
<line x1="383.43" y1="55.79" x2="383.43" y2="59.38" stroke="#5cc56a" stroke-width="0.7" />
<rect x="382.33" y="56.48" width="2.20" height="2.20" fill="#5cc56a" />
<line x1="387.34" y1="55.90" x2="387.34" y2="58.30" stroke="#5cc56a" stroke-width="0.7" />
<rect x="386.24" y="56.00" width="2.20" height="2.20" fill="#5cc56a" />
<line x1="391.25" y1="54.09" x2="391.25" y2="57.08" stroke="#5cc56a" stroke-width="0.7" />
<rect x="390.15" y="54.48" width="2.20" height="2.20" fill="#5cc56a" />
<line x1="395.16" y1="54.44" x2="395.16" y2="58.54" stroke="#5cc56a" stroke-width="0.7" />
<rect x="394.06" y="55.39" width="2.20" height="2.20" fill="#5cc56a" />
<line x1="399.06" y1="54.81" x2="399.06" y2="57.31" stroke="#5cc56a" stroke-width="0.7" />
<rect x="397.96" y="54.96" width="2.20" height="2.20" fill="#5cc56a" />
<line x1="402.97" y1="55.67" x2="402.97" y2="59.57" stroke="#5cc56a" stroke-width="0.7" />
<rect x="401.87" y="56.52" width="2.20" height="2.20" fill="#5cc56a" />
<line x1="406.88" y1="55.85" x2="406.88" y2="59.54" stroke="#5cc56a" stroke-width="0.7" />
<rect x="405.78" y="56.60" width="2.20" height="2.20" fill="#5cc56a" />
<line x1="410.79" y1="58.54" x2="410.79" y2="60.67" stroke="#5cc56a" stroke-width="0.7" />
<rect x="409.69" y="58.51" width="2.20" height="2.20" fill="#5cc56a" />
<line x1="414.69" y1="59.86" x2="414.69" y2="63.63" stroke="#5cc56a" stroke-width="0.7" />
<rect x="413.59" y="60.64" width="2.20" height="2.20" fill="#5cc56a" />
<line x1="418.60" y1="65.58" x2="418.60" y2="69.28" stroke="#5cc56a" stroke-width="0.7" />
<rect x="417.50" y="66.33" width="2.20" height="2.20" fill="#5cc56a" />
<line x1="422.51" y1="69.71" x2="422.51" y2="73.46" stroke="#5cc56a" stroke-width="0.7" />
<rect x="421.41" y="70.49" width="2.20" height="2.20" fill="#5cc56a" />
<line x1="426.42" y1="78.94" x2="426.42" y2="80.56" stroke="#5cc56a" stroke-width="0.7" />
<rect x="425.32" y="78.65" width="2.20" height="2.20" fill="#5cc56a" />
<line x1="430.32" y1="85.92" x2="430.32" y2="89.82" stroke="#5cc56a" stroke-width="0.7" />
<rect x="429.22" y="86.77" width="2.20" height="2.20" fill="#5cc56a" />
<line x1="434.23" y1="94.32" x2="434.23" y2="96.65" stroke="#5cc56a" stroke-width="0.7" />
<rect x="433.13" y="94.39" width="2.20" height="2.20" fill="#5cc56a" />
<line x1="438.14" y1="97.03" x2="438.14" y2="100.03" stroke="#5cc56a" stroke-width="0.7" />
<rect x="437.04" y="97.43" width="2.20" height="2.20" fill="#5cc56a" />
<polyline points="383.43,55.49 384.34,55.49 385.26,55.50 386.17,55.50 387.08,55.51 387.99,55.52 388.90,55.53 389.81,55.54 390.73,55.55 391.64,55.57 392.55,55.58 393.46,55.60 394.37,55.63 395.29,55.66 396.20,55.69 397.11,55.74 398.02,55.79 398.93,55.84 399.84,55.91 400.76,55.99 401.67,56.09 402.58,56.20 403.49,56.33 404.40,56.49 405.31,56.67 406.23,56.88 407.14,57.13 408.05,57.42 408.96,57.76 409.87,58.16 410.79,58.62 411.70,59.16 412.61,59.77 413.52,60.48 414.43,61.28 415.34,62.20 416.26,63.24 417.17,64.40 418.08,65.69 418.99,67.12 419.90,68.68 420.81,70.36 421.73,72.15 422.64,74.05 423.55,76.02 424.46,78.05 425.37,80.10 426.28,82.15 427.20,84.18 428.11,86.14 429.02,88.03 429.93,89.81 430.84,91.48 431.76,93.02 432.67,94.43 433.58,95.71 434.49,96.85 435.40,97.88 436.31,98.78 437.23,99.58 438.14,100.27" fill="none" stroke="#1c5a96" stroke-width="1.4"/>
<line x1="383.43" y1="54.30" x2="383.43" y2="57.16" stroke="#1c5a96" stroke-width="0.7" />
<rect x="382.33" y="54.63" width="2.20" height="2.20" fill="#1c5a96" />
<line x1="387.34" y1="53.82" x2="387.34" y2="55.43" stroke="#1c5a96" stroke-width="0.7" />
<rect x="386.24" y="53.53" width="2.20" height="2.20" fill="#1c5a96" />
<line x1="391.25" y1="56.01" x2="391.25" y2="57.95" stroke="#1c5a96" stroke-width="0.7" />
<rect x="390.15" y="55.88" width="2.20" height="2.20" fill="#1c5a96" />
<line x1="395.16" y1="55.96" x2="395.16" y2="57.75" stroke="#1c5a96" stroke-width="0.7" />
<rect x="394.06" y="55.76" width="2.20" height="2.20" fill="#1c5a96" />
<line x1="399.06" y1="52.40" x2="399.06" y2="56.27" stroke="#1c5a96" stroke-width="0.7" />
<rect x="397.96" y="53.23" width="2.20" height="2.20" fill="#1c5a96" />
<line x1="402.97" y1="56.11" x2="402.97" y2="59.05" stroke="#1c5a96" stroke-width="0.7" />
<rect x="401.87" y="56.48" width="2.20" height="2.20" fill="#1c5a96" />
<line x1="406.88" y1="56.43" x2="406.88" y2="58.86" stroke="#1c5a96" stroke-width="0.7" />
<rect x="405.78" y="56.54" width="2.20" height="2.20" fill="#1c5a96" />
<line x1="410.79" y1="57.44" x2="410.79" y2="60.76" stroke="#1c5a96" stroke-width="0.7" />
<rect x="409.69" y="58.00" width="2.20" height="2.20" fill="#1c5a96" />
<line x1="414.69" y1="59.98" x2="414.69" y2="62.54" stroke="#1c5a96" stroke-width="0.7" />
<rect x="413.59" y="60.16" width="2.20" height="2.20" fill="#1c5a96" />
<line x1="418.60" y1="66.24" x2="418.60" y2="68.72" stroke="#1c5a96" stroke-width="0.7" />
<rect x="417.50" y="66.38" width="2.20" height="2.20" fill="#1c5a96" />
<line x1="422.51" y1="73.43" x2="422.51" y2="76.51" stroke="#1c5a96" stroke-width="0.7" />
<rect x="421.41" y="73.87" width="2.20" height="2.20" fill="#1c5a96" />
<line x1="426.42" y1="80.45" x2="426.42" y2="83.06" stroke="#1c5a96" stroke-width="0.7" />
<rect x="425.32" y="80.65" width="2.20" height="2.20" fill="#1c5a96" />
<line x1="430.32" y1="90.85" x2="430.32" y2="92.92" stroke="#1c5a96" stroke-width="0.7" />
<rect x="429.22" y="90.78" width="2.20" height="2.20" fill="#1c5a96" />
<line x1="434.23" y1="95.34" x2="434.23" y2="98.55" stroke="#1c5a96" stroke-width="0.7" />
<rect x="433.13" y="95.84" width="2.20" height="2.20" fill="#1c5a96" />
<line x1="438.14" y1="98.06" x2="438.14" y2="100.67" stroke="#1c5a96" stroke-width="0.7" />
<rect x="437.04" y="98.27" width="2.20" height="2.20" fill="#1c5a96" />
<polyline points="383.43,56.03 384.34,56.04 385.26,56.04 386.17,56.05 387.08,56.06 387.99,56.07 388.90,56.08 389.81,56.10 390.73,56.11 391.64,56.13 392.55,56.16 393.46,56.19 394.37,56.22 395.29,56.26 396.20,56.30 397.11,56.35 398.02,56.42 398.93,56.49 399.84,56.57 400.76,56.67 401.67,56.79 402.58,56.92 403.49,57.08 404.40,57.26 405.31,57.48 406.23,57.72 407.14,58.01 408.05,58.35 408.96,58.73 409.87,59.18 410.79,59.69 411.70,60.28 412.61,60.95 413.52,61.71 414.43,62.57 415.34,63.54 416.26,64.61 417.17,65.80 418.08,67.11 418.99,68.53 419.90,70.07 420.81,71.71 421.73,73.43 422.64,75.23 423.55,77.08 424.46,78.97 425.37,80.85 426.28,82.72 427.20,84.55 428.11,86.32 429.02,88.00 429.93,89.59 430.84,91.07 431.76,92.44 432.67,93.69 433.58,94.83 434.49,95.85 435.40,96.76 436.31,97.57 437.23,98.29 438.14,98.92" fill="none" stroke="#3cb54a" stroke-width="1.4"/>
<line x1="383.43" y1="53.44" x2="383.43" y2="56.70" stroke="#3cb54a" stroke-width="0.7" />
<rect x="382.33" y="53.97" width="2.20" height="2.20" fill="#3cb54a" />
<line x1="387.34" y1="54.99" x2="387.34" y2="57.58" stroke="#3cb54a" stroke-width="0.7" />
<rect x="386.24" y="55.18" width="2.20" height="2.20" fill="#3cb54a" />
<line x1="391.25" y1="54.40" x2="391.25" y2="57.87" stroke="#3cb54a" stroke-width="0.7" />
<rect x="390.15" y="55.04" width="2.20" height="2.20" fill="#3cb54a" />
<line x1="395.16" y1="54.78" x2="395.16" y2="58.23" stroke="#3cb54a" stroke-width="0.7" />
<rect x="394.06" y="55.40" width="2.20" height="2.20" fill="#3cb54a" />
<line x1="399.06" y1="55.50" x2="399.06" y2="57.75" stroke="#3cb54a" stroke-width="0.7" />
<rect x="397.96" y="55.52" width="2.20" height="2.20" fill="#3cb54a" />
<line x1="402.97" y1="55.14" x2="402.97" y2="58.60" stroke="#3cb54a" stroke-width="0.7" />
<rect x="401.87" y="55.77" width="2.20" height="2.20" fill="#3cb54a" />
<line x1="406.88" y1="57.93" x2="406.88" y2="60.66" stroke="#3cb54a" stroke-width="0.7" />
<rect x="405.78" y="58.20" width="2.20" height="2.20" fill="#3cb54a" />
<line x1="410.79" y1="57.96" x2="410.79" y2="61.90" stroke="#3cb54a" stroke-width="0.7" />
<rect x="409.69" y="58.83" width="2.20" height="2.20" fill="#3cb54a" />
<line x1="414.69" y1="60.14" x2="414.69" y2="62.74" stroke="#3cb54a" stroke-width="0.7" />
<rect x="413.59" y="60.34" width="2.20" height="2.20" fill="#3cb54a" />
<line x1="418.60" y1="64.78" x2="418.60" y2="68.49" stroke="#3cb54a" stroke-width="0.7" />
<rect x="417.50" y="65.54" width="2.20" height="2.20" fill="#3cb54a" />
<line x1="422.51" y1="74.31" x2="422.51" y2="77.15" stroke="#3cb54a" stroke-width="0.7" />
<rect x="421.41" y="74.63" width="2.20" height="2.20" fill="#3cb54a" />
<line x1="426.42" y1="82.31" x2="426.42" y2="86.08" stroke="#3cb54a" stroke-width="0.7" />
<rect x="425.32" y="83.09" width="2.20" height="2.20" fill="#3cb54a" />
<line x1="430.32" y1="87.74" x2="430.32" y2="91.70" stroke="#3cb54a" stroke-width="0.7" />
<rect x="429.22" y="88.62" width="2.20" height="2.20" fill="#3cb54a" />
<line x1="434.23" y1="92.94" x2="434.23" y2="96.32" stroke="#3cb54a" stroke-width="0.7" />
<rect x="433.13" y="93.53" width="2.20" height="2.20" fill="#3cb54a" />
<line x1="438.14" y1="96.62" x2="438.14" y2="99.72" stroke="#3cb54a" stroke-width="0.7" />
<rect x="437.04" y="97.07" width="2.20" height="2.20" fill="#3cb54a" />
<polyline points="383.43,56.21 384.34,56.30 385.26,56.39 386.17,56.49 387.08,56.61 387.99,56.73 388.90,56.87 389.81,57.03 390.73,57.20 391.64,57.39 392.55,57.60 393.46,57.83 394.37,58.08 395.29,58.36 396.20,58.67 397.11,59.01 398.02,59.38 398.93,59.78 399.84,60.23 400.76,60.71 401.67,61.24 402.58,61.81 403.49,62.43 404.40,63.10 405.31,63.82 406.23,64.60 407.14,65.43 408.05,66.32 408.96,67.27 409.87,68.27 410.79,69.32 411.70,70.43 412.61,71.59 413.52,72.79 414.43,74.03 415.34,75.31 416.26,76.62 417.17,77.96 418.08,79.31 418.99,80.67 419.90,82.03 420.81,83.38 421.73,84.72 422.64,86.03 423.55,87.32 424.46,88.57 425.37,89.78 426.28,90.94 427.20,92.06 428.11,93.12 429.02,94.13 429.93,95.09 430.84,95.99 431.76,96.83 432.67,97.61 433.58,98.35 434.49,99.03 435.40,99.65 436.31,100.24 437.23,100.77 438.14,101.26" fill="none" stroke="#d2203f" stroke-width="1.4"/>
<line x1="383.43" y1="55.90" x2="383.43" y2="59.07" stroke="#d2203f" stroke-width="0.7" />
<rect x="382.33" y="56.38" width="2.20" height="2.20" fill="#d2203f" />
<line x1="387.34" y1="57.23" x2="387.34" y2="59.22" stroke="#d2203f" stroke-width="0.7" />
<rect x="386.24" y="57.12" width="2.20" height="2.20" fill="#d2203f" />
<line x1="391.25" y1="55.57" x2="391.25" y2="57.29" stroke="#d2203f" stroke-width="0.7" />
<rect x="390.15" y="55.33" width="2.20" height="2.20" fill="#d2203f" />
<line x1="395.16" y1="58.69" x2="395.16" y2="60.56" stroke="#d2203f" stroke-width="0.7" />
<rect x="394.06" y="58.52" width="2.20" height="2.20" fill="#d2203f" />
<line x1="399.06" y1="57.59" x2="399.06" y2="59.66" stroke="#d2203f" stroke-width="0.7" />
<rect x="397.96" y="57.53" width="2.20" height="2.20" fill="#d2203f" />
<line x1="402.97" y1="61.67" x2="402.97" y2="65.51" stroke="#d2203f" stroke-width="0.7" />
<rect x="401.87" y="62.49" width="2.20" height="2.20" fill="#d2203f" />
<line x1="406.88" y1="64.48" x2="406.88" y2="68.33" stroke="#d2203f" stroke-width="0.7" />
<rect x="405.78" y="65.30" width="2.20" height="2.20" fill="#d2203f" />
<line x1="410.79" y1="66.85" x2="410.79" y2="70.68" stroke="#d2203f" stroke-width="0.7" />
<rect x="409.69" y="67.67" width="2.20" height="2.20" fill="#d2203f" />
<line x1="414.69" y1="71.38" x2="414.69" y2="74.52" stroke="#d2203f" stroke-width="0.7" />
<rect x="413.59" y="71.85" width="2.20" height="2.20" fill="#d2203f" />
<line x1="418.60" y1="78.28" x2="418.60" y2="79.98" stroke="#d2203f" stroke-width="0.7" />
<rect x="417.50" y="78.03" width="2.20" height="2.20" fill="#d2203f" />
<line x1="422.51" y1="83.51" x2="422.51" y2="86.47" stroke="#d2203f" stroke-width="0.7" />
<rect x="421.41" y="83.89" width="2.20" height="2.20" fill="#d2203f" />
<line x1="426.42" y1="89.48" x2="426.42" y2="91.36" stroke="#d2203f" stroke-width="0.7" />
<rect x="425.32" y="89.32" width="2.20" height="2.20" fill="#d2203f" />
<line x1="430.32" y1="92.64" x2="430.32" y2="96.73" stroke="#d2203f" stroke-width="0.7" />
<rect x="429.22" y="93.58" width="2.20" height="2.20" fill="#d2203f" />
<line x1="434.23" y1="99.01" x2="434.23" y2="101.47" stroke="#d2203f" stroke-width="0.7" />
<rect x="433.13" y="99.14" width="2.20" height="2.20" fill="#d2203f" />
<line x1="438.14" y1="99.15" x2="438.14" y2="102.96" stroke="#d2203f" stroke-width="0.7" />
<rect x="437.04" y="99.96" width="2.20" height="2.20" fill="#d2203f" />
<rect x="378.90" y="49.30" width="63.40" height="58.40" fill="none" stroke="#000" stroke-width="1.3" />
<line x1="376.90" y1="107.70" x2="378.90" y2="107.70" stroke="#000" stroke-width="0.8" />
<line x1="376.90" y1="94.38" x2="378.90" y2="94.38" stroke="#000" stroke-width="0.8" />
<line x1="376.90" y1="81.05" x2="378.90" y2="81.05" stroke="#000" stroke-width="0.8" />
<line x1="376.90" y1="67.72" x2="378.90" y2="67.72" stroke="#000" stroke-width="0.8" />
<line x1="376.90" y1="54.40" x2="378.90" y2="54.40" stroke="#000" stroke-width="0.8" />
<line x1="391.25" y1="107.70" x2="391.25" y2="109.70" stroke="#000" stroke-width="0.8" />
<text x="391.25" y="119.30" font-size="7.6" text-anchor="middle" fill="#000" stroke="#000" stroke-width="0.1" >−8</text>
<line x1="406.88" y1="107.70" x2="406.88" y2="109.70" stroke="#000" stroke-width="0.8" />
<text x="406.88" y="119.30" font-size="7.6" text-anchor="middle" fill="#000" stroke="#000" stroke-width="0.1" >−7</text>
<line x1="422.51" y1="107.70" x2="422.51" y2="109.70" stroke="#000" stroke-width="0.8" />
<text x="422.51" y="119.30" font-size="7.6" text-anchor="middle" fill="#000" stroke="#000" stroke-width="0.1" >−6</text>
<line x1="438.14" y1="107.70" x2="438.14" y2="109.70" stroke="#000" stroke-width="0.8" />
<text x="438.14" y="119.30" font-size="7.6" text-anchor="middle" fill="#000" stroke="#000" stroke-width="0.1" >−5</text>
<line x1="380.32" y1="106.50" x2="380.32" y2="107.70" stroke="#000" stroke-width="0.5" />
<line x1="383.08" y1="106.50" x2="383.08" y2="107.70" stroke="#000" stroke-width="0.5" />
<line x1="385.03" y1="106.50" x2="385.03" y2="107.70" stroke="#000" stroke-width="0.5" />
<line x1="386.54" y1="106.50" x2="386.54" y2="107.70" stroke="#000" stroke-width="0.5" />
<line x1="387.78" y1="106.50" x2="387.78" y2="107.70" stroke="#000" stroke-width="0.5" />
<line x1="388.83" y1="106.50" x2="388.83" y2="107.70" stroke="#000" stroke-width="0.5" />
<line x1="389.73" y1="106.50" x2="389.73" y2="107.70" stroke="#000" stroke-width="0.5" />
<line x1="390.53" y1="106.50" x2="390.53" y2="107.70" stroke="#000" stroke-width="0.5" />
<line x1="395.95" y1="106.50" x2="395.95" y2="107.70" stroke="#000" stroke-width="0.5" />
<line x1="398.71" y1="106.50" x2="398.71" y2="107.70" stroke="#000" stroke-width="0.5" />
<line x1="400.66" y1="106.50" x2="400.66" y2="107.70" stroke="#000" stroke-width="0.5" />
<line x1="402.17" y1="106.50" x2="402.17" y2="107.70" stroke="#000" stroke-width="0.5" />
<line x1="403.41" y1="106.50" x2="403.41" y2="107.70" stroke="#000" stroke-width="0.5" />
<line x1="404.46" y1="106.50" x2="404.46" y2="107.70" stroke="#000" stroke-width="0.5" />
<line x1="405.36" y1="106.50" x2="405.36" y2="107.70" stroke="#000" stroke-width="0.5" />
<line x1="406.16" y1="106.50" x2="406.16" y2="107.70" stroke="#000" stroke-width="0.5" />
<line x1="411.58" y1="106.50" x2="411.58" y2="107.70" stroke="#000" stroke-width="0.5" />
<line x1="414.34" y1="106.50" x2="414.34" y2="107.70" stroke="#000" stroke-width="0.5" />
<line x1="416.29" y1="106.50" x2="416.29" y2="107.70" stroke="#000" stroke-width="0.5" />
<line x1="417.80" y1="106.50" x2="417.80" y2="107.70" stroke="#000" stroke-width="0.5" />
<line x1="419.04" y1="106.50" x2="419.04" y2="107.70" stroke="#000" stroke-width="0.5" />
<line x1="420.09" y1="106.50" x2="420.09" y2="107.70" stroke="#000" stroke-width="0.5" />
<line x1="420.99" y1="106.50" x2="420.99" y2="107.70" stroke="#000" stroke-width="0.5" />
<line x1="421.79" y1="106.50" x2="421.79" y2="107.70" stroke="#000" stroke-width="0.5" />
<line x1="427.21" y1="106.50" x2="427.21" y2="107.70" stroke="#000" stroke-width="0.5" />
<line x1="429.97" y1="106.50" x2="429.97" y2="107.70" stroke="#000" stroke-width="0.5" />
<line x1="431.92" y1="106.50" x2="431.92" y2="107.70" stroke="#000" stroke-width="0.5" />
<line x1="433.43" y1="106.50" x2="433.43" y2="107.70" stroke="#000" stroke-width="0.5" />
<line x1="434.67" y1="106.50" x2="434.67" y2="107.70" stroke="#000" stroke-width="0.5" />
<line x1="435.72" y1="106.50" x2="435.72" y2="107.70" stroke="#000" stroke-width="0.5" />
<line x1="436.62" y1="106.50" x2="436.62" y2="107.70" stroke="#000" stroke-width="0.5" />
<line x1="437.42" y1="106.50" x2="437.42" y2="107.70" stroke="#000" stroke-width="0.5" />
<text x="440.50" y="58.30" font-size="6.0" text-anchor="end" fill="#333" stroke="#333" stroke-width="0.1" textLength="25.00" lengthAdjust="spacingAndGlyphs" >p&lt;0.0001</text>
<text x="410.90" y="46.10" font-size="8.3" text-anchor="middle" fill="#222" stroke="#222" stroke-width="0.1" textLength="55.00" lengthAdjust="spacingAndGlyphs" >Azacitidine (Aza)</text>
<text x="410.60" y="132.20" font-size="8.8" text-anchor="middle" fill="#222" stroke="#222" stroke-width="0.1" textLength="20.50" lengthAdjust="spacingAndGlyphs" >log [M]</text>
<polyline points="450.90,55.08 451.92,55.12 452.95,55.17 453.97,55.24 455.00,55.33 456.02,55.44 457.05,55.58 458.07,55.77 459.10,56.00 460.12,56.31 461.15,56.69 462.17,57.18 463.20,57.79 464.22,58.56 465.25,59.52 466.27,60.70 467.29,62.14 468.32,63.87 469.34,65.91 470.37,68.28 471.39,70.95 472.42,73.91 473.44,77.07 474.47,80.36 475.49,83.67 476.52,86.90 477.54,89.95 478.57,92.75 479.59,95.25 480.62,97.42 481.64,99.28 482.66,100.84 483.69,102.12 484.71,103.17 485.74,104.01 486.76,104.69 487.79,105.22 488.81,105.65 489.84,105.98 490.86,106.24 491.89,106.45 492.91,106.61 493.94,106.73 494.96,106.83 495.99,106.90 497.01,106.96 498.03,107.01 499.06,107.04 500.08,107.07 501.11,107.09 502.13,107.11 503.16,107.12 504.18,107.13 505.21,107.14 506.23,107.15 507.26,107.15 508.28,107.15 509.31,107.16 510.33,107.16 511.36,107.16 512.38,107.16" fill="none" stroke="#5cc56a" stroke-width="1.0"/>
<line x1="450.90" y1="54.86" x2="450.90" y2="56.94" stroke="#5cc56a" stroke-width="0.7" />
<rect x="449.80" y="54.80" width="2.20" height="2.20" fill="#5cc56a" />
<line x1="456.70" y1="54.71" x2="456.70" y2="57.95" stroke="#5cc56a" stroke-width="0.7" />
<rect x="455.60" y="55.23" width="2.20" height="2.20" fill="#5cc56a" />
<line x1="462.50" y1="55.22" x2="462.50" y2="57.87" stroke="#5cc56a" stroke-width="0.7" />
<rect x="461.40" y="55.45" width="2.20" height="2.20" fill="#5cc56a" />
<line x1="468.30" y1="62.93" x2="468.30" y2="65.58" stroke="#5cc56a" stroke-width="0.7" />
<rect x="467.20" y="63.16" width="2.20" height="2.20" fill="#5cc56a" />
<line x1="474.10" y1="78.30" x2="474.10" y2="81.01" stroke="#5cc56a" stroke-width="0.7" />
<rect x="473.00" y="78.55" width="2.20" height="2.20" fill="#5cc56a" />
<line x1="479.90" y1="95.80" x2="479.90" y2="98.74" stroke="#5cc56a" stroke-width="0.7" />
<rect x="478.80" y="96.17" width="2.20" height="2.20" fill="#5cc56a" />
<line x1="485.70" y1="101.12" x2="485.70" y2="103.82" stroke="#5cc56a" stroke-width="0.7" />
<rect x="484.60" y="101.37" width="2.20" height="2.20" fill="#5cc56a" />
<line x1="491.50" y1="104.57" x2="491.50" y2="106.60" stroke="#5cc56a" stroke-width="0.7" />
<rect x="490.40" y="104.48" width="2.20" height="2.20" fill="#5cc56a" />
<line x1="497.30" y1="104.56" x2="497.30" y2="108.17" stroke="#5cc56a" stroke-width="0.7" />
<rect x="496.20" y="105.27" width="2.20" height="2.20" fill="#5cc56a" />
<line x1="503.10" y1="105.08" x2="503.10" y2="108.05" stroke="#5cc56a" stroke-width="0.7" />
<rect x="502.00" y="105.47" width="2.20" height="2.20" fill="#5cc56a" />
<line x1="508.90" y1="105.55" x2="508.90" y2="108.86" stroke="#5cc56a" stroke-width="0.7" />
<rect x="507.80" y="106.11" width="2.20" height="2.20" fill="#5cc56a" />
<polyline points="450.90,55.07 451.92,55.11 452.95,55.16 453.97,55.22 455.00,55.30 456.02,55.39 457.05,55.52 458.07,55.68 459.10,55.88 460.12,56.14 461.15,56.46 462.17,56.87 463.20,57.38 464.22,58.02 465.25,58.81 466.27,59.78 467.29,60.97 468.32,62.40 469.34,64.10 470.37,66.09 471.39,68.38 472.42,70.96 473.44,73.79 474.47,76.82 475.49,79.97 476.52,83.15 477.54,86.27 478.57,89.24 479.59,92.00 480.62,94.49 481.64,96.68 482.66,98.58 483.69,100.19 484.71,101.54 485.74,102.65 486.76,103.56 487.79,104.30 488.81,104.89 489.84,105.37 490.86,105.75 491.89,106.05 492.91,106.29 493.94,106.47 494.96,106.62 495.99,106.74 497.01,106.83 498.03,106.90 499.06,106.96 500.08,107.01 501.11,107.04 502.13,107.07 503.16,107.09 504.18,107.11 505.21,107.12 506.23,107.13 507.26,107.14 508.28,107.14 509.31,107.15 510.33,107.15 511.36,107.16 512.38,107.16" fill="none" stroke="#4cc05a" stroke-width="1.0"/>
<line x1="450.90" y1="52.80" x2="450.90" y2="54.80" stroke="#4cc05a" stroke-width="0.7" />
<rect x="449.80" y="52.70" width="2.20" height="2.20" fill="#4cc05a" />
<line x1="456.70" y1="54.97" x2="456.70" y2="58.56" stroke="#4cc05a" stroke-width="0.7" />
<rect x="455.60" y="55.67" width="2.20" height="2.20" fill="#4cc05a" />
<line x1="462.50" y1="54.20" x2="462.50" y2="57.18" stroke="#4cc05a" stroke-width="0.7" />
<rect x="461.40" y="54.59" width="2.20" height="2.20" fill="#4cc05a" />
<line x1="468.30" y1="60.79" x2="468.30" y2="64.31" stroke="#4cc05a" stroke-width="0.7" />
<rect x="467.20" y="61.45" width="2.20" height="2.20" fill="#4cc05a" />
<line x1="474.10" y1="75.56" x2="474.10" y2="77.87" stroke="#4cc05a" stroke-width="0.7" />
<rect x="473.00" y="75.62" width="2.20" height="2.20" fill="#4cc05a" />
<line x1="479.90" y1="92.16" x2="479.90" y2="95.32" stroke="#4cc05a" stroke-width="0.7" />
<rect x="478.80" y="92.64" width="2.20" height="2.20" fill="#4cc05a" />
<line x1="485.70" y1="102.10" x2="485.70" y2="104.31" stroke="#4cc05a" stroke-width="0.7" />
<rect x="484.60" y="102.11" width="2.20" height="2.20" fill="#4cc05a" />
<line x1="491.50" y1="103.26" x2="491.50" y2="107.40" stroke="#4cc05a" stroke-width="0.7" />
<rect x="490.40" y="104.23" width="2.20" height="2.20" fill="#4cc05a" />
<line x1="497.30" y1="105.77" x2="497.30" y2="109.25" stroke="#4cc05a" stroke-width="0.7" />
<rect x="496.20" y="106.41" width="2.20" height="2.20" fill="#4cc05a" />
<line x1="503.10" y1="105.43" x2="503.10" y2="109.30" stroke="#4cc05a" stroke-width="0.7" />
<rect x="502.00" y="106.27" width="2.20" height="2.20" fill="#4cc05a" />
<line x1="508.90" y1="105.72" x2="508.90" y2="108.03" stroke="#4cc05a" stroke-width="0.7" />
<rect x="507.80" y="105.78" width="2.20" height="2.20" fill="#4cc05a" />
<polyline points="450.90,55.09 451.92,55.13 452.95,55.17 453.97,55.23 455.00,55.31 456.02,55.40 457.05,55.52 458.07,55.66 459.10,55.84 460.12,56.06 461.15,56.34 462.17,56.68 463.20,57.10 464.22,57.61 465.25,58.24 466.27,59.01 467.29,59.93 468.32,61.04 469.34,62.35 470.37,63.89 471.39,65.68 472.42,67.71 473.44,69.99 474.47,72.50 475.49,75.20 476.52,78.03 477.54,80.94 478.57,83.85 479.59,86.69 480.62,89.40 481.64,91.92 482.66,94.22 483.69,96.28 484.71,98.08 485.74,99.64 486.76,100.97 487.79,102.09 488.81,103.03 489.84,103.80 490.86,104.44 491.89,104.97 492.91,105.39 493.94,105.74 494.96,106.02 495.99,106.24 497.01,106.43 498.03,106.57 499.06,106.69 500.08,106.79 501.11,106.86 502.13,106.92 503.16,106.97 504.18,107.01 505.21,107.04 506.23,107.07 507.26,107.09 508.28,107.10 509.31,107.12 510.33,107.13 511.36,107.13 512.38,107.14" fill="none" stroke="#2aa84a" stroke-width="1.0"/>
<line x1="450.90" y1="55.16" x2="450.90" y2="56.82" stroke="#2aa84a" stroke-width="0.7" />
<rect x="449.80" y="54.89" width="2.20" height="2.20" fill="#2aa84a" />
<line x1="456.70" y1="54.23" x2="456.70" y2="56.85" stroke="#2aa84a" stroke-width="0.7" />
<rect x="455.60" y="54.44" width="2.20" height="2.20" fill="#2aa84a" />
<line x1="462.50" y1="56.57" x2="462.50" y2="59.13" stroke="#2aa84a" stroke-width="0.7" />
<rect x="461.40" y="56.75" width="2.20" height="2.20" fill="#2aa84a" />
<line x1="468.30" y1="59.75" x2="468.30" y2="63.42" stroke="#2aa84a" stroke-width="0.7" />
<rect x="467.20" y="60.49" width="2.20" height="2.20" fill="#2aa84a" />
<line x1="474.10" y1="70.60" x2="474.10" y2="74.84" stroke="#2aa84a" stroke-width="0.7" />
<rect x="473.00" y="71.62" width="2.20" height="2.20" fill="#2aa84a" />
<line x1="479.90" y1="85.99" x2="479.90" y2="89.19" stroke="#2aa84a" stroke-width="0.7" />
<rect x="478.80" y="86.49" width="2.20" height="2.20" fill="#2aa84a" />
<line x1="485.70" y1="97.77" x2="485.70" y2="101.60" stroke="#2aa84a" stroke-width="0.7" />
<rect x="484.60" y="98.59" width="2.20" height="2.20" fill="#2aa84a" />
<line x1="491.50" y1="102.21" x2="491.50" y2="105.29" stroke="#2aa84a" stroke-width="0.7" />
<rect x="490.40" y="102.65" width="2.20" height="2.20" fill="#2aa84a" />
<line x1="497.30" y1="104.77" x2="497.30" y2="108.29" stroke="#2aa84a" stroke-width="0.7" />
<rect x="496.20" y="105.43" width="2.20" height="2.20" fill="#2aa84a" />
<line x1="503.10" y1="104.50" x2="503.10" y2="107.16" stroke="#2aa84a" stroke-width="0.7" />
<rect x="502.00" y="104.73" width="2.20" height="2.20" fill="#2aa84a" />
<line x1="508.90" y1="104.29" x2="508.90" y2="108.44" stroke="#2aa84a" stroke-width="0.7" />
<rect x="507.80" y="105.26" width="2.20" height="2.20" fill="#2aa84a" />
<polyline points="450.90,55.14 451.92,55.19 452.95,55.24 453.97,55.31 455.00,55.40 456.02,55.50 457.05,55.63 458.07,55.78 459.10,55.97 460.12,56.20 461.15,56.48 462.17,56.81 463.20,57.22 464.22,57.70 465.25,58.29 466.27,58.99 467.29,59.82 468.32,60.79 469.34,61.94 470.37,63.27 471.39,64.79 472.42,66.52 473.44,68.46 474.47,70.59 475.49,72.91 476.52,75.38 477.54,77.96 478.57,80.60 479.59,83.25 480.62,85.86 481.64,88.37 482.66,90.74 483.69,92.94 484.71,94.94 485.74,96.74 486.76,98.34 487.79,99.73 488.81,100.94 489.84,101.97 490.86,102.85 491.89,103.59 492.91,104.21 493.94,104.73 494.96,105.16 495.99,105.52 497.01,105.81 498.03,106.06 499.06,106.26 500.08,106.42 501.11,106.56 502.13,106.67 503.16,106.76 504.18,106.83 505.21,106.90 506.23,106.95 507.26,106.99 508.28,107.02 509.31,107.05 510.33,107.07 511.36,107.09 512.38,107.10" fill="none" stroke="#34a853" stroke-width="1.0"/>
<line x1="450.90" y1="54.14" x2="450.90" y2="56.35" stroke="#34a853" stroke-width="0.7" />
<rect x="449.80" y="54.14" width="2.20" height="2.20" fill="#34a853" />
<line x1="456.70" y1="54.67" x2="456.70" y2="58.19" stroke="#34a853" stroke-width="0.7" />
<rect x="455.60" y="55.33" width="2.20" height="2.20" fill="#34a853" />
<line x1="462.50" y1="54.30" x2="462.50" y2="58.45" stroke="#34a853" stroke-width="0.7" />
<rect x="461.40" y="55.27" width="2.20" height="2.20" fill="#34a853" />
<line x1="468.30" y1="58.52" x2="468.30" y2="60.76" stroke="#34a853" stroke-width="0.7" />
<rect x="467.20" y="58.54" width="2.20" height="2.20" fill="#34a853" />
<line x1="474.10" y1="69.65" x2="474.10" y2="71.94" stroke="#34a853" stroke-width="0.7" />
<rect x="473.00" y="69.70" width="2.20" height="2.20" fill="#34a853" />
<line x1="479.90" y1="83.31" x2="479.90" y2="86.78" stroke="#34a853" stroke-width="0.7" />
<rect x="478.80" y="83.94" width="2.20" height="2.20" fill="#34a853" />
<line x1="485.70" y1="93.54" x2="485.70" y2="97.53" stroke="#34a853" stroke-width="0.7" />
<rect x="484.60" y="94.43" width="2.20" height="2.20" fill="#34a853" />
<line x1="491.50" y1="102.15" x2="491.50" y2="106.06" stroke="#34a853" stroke-width="0.7" />
<rect x="490.40" y="103.01" width="2.20" height="2.20" fill="#34a853" />
<line x1="497.30" y1="105.12" x2="497.30" y2="107.85" stroke="#34a853" stroke-width="0.7" />
<rect x="496.20" y="105.38" width="2.20" height="2.20" fill="#34a853" />
<line x1="503.10" y1="105.11" x2="503.10" y2="106.94" stroke="#34a853" stroke-width="0.7" />
<rect x="502.00" y="104.92" width="2.20" height="2.20" fill="#34a853" />
<line x1="508.90" y1="106.43" x2="508.90" y2="110.25" stroke="#34a853" stroke-width="0.7" />
<rect x="507.80" y="107.24" width="2.20" height="2.20" fill="#34a853" />
<polyline points="450.90,55.18 451.92,55.23 452.95,55.29 453.97,55.36 455.00,55.45 456.02,55.56 457.05,55.70 458.07,55.86 459.10,56.05 460.12,56.28 461.15,56.56 462.17,56.89 463.20,57.29 464.22,57.77 465.25,58.33 466.27,59.00 467.29,59.78 468.32,60.70 469.34,61.77 470.37,63.00 471.39,64.41 472.42,65.99 473.44,67.76 474.47,69.72 475.49,71.84 476.52,74.11 477.54,76.49 478.57,78.95 479.59,81.44 480.62,83.93 481.64,86.35 482.66,88.68 483.69,90.87 484.71,92.90 485.74,94.76 486.76,96.44 487.79,97.93 488.81,99.24 489.84,100.38 490.86,101.37 491.89,102.21 492.91,102.93 493.94,103.55 494.96,104.06 495.99,104.49 497.01,104.86 498.03,105.16 499.06,105.41 500.08,105.62 501.11,105.80 502.13,105.94 503.16,106.06 504.18,106.16 505.21,106.24 506.23,106.31 507.26,106.37 508.28,106.42 509.31,106.45 510.33,106.49 511.36,106.51 512.38,106.53" fill="none" stroke="#3cb54a" stroke-width="1.2"/>
<line x1="450.90" y1="54.57" x2="450.90" y2="57.12" stroke="#3cb54a" stroke-width="0.7" />
<rect x="449.80" y="54.74" width="2.20" height="2.20" fill="#3cb54a" />
<line x1="456.70" y1="53.69" x2="456.70" y2="57.09" stroke="#3cb54a" stroke-width="0.7" />
<rect x="455.60" y="54.29" width="2.20" height="2.20" fill="#3cb54a" />
<line x1="462.50" y1="57.34" x2="462.50" y2="59.84" stroke="#3cb54a" stroke-width="0.7" />
<rect x="461.40" y="57.49" width="2.20" height="2.20" fill="#3cb54a" />
<line x1="468.30" y1="59.44" x2="468.30" y2="62.34" stroke="#3cb54a" stroke-width="0.7" />
<rect x="467.20" y="59.79" width="2.20" height="2.20" fill="#3cb54a" />
<line x1="474.10" y1="68.35" x2="474.10" y2="71.50" stroke="#3cb54a" stroke-width="0.7" />
<rect x="473.00" y="68.82" width="2.20" height="2.20" fill="#3cb54a" />
<line x1="479.90" y1="79.42" x2="479.90" y2="82.06" stroke="#3cb54a" stroke-width="0.7" />
<rect x="478.80" y="79.64" width="2.20" height="2.20" fill="#3cb54a" />
<line x1="485.70" y1="93.59" x2="485.70" y2="95.51" stroke="#3cb54a" stroke-width="0.7" />
<rect x="484.60" y="93.45" width="2.20" height="2.20" fill="#3cb54a" />
<line x1="491.50" y1="100.94" x2="491.50" y2="104.32" stroke="#3cb54a" stroke-width="0.7" />
<rect x="490.40" y="101.53" width="2.20" height="2.20" fill="#3cb54a" />
<line x1="497.30" y1="104.21" x2="497.30" y2="108.17" stroke="#3cb54a" stroke-width="0.7" />
<rect x="496.20" y="105.09" width="2.20" height="2.20" fill="#3cb54a" />
<line x1="503.10" y1="103.82" x2="503.10" y2="105.68" stroke="#3cb54a" stroke-width="0.7" />
<rect x="502.00" y="103.65" width="2.20" height="2.20" fill="#3cb54a" />
<line x1="508.90" y1="103.73" x2="508.90" y2="106.33" stroke="#3cb54a" stroke-width="0.7" />
<rect x="507.80" y="103.93" width="2.20" height="2.20" fill="#3cb54a" />
<polyline points="450.90,54.62 451.92,54.66 452.95,54.71 453.97,54.77 455.00,54.85 456.02,54.94 457.05,55.04 458.07,55.17 459.10,55.32 460.12,55.51 461.15,55.72 462.17,55.98 463.20,56.29 464.22,56.65 465.25,57.08 466.27,57.58 467.29,58.18 468.32,58.87 469.34,59.68 470.37,60.61 471.39,61.69 472.42,62.92 473.44,64.31 474.47,65.87 475.49,67.59 476.52,69.49 477.54,71.53 478.57,73.72 479.59,76.01 480.62,78.38 481.64,80.78 482.66,83.19 483.69,85.56 484.71,87.85 485.74,90.03 486.76,92.08 487.79,93.97 488.81,95.70 489.84,97.26 490.86,98.65 491.89,99.88 492.91,100.95 493.94,101.89 494.96,102.70 495.99,103.39 497.01,103.98 498.03,104.49 499.06,104.92 500.08,105.28 501.11,105.59 502.13,105.84 503.16,106.06 504.18,106.24 505.21,106.40 506.23,106.52 507.26,106.63 508.28,106.72 509.31,106.79 510.33,106.86 511.36,106.91 512.38,106.95" fill="none" stroke="#1c5a96" stroke-width="1.4"/>
<line x1="450.90" y1="51.94" x2="450.90" y2="55.55" stroke="#1c5a96" stroke-width="0.7" />
<rect x="449.80" y="52.65" width="2.20" height="2.20" fill="#1c5a96" />
<line x1="456.70" y1="53.96" x2="456.70" y2="57.36" stroke="#1c5a96" stroke-width="0.7" />
<rect x="455.60" y="54.56" width="2.20" height="2.20" fill="#1c5a96" />
<line x1="462.50" y1="53.71" x2="462.50" y2="57.45" stroke="#1c5a96" stroke-width="0.7" />
<rect x="461.40" y="54.48" width="2.20" height="2.20" fill="#1c5a96" />
<line x1="468.30" y1="57.80" x2="468.30" y2="61.41" stroke="#1c5a96" stroke-width="0.7" />
<rect x="467.20" y="58.51" width="2.20" height="2.20" fill="#1c5a96" />
<line x1="474.10" y1="62.12" x2="474.10" y2="65.51" stroke="#1c5a96" stroke-width="0.7" />
<rect x="473.00" y="62.71" width="2.20" height="2.20" fill="#1c5a96" />
<line x1="479.90" y1="75.65" x2="479.90" y2="77.55" stroke="#1c5a96" stroke-width="0.7" />
<rect x="478.80" y="75.50" width="2.20" height="2.20" fill="#1c5a96" />
<line x1="485.70" y1="88.70" x2="485.70" y2="91.24" stroke="#1c5a96" stroke-width="0.7" />
<rect x="484.60" y="88.87" width="2.20" height="2.20" fill="#1c5a96" />
<line x1="491.50" y1="97.03" x2="491.50" y2="100.44" stroke="#1c5a96" stroke-width="0.7" />
<rect x="490.40" y="97.63" width="2.20" height="2.20" fill="#1c5a96" />
<line x1="497.30" y1="102.88" x2="497.30" y2="104.97" stroke="#1c5a96" stroke-width="0.7" />
<rect x="496.20" y="102.82" width="2.20" height="2.20" fill="#1c5a96" />
<line x1="503.10" y1="103.94" x2="503.10" y2="107.22" stroke="#1c5a96" stroke-width="0.7" />
<rect x="502.00" y="104.48" width="2.20" height="2.20" fill="#1c5a96" />
<line x1="508.90" y1="105.81" x2="508.90" y2="109.78" stroke="#1c5a96" stroke-width="0.7" />
<rect x="507.80" y="106.69" width="2.20" height="2.20" fill="#1c5a96" />
<polyline points="450.90,54.99 451.92,55.17 452.95,55.40 453.97,55.69 455.00,56.07 456.02,56.55 457.05,57.17 458.07,57.95 459.10,58.94 460.12,60.16 461.15,61.67 462.17,63.49 463.20,65.66 464.22,68.19 465.25,71.06 466.27,74.23 467.29,77.61 468.32,81.12 469.34,84.62 470.37,88.00 471.39,91.16 472.42,94.01 473.44,96.53 474.47,98.68 475.49,100.49 476.52,101.99 477.54,103.20 478.57,104.18 479.59,104.96 480.62,105.57 481.64,106.05 482.66,106.42 483.69,106.71 484.71,106.94 485.74,107.11 486.76,107.25 487.79,107.35 488.81,107.43 489.84,107.50 490.86,107.54 491.89,107.58 492.91,107.61 493.94,107.63 494.96,107.65 495.99,107.66 497.01,107.67 498.03,107.68 499.06,107.68 500.08,107.69 501.11,107.69 502.13,107.69 503.16,107.69 504.18,107.69 505.21,107.70 506.23,107.70 507.26,107.70 508.28,107.70 509.31,107.70 510.33,107.70 511.36,107.70 512.38,107.70" fill="none" stroke="#d2203f" stroke-width="1.4"/>
<line x1="450.90" y1="53.53" x2="450.90" y2="55.46" stroke="#d2203f" stroke-width="0.7" />
<rect x="449.80" y="53.39" width="2.20" height="2.20" fill="#d2203f" />
<line x1="456.70" y1="54.57" x2="456.70" y2="56.55" stroke="#d2203f" stroke-width="0.7" />
<rect x="455.60" y="54.46" width="2.20" height="2.20" fill="#d2203f" />
<line x1="462.50" y1="62.93" x2="462.50" y2="66.45" stroke="#d2203f" stroke-width="0.7" />
<rect x="461.40" y="63.59" width="2.20" height="2.20" fill="#d2203f" />
<line x1="468.30" y1="79.20" x2="468.30" y2="82.28" stroke="#d2203f" stroke-width="0.7" />
<rect x="467.20" y="79.64" width="2.20" height="2.20" fill="#d2203f" />
<line x1="474.10" y1="96.07" x2="474.10" y2="98.89" stroke="#d2203f" stroke-width="0.7" />
<rect x="473.00" y="96.38" width="2.20" height="2.20" fill="#d2203f" />
<line x1="479.90" y1="104.72" x2="479.90" y2="106.79" stroke="#d2203f" stroke-width="0.7" />
<rect x="478.80" y="104.66" width="2.20" height="2.20" fill="#d2203f" />
<line x1="485.70" y1="106.73" x2="485.70" y2="110.24" stroke="#d2203f" stroke-width="0.7" />
<rect x="484.60" y="107.39" width="2.20" height="2.20" fill="#d2203f" />
<line x1="491.50" y1="105.23" x2="491.50" y2="108.28" stroke="#d2203f" stroke-width="0.7" />
<rect x="490.40" y="105.65" width="2.20" height="2.20" fill="#d2203f" />
<line x1="497.30" y1="105.63" x2="497.30" y2="108.18" stroke="#d2203f" stroke-width="0.7" />
<rect x="496.20" y="105.80" width="2.20" height="2.20" fill="#d2203f" />
<line x1="503.10" y1="107.13" x2="503.10" y2="109.75" stroke="#d2203f" stroke-width="0.7" />
<rect x="502.00" y="107.34" width="2.20" height="2.20" fill="#d2203f" />
<line x1="508.90" y1="105.65" x2="508.90" y2="107.36" stroke="#d2203f" stroke-width="0.7" />
<rect x="507.80" y="105.41" width="2.20" height="2.20" fill="#d2203f" />
<rect x="450.90" y="49.30" width="62.30" height="58.40" fill="none" stroke="#000" stroke-width="1.3" />
<line x1="448.90" y1="107.70" x2="450.90" y2="107.70" stroke="#000" stroke-width="0.8" />
<line x1="448.90" y1="94.38" x2="450.90" y2="94.38" stroke="#000" stroke-width="0.8" />
<line x1="448.90" y1="81.05" x2="450.90" y2="81.05" stroke="#000" stroke-width="0.8" />
<line x1="448.90" y1="67.72" x2="450.90" y2="67.72" stroke="#000" stroke-width="0.8" />
<line x1="448.90" y1="54.40" x2="450.90" y2="54.40" stroke="#000" stroke-width="0.8" />
<line x1="450.90" y1="107.70" x2="450.90" y2="109.70" stroke="#000" stroke-width="0.8" />
<text x="450.90" y="119.30" font-size="7.6" text-anchor="middle" fill="#000" stroke="#000" stroke-width="0.1" >−10</text>
<line x1="474.10" y1="107.70" x2="474.10" y2="109.70" stroke="#000" stroke-width="0.8" />
<text x="474.10" y="119.30" font-size="7.6" text-anchor="middle" fill="#000" stroke="#000" stroke-width="0.1" >−8</text>
<line x1="497.30" y1="107.70" x2="497.30" y2="109.70" stroke="#000" stroke-width="0.8" />
<text x="497.30" y="119.30" font-size="7.6" text-anchor="middle" fill="#000" stroke="#000" stroke-width="0.1" >−6</text>
<line x1="454.39" y1="106.50" x2="454.39" y2="107.70" stroke="#000" stroke-width="0.5" />
<line x1="456.43" y1="106.50" x2="456.43" y2="107.70" stroke="#000" stroke-width="0.5" />
<line x1="457.88" y1="106.50" x2="457.88" y2="107.70" stroke="#000" stroke-width="0.5" />
<line x1="459.01" y1="106.50" x2="459.01" y2="107.70" stroke="#000" stroke-width="0.5" />
<line x1="459.93" y1="106.50" x2="459.93" y2="107.70" stroke="#000" stroke-width="0.5" />
<line x1="460.70" y1="106.50" x2="460.70" y2="107.70" stroke="#000" stroke-width="0.5" />
<line x1="461.38" y1="106.50" x2="461.38" y2="107.70" stroke="#000" stroke-width="0.5" />
<line x1="461.97" y1="106.50" x2="461.97" y2="107.70" stroke="#000" stroke-width="0.5" />
<line x1="465.99" y1="106.50" x2="465.99" y2="107.70" stroke="#000" stroke-width="0.5" />
<line x1="468.03" y1="106.50" x2="468.03" y2="107.70" stroke="#000" stroke-width="0.5" />
<line x1="469.48" y1="106.50" x2="469.48" y2="107.70" stroke="#000" stroke-width="0.5" />
<line x1="470.61" y1="106.50" x2="470.61" y2="107.70" stroke="#000" stroke-width="0.5" />
<line x1="471.53" y1="106.50" x2="471.53" y2="107.70" stroke="#000" stroke-width="0.5" />
<line x1="472.30" y1="106.50" x2="472.30" y2="107.70" stroke="#000" stroke-width="0.5" />
<line x1="472.98" y1="106.50" x2="472.98" y2="107.70" stroke="#000" stroke-width="0.5" />
<line x1="473.57" y1="106.50" x2="473.57" y2="107.70" stroke="#000" stroke-width="0.5" />
<line x1="477.59" y1="106.50" x2="477.59" y2="107.70" stroke="#000" stroke-width="0.5" />
<line x1="479.63" y1="106.50" x2="479.63" y2="107.70" stroke="#000" stroke-width="0.5" />
<line x1="481.08" y1="106.50" x2="481.08" y2="107.70" stroke="#000" stroke-width="0.5" />
<line x1="482.21" y1="106.50" x2="482.21" y2="107.70" stroke="#000" stroke-width="0.5" />
<line x1="483.13" y1="106.50" x2="483.13" y2="107.70" stroke="#000" stroke-width="0.5" />
<line x1="483.90" y1="106.50" x2="483.90" y2="107.70" stroke="#000" stroke-width="0.5" />
<line x1="484.58" y1="106.50" x2="484.58" y2="107.70" stroke="#000" stroke-width="0.5" />
<line x1="485.17" y1="106.50" x2="485.17" y2="107.70" stroke="#000" stroke-width="0.5" />
<line x1="489.19" y1="106.50" x2="489.19" y2="107.70" stroke="#000" stroke-width="0.5" />
<line x1="491.23" y1="106.50" x2="491.23" y2="107.70" stroke="#000" stroke-width="0.5" />
<line x1="492.68" y1="106.50" x2="492.68" y2="107.70" stroke="#000" stroke-width="0.5" />
<line x1="493.81" y1="106.50" x2="493.81" y2="107.70" stroke="#000" stroke-width="0.5" />
<line x1="494.73" y1="106.50" x2="494.73" y2="107.70" stroke="#000" stroke-width="0.5" />
<line x1="495.50" y1="106.50" x2="495.50" y2="107.70" stroke="#000" stroke-width="0.5" />
<line x1="496.18" y1="106.50" x2="496.18" y2="107.70" stroke="#000" stroke-width="0.5" />
<line x1="496.77" y1="106.50" x2="496.77" y2="107.70" stroke="#000" stroke-width="0.5" />
<line x1="500.79" y1="106.50" x2="500.79" y2="107.70" stroke="#000" stroke-width="0.5" />
<line x1="502.83" y1="106.50" x2="502.83" y2="107.70" stroke="#000" stroke-width="0.5" />
<line x1="504.28" y1="106.50" x2="504.28" y2="107.70" stroke="#000" stroke-width="0.5" />
<line x1="505.41" y1="106.50" x2="505.41" y2="107.70" stroke="#000" stroke-width="0.5" />
<line x1="506.33" y1="106.50" x2="506.33" y2="107.70" stroke="#000" stroke-width="0.5" />
<line x1="507.10" y1="106.50" x2="507.10" y2="107.70" stroke="#000" stroke-width="0.5" />
<line x1="507.78" y1="106.50" x2="507.78" y2="107.70" stroke="#000" stroke-width="0.5" />
<line x1="508.37" y1="106.50" x2="508.37" y2="107.70" stroke="#000" stroke-width="0.5" />
<line x1="512.39" y1="106.50" x2="512.39" y2="107.70" stroke="#000" stroke-width="0.5" />
<text x="511.40" y="58.30" font-size="6.0" text-anchor="end" fill="#333" stroke="#333" stroke-width="0.1" textLength="25.00" lengthAdjust="spacingAndGlyphs" >p&lt;0.0001</text>
<text x="482.00" y="46.10" font-size="8.3" text-anchor="middle" fill="#222" stroke="#222" stroke-width="0.1" textLength="53.00" lengthAdjust="spacingAndGlyphs" >Venetoclax (Ven)</text>
<text x="482.05" y="132.20" font-size="8.8" text-anchor="middle" fill="#222" stroke="#222" stroke-width="0.1" textLength="20.50" lengthAdjust="spacingAndGlyphs" >log [M]</text>
<text x="303.00" y="110.40" font-size="7.6" text-anchor="end" fill="#000" stroke="#000" stroke-width="0.1" >0</text>
<text x="303.00" y="97.08" font-size="7.6" text-anchor="end" fill="#000" stroke="#000" stroke-width="0.1" >25</text>
<text x="303.00" y="83.75" font-size="7.6" text-anchor="end" fill="#000" stroke="#000" stroke-width="0.1" >50</text>
<text x="303.00" y="70.42" font-size="7.6" text-anchor="end" fill="#000" stroke="#000" stroke-width="0.1" >75</text>
<text x="303.00" y="57.10" font-size="7.6" text-anchor="end" fill="#000" stroke="#000" stroke-width="0.1" >100</text>
<text x="282.40" y="78.50" font-size="8.4" text-anchor="middle" fill="#222" stroke="#222" stroke-width="0.1" textLength="35.00" lengthAdjust="spacingAndGlyphs" transform="rotate(-90 282.40 78.50)" >Viability [%]</text>
<line x1="305.70" y1="21.60" x2="312.10" y2="21.60" stroke="#d2203f" stroke-width="1.0" />
<rect x="307.10" y="19.80" width="3.60" height="3.60" fill="#d2203f" />
<text x="314.90" y="24.30" font-size="7.6" text-anchor="start" fill="#222" stroke="#222" stroke-width="0.1" >WT</text>
<line x1="305.70" y1="30.40" x2="312.10" y2="30.40" stroke="#1c5a96" stroke-width="1.0" />
<rect x="307.10" y="28.60" width="3.60" height="3.60" fill="#1c5a96" />
<text x="314.90" y="33.10" font-size="7.6" text-anchor="start" fill="#222" stroke="#222" stroke-width="0.1" >KO</text>
<line x1="333.60" y1="21.60" x2="340.00" y2="21.60" stroke="#2fa84a" stroke-width="1.0" />
<polygon points="334.6,21.6 336.8,19.400000000000002 339.0,21.6 336.8,23.8" fill="#2fa84a"/>
<text x="342.80" y="24.30" font-size="7.6" text-anchor="start" fill="#222" stroke="#222" stroke-width="0.1" >R175H/−</text>
<line x1="333.60" y1="30.40" x2="340.00" y2="30.40" stroke="#3cb54a" stroke-width="1.0" />
<rect x="335.00" y="28.60" width="3.60" height="3.60" fill="#3cb54a" />
<text x="342.80" y="33.10" font-size="7.6" text-anchor="start" fill="#222" stroke="#222" stroke-width="0.1" >Y220C/−</text>
<line x1="379.10" y1="21.60" x2="385.50" y2="21.60" stroke="#2fa84a" stroke-width="1.0" />
<polygon points="380.0,23.400000000000002 382.3,19.200000000000003 384.6,23.400000000000002" fill="#2fa84a"/>
<text x="388.30" y="24.30" font-size="7.6" text-anchor="start" fill="#222" stroke="#222" stroke-width="0.1" >M237I/−</text>
<line x1="379.10" y1="30.40" x2="385.50" y2="30.40" stroke="#5cc56a" stroke-width="1.0" />
<circle cx="382.3" cy="30.4" r="1.8" fill="#fff" stroke="#5cc56a" stroke-width="1"/>
<text x="388.30" y="33.10" font-size="7.6" text-anchor="start" fill="#222" stroke="#222" stroke-width="0.1" >R248Q/−</text>
<line x1="424.00" y1="21.60" x2="430.40" y2="21.60" stroke="#5cc56a" stroke-width="1.0" />
<circle cx="427.2" cy="21.6" r="1.8" fill="#fff" stroke="#5cc56a" stroke-width="1"/>
<text x="433.20" y="24.30" font-size="7.6" text-anchor="start" fill="#222" stroke="#222" stroke-width="0.1" >R273H/−</text>
<line x1="424.00" y1="30.40" x2="430.40" y2="30.40" stroke="#5cc56a" stroke-width="1.0" />
<circle cx="427.2" cy="30.4" r="1.8" fill="#fff" stroke="#5cc56a" stroke-width="1"/>
<text x="433.20" y="33.10" font-size="7.6" text-anchor="start" fill="#222" stroke="#222" stroke-width="0.1" >R282W/−</text>
<rect x="354.50" y="412.7" width="22.00" height="196.80" fill="#fbdcb0"/>
<rect x="431.50" y="412.7" width="22.00" height="196.80" fill="#fbdcb0"/>
<text x="356.80" y="419.90" font-size="6.6" text-anchor="start" fill="#222" stroke="#222" stroke-width="0.1" textLength="19.00" lengthAdjust="spacingAndGlyphs" >Cycle 1</text>
<text x="442.50" y="419.70" font-size="6.6" text-anchor="middle" fill="#222" stroke="#222" stroke-width="0.1" textLength="19.00" lengthAdjust="spacingAndGlyphs" >Cycle 2</text>
<polyline points="354.50,452.76 376.50,455.15 393.00,455.95 404.00,459.93 415.00,459.93 431.50,460.73 453.50,462.32 470.00,461.53 481.00,462.32 492.00,460.73 508.50,459.13" fill="none" stroke="#1a4f8a" stroke-width="1.3"/>
<circle cx="354.50" cy="452.76" r="1.5" fill="#1a4f8a"/>
<circle cx="376.50" cy="455.15" r="1.5" fill="#1a4f8a"/>
<line x1="376.50" y1="452.95" x2="376.50" y2="457.35" stroke="#1a4f8a" stroke-width="0.7" />
<line x1="375.40" y1="452.95" x2="377.60" y2="452.95" stroke="#1a4f8a" stroke-width="0.6" />
<line x1="375.40" y1="457.35" x2="377.60" y2="457.35" stroke="#1a4f8a" stroke-width="0.6" />
<circle cx="393.00" cy="455.95" r="1.5" fill="#1a4f8a"/>
<line x1="393.00" y1="453.75" x2="393.00" y2="458.15" stroke="#1a4f8a" stroke-width="0.7" />
<line x1="391.90" y1="453.75" x2="394.10" y2="453.75" stroke="#1a4f8a" stroke-width="0.6" />
<line x1="391.90" y1="458.15" x2="394.10" y2="458.15" stroke="#1a4f8a" stroke-width="0.6" />
<circle cx="404.00" cy="459.93" r="1.5" fill="#1a4f8a"/>
<line x1="404.00" y1="457.73" x2="404.00" y2="462.13" stroke="#1a4f8a" stroke-width="0.7" />
<line x1="402.90" y1="457.73" x2="405.10" y2="457.73" stroke="#1a4f8a" stroke-width="0.6" />
<line x1="402.90" y1="462.13" x2="405.10" y2="462.13" stroke="#1a4f8a" stroke-width="0.6" />
<circle cx="415.00" cy="459.93" r="1.5" fill="#1a4f8a"/>
<line x1="415.00" y1="457.73" x2="415.00" y2="462.13" stroke="#1a4f8a" stroke-width="0.7" />
<line x1="413.90" y1="457.73" x2="416.10" y2="457.73" stroke="#1a4f8a" stroke-width="0.6" />
<line x1="413.90" y1="462.13" x2="416.10" y2="462.13" stroke="#1a4f8a" stroke-width="0.6" />
<circle cx="431.50" cy="460.73" r="1.5" fill="#1a4f8a"/>
<line x1="431.50" y1="458.53" x2="431.50" y2="462.93" stroke="#1a4f8a" stroke-width="0.7" />
<line x1="430.40" y1="458.53" x2="432.60" y2="458.53" stroke="#1a4f8a" stroke-width="0.6" />
<line x1="430.40" y1="462.93" x2="432.60" y2="462.93" stroke="#1a4f8a" stroke-width="0.6" />
<circle cx="453.50" cy="462.32" r="1.5" fill="#1a4f8a"/>
<line x1="453.50" y1="460.12" x2="453.50" y2="464.52" stroke="#1a4f8a" stroke-width="0.7" />
<line x1="452.40" y1="460.12" x2="454.60" y2="460.12" stroke="#1a4f8a" stroke-width="0.6" />
<line x1="452.40" y1="464.52" x2="454.60" y2="464.52" stroke="#1a4f8a" stroke-width="0.6" />
<circle cx="470.00" cy="461.53" r="1.5" fill="#1a4f8a"/>
<line x1="470.00" y1="459.33" x2="470.00" y2="463.73" stroke="#1a4f8a" stroke-width="0.7" />
<line x1="468.90" y1="459.33" x2="471.10" y2="459.33" stroke="#1a4f8a" stroke-width="0.6" />
<line x1="468.90" y1="463.73" x2="471.10" y2="463.73" stroke="#1a4f8a" stroke-width="0.6" />
<circle cx="481.00" cy="462.32" r="1.5" fill="#1a4f8a"/>
<line x1="481.00" y1="460.12" x2="481.00" y2="464.52" stroke="#1a4f8a" stroke-width="0.7" />
<line x1="479.90" y1="460.12" x2="482.10" y2="460.12" stroke="#1a4f8a" stroke-width="0.6" />
<line x1="479.90" y1="464.52" x2="482.10" y2="464.52" stroke="#1a4f8a" stroke-width="0.6" />
<circle cx="492.00" cy="460.73" r="1.5" fill="#1a4f8a"/>
<line x1="492.00" y1="458.53" x2="492.00" y2="462.93" stroke="#1a4f8a" stroke-width="0.7" />
<line x1="490.90" y1="458.53" x2="493.10" y2="458.53" stroke="#1a4f8a" stroke-width="0.6" />
<line x1="490.90" y1="462.93" x2="493.10" y2="462.93" stroke="#1a4f8a" stroke-width="0.6" />
<circle cx="508.50" cy="459.13" r="1.5" fill="#1a4f8a"/>
<line x1="508.50" y1="456.93" x2="508.50" y2="461.33" stroke="#1a4f8a" stroke-width="0.7" />
<line x1="507.40" y1="456.93" x2="509.60" y2="456.93" stroke="#1a4f8a" stroke-width="0.6" />
<line x1="507.40" y1="461.33" x2="509.60" y2="461.33" stroke="#1a4f8a" stroke-width="0.6" />
<polyline points="354.50,452.76 376.50,454.35 393.00,454.35 404.00,453.55 415.00,453.55 431.50,452.76" fill="none" stroke="#1c5a96" stroke-width="1.3"/>
<circle cx="354.50" cy="452.76" r="1.5" fill="#1c5a96"/>
<circle cx="376.50" cy="454.35" r="1.5" fill="#1c5a96"/>
<line x1="376.50" y1="452.15" x2="376.50" y2="456.55" stroke="#1c5a96" stroke-width="0.7" />
<line x1="375.40" y1="452.15" x2="377.60" y2="452.15" stroke="#1c5a96" stroke-width="0.6" />
<line x1="375.40" y1="456.55" x2="377.60" y2="456.55" stroke="#1c5a96" stroke-width="0.6" />
<circle cx="393.00" cy="454.35" r="1.5" fill="#1c5a96"/>
<line x1="393.00" y1="452.15" x2="393.00" y2="456.55" stroke="#1c5a96" stroke-width="0.7" />
<line x1="391.90" y1="452.15" x2="394.10" y2="452.15" stroke="#1c5a96" stroke-width="0.6" />
<line x1="391.90" y1="456.55" x2="394.10" y2="456.55" stroke="#1c5a96" stroke-width="0.6" />
<circle cx="404.00" cy="453.55" r="1.5" fill="#1c5a96"/>
<line x1="404.00" y1="451.35" x2="404.00" y2="455.75" stroke="#1c5a96" stroke-width="0.7" />
<line x1="402.90" y1="451.35" x2="405.10" y2="451.35" stroke="#1c5a96" stroke-width="0.6" />
<line x1="402.90" y1="455.75" x2="405.10" y2="455.75" stroke="#1c5a96" stroke-width="0.6" />
<circle cx="415.00" cy="453.55" r="1.5" fill="#1c5a96"/>
<line x1="415.00" y1="449.05" x2="415.00" y2="458.05" stroke="#1c5a96" stroke-width="0.7" />
<line x1="413.90" y1="449.05" x2="416.10" y2="449.05" stroke="#1c5a96" stroke-width="0.6" />
<line x1="413.90" y1="458.05" x2="416.10" y2="458.05" stroke="#1c5a96" stroke-width="0.6" />
<circle cx="431.50" cy="452.76" r="1.5" fill="#1c5a96"/>
<line x1="431.50" y1="448.26" x2="431.50" y2="457.26" stroke="#1c5a96" stroke-width="0.7" />
<line x1="430.40" y1="448.26" x2="432.60" y2="448.26" stroke="#1c5a96" stroke-width="0.6" />
<line x1="430.40" y1="457.26" x2="432.60" y2="457.26" stroke="#1c5a96" stroke-width="0.6" />
<polyline points="354.50,452.76 376.50,454.35 393.00,452.76 404.00,452.76 415.00,454.35 431.50,455.15 453.50,454.35 470.00,454.35 481.00,454.35 492.00,455.15 508.50,455.15" fill="none" stroke="#5cc45c" stroke-width="1.3"/>
<circle cx="354.50" cy="452.76" r="1.5" fill="#5cc45c"/>
<circle cx="376.50" cy="454.35" r="1.5" fill="#5cc45c"/>
<line x1="376.50" y1="452.15" x2="376.50" y2="456.55" stroke="#5cc45c" stroke-width="0.7" />
<line x1="375.40" y1="452.15" x2="377.60" y2="452.15" stroke="#5cc45c" stroke-width="0.6" />
<line x1="375.40" y1="456.55" x2="377.60" y2="456.55" stroke="#5cc45c" stroke-width="0.6" />
<circle cx="393.00" cy="452.76" r="1.5" fill="#5cc45c"/>
<line x1="393.00" y1="450.56" x2="393.00" y2="454.96" stroke="#5cc45c" stroke-width="0.7" />
<line x1="391.90" y1="450.56" x2="394.10" y2="450.56" stroke="#5cc45c" stroke-width="0.6" />
<line x1="391.90" y1="454.96" x2="394.10" y2="454.96" stroke="#5cc45c" stroke-width="0.6" />
<circle cx="404.00" cy="452.76" r="1.5" fill="#5cc45c"/>
<line x1="404.00" y1="450.56" x2="404.00" y2="454.96" stroke="#5cc45c" stroke-width="0.7" />
<line x1="402.90" y1="450.56" x2="405.10" y2="450.56" stroke="#5cc45c" stroke-width="0.6" />
<line x1="402.90" y1="454.96" x2="405.10" y2="454.96" stroke="#5cc45c" stroke-width="0.6" />
<circle cx="415.00" cy="454.35" r="1.5" fill="#5cc45c"/>
<line x1="415.00" y1="452.15" x2="415.00" y2="456.55" stroke="#5cc45c" stroke-width="0.7" />
<line x1="413.90" y1="452.15" x2="416.10" y2="452.15" stroke="#5cc45c" stroke-width="0.6" />
<line x1="413.90" y1="456.55" x2="416.10" y2="456.55" stroke="#5cc45c" stroke-width="0.6" />
<circle cx="431.50" cy="455.15" r="1.5" fill="#5cc45c"/>
<line x1="431.50" y1="452.95" x2="431.50" y2="457.35" stroke="#5cc45c" stroke-width="0.7" />
<line x1="430.40" y1="452.95" x2="432.60" y2="452.95" stroke="#5cc45c" stroke-width="0.6" />
<line x1="430.40" y1="457.35" x2="432.60" y2="457.35" stroke="#5cc45c" stroke-width="0.6" />
<circle cx="453.50" cy="454.35" r="1.5" fill="#5cc45c"/>
<line x1="453.50" y1="452.15" x2="453.50" y2="456.55" stroke="#5cc45c" stroke-width="0.7" />
<line x1="452.40" y1="452.15" x2="454.60" y2="452.15" stroke="#5cc45c" stroke-width="0.6" />
<line x1="452.40" y1="456.55" x2="454.60" y2="456.55" stroke="#5cc45c" stroke-width="0.6" />
<circle cx="470.00" cy="454.35" r="1.5" fill="#5cc45c"/>
<line x1="470.00" y1="452.15" x2="470.00" y2="456.55" stroke="#5cc45c" stroke-width="0.7" />
<line x1="468.90" y1="452.15" x2="471.10" y2="452.15" stroke="#5cc45c" stroke-width="0.6" />
<line x1="468.90" y1="456.55" x2="471.10" y2="456.55" stroke="#5cc45c" stroke-width="0.6" />
<circle cx="481.00" cy="454.35" r="1.5" fill="#5cc45c"/>
<line x1="481.00" y1="452.15" x2="481.00" y2="456.55" stroke="#5cc45c" stroke-width="0.7" />
<line x1="479.90" y1="452.15" x2="482.10" y2="452.15" stroke="#5cc45c" stroke-width="0.6" />
<line x1="479.90" y1="456.55" x2="482.10" y2="456.55" stroke="#5cc45c" stroke-width="0.6" />
<circle cx="492.00" cy="455.15" r="1.5" fill="#5cc45c"/>
<line x1="492.00" y1="452.95" x2="492.00" y2="457.35" stroke="#5cc45c" stroke-width="0.7" />
<line x1="490.90" y1="452.95" x2="493.10" y2="452.95" stroke="#5cc45c" stroke-width="0.6" />
<line x1="490.90" y1="457.35" x2="493.10" y2="457.35" stroke="#5cc45c" stroke-width="0.6" />
<circle cx="508.50" cy="455.15" r="1.5" fill="#5cc45c"/>
<line x1="508.50" y1="452.95" x2="508.50" y2="457.35" stroke="#5cc45c" stroke-width="0.7" />
<line x1="507.40" y1="452.95" x2="509.60" y2="452.95" stroke="#5cc45c" stroke-width="0.6" />
<line x1="507.40" y1="457.35" x2="509.60" y2="457.35" stroke="#5cc45c" stroke-width="0.6" />
<polyline points="354.50,452.76 376.50,454.35 393.00,451.96 404.00,451.16 415.00,453.55 431.50,455.15 453.50,454.35 470.00,454.35 481.00,455.15 492.00,455.15 508.50,455.15" fill="none" stroke="#3cb54a" stroke-width="1.3"/>
<circle cx="354.50" cy="452.76" r="1.5" fill="#3cb54a"/>
<circle cx="376.50" cy="454.35" r="1.5" fill="#3cb54a"/>
<line x1="376.50" y1="452.15" x2="376.50" y2="456.55" stroke="#3cb54a" stroke-width="0.7" />
<line x1="375.40" y1="452.15" x2="377.60" y2="452.15" stroke="#3cb54a" stroke-width="0.6" />
<line x1="375.40" y1="456.55" x2="377.60" y2="456.55" stroke="#3cb54a" stroke-width="0.6" />
<circle cx="393.00" cy="451.96" r="1.5" fill="#3cb54a"/>
<line x1="393.00" y1="449.76" x2="393.00" y2="454.16" stroke="#3cb54a" stroke-width="0.7" />
<line x1="391.90" y1="449.76" x2="394.10" y2="449.76" stroke="#3cb54a" stroke-width="0.6" />
<line x1="391.90" y1="454.16" x2="394.10" y2="454.16" stroke="#3cb54a" stroke-width="0.6" />
<circle cx="404.00" cy="451.16" r="1.5" fill="#3cb54a"/>
<line x1="404.00" y1="448.96" x2="404.00" y2="453.36" stroke="#3cb54a" stroke-width="0.7" />
<line x1="402.90" y1="448.96" x2="405.10" y2="448.96" stroke="#3cb54a" stroke-width="0.6" />
<line x1="402.90" y1="453.36" x2="405.10" y2="453.36" stroke="#3cb54a" stroke-width="0.6" />
<circle cx="415.00" cy="453.55" r="1.5" fill="#3cb54a"/>
<line x1="415.00" y1="451.35" x2="415.00" y2="455.75" stroke="#3cb54a" stroke-width="0.7" />
<line x1="413.90" y1="451.35" x2="416.10" y2="451.35" stroke="#3cb54a" stroke-width="0.6" />
<line x1="413.90" y1="455.75" x2="416.10" y2="455.75" stroke="#3cb54a" stroke-width="0.6" />
<circle cx="431.50" cy="455.15" r="1.5" fill="#3cb54a"/>
<line x1="431.50" y1="452.95" x2="431.50" y2="457.35" stroke="#3cb54a" stroke-width="0.7" />
<line x1="430.40" y1="452.95" x2="432.60" y2="452.95" stroke="#3cb54a" stroke-width="0.6" />
<line x1="430.40" y1="457.35" x2="432.60" y2="457.35" stroke="#3cb54a" stroke-width="0.6" />
<circle cx="453.50" cy="454.35" r="1.5" fill="#3cb54a"/>
<line x1="453.50" y1="452.15" x2="453.50" y2="456.55" stroke="#3cb54a" stroke-width="0.7" />
<line x1="452.40" y1="452.15" x2="454.60" y2="452.15" stroke="#3cb54a" stroke-width="0.6" />
<line x1="452.40" y1="456.55" x2="454.60" y2="456.55" stroke="#3cb54a" stroke-width="0.6" />
<circle cx="470.00" cy="454.35" r="1.5" fill="#3cb54a"/>
<line x1="470.00" y1="452.15" x2="470.00" y2="456.55" stroke="#3cb54a" stroke-width="0.7" />
<line x1="468.90" y1="452.15" x2="471.10" y2="452.15" stroke="#3cb54a" stroke-width="0.6" />
<line x1="468.90" y1="456.55" x2="471.10" y2="456.55" stroke="#3cb54a" stroke-width="0.6" />
<circle cx="481.00" cy="455.15" r="1.5" fill="#3cb54a"/>
<line x1="481.00" y1="452.95" x2="481.00" y2="457.35" stroke="#3cb54a" stroke-width="0.7" />
<line x1="479.90" y1="452.95" x2="482.10" y2="452.95" stroke="#3cb54a" stroke-width="0.6" />
<line x1="479.90" y1="457.35" x2="482.10" y2="457.35" stroke="#3cb54a" stroke-width="0.6" />
<circle cx="492.00" cy="455.15" r="1.5" fill="#3cb54a"/>
<line x1="492.00" y1="452.95" x2="492.00" y2="457.35" stroke="#3cb54a" stroke-width="0.7" />
<line x1="490.90" y1="452.95" x2="493.10" y2="452.95" stroke="#3cb54a" stroke-width="0.6" />
<line x1="490.90" y1="457.35" x2="493.10" y2="457.35" stroke="#3cb54a" stroke-width="0.6" />
<circle cx="508.50" cy="455.15" r="1.5" fill="#3cb54a"/>
<line x1="508.50" y1="452.95" x2="508.50" y2="457.35" stroke="#3cb54a" stroke-width="0.7" />
<line x1="507.40" y1="452.95" x2="509.60" y2="452.95" stroke="#3cb54a" stroke-width="0.6" />
<line x1="507.40" y1="457.35" x2="509.60" y2="457.35" stroke="#3cb54a" stroke-width="0.6" />
<polyline points="354.50,452.76 376.50,455.95 393.00,455.15 404.00,455.15 415.00,455.95 431.50,456.74 453.50,458.34 470.00,457.54 481.00,457.54 492.00,456.74 508.50,455.95" fill="none" stroke="#d2203f" stroke-width="1.3"/>
<circle cx="354.50" cy="452.76" r="1.5" fill="#d2203f"/>
<circle cx="376.50" cy="455.95" r="1.5" fill="#d2203f"/>
<line x1="376.50" y1="454.55" x2="376.50" y2="457.35" stroke="#d2203f" stroke-width="0.7" />
<line x1="375.40" y1="454.55" x2="377.60" y2="454.55" stroke="#d2203f" stroke-width="0.6" />
<line x1="375.40" y1="457.35" x2="377.60" y2="457.35" stroke="#d2203f" stroke-width="0.6" />
<circle cx="393.00" cy="455.15" r="1.5" fill="#d2203f"/>
<line x1="393.00" y1="453.75" x2="393.00" y2="456.55" stroke="#d2203f" stroke-width="0.7" />
<line x1="391.90" y1="453.75" x2="394.10" y2="453.75" stroke="#d2203f" stroke-width="0.6" />
<line x1="391.90" y1="456.55" x2="394.10" y2="456.55" stroke="#d2203f" stroke-width="0.6" />
<circle cx="404.00" cy="455.15" r="1.5" fill="#d2203f"/>
<line x1="404.00" y1="453.75" x2="404.00" y2="456.55" stroke="#d2203f" stroke-width="0.7" />
<line x1="402.90" y1="453.75" x2="405.10" y2="453.75" stroke="#d2203f" stroke-width="0.6" />
<line x1="402.90" y1="456.55" x2="405.10" y2="456.55" stroke="#d2203f" stroke-width="0.6" />
<circle cx="415.00" cy="455.95" r="1.5" fill="#d2203f"/>
<line x1="415.00" y1="454.55" x2="415.00" y2="457.35" stroke="#d2203f" stroke-width="0.7" />
<line x1="413.90" y1="454.55" x2="416.10" y2="454.55" stroke="#d2203f" stroke-width="0.6" />
<line x1="413.90" y1="457.35" x2="416.10" y2="457.35" stroke="#d2203f" stroke-width="0.6" />
<circle cx="431.50" cy="456.74" r="1.5" fill="#d2203f"/>
<line x1="431.50" y1="455.34" x2="431.50" y2="458.14" stroke="#d2203f" stroke-width="0.7" />
<line x1="430.40" y1="455.34" x2="432.60" y2="455.34" stroke="#d2203f" stroke-width="0.6" />
<line x1="430.40" y1="458.14" x2="432.60" y2="458.14" stroke="#d2203f" stroke-width="0.6" />
<circle cx="453.50" cy="458.34" r="1.5" fill="#d2203f"/>
<line x1="453.50" y1="456.94" x2="453.50" y2="459.74" stroke="#d2203f" stroke-width="0.7" />
<line x1="452.40" y1="456.94" x2="454.60" y2="456.94" stroke="#d2203f" stroke-width="0.6" />
<line x1="452.40" y1="459.74" x2="454.60" y2="459.74" stroke="#d2203f" stroke-width="0.6" />
<circle cx="470.00" cy="457.54" r="1.5" fill="#d2203f"/>
<line x1="470.00" y1="456.14" x2="470.00" y2="458.94" stroke="#d2203f" stroke-width="0.7" />
<line x1="468.90" y1="456.14" x2="471.10" y2="456.14" stroke="#d2203f" stroke-width="0.6" />
<line x1="468.90" y1="458.94" x2="471.10" y2="458.94" stroke="#d2203f" stroke-width="0.6" />
<circle cx="481.00" cy="457.54" r="1.5" fill="#d2203f"/>
<line x1="481.00" y1="456.14" x2="481.00" y2="458.94" stroke="#d2203f" stroke-width="0.7" />
<line x1="479.90" y1="456.14" x2="482.10" y2="456.14" stroke="#d2203f" stroke-width="0.6" />
<line x1="479.90" y1="458.94" x2="482.10" y2="458.94" stroke="#d2203f" stroke-width="0.6" />
<circle cx="492.00" cy="456.74" r="1.5" fill="#d2203f"/>
<line x1="492.00" y1="455.34" x2="492.00" y2="458.14" stroke="#d2203f" stroke-width="0.7" />
<line x1="490.90" y1="455.34" x2="493.10" y2="455.34" stroke="#d2203f" stroke-width="0.6" />
<line x1="490.90" y1="458.14" x2="493.10" y2="458.14" stroke="#d2203f" stroke-width="0.6" />
<circle cx="508.50" cy="455.95" r="1.5" fill="#d2203f"/>
<line x1="508.50" y1="454.55" x2="508.50" y2="457.35" stroke="#d2203f" stroke-width="0.7" />
<line x1="507.40" y1="454.55" x2="509.60" y2="454.55" stroke="#d2203f" stroke-width="0.6" />
<line x1="507.40" y1="457.35" x2="509.60" y2="457.35" stroke="#d2203f" stroke-width="0.6" />
<line x1="354.50" y1="409.90" x2="354.50" y2="469.20" stroke="#000" stroke-width="1.0" />
<line x1="354.50" y1="468.70" x2="510.70" y2="468.70" stroke="#000" stroke-width="1.1" />
<line x1="351.00" y1="468.70" x2="354.50" y2="468.70" stroke="#000" stroke-width="0.7" />
<text x="349.90" y="471.50" font-size="7.9" text-anchor="end" fill="#000" stroke="#000" stroke-width="0.1" textLength="8.80" lengthAdjust="spacingAndGlyphs" >30</text>
<line x1="351.00" y1="460.73" x2="354.50" y2="460.73" stroke="#000" stroke-width="0.7" />
<text x="349.90" y="463.53" font-size="7.9" text-anchor="end" fill="#000" stroke="#000" stroke-width="0.1" textLength="8.80" lengthAdjust="spacingAndGlyphs" >40</text>
<line x1="351.00" y1="452.76" x2="354.50" y2="452.76" stroke="#000" stroke-width="0.7" />
<text x="349.90" y="455.56" font-size="7.9" text-anchor="end" fill="#000" stroke="#000" stroke-width="0.1" textLength="8.80" lengthAdjust="spacingAndGlyphs" >50</text>
<line x1="351.00" y1="444.79" x2="354.50" y2="444.79" stroke="#000" stroke-width="0.7" />
<text x="349.90" y="447.59" font-size="7.9" text-anchor="end" fill="#000" stroke="#000" stroke-width="0.1" textLength="8.80" lengthAdjust="spacingAndGlyphs" >60</text>
<line x1="351.00" y1="436.81" x2="354.50" y2="436.81" stroke="#000" stroke-width="0.7" />
<text x="349.90" y="439.61" font-size="7.9" text-anchor="end" fill="#000" stroke="#000" stroke-width="0.1" textLength="8.80" lengthAdjust="spacingAndGlyphs" >70</text>
<line x1="351.00" y1="428.84" x2="354.50" y2="428.84" stroke="#000" stroke-width="0.7" />
<text x="349.90" y="431.64" font-size="7.9" text-anchor="end" fill="#000" stroke="#000" stroke-width="0.1" textLength="8.80" lengthAdjust="spacingAndGlyphs" >80</text>
<line x1="351.00" y1="420.87" x2="354.50" y2="420.87" stroke="#000" stroke-width="0.7" />
<text x="349.90" y="423.67" font-size="7.9" text-anchor="end" fill="#000" stroke="#000" stroke-width="0.1" textLength="8.80" lengthAdjust="spacingAndGlyphs" >90</text>
<line x1="351.00" y1="412.90" x2="354.50" y2="412.90" stroke="#000" stroke-width="0.7" />
<text x="349.90" y="415.70" font-size="7.9" text-anchor="end" fill="#000" stroke="#000" stroke-width="0.1" textLength="13.20" lengthAdjust="spacingAndGlyphs" >100</text>
<text x="380.00" y="409.10" font-size="6.6" text-anchor="start" fill="#000" stroke="#000" stroke-width="0.1" ><tspan font-weight="bold">WT</tspan><tspan font-size="4.6" fill="#333"> vs. </tspan><tspan font-weight="bold">WT</tspan></text>
<text x="329.60" y="440.80" font-size="7.6" text-anchor="middle" fill="#222" stroke="#222" stroke-width="0.1" textLength="44.00" lengthAdjust="spacingAndGlyphs" transform="rotate(-90 329.60 440.80)" >WT <tspan font-size="5.5">vs.</tspan> WT [%]</text>
<polyline points="354.50,523.97 376.50,515.16 393.00,504.74 404.00,499.93 415.00,495.92 431.50,491.12 453.50,487.91 470.00,487.91 481.00,487.91 492.00,488.71 508.50,487.91" fill="none" stroke="#d2203f" stroke-width="1.3"/>
<circle cx="354.50" cy="523.97" r="1.5" fill="#d2203f"/>
<circle cx="376.50" cy="515.16" r="1.5" fill="#d2203f"/>
<line x1="376.50" y1="513.76" x2="376.50" y2="516.56" stroke="#d2203f" stroke-width="0.7" />
<line x1="375.40" y1="513.76" x2="377.60" y2="513.76" stroke="#d2203f" stroke-width="0.6" />
<line x1="375.40" y1="516.56" x2="377.60" y2="516.56" stroke="#d2203f" stroke-width="0.6" />
<circle cx="393.00" cy="504.74" r="1.5" fill="#d2203f"/>
<line x1="393.00" y1="503.34" x2="393.00" y2="506.14" stroke="#d2203f" stroke-width="0.7" />
<line x1="391.90" y1="503.34" x2="394.10" y2="503.34" stroke="#d2203f" stroke-width="0.6" />
<line x1="391.90" y1="506.14" x2="394.10" y2="506.14" stroke="#d2203f" stroke-width="0.6" />
<circle cx="404.00" cy="499.93" r="1.5" fill="#d2203f"/>
<line x1="404.00" y1="498.53" x2="404.00" y2="501.33" stroke="#d2203f" stroke-width="0.7" />
<line x1="402.90" y1="498.53" x2="405.10" y2="498.53" stroke="#d2203f" stroke-width="0.6" />
<line x1="402.90" y1="501.33" x2="405.10" y2="501.33" stroke="#d2203f" stroke-width="0.6" />
<circle cx="415.00" cy="495.92" r="1.5" fill="#d2203f"/>
<line x1="415.00" y1="494.52" x2="415.00" y2="497.32" stroke="#d2203f" stroke-width="0.7" />
<line x1="413.90" y1="494.52" x2="416.10" y2="494.52" stroke="#d2203f" stroke-width="0.6" />
<line x1="413.90" y1="497.32" x2="416.10" y2="497.32" stroke="#d2203f" stroke-width="0.6" />
<circle cx="431.50" cy="491.12" r="1.5" fill="#d2203f"/>
<line x1="431.50" y1="489.72" x2="431.50" y2="492.52" stroke="#d2203f" stroke-width="0.7" />
<line x1="430.40" y1="489.72" x2="432.60" y2="489.72" stroke="#d2203f" stroke-width="0.6" />
<line x1="430.40" y1="492.52" x2="432.60" y2="492.52" stroke="#d2203f" stroke-width="0.6" />
<circle cx="453.50" cy="487.91" r="1.5" fill="#d2203f"/>
<line x1="453.50" y1="486.51" x2="453.50" y2="489.31" stroke="#d2203f" stroke-width="0.7" />
<line x1="452.40" y1="486.51" x2="454.60" y2="486.51" stroke="#d2203f" stroke-width="0.6" />
<line x1="452.40" y1="489.31" x2="454.60" y2="489.31" stroke="#d2203f" stroke-width="0.6" />
<circle cx="470.00" cy="487.91" r="1.5" fill="#d2203f"/>
<line x1="470.00" y1="486.51" x2="470.00" y2="489.31" stroke="#d2203f" stroke-width="0.7" />
<line x1="468.90" y1="486.51" x2="471.10" y2="486.51" stroke="#d2203f" stroke-width="0.6" />
<line x1="468.90" y1="489.31" x2="471.10" y2="489.31" stroke="#d2203f" stroke-width="0.6" />
<circle cx="481.00" cy="487.91" r="1.5" fill="#d2203f"/>
<line x1="481.00" y1="486.51" x2="481.00" y2="489.31" stroke="#d2203f" stroke-width="0.7" />
<line x1="479.90" y1="486.51" x2="482.10" y2="486.51" stroke="#d2203f" stroke-width="0.6" />
<line x1="479.90" y1="489.31" x2="482.10" y2="489.31" stroke="#d2203f" stroke-width="0.6" />
<circle cx="492.00" cy="488.71" r="1.5" fill="#d2203f"/>
<line x1="492.00" y1="487.31" x2="492.00" y2="490.11" stroke="#d2203f" stroke-width="0.7" />
<line x1="490.90" y1="487.31" x2="493.10" y2="487.31" stroke="#d2203f" stroke-width="0.6" />
<line x1="490.90" y1="490.11" x2="493.10" y2="490.11" stroke="#d2203f" stroke-width="0.6" />
<circle cx="508.50" cy="487.91" r="1.5" fill="#d2203f"/>
<line x1="508.50" y1="486.51" x2="508.50" y2="489.31" stroke="#d2203f" stroke-width="0.7" />
<line x1="507.40" y1="486.51" x2="509.60" y2="486.51" stroke="#d2203f" stroke-width="0.6" />
<line x1="507.40" y1="489.31" x2="509.60" y2="489.31" stroke="#d2203f" stroke-width="0.6" />
<polyline points="354.50,523.97 376.50,513.56 393.00,493.52 404.00,489.51 415.00,487.91 431.50,487.11 453.50,485.51 470.00,485.51 481.00,485.51 492.00,485.51 508.50,485.51" fill="none" stroke="#1a4f8a" stroke-width="1.3"/>
<circle cx="354.50" cy="523.97" r="1.5" fill="#1a4f8a"/>
<circle cx="376.50" cy="513.56" r="1.5" fill="#1a4f8a"/>
<line x1="376.50" y1="511.36" x2="376.50" y2="515.76" stroke="#1a4f8a" stroke-width="0.7" />
<line x1="375.40" y1="511.36" x2="377.60" y2="511.36" stroke="#1a4f8a" stroke-width="0.6" />
<line x1="375.40" y1="515.76" x2="377.60" y2="515.76" stroke="#1a4f8a" stroke-width="0.6" />
<circle cx="393.00" cy="493.52" r="1.5" fill="#1a4f8a"/>
<line x1="393.00" y1="491.32" x2="393.00" y2="495.72" stroke="#1a4f8a" stroke-width="0.7" />
<line x1="391.90" y1="491.32" x2="394.10" y2="491.32" stroke="#1a4f8a" stroke-width="0.6" />
<line x1="391.90" y1="495.72" x2="394.10" y2="495.72" stroke="#1a4f8a" stroke-width="0.6" />
<circle cx="404.00" cy="489.51" r="1.5" fill="#1a4f8a"/>
<line x1="404.00" y1="487.31" x2="404.00" y2="491.71" stroke="#1a4f8a" stroke-width="0.7" />
<line x1="402.90" y1="487.31" x2="405.10" y2="487.31" stroke="#1a4f8a" stroke-width="0.6" />
<line x1="402.90" y1="491.71" x2="405.10" y2="491.71" stroke="#1a4f8a" stroke-width="0.6" />
<circle cx="415.00" cy="487.91" r="1.5" fill="#1a4f8a"/>
<line x1="415.00" y1="485.71" x2="415.00" y2="490.11" stroke="#1a4f8a" stroke-width="0.7" />
<line x1="413.90" y1="485.71" x2="416.10" y2="485.71" stroke="#1a4f8a" stroke-width="0.6" />
<line x1="413.90" y1="490.11" x2="416.10" y2="490.11" stroke="#1a4f8a" stroke-width="0.6" />
<circle cx="431.50" cy="487.11" r="1.5" fill="#1a4f8a"/>
<line x1="431.50" y1="484.91" x2="431.50" y2="489.31" stroke="#1a4f8a" stroke-width="0.7" />
<line x1="430.40" y1="484.91" x2="432.60" y2="484.91" stroke="#1a4f8a" stroke-width="0.6" />
<line x1="430.40" y1="489.31" x2="432.60" y2="489.31" stroke="#1a4f8a" stroke-width="0.6" />
<circle cx="453.50" cy="485.51" r="1.5" fill="#1a4f8a"/>
<line x1="453.50" y1="483.31" x2="453.50" y2="487.71" stroke="#1a4f8a" stroke-width="0.7" />
<line x1="452.40" y1="483.31" x2="454.60" y2="483.31" stroke="#1a4f8a" stroke-width="0.6" />
<line x1="452.40" y1="487.71" x2="454.60" y2="487.71" stroke="#1a4f8a" stroke-width="0.6" />
<circle cx="470.00" cy="485.51" r="1.5" fill="#1a4f8a"/>
<line x1="470.00" y1="483.31" x2="470.00" y2="487.71" stroke="#1a4f8a" stroke-width="0.7" />
<line x1="468.90" y1="483.31" x2="471.10" y2="483.31" stroke="#1a4f8a" stroke-width="0.6" />
<line x1="468.90" y1="487.71" x2="471.10" y2="487.71" stroke="#1a4f8a" stroke-width="0.6" />
<circle cx="481.00" cy="485.51" r="1.5" fill="#1a4f8a"/>
<line x1="481.00" y1="483.31" x2="481.00" y2="487.71" stroke="#1a4f8a" stroke-width="0.7" />
<line x1="479.90" y1="483.31" x2="482.10" y2="483.31" stroke="#1a4f8a" stroke-width="0.6" />
<line x1="479.90" y1="487.71" x2="482.10" y2="487.71" stroke="#1a4f8a" stroke-width="0.6" />
<circle cx="492.00" cy="485.51" r="1.5" fill="#1a4f8a"/>
<line x1="492.00" y1="483.31" x2="492.00" y2="487.71" stroke="#1a4f8a" stroke-width="0.7" />
<line x1="490.90" y1="483.31" x2="493.10" y2="483.31" stroke="#1a4f8a" stroke-width="0.6" />
<line x1="490.90" y1="487.71" x2="493.10" y2="487.71" stroke="#1a4f8a" stroke-width="0.6" />
<circle cx="508.50" cy="485.51" r="1.5" fill="#1a4f8a"/>
<line x1="508.50" y1="483.31" x2="508.50" y2="487.71" stroke="#1a4f8a" stroke-width="0.7" />
<line x1="507.40" y1="483.31" x2="509.60" y2="483.31" stroke="#1a4f8a" stroke-width="0.6" />
<line x1="507.40" y1="487.71" x2="509.60" y2="487.71" stroke="#1a4f8a" stroke-width="0.6" />
<polyline points="354.50,523.97 376.50,503.94 393.00,491.92 404.00,487.91 415.00,487.11 431.50,486.31 453.50,484.70 470.00,484.70 481.00,484.70 492.00,485.51 508.50,484.70" fill="none" stroke="#1c5a96" stroke-width="1.3"/>
<circle cx="354.50" cy="523.97" r="1.5" fill="#1c5a96"/>
<circle cx="376.50" cy="503.94" r="1.5" fill="#1c5a96"/>
<line x1="376.50" y1="501.74" x2="376.50" y2="506.14" stroke="#1c5a96" stroke-width="0.7" />
<line x1="375.40" y1="501.74" x2="377.60" y2="501.74" stroke="#1c5a96" stroke-width="0.6" />
<line x1="375.40" y1="506.14" x2="377.60" y2="506.14" stroke="#1c5a96" stroke-width="0.6" />
<circle cx="393.00" cy="491.92" r="1.5" fill="#1c5a96"/>
<line x1="393.00" y1="489.72" x2="393.00" y2="494.12" stroke="#1c5a96" stroke-width="0.7" />
<line x1="391.90" y1="489.72" x2="394.10" y2="489.72" stroke="#1c5a96" stroke-width="0.6" />
<line x1="391.90" y1="494.12" x2="394.10" y2="494.12" stroke="#1c5a96" stroke-width="0.6" />
<circle cx="404.00" cy="487.91" r="1.5" fill="#1c5a96"/>
<line x1="404.00" y1="485.71" x2="404.00" y2="490.11" stroke="#1c5a96" stroke-width="0.7" />
<line x1="402.90" y1="485.71" x2="405.10" y2="485.71" stroke="#1c5a96" stroke-width="0.6" />
<line x1="402.90" y1="490.11" x2="405.10" y2="490.11" stroke="#1c5a96" stroke-width="0.6" />
<circle cx="415.00" cy="487.11" r="1.5" fill="#1c5a96"/>
<line x1="415.00" y1="484.91" x2="415.00" y2="489.31" stroke="#1c5a96" stroke-width="0.7" />
<line x1="413.90" y1="484.91" x2="416.10" y2="484.91" stroke="#1c5a96" stroke-width="0.6" />
<line x1="413.90" y1="489.31" x2="416.10" y2="489.31" stroke="#1c5a96" stroke-width="0.6" />
<circle cx="431.50" cy="486.31" r="1.5" fill="#1c5a96"/>
<line x1="431.50" y1="484.11" x2="431.50" y2="488.51" stroke="#1c5a96" stroke-width="0.7" />
<line x1="430.40" y1="484.11" x2="432.60" y2="484.11" stroke="#1c5a96" stroke-width="0.6" />
<line x1="430.40" y1="488.51" x2="432.60" y2="488.51" stroke="#1c5a96" stroke-width="0.6" />
<circle cx="453.50" cy="484.70" r="1.5" fill="#1c5a96"/>
<line x1="453.50" y1="482.50" x2="453.50" y2="486.90" stroke="#1c5a96" stroke-width="0.7" />
<line x1="452.40" y1="482.50" x2="454.60" y2="482.50" stroke="#1c5a96" stroke-width="0.6" />
<line x1="452.40" y1="486.90" x2="454.60" y2="486.90" stroke="#1c5a96" stroke-width="0.6" />
<circle cx="470.00" cy="484.70" r="1.5" fill="#1c5a96"/>
<line x1="470.00" y1="482.50" x2="470.00" y2="486.90" stroke="#1c5a96" stroke-width="0.7" />
<line x1="468.90" y1="482.50" x2="471.10" y2="482.50" stroke="#1c5a96" stroke-width="0.6" />
<line x1="468.90" y1="486.90" x2="471.10" y2="486.90" stroke="#1c5a96" stroke-width="0.6" />
<circle cx="481.00" cy="484.70" r="1.5" fill="#1c5a96"/>
<line x1="481.00" y1="482.50" x2="481.00" y2="486.90" stroke="#1c5a96" stroke-width="0.7" />
<line x1="479.90" y1="482.50" x2="482.10" y2="482.50" stroke="#1c5a96" stroke-width="0.6" />
<line x1="479.90" y1="486.90" x2="482.10" y2="486.90" stroke="#1c5a96" stroke-width="0.6" />
<circle cx="492.00" cy="485.51" r="1.5" fill="#1c5a96"/>
<line x1="492.00" y1="483.31" x2="492.00" y2="487.71" stroke="#1c5a96" stroke-width="0.7" />
<line x1="490.90" y1="483.31" x2="493.10" y2="483.31" stroke="#1c5a96" stroke-width="0.6" />
<line x1="490.90" y1="487.71" x2="493.10" y2="487.71" stroke="#1c5a96" stroke-width="0.6" />
<circle cx="508.50" cy="484.70" r="1.5" fill="#1c5a96"/>
<line x1="508.50" y1="482.50" x2="508.50" y2="486.90" stroke="#1c5a96" stroke-width="0.7" />
<line x1="507.40" y1="482.50" x2="509.60" y2="482.50" stroke="#1c5a96" stroke-width="0.6" />
<line x1="507.40" y1="486.90" x2="509.60" y2="486.90" stroke="#1c5a96" stroke-width="0.6" />
<polyline points="354.50,523.97 376.50,501.53 393.00,491.92 404.00,486.31 415.00,486.31 431.50,486.31 453.50,484.70 470.00,484.70 481.00,484.70 492.00,485.51 508.50,485.51" fill="none" stroke="#5cc45c" stroke-width="1.3"/>
<circle cx="354.50" cy="523.97" r="1.5" fill="#5cc45c"/>
<circle cx="376.50" cy="501.53" r="1.5" fill="#5cc45c"/>
<line x1="376.50" y1="499.33" x2="376.50" y2="503.73" stroke="#5cc45c" stroke-width="0.7" />
<line x1="375.40" y1="499.33" x2="377.60" y2="499.33" stroke="#5cc45c" stroke-width="0.6" />
<line x1="375.40" y1="503.73" x2="377.60" y2="503.73" stroke="#5cc45c" stroke-width="0.6" />
<circle cx="393.00" cy="491.92" r="1.5" fill="#5cc45c"/>
<line x1="393.00" y1="489.72" x2="393.00" y2="494.12" stroke="#5cc45c" stroke-width="0.7" />
<line x1="391.90" y1="489.72" x2="394.10" y2="489.72" stroke="#5cc45c" stroke-width="0.6" />
<line x1="391.90" y1="494.12" x2="394.10" y2="494.12" stroke="#5cc45c" stroke-width="0.6" />
<circle cx="404.00" cy="486.31" r="1.5" fill="#5cc45c"/>
<line x1="404.00" y1="484.11" x2="404.00" y2="488.51" stroke="#5cc45c" stroke-width="0.7" />
<line x1="402.90" y1="484.11" x2="405.10" y2="484.11" stroke="#5cc45c" stroke-width="0.6" />
<line x1="402.90" y1="488.51" x2="405.10" y2="488.51" stroke="#5cc45c" stroke-width="0.6" />
<circle cx="415.00" cy="486.31" r="1.5" fill="#5cc45c"/>
<line x1="415.00" y1="484.11" x2="415.00" y2="488.51" stroke="#5cc45c" stroke-width="0.7" />
<line x1="413.90" y1="484.11" x2="416.10" y2="484.11" stroke="#5cc45c" stroke-width="0.6" />
<line x1="413.90" y1="488.51" x2="416.10" y2="488.51" stroke="#5cc45c" stroke-width="0.6" />
<circle cx="431.50" cy="486.31" r="1.5" fill="#5cc45c"/>
<line x1="431.50" y1="484.11" x2="431.50" y2="488.51" stroke="#5cc45c" stroke-width="0.7" />
<line x1="430.40" y1="484.11" x2="432.60" y2="484.11" stroke="#5cc45c" stroke-width="0.6" />
<line x1="430.40" y1="488.51" x2="432.60" y2="488.51" stroke="#5cc45c" stroke-width="0.6" />
<circle cx="453.50" cy="484.70" r="1.5" fill="#5cc45c"/>
<line x1="453.50" y1="482.50" x2="453.50" y2="486.90" stroke="#5cc45c" stroke-width="0.7" />
<line x1="452.40" y1="482.50" x2="454.60" y2="482.50" stroke="#5cc45c" stroke-width="0.6" />
<line x1="452.40" y1="486.90" x2="454.60" y2="486.90" stroke="#5cc45c" stroke-width="0.6" />
<circle cx="470.00" cy="484.70" r="1.5" fill="#5cc45c"/>
<line x1="470.00" y1="482.50" x2="470.00" y2="486.90" stroke="#5cc45c" stroke-width="0.7" />
<line x1="468.90" y1="482.50" x2="471.10" y2="482.50" stroke="#5cc45c" stroke-width="0.6" />
<line x1="468.90" y1="486.90" x2="471.10" y2="486.90" stroke="#5cc45c" stroke-width="0.6" />
<circle cx="481.00" cy="484.70" r="1.5" fill="#5cc45c"/>
<line x1="481.00" y1="482.50" x2="481.00" y2="486.90" stroke="#5cc45c" stroke-width="0.7" />
<line x1="479.90" y1="482.50" x2="482.10" y2="482.50" stroke="#5cc45c" stroke-width="0.6" />
<line x1="479.90" y1="486.90" x2="482.10" y2="486.90" stroke="#5cc45c" stroke-width="0.6" />
<circle cx="492.00" cy="485.51" r="1.5" fill="#5cc45c"/>
<line x1="492.00" y1="483.31" x2="492.00" y2="487.71" stroke="#5cc45c" stroke-width="0.7" />
<line x1="490.90" y1="483.31" x2="493.10" y2="483.31" stroke="#5cc45c" stroke-width="0.6" />
<line x1="490.90" y1="487.71" x2="493.10" y2="487.71" stroke="#5cc45c" stroke-width="0.6" />
<circle cx="508.50" cy="485.51" r="1.5" fill="#5cc45c"/>
<line x1="508.50" y1="483.31" x2="508.50" y2="487.71" stroke="#5cc45c" stroke-width="0.7" />
<line x1="507.40" y1="483.31" x2="509.60" y2="483.31" stroke="#5cc45c" stroke-width="0.6" />
<line x1="507.40" y1="487.71" x2="509.60" y2="487.71" stroke="#5cc45c" stroke-width="0.6" />
<polyline points="354.50,523.97 376.50,507.14 393.00,487.11 404.00,484.70 415.00,485.51 431.50,486.31 453.50,484.70 470.00,484.70 481.00,484.70 492.00,485.51 508.50,486.31" fill="none" stroke="#3cb54a" stroke-width="1.3"/>
<circle cx="354.50" cy="523.97" r="1.5" fill="#3cb54a"/>
<circle cx="376.50" cy="507.14" r="1.5" fill="#3cb54a"/>
<line x1="376.50" y1="504.94" x2="376.50" y2="509.34" stroke="#3cb54a" stroke-width="0.7" />
<line x1="375.40" y1="504.94" x2="377.60" y2="504.94" stroke="#3cb54a" stroke-width="0.6" />
<line x1="375.40" y1="509.34" x2="377.60" y2="509.34" stroke="#3cb54a" stroke-width="0.6" />
<circle cx="393.00" cy="487.11" r="1.5" fill="#3cb54a"/>
<line x1="393.00" y1="484.91" x2="393.00" y2="489.31" stroke="#3cb54a" stroke-width="0.7" />
<line x1="391.90" y1="484.91" x2="394.10" y2="484.91" stroke="#3cb54a" stroke-width="0.6" />
<line x1="391.90" y1="489.31" x2="394.10" y2="489.31" stroke="#3cb54a" stroke-width="0.6" />
<circle cx="404.00" cy="484.70" r="1.5" fill="#3cb54a"/>
<line x1="404.00" y1="482.50" x2="404.00" y2="486.90" stroke="#3cb54a" stroke-width="0.7" />
<line x1="402.90" y1="482.50" x2="405.10" y2="482.50" stroke="#3cb54a" stroke-width="0.6" />
<line x1="402.90" y1="486.90" x2="405.10" y2="486.90" stroke="#3cb54a" stroke-width="0.6" />
<circle cx="415.00" cy="485.51" r="1.5" fill="#3cb54a"/>
<line x1="415.00" y1="483.31" x2="415.00" y2="487.71" stroke="#3cb54a" stroke-width="0.7" />
<line x1="413.90" y1="483.31" x2="416.10" y2="483.31" stroke="#3cb54a" stroke-width="0.6" />
<line x1="413.90" y1="487.71" x2="416.10" y2="487.71" stroke="#3cb54a" stroke-width="0.6" />
<circle cx="431.50" cy="486.31" r="1.5" fill="#3cb54a"/>
<line x1="431.50" y1="484.11" x2="431.50" y2="488.51" stroke="#3cb54a" stroke-width="0.7" />
<line x1="430.40" y1="484.11" x2="432.60" y2="484.11" stroke="#3cb54a" stroke-width="0.6" />
<line x1="430.40" y1="488.51" x2="432.60" y2="488.51" stroke="#3cb54a" stroke-width="0.6" />
<circle cx="453.50" cy="484.70" r="1.5" fill="#3cb54a"/>
<line x1="453.50" y1="482.50" x2="453.50" y2="486.90" stroke="#3cb54a" stroke-width="0.7" />
<line x1="452.40" y1="482.50" x2="454.60" y2="482.50" stroke="#3cb54a" stroke-width="0.6" />
<line x1="452.40" y1="486.90" x2="454.60" y2="486.90" stroke="#3cb54a" stroke-width="0.6" />
<circle cx="470.00" cy="484.70" r="1.5" fill="#3cb54a"/>
<line x1="470.00" y1="482.50" x2="470.00" y2="486.90" stroke="#3cb54a" stroke-width="0.7" />
<line x1="468.90" y1="482.50" x2="471.10" y2="482.50" stroke="#3cb54a" stroke-width="0.6" />
<line x1="468.90" y1="486.90" x2="471.10" y2="486.90" stroke="#3cb54a" stroke-width="0.6" />
<circle cx="481.00" cy="484.70" r="1.5" fill="#3cb54a"/>
<line x1="481.00" y1="482.50" x2="481.00" y2="486.90" stroke="#3cb54a" stroke-width="0.7" />
<line x1="479.90" y1="482.50" x2="482.10" y2="482.50" stroke="#3cb54a" stroke-width="0.6" />
<line x1="479.90" y1="486.90" x2="482.10" y2="486.90" stroke="#3cb54a" stroke-width="0.6" />
<circle cx="492.00" cy="485.51" r="1.5" fill="#3cb54a"/>
<line x1="492.00" y1="483.31" x2="492.00" y2="487.71" stroke="#3cb54a" stroke-width="0.7" />
<line x1="490.90" y1="483.31" x2="493.10" y2="483.31" stroke="#3cb54a" stroke-width="0.6" />
<line x1="490.90" y1="487.71" x2="493.10" y2="487.71" stroke="#3cb54a" stroke-width="0.6" />
<circle cx="508.50" cy="486.31" r="1.5" fill="#3cb54a"/>
<line x1="508.50" y1="484.11" x2="508.50" y2="488.51" stroke="#3cb54a" stroke-width="0.7" />
<line x1="507.40" y1="484.11" x2="509.60" y2="484.11" stroke="#3cb54a" stroke-width="0.6" />
<line x1="507.40" y1="488.51" x2="509.60" y2="488.51" stroke="#3cb54a" stroke-width="0.6" />
<line x1="354.50" y1="479.30" x2="354.50" y2="538.90" stroke="#000" stroke-width="1.0" />
<line x1="354.50" y1="538.40" x2="510.70" y2="538.40" stroke="#000" stroke-width="1.1" />
<line x1="351.00" y1="538.40" x2="354.50" y2="538.40" stroke="#000" stroke-width="0.7" />
<text x="349.90" y="541.20" font-size="7.9" text-anchor="end" fill="#000" stroke="#000" stroke-width="0.1" textLength="8.80" lengthAdjust="spacingAndGlyphs" >30</text>
<line x1="351.00" y1="530.39" x2="354.50" y2="530.39" stroke="#000" stroke-width="0.7" />
<text x="349.90" y="533.19" font-size="7.9" text-anchor="end" fill="#000" stroke="#000" stroke-width="0.1" textLength="8.80" lengthAdjust="spacingAndGlyphs" >40</text>
<line x1="351.00" y1="522.37" x2="354.50" y2="522.37" stroke="#000" stroke-width="0.7" />
<text x="349.90" y="525.17" font-size="7.9" text-anchor="end" fill="#000" stroke="#000" stroke-width="0.1" textLength="8.80" lengthAdjust="spacingAndGlyphs" >50</text>
<line x1="351.00" y1="514.36" x2="354.50" y2="514.36" stroke="#000" stroke-width="0.7" />
<text x="349.90" y="517.16" font-size="7.9" text-anchor="end" fill="#000" stroke="#000" stroke-width="0.1" textLength="8.80" lengthAdjust="spacingAndGlyphs" >60</text>
<line x1="351.00" y1="506.34" x2="354.50" y2="506.34" stroke="#000" stroke-width="0.7" />
<text x="349.90" y="509.14" font-size="7.9" text-anchor="end" fill="#000" stroke="#000" stroke-width="0.1" textLength="8.80" lengthAdjust="spacingAndGlyphs" >70</text>
<line x1="351.00" y1="498.33" x2="354.50" y2="498.33" stroke="#000" stroke-width="0.7" />
<text x="349.90" y="501.13" font-size="7.9" text-anchor="end" fill="#000" stroke="#000" stroke-width="0.1" textLength="8.80" lengthAdjust="spacingAndGlyphs" >80</text>
<line x1="351.00" y1="490.31" x2="354.50" y2="490.31" stroke="#000" stroke-width="0.7" />
<text x="349.90" y="493.11" font-size="7.9" text-anchor="end" fill="#000" stroke="#000" stroke-width="0.1" textLength="8.80" lengthAdjust="spacingAndGlyphs" >90</text>
<line x1="351.00" y1="482.30" x2="354.50" y2="482.30" stroke="#000" stroke-width="0.7" />
<text x="349.90" y="485.10" font-size="7.9" text-anchor="end" fill="#000" stroke="#000" stroke-width="0.1" textLength="13.20" lengthAdjust="spacingAndGlyphs" >100</text>
<text x="380.00" y="478.50" font-size="6.6" text-anchor="start" fill="#000" stroke="#000" stroke-width="0.1" ><tspan font-weight="bold">KO</tspan><tspan font-size="4.6" fill="#333"> vs. </tspan><tspan font-weight="bold">WT</tspan></text>
<text x="329.60" y="510.35" font-size="7.6" text-anchor="middle" fill="#222" stroke="#222" stroke-width="0.1" textLength="44.00" lengthAdjust="spacingAndGlyphs" transform="rotate(-90 329.60 510.35)" >KO <tspan font-size="5.5">vs.</tspan> WT [%]</text>
<polyline points="354.50,591.71 376.50,595.75 393.00,590.90 404.00,590.90 415.00,590.90 431.50,588.48 453.50,582.01 470.00,578.77 481.00,574.73 492.00,574.73 508.50,571.50" fill="none" stroke="#d2203f" stroke-width="1.3"/>
<circle cx="354.50" cy="591.71" r="1.5" fill="#d2203f"/>
<circle cx="376.50" cy="595.75" r="1.5" fill="#d2203f"/>
<line x1="376.50" y1="594.35" x2="376.50" y2="597.15" stroke="#d2203f" stroke-width="0.7" />
<line x1="375.40" y1="594.35" x2="377.60" y2="594.35" stroke="#d2203f" stroke-width="0.6" />
<line x1="375.40" y1="597.15" x2="377.60" y2="597.15" stroke="#d2203f" stroke-width="0.6" />
<circle cx="393.00" cy="590.90" r="1.5" fill="#d2203f"/>
<line x1="393.00" y1="589.50" x2="393.00" y2="592.30" stroke="#d2203f" stroke-width="0.7" />
<line x1="391.90" y1="589.50" x2="394.10" y2="589.50" stroke="#d2203f" stroke-width="0.6" />
<line x1="391.90" y1="592.30" x2="394.10" y2="592.30" stroke="#d2203f" stroke-width="0.6" />
<circle cx="404.00" cy="590.90" r="1.5" fill="#d2203f"/>
<line x1="404.00" y1="589.50" x2="404.00" y2="592.30" stroke="#d2203f" stroke-width="0.7" />
<line x1="402.90" y1="589.50" x2="405.10" y2="589.50" stroke="#d2203f" stroke-width="0.6" />
<line x1="402.90" y1="592.30" x2="405.10" y2="592.30" stroke="#d2203f" stroke-width="0.6" />
<circle cx="415.00" cy="590.90" r="1.5" fill="#d2203f"/>
<line x1="415.00" y1="589.50" x2="415.00" y2="592.30" stroke="#d2203f" stroke-width="0.7" />
<line x1="413.90" y1="589.50" x2="416.10" y2="589.50" stroke="#d2203f" stroke-width="0.6" />
<line x1="413.90" y1="592.30" x2="416.10" y2="592.30" stroke="#d2203f" stroke-width="0.6" />
<circle cx="431.50" cy="588.48" r="1.5" fill="#d2203f"/>
<line x1="431.50" y1="587.08" x2="431.50" y2="589.88" stroke="#d2203f" stroke-width="0.7" />
<line x1="430.40" y1="587.08" x2="432.60" y2="587.08" stroke="#d2203f" stroke-width="0.6" />
<line x1="430.40" y1="589.88" x2="432.60" y2="589.88" stroke="#d2203f" stroke-width="0.6" />
<circle cx="453.50" cy="582.01" r="1.5" fill="#d2203f"/>
<line x1="453.50" y1="580.61" x2="453.50" y2="583.41" stroke="#d2203f" stroke-width="0.7" />
<line x1="452.40" y1="580.61" x2="454.60" y2="580.61" stroke="#d2203f" stroke-width="0.6" />
<line x1="452.40" y1="583.41" x2="454.60" y2="583.41" stroke="#d2203f" stroke-width="0.6" />
<circle cx="470.00" cy="578.77" r="1.5" fill="#d2203f"/>
<line x1="470.00" y1="577.37" x2="470.00" y2="580.17" stroke="#d2203f" stroke-width="0.7" />
<line x1="468.90" y1="577.37" x2="471.10" y2="577.37" stroke="#d2203f" stroke-width="0.6" />
<line x1="468.90" y1="580.17" x2="471.10" y2="580.17" stroke="#d2203f" stroke-width="0.6" />
<circle cx="481.00" cy="574.73" r="1.5" fill="#d2203f"/>
<line x1="481.00" y1="573.33" x2="481.00" y2="576.13" stroke="#d2203f" stroke-width="0.7" />
<line x1="479.90" y1="573.33" x2="482.10" y2="573.33" stroke="#d2203f" stroke-width="0.6" />
<line x1="479.90" y1="576.13" x2="482.10" y2="576.13" stroke="#d2203f" stroke-width="0.6" />
<circle cx="492.00" cy="574.73" r="1.5" fill="#d2203f"/>
<line x1="492.00" y1="573.33" x2="492.00" y2="576.13" stroke="#d2203f" stroke-width="0.7" />
<line x1="490.90" y1="573.33" x2="493.10" y2="573.33" stroke="#d2203f" stroke-width="0.6" />
<line x1="490.90" y1="576.13" x2="493.10" y2="576.13" stroke="#d2203f" stroke-width="0.6" />
<circle cx="508.50" cy="571.50" r="1.5" fill="#d2203f"/>
<line x1="508.50" y1="570.10" x2="508.50" y2="572.90" stroke="#d2203f" stroke-width="0.7" />
<line x1="507.40" y1="570.10" x2="509.60" y2="570.10" stroke="#d2203f" stroke-width="0.6" />
<line x1="507.40" y1="572.90" x2="509.60" y2="572.90" stroke="#d2203f" stroke-width="0.6" />
<polyline points="354.50,591.71 376.50,573.92 393.00,569.07 404.00,566.65 415.00,565.84 431.50,565.03 453.50,560.18 470.00,557.75 481.00,557.75 492.00,557.75 508.50,557.75" fill="none" stroke="#1a4f8a" stroke-width="1.3"/>
<circle cx="354.50" cy="591.71" r="1.5" fill="#1a4f8a"/>
<circle cx="376.50" cy="573.92" r="1.5" fill="#1a4f8a"/>
<line x1="376.50" y1="569.92" x2="376.50" y2="577.92" stroke="#1a4f8a" stroke-width="0.7" />
<line x1="375.40" y1="569.92" x2="377.60" y2="569.92" stroke="#1a4f8a" stroke-width="0.6" />
<line x1="375.40" y1="577.92" x2="377.60" y2="577.92" stroke="#1a4f8a" stroke-width="0.6" />
<circle cx="393.00" cy="569.07" r="1.5" fill="#1a4f8a"/>
<line x1="393.00" y1="565.07" x2="393.00" y2="573.07" stroke="#1a4f8a" stroke-width="0.7" />
<line x1="391.90" y1="565.07" x2="394.10" y2="565.07" stroke="#1a4f8a" stroke-width="0.6" />
<line x1="391.90" y1="573.07" x2="394.10" y2="573.07" stroke="#1a4f8a" stroke-width="0.6" />
<circle cx="404.00" cy="566.65" r="1.5" fill="#1a4f8a"/>
<line x1="404.00" y1="562.65" x2="404.00" y2="570.65" stroke="#1a4f8a" stroke-width="0.7" />
<line x1="402.90" y1="562.65" x2="405.10" y2="562.65" stroke="#1a4f8a" stroke-width="0.6" />
<line x1="402.90" y1="570.65" x2="405.10" y2="570.65" stroke="#1a4f8a" stroke-width="0.6" />
<circle cx="415.00" cy="565.84" r="1.5" fill="#1a4f8a"/>
<line x1="415.00" y1="561.84" x2="415.00" y2="569.84" stroke="#1a4f8a" stroke-width="0.7" />
<line x1="413.90" y1="561.84" x2="416.10" y2="561.84" stroke="#1a4f8a" stroke-width="0.6" />
<line x1="413.90" y1="569.84" x2="416.10" y2="569.84" stroke="#1a4f8a" stroke-width="0.6" />
<circle cx="431.50" cy="565.03" r="1.5" fill="#1a4f8a"/>
<line x1="431.50" y1="561.03" x2="431.50" y2="569.03" stroke="#1a4f8a" stroke-width="0.7" />
<line x1="430.40" y1="561.03" x2="432.60" y2="561.03" stroke="#1a4f8a" stroke-width="0.6" />
<line x1="430.40" y1="569.03" x2="432.60" y2="569.03" stroke="#1a4f8a" stroke-width="0.6" />
<circle cx="453.50" cy="560.18" r="1.5" fill="#1a4f8a"/>
<line x1="453.50" y1="556.18" x2="453.50" y2="564.18" stroke="#1a4f8a" stroke-width="0.7" />
<line x1="452.40" y1="556.18" x2="454.60" y2="556.18" stroke="#1a4f8a" stroke-width="0.6" />
<line x1="452.40" y1="564.18" x2="454.60" y2="564.18" stroke="#1a4f8a" stroke-width="0.6" />
<circle cx="470.00" cy="557.75" r="1.5" fill="#1a4f8a"/>
<line x1="470.00" y1="553.75" x2="470.00" y2="561.75" stroke="#1a4f8a" stroke-width="0.7" />
<line x1="468.90" y1="553.75" x2="471.10" y2="553.75" stroke="#1a4f8a" stroke-width="0.6" />
<line x1="468.90" y1="561.75" x2="471.10" y2="561.75" stroke="#1a4f8a" stroke-width="0.6" />
<circle cx="481.00" cy="557.75" r="1.5" fill="#1a4f8a"/>
<line x1="481.00" y1="553.75" x2="481.00" y2="561.75" stroke="#1a4f8a" stroke-width="0.7" />
<line x1="479.90" y1="553.75" x2="482.10" y2="553.75" stroke="#1a4f8a" stroke-width="0.6" />
<line x1="479.90" y1="561.75" x2="482.10" y2="561.75" stroke="#1a4f8a" stroke-width="0.6" />
<circle cx="492.00" cy="557.75" r="1.5" fill="#1a4f8a"/>
<line x1="492.00" y1="553.75" x2="492.00" y2="561.75" stroke="#1a4f8a" stroke-width="0.7" />
<line x1="490.90" y1="553.75" x2="493.10" y2="553.75" stroke="#1a4f8a" stroke-width="0.6" />
<line x1="490.90" y1="561.75" x2="493.10" y2="561.75" stroke="#1a4f8a" stroke-width="0.6" />
<circle cx="508.50" cy="557.75" r="1.5" fill="#1a4f8a"/>
<line x1="508.50" y1="553.75" x2="508.50" y2="561.75" stroke="#1a4f8a" stroke-width="0.7" />
<line x1="507.40" y1="553.75" x2="509.60" y2="553.75" stroke="#1a4f8a" stroke-width="0.6" />
<line x1="507.40" y1="561.75" x2="509.60" y2="561.75" stroke="#1a4f8a" stroke-width="0.6" />
<polyline points="354.50,591.71 376.50,585.24 393.00,573.11 404.00,567.45 415.00,566.65 431.50,565.84 453.50,560.99 470.00,558.56 481.00,558.56 492.00,558.56 508.50,558.56" fill="none" stroke="#1c5a96" stroke-width="1.3"/>
<circle cx="354.50" cy="591.71" r="1.5" fill="#1c5a96"/>
<circle cx="376.50" cy="585.24" r="1.5" fill="#1c5a96"/>
<line x1="376.50" y1="581.24" x2="376.50" y2="589.24" stroke="#1c5a96" stroke-width="0.7" />
<line x1="375.40" y1="581.24" x2="377.60" y2="581.24" stroke="#1c5a96" stroke-width="0.6" />
<line x1="375.40" y1="589.24" x2="377.60" y2="589.24" stroke="#1c5a96" stroke-width="0.6" />
<circle cx="393.00" cy="573.11" r="1.5" fill="#1c5a96"/>
<line x1="393.00" y1="569.11" x2="393.00" y2="577.11" stroke="#1c5a96" stroke-width="0.7" />
<line x1="391.90" y1="569.11" x2="394.10" y2="569.11" stroke="#1c5a96" stroke-width="0.6" />
<line x1="391.90" y1="577.11" x2="394.10" y2="577.11" stroke="#1c5a96" stroke-width="0.6" />
<circle cx="404.00" cy="567.45" r="1.5" fill="#1c5a96"/>
<line x1="404.00" y1="563.45" x2="404.00" y2="571.45" stroke="#1c5a96" stroke-width="0.7" />
<line x1="402.90" y1="563.45" x2="405.10" y2="563.45" stroke="#1c5a96" stroke-width="0.6" />
<line x1="402.90" y1="571.45" x2="405.10" y2="571.45" stroke="#1c5a96" stroke-width="0.6" />
<circle cx="415.00" cy="566.65" r="1.5" fill="#1c5a96"/>
<line x1="415.00" y1="562.65" x2="415.00" y2="570.65" stroke="#1c5a96" stroke-width="0.7" />
<line x1="413.90" y1="562.65" x2="416.10" y2="562.65" stroke="#1c5a96" stroke-width="0.6" />
<line x1="413.90" y1="570.65" x2="416.10" y2="570.65" stroke="#1c5a96" stroke-width="0.6" />
<circle cx="431.50" cy="565.84" r="1.5" fill="#1c5a96"/>
<line x1="431.50" y1="561.84" x2="431.50" y2="569.84" stroke="#1c5a96" stroke-width="0.7" />
<line x1="430.40" y1="561.84" x2="432.60" y2="561.84" stroke="#1c5a96" stroke-width="0.6" />
<line x1="430.40" y1="569.84" x2="432.60" y2="569.84" stroke="#1c5a96" stroke-width="0.6" />
<circle cx="453.50" cy="560.99" r="1.5" fill="#1c5a96"/>
<line x1="453.50" y1="556.99" x2="453.50" y2="564.99" stroke="#1c5a96" stroke-width="0.7" />
<line x1="452.40" y1="556.99" x2="454.60" y2="556.99" stroke="#1c5a96" stroke-width="0.6" />
<line x1="452.40" y1="564.99" x2="454.60" y2="564.99" stroke="#1c5a96" stroke-width="0.6" />
<circle cx="470.00" cy="558.56" r="1.5" fill="#1c5a96"/>
<line x1="470.00" y1="554.56" x2="470.00" y2="562.56" stroke="#1c5a96" stroke-width="0.7" />
<line x1="468.90" y1="554.56" x2="471.10" y2="554.56" stroke="#1c5a96" stroke-width="0.6" />
<line x1="468.90" y1="562.56" x2="471.10" y2="562.56" stroke="#1c5a96" stroke-width="0.6" />
<circle cx="481.00" cy="558.56" r="1.5" fill="#1c5a96"/>
<line x1="481.00" y1="554.56" x2="481.00" y2="562.56" stroke="#1c5a96" stroke-width="0.7" />
<line x1="479.90" y1="554.56" x2="482.10" y2="554.56" stroke="#1c5a96" stroke-width="0.6" />
<line x1="479.90" y1="562.56" x2="482.10" y2="562.56" stroke="#1c5a96" stroke-width="0.6" />
<circle cx="492.00" cy="558.56" r="1.5" fill="#1c5a96"/>
<line x1="492.00" y1="554.56" x2="492.00" y2="562.56" stroke="#1c5a96" stroke-width="0.7" />
<line x1="490.90" y1="554.56" x2="493.10" y2="554.56" stroke="#1c5a96" stroke-width="0.6" />
<line x1="490.90" y1="562.56" x2="493.10" y2="562.56" stroke="#1c5a96" stroke-width="0.6" />
<circle cx="508.50" cy="558.56" r="1.5" fill="#1c5a96"/>
<line x1="508.50" y1="554.56" x2="508.50" y2="562.56" stroke="#1c5a96" stroke-width="0.7" />
<line x1="507.40" y1="554.56" x2="509.60" y2="554.56" stroke="#1c5a96" stroke-width="0.6" />
<line x1="507.40" y1="562.56" x2="509.60" y2="562.56" stroke="#1c5a96" stroke-width="0.6" />
<polyline points="354.50,591.71 376.50,580.39 393.00,563.41 404.00,559.37 415.00,559.37 431.50,560.99 453.50,556.13 470.00,555.33 481.00,556.13 492.00,556.13 508.50,556.13" fill="none" stroke="#5cc45c" stroke-width="1.3"/>
<circle cx="354.50" cy="591.71" r="1.5" fill="#5cc45c"/>
<circle cx="376.50" cy="580.39" r="1.5" fill="#5cc45c"/>
<line x1="376.50" y1="577.39" x2="376.50" y2="583.39" stroke="#5cc45c" stroke-width="0.7" />
<line x1="375.40" y1="577.39" x2="377.60" y2="577.39" stroke="#5cc45c" stroke-width="0.6" />
<line x1="375.40" y1="583.39" x2="377.60" y2="583.39" stroke="#5cc45c" stroke-width="0.6" />
<circle cx="393.00" cy="563.41" r="1.5" fill="#5cc45c"/>
<line x1="393.00" y1="560.41" x2="393.00" y2="566.41" stroke="#5cc45c" stroke-width="0.7" />
<line x1="391.90" y1="560.41" x2="394.10" y2="560.41" stroke="#5cc45c" stroke-width="0.6" />
<line x1="391.90" y1="566.41" x2="394.10" y2="566.41" stroke="#5cc45c" stroke-width="0.6" />
<circle cx="404.00" cy="559.37" r="1.5" fill="#5cc45c"/>
<line x1="404.00" y1="556.37" x2="404.00" y2="562.37" stroke="#5cc45c" stroke-width="0.7" />
<line x1="402.90" y1="556.37" x2="405.10" y2="556.37" stroke="#5cc45c" stroke-width="0.6" />
<line x1="402.90" y1="562.37" x2="405.10" y2="562.37" stroke="#5cc45c" stroke-width="0.6" />
<circle cx="415.00" cy="559.37" r="1.5" fill="#5cc45c"/>
<line x1="415.00" y1="556.37" x2="415.00" y2="562.37" stroke="#5cc45c" stroke-width="0.7" />
<line x1="413.90" y1="556.37" x2="416.10" y2="556.37" stroke="#5cc45c" stroke-width="0.6" />
<line x1="413.90" y1="562.37" x2="416.10" y2="562.37" stroke="#5cc45c" stroke-width="0.6" />
<circle cx="431.50" cy="560.99" r="1.5" fill="#5cc45c"/>
<line x1="431.50" y1="557.99" x2="431.50" y2="563.99" stroke="#5cc45c" stroke-width="0.7" />
<line x1="430.40" y1="557.99" x2="432.60" y2="557.99" stroke="#5cc45c" stroke-width="0.6" />
<line x1="430.40" y1="563.99" x2="432.60" y2="563.99" stroke="#5cc45c" stroke-width="0.6" />
<circle cx="453.50" cy="556.13" r="1.5" fill="#5cc45c"/>
<line x1="453.50" y1="553.13" x2="453.50" y2="559.13" stroke="#5cc45c" stroke-width="0.7" />
<line x1="452.40" y1="553.13" x2="454.60" y2="553.13" stroke="#5cc45c" stroke-width="0.6" />
<line x1="452.40" y1="559.13" x2="454.60" y2="559.13" stroke="#5cc45c" stroke-width="0.6" />
<circle cx="470.00" cy="555.33" r="1.5" fill="#5cc45c"/>
<line x1="470.00" y1="552.33" x2="470.00" y2="558.33" stroke="#5cc45c" stroke-width="0.7" />
<line x1="468.90" y1="552.33" x2="471.10" y2="552.33" stroke="#5cc45c" stroke-width="0.6" />
<line x1="468.90" y1="558.33" x2="471.10" y2="558.33" stroke="#5cc45c" stroke-width="0.6" />
<circle cx="481.00" cy="556.13" r="1.5" fill="#5cc45c"/>
<line x1="481.00" y1="553.13" x2="481.00" y2="559.13" stroke="#5cc45c" stroke-width="0.7" />
<line x1="479.90" y1="553.13" x2="482.10" y2="553.13" stroke="#5cc45c" stroke-width="0.6" />
<line x1="479.90" y1="559.13" x2="482.10" y2="559.13" stroke="#5cc45c" stroke-width="0.6" />
<circle cx="492.00" cy="556.13" r="1.5" fill="#5cc45c"/>
<line x1="492.00" y1="553.13" x2="492.00" y2="559.13" stroke="#5cc45c" stroke-width="0.7" />
<line x1="490.90" y1="553.13" x2="493.10" y2="553.13" stroke="#5cc45c" stroke-width="0.6" />
<line x1="490.90" y1="559.13" x2="493.10" y2="559.13" stroke="#5cc45c" stroke-width="0.6" />
<circle cx="508.50" cy="556.13" r="1.5" fill="#5cc45c"/>
<line x1="508.50" y1="553.13" x2="508.50" y2="559.13" stroke="#5cc45c" stroke-width="0.7" />
<line x1="507.40" y1="553.13" x2="509.60" y2="553.13" stroke="#5cc45c" stroke-width="0.6" />
<line x1="507.40" y1="559.13" x2="509.60" y2="559.13" stroke="#5cc45c" stroke-width="0.6" />
<polyline points="354.50,591.71 376.50,582.01 393.00,565.84 404.00,561.79 415.00,560.99 431.50,562.60 453.50,556.94 470.00,556.13 481.00,556.13 492.00,556.94 508.50,556.94" fill="none" stroke="#3cb54a" stroke-width="1.3"/>
<circle cx="354.50" cy="591.71" r="1.5" fill="#3cb54a"/>
<circle cx="376.50" cy="582.01" r="1.5" fill="#3cb54a"/>
<line x1="376.50" y1="579.01" x2="376.50" y2="585.01" stroke="#3cb54a" stroke-width="0.7" />
<line x1="375.40" y1="579.01" x2="377.60" y2="579.01" stroke="#3cb54a" stroke-width="0.6" />
<line x1="375.40" y1="585.01" x2="377.60" y2="585.01" stroke="#3cb54a" stroke-width="0.6" />
<circle cx="393.00" cy="565.84" r="1.5" fill="#3cb54a"/>
<line x1="393.00" y1="562.84" x2="393.00" y2="568.84" stroke="#3cb54a" stroke-width="0.7" />
<line x1="391.90" y1="562.84" x2="394.10" y2="562.84" stroke="#3cb54a" stroke-width="0.6" />
<line x1="391.90" y1="568.84" x2="394.10" y2="568.84" stroke="#3cb54a" stroke-width="0.6" />
<circle cx="404.00" cy="561.79" r="1.5" fill="#3cb54a"/>
<line x1="404.00" y1="558.79" x2="404.00" y2="564.79" stroke="#3cb54a" stroke-width="0.7" />
<line x1="402.90" y1="558.79" x2="405.10" y2="558.79" stroke="#3cb54a" stroke-width="0.6" />
<line x1="402.90" y1="564.79" x2="405.10" y2="564.79" stroke="#3cb54a" stroke-width="0.6" />
<circle cx="415.00" cy="560.99" r="1.5" fill="#3cb54a"/>
<line x1="415.00" y1="557.99" x2="415.00" y2="563.99" stroke="#3cb54a" stroke-width="0.7" />
<line x1="413.90" y1="557.99" x2="416.10" y2="557.99" stroke="#3cb54a" stroke-width="0.6" />
<line x1="413.90" y1="563.99" x2="416.10" y2="563.99" stroke="#3cb54a" stroke-width="0.6" />
<circle cx="431.50" cy="562.60" r="1.5" fill="#3cb54a"/>
<line x1="431.50" y1="559.60" x2="431.50" y2="565.60" stroke="#3cb54a" stroke-width="0.7" />
<line x1="430.40" y1="559.60" x2="432.60" y2="559.60" stroke="#3cb54a" stroke-width="0.6" />
<line x1="430.40" y1="565.60" x2="432.60" y2="565.60" stroke="#3cb54a" stroke-width="0.6" />
<circle cx="453.50" cy="556.94" r="1.5" fill="#3cb54a"/>
<line x1="453.50" y1="553.94" x2="453.50" y2="559.94" stroke="#3cb54a" stroke-width="0.7" />
<line x1="452.40" y1="553.94" x2="454.60" y2="553.94" stroke="#3cb54a" stroke-width="0.6" />
<line x1="452.40" y1="559.94" x2="454.60" y2="559.94" stroke="#3cb54a" stroke-width="0.6" />
<circle cx="470.00" cy="556.13" r="1.5" fill="#3cb54a"/>
<line x1="470.00" y1="553.13" x2="470.00" y2="559.13" stroke="#3cb54a" stroke-width="0.7" />
<line x1="468.90" y1="553.13" x2="471.10" y2="553.13" stroke="#3cb54a" stroke-width="0.6" />
<line x1="468.90" y1="559.13" x2="471.10" y2="559.13" stroke="#3cb54a" stroke-width="0.6" />
<circle cx="481.00" cy="556.13" r="1.5" fill="#3cb54a"/>
<line x1="481.00" y1="553.13" x2="481.00" y2="559.13" stroke="#3cb54a" stroke-width="0.7" />
<line x1="479.90" y1="553.13" x2="482.10" y2="553.13" stroke="#3cb54a" stroke-width="0.6" />
<line x1="479.90" y1="559.13" x2="482.10" y2="559.13" stroke="#3cb54a" stroke-width="0.6" />
<circle cx="492.00" cy="556.94" r="1.5" fill="#3cb54a"/>
<line x1="492.00" y1="553.94" x2="492.00" y2="559.94" stroke="#3cb54a" stroke-width="0.7" />
<line x1="490.90" y1="553.94" x2="493.10" y2="553.94" stroke="#3cb54a" stroke-width="0.6" />
<line x1="490.90" y1="559.94" x2="493.10" y2="559.94" stroke="#3cb54a" stroke-width="0.6" />
<circle cx="508.50" cy="556.94" r="1.5" fill="#3cb54a"/>
<line x1="508.50" y1="553.94" x2="508.50" y2="559.94" stroke="#3cb54a" stroke-width="0.7" />
<line x1="507.40" y1="553.94" x2="509.60" y2="553.94" stroke="#3cb54a" stroke-width="0.6" />
<line x1="507.40" y1="559.94" x2="509.60" y2="559.94" stroke="#3cb54a" stroke-width="0.6" />
<line x1="354.50" y1="549.90" x2="354.50" y2="610.00" stroke="#000" stroke-width="1.0" />
<line x1="354.50" y1="609.50" x2="510.70" y2="609.50" stroke="#000" stroke-width="1.1" />
<line x1="351.00" y1="609.50" x2="354.50" y2="609.50" stroke="#000" stroke-width="0.7" />
<text x="349.90" y="612.30" font-size="7.9" text-anchor="end" fill="#000" stroke="#000" stroke-width="0.1" textLength="8.80" lengthAdjust="spacingAndGlyphs" >30</text>
<line x1="351.00" y1="601.41" x2="354.50" y2="601.41" stroke="#000" stroke-width="0.7" />
<text x="349.90" y="604.21" font-size="7.9" text-anchor="end" fill="#000" stroke="#000" stroke-width="0.1" textLength="8.80" lengthAdjust="spacingAndGlyphs" >40</text>
<line x1="351.00" y1="593.33" x2="354.50" y2="593.33" stroke="#000" stroke-width="0.7" />
<text x="349.90" y="596.13" font-size="7.9" text-anchor="end" fill="#000" stroke="#000" stroke-width="0.1" textLength="8.80" lengthAdjust="spacingAndGlyphs" >50</text>
<line x1="351.00" y1="585.24" x2="354.50" y2="585.24" stroke="#000" stroke-width="0.7" />
<text x="349.90" y="588.04" font-size="7.9" text-anchor="end" fill="#000" stroke="#000" stroke-width="0.1" textLength="8.80" lengthAdjust="spacingAndGlyphs" >60</text>
<line x1="351.00" y1="577.16" x2="354.50" y2="577.16" stroke="#000" stroke-width="0.7" />
<text x="349.90" y="579.96" font-size="7.9" text-anchor="end" fill="#000" stroke="#000" stroke-width="0.1" textLength="8.80" lengthAdjust="spacingAndGlyphs" >70</text>
<line x1="351.00" y1="569.07" x2="354.50" y2="569.07" stroke="#000" stroke-width="0.7" />
<text x="349.90" y="571.87" font-size="7.9" text-anchor="end" fill="#000" stroke="#000" stroke-width="0.1" textLength="8.80" lengthAdjust="spacingAndGlyphs" >80</text>
<line x1="351.00" y1="560.99" x2="354.50" y2="560.99" stroke="#000" stroke-width="0.7" />
<text x="349.90" y="563.79" font-size="7.9" text-anchor="end" fill="#000" stroke="#000" stroke-width="0.1" textLength="8.80" lengthAdjust="spacingAndGlyphs" >90</text>
<line x1="351.00" y1="552.90" x2="354.50" y2="552.90" stroke="#000" stroke-width="0.7" />
<text x="349.90" y="555.70" font-size="7.9" text-anchor="end" fill="#000" stroke="#000" stroke-width="0.1" textLength="13.20" lengthAdjust="spacingAndGlyphs" >100</text>
<text x="380.00" y="549.10" font-size="6.6" text-anchor="start" fill="#000" stroke="#000" stroke-width="0.1" ><tspan font-weight="bold">R248Q/−</tspan><tspan font-size="4.6" fill="#333"> vs. </tspan><tspan font-weight="bold">WT</tspan></text>
<text x="329.60" y="581.20" font-size="7.6" text-anchor="middle" fill="#222" stroke="#222" stroke-width="0.1" textLength="58.00" lengthAdjust="spacingAndGlyphs" transform="rotate(-90 329.60 581.20)" >R248Q/− <tspan font-size="5.5">vs.</tspan> WT [%]</text>
<line x1="354.50" y1="609.50" x2="354.50" y2="611.50" stroke="#000" stroke-width="0.7" />
<text x="354.50" y="620.30" font-size="7.9" text-anchor="middle" fill="#000" stroke="#000" stroke-width="0.1" textLength="4.60" lengthAdjust="spacingAndGlyphs" >0</text>
<line x1="365.50" y1="609.50" x2="365.50" y2="611.50" stroke="#000" stroke-width="0.7" />
<text x="365.50" y="620.30" font-size="7.9" text-anchor="middle" fill="#000" stroke="#000" stroke-width="0.1" textLength="4.60" lengthAdjust="spacingAndGlyphs" >2</text>
<line x1="376.50" y1="609.50" x2="376.50" y2="611.50" stroke="#000" stroke-width="0.7" />
<text x="376.50" y="620.30" font-size="7.9" text-anchor="middle" fill="#000" stroke="#000" stroke-width="0.1" textLength="4.60" lengthAdjust="spacingAndGlyphs" >4</text>
<line x1="387.50" y1="609.50" x2="387.50" y2="611.50" stroke="#000" stroke-width="0.7" />
<text x="387.50" y="620.30" font-size="7.9" text-anchor="middle" fill="#000" stroke="#000" stroke-width="0.1" textLength="4.60" lengthAdjust="spacingAndGlyphs" >6</text>
<line x1="398.50" y1="609.50" x2="398.50" y2="611.50" stroke="#000" stroke-width="0.7" />
<text x="398.50" y="620.30" font-size="7.9" text-anchor="middle" fill="#000" stroke="#000" stroke-width="0.1" textLength="4.60" lengthAdjust="spacingAndGlyphs" >8</text>
<line x1="409.50" y1="609.50" x2="409.50" y2="611.50" stroke="#000" stroke-width="0.7" />
<text x="409.50" y="620.30" font-size="7.9" text-anchor="middle" fill="#000" stroke="#000" stroke-width="0.1" textLength="9.40" lengthAdjust="spacingAndGlyphs" >10</text>
<line x1="420.50" y1="609.50" x2="420.50" y2="611.50" stroke="#000" stroke-width="0.7" />
<text x="420.50" y="620.30" font-size="7.9" text-anchor="middle" fill="#000" stroke="#000" stroke-width="0.1" textLength="9.40" lengthAdjust="spacingAndGlyphs" >12</text>
<line x1="431.50" y1="609.50" x2="431.50" y2="611.50" stroke="#000" stroke-width="0.7" />
<text x="431.50" y="620.30" font-size="7.9" text-anchor="middle" fill="#000" stroke="#000" stroke-width="0.1" textLength="9.40" lengthAdjust="spacingAndGlyphs" >14</text>
<line x1="442.50" y1="609.50" x2="442.50" y2="611.50" stroke="#000" stroke-width="0.7" />
<text x="442.50" y="620.30" font-size="7.9" text-anchor="middle" fill="#000" stroke="#000" stroke-width="0.1" textLength="9.40" lengthAdjust="spacingAndGlyphs" >16</text>
<line x1="453.50" y1="609.50" x2="453.50" y2="611.50" stroke="#000" stroke-width="0.7" />
<text x="453.50" y="620.30" font-size="7.9" text-anchor="middle" fill="#000" stroke="#000" stroke-width="0.1" textLength="9.40" lengthAdjust="spacingAndGlyphs" >18</text>
<line x1="464.50" y1="609.50" x2="464.50" y2="611.50" stroke="#000" stroke-width="0.7" />
<text x="464.50" y="620.30" font-size="7.9" text-anchor="middle" fill="#000" stroke="#000" stroke-width="0.1" textLength="9.40" lengthAdjust="spacingAndGlyphs" >20</text>
<line x1="475.50" y1="609.50" x2="475.50" y2="611.50" stroke="#000" stroke-width="0.7" />
<text x="475.50" y="620.30" font-size="7.9" text-anchor="middle" fill="#000" stroke="#000" stroke-width="0.1" textLength="9.40" lengthAdjust="spacingAndGlyphs" >22</text>
<line x1="486.50" y1="609.50" x2="486.50" y2="611.50" stroke="#000" stroke-width="0.7" />
<text x="486.50" y="620.30" font-size="7.9" text-anchor="middle" fill="#000" stroke="#000" stroke-width="0.1" textLength="9.40" lengthAdjust="spacingAndGlyphs" >24</text>
<line x1="497.50" y1="609.50" x2="497.50" y2="611.50" stroke="#000" stroke-width="0.7" />
<text x="497.50" y="620.30" font-size="7.9" text-anchor="middle" fill="#000" stroke="#000" stroke-width="0.1" textLength="9.40" lengthAdjust="spacingAndGlyphs" >26</text>
<line x1="508.50" y1="609.50" x2="508.50" y2="611.50" stroke="#000" stroke-width="0.7" />
<text x="508.50" y="620.30" font-size="7.9" text-anchor="middle" fill="#000" stroke="#000" stroke-width="0.1" textLength="9.40" lengthAdjust="spacingAndGlyphs" >28</text>
<text x="431.20" y="632.80" font-size="8.2" text-anchor="middle" fill="#222" stroke="#222" stroke-width="0.1" textLength="14.50" lengthAdjust="spacingAndGlyphs" >Days</text>
<line x1="462.80" y1="412.00" x2="471.10" y2="412.00" stroke="#d2203f" stroke-width="1.3" />
<rect x="465.30" y="410.50" width="3.00" height="3.00" fill="#d2203f" />
<text x="474.30" y="414.70" font-size="7.6" text-anchor="start" fill="#222" stroke="#222" stroke-width="0.1" textLength="21.50" lengthAdjust="spacingAndGlyphs" >DMSO</text>
<line x1="462.80" y1="419.55" x2="471.10" y2="419.55" stroke="#1c5a96" stroke-width="1.3" />
<rect x="465.30" y="418.05" width="3.00" height="3.00" fill="#1c5a96" />
<text x="474.30" y="422.25" font-size="7.6" text-anchor="start" fill="#222" stroke="#222" stroke-width="0.1" textLength="34.00" lengthAdjust="spacingAndGlyphs" >Dec (IC25)</text>
<line x1="462.80" y1="427.10" x2="471.10" y2="427.10" stroke="#1a4f8a" stroke-width="1.3" />
<circle cx="467" cy="427.10" r="1.6" fill="#1a4f8a"/>
<text x="474.30" y="429.80" font-size="7.6" text-anchor="start" fill="#222" stroke="#222" stroke-width="0.1" textLength="34.00" lengthAdjust="spacingAndGlyphs" >Dec (IC50)</text>
<line x1="462.80" y1="434.65" x2="471.10" y2="434.65" stroke="#3cb54a" stroke-width="1.3" />
<rect x="465.30" y="433.15" width="3.00" height="3.00" fill="#3cb54a" />
<text x="474.30" y="437.35" font-size="7.6" text-anchor="start" fill="#222" stroke="#222" stroke-width="0.1" textLength="33.00" lengthAdjust="spacingAndGlyphs" >Aza (IC25)</text>
<line x1="462.80" y1="442.20" x2="471.10" y2="442.20" stroke="#5cc45c" stroke-width="1.3" />
<circle cx="467" cy="442.20" r="1.6" fill="#5cc45c"/>
<text x="474.30" y="444.90" font-size="7.6" text-anchor="start" fill="#222" stroke="#222" stroke-width="0.1" textLength="33.00" lengthAdjust="spacingAndGlyphs" >Aza (IC50)</text>
<defs><filter id="blur1" x="-20%" y="-50%" width="140%" height="200%"><feGaussianBlur stdDeviation="0.6"/></filter><filter id="blur2" x="-20%" y="-50%" width="140%" height="200%"><feGaussianBlur stdDeviation="0.35"/></filter></defs>
<line x1="340.00" y1="302.50" x2="393.80" y2="302.50" stroke="#333" stroke-width="0.9" />
<text x="366.90" y="299.60" font-size="7.8" text-anchor="middle" fill="#000" font-weight="bold" >WT</text>
<line x1="398.00" y1="302.50" x2="451.20" y2="302.50" stroke="#333" stroke-width="0.9" />
<text x="425.80" y="299.60" font-size="7.8" text-anchor="middle" fill="#000" font-weight="bold" >KO</text>
<line x1="455.50" y1="302.50" x2="510.00" y2="302.50" stroke="#333" stroke-width="0.9" />
<text x="486.25" y="299.60" font-size="7.8" text-anchor="middle" fill="#000" font-weight="bold" textLength="31.30" lengthAdjust="spacingAndGlyphs" >R248Q/−</text>
<text x="334.80" y="312.00" font-size="7.6" text-anchor="end" fill="#333" stroke="#333" stroke-width="0.1" textLength="22.00" lengthAdjust="spacingAndGlyphs" >DMSO</text>
<text x="334.80" y="322.00" font-size="7.6" text-anchor="end" fill="#333" stroke="#333" stroke-width="0.1" textLength="26.30" lengthAdjust="spacingAndGlyphs" >Dec [IC]</text>
<text x="334.80" y="332.50" font-size="7.6" text-anchor="end" fill="#333" stroke="#333" stroke-width="0.1" textLength="25.00" lengthAdjust="spacingAndGlyphs" >Aza [IC]</text>
<text x="346.00" y="312.00" font-size="7.4" text-anchor="middle" fill="#333" stroke="#333" stroke-width="0.1" >+</text>
<text x="357.40" y="312.00" font-size="7.4" text-anchor="middle" fill="#333" stroke="#333" stroke-width="0.1" >–</text>
<text x="368.80" y="312.00" font-size="7.4" text-anchor="middle" fill="#333" stroke="#333" stroke-width="0.1" >–</text>
<text x="380.20" y="312.00" font-size="7.4" text-anchor="middle" fill="#333" stroke="#333" stroke-width="0.1" >–</text>
<text x="391.60" y="312.00" font-size="7.4" text-anchor="middle" fill="#333" stroke="#333" stroke-width="0.1" >–</text>
<text x="403.00" y="312.00" font-size="7.4" text-anchor="middle" fill="#333" stroke="#333" stroke-width="0.1" >+</text>
<text x="414.40" y="312.00" font-size="7.4" text-anchor="middle" fill="#333" stroke="#333" stroke-width="0.1" >–</text>
<text x="425.80" y="312.00" font-size="7.4" text-anchor="middle" fill="#333" stroke="#333" stroke-width="0.1" >–</text>
<text x="437.20" y="312.00" font-size="7.4" text-anchor="middle" fill="#333" stroke="#333" stroke-width="0.1" >–</text>
<text x="448.60" y="312.00" font-size="7.4" text-anchor="middle" fill="#333" stroke="#333" stroke-width="0.1" >–</text>
<text x="460.00" y="312.00" font-size="7.4" text-anchor="middle" fill="#333" stroke="#333" stroke-width="0.1" >+</text>
<text x="471.40" y="312.00" font-size="7.4" text-anchor="middle" fill="#333" stroke="#333" stroke-width="0.1" >–</text>
<text x="482.80" y="312.00" font-size="7.4" text-anchor="middle" fill="#333" stroke="#333" stroke-width="0.1" >–</text>
<text x="494.20" y="312.00" font-size="7.4" text-anchor="middle" fill="#333" stroke="#333" stroke-width="0.1" >–</text>
<text x="505.60" y="312.00" font-size="7.4" text-anchor="middle" fill="#333" stroke="#333" stroke-width="0.1" >–</text>
<text x="346.00" y="322.00" font-size="7.4" text-anchor="middle" fill="#333" stroke="#333" stroke-width="0.1" >–</text>
<text x="357.40" y="322.00" font-size="7.4" text-anchor="middle" fill="#333" stroke="#333" stroke-width="0.1" >25</text>
<text x="368.80" y="322.00" font-size="7.4" text-anchor="middle" fill="#333" stroke="#333" stroke-width="0.1" >–</text>
<text x="380.20" y="322.00" font-size="7.4" text-anchor="middle" fill="#333" stroke="#333" stroke-width="0.1" >50</text>
<text x="391.60" y="322.00" font-size="7.4" text-anchor="middle" fill="#333" stroke="#333" stroke-width="0.1" >–</text>
<text x="403.00" y="322.00" font-size="7.4" text-anchor="middle" fill="#333" stroke="#333" stroke-width="0.1" >–</text>
<text x="414.40" y="322.00" font-size="7.4" text-anchor="middle" fill="#333" stroke="#333" stroke-width="0.1" >25</text>
<text x="425.80" y="322.00" font-size="7.4" text-anchor="middle" fill="#333" stroke="#333" stroke-width="0.1" >–</text>
<text x="437.20" y="322.00" font-size="7.4" text-anchor="middle" fill="#333" stroke="#333" stroke-width="0.1" >50</text>
<text x="448.60" y="322.00" font-size="7.4" text-anchor="middle" fill="#333" stroke="#333" stroke-width="0.1" >–</text>
<text x="460.00" y="322.00" font-size="7.4" text-anchor="middle" fill="#333" stroke="#333" stroke-width="0.1" >–</text>
<text x="471.40" y="322.00" font-size="7.4" text-anchor="middle" fill="#333" stroke="#333" stroke-width="0.1" >25</text>
<text x="482.80" y="322.00" font-size="7.4" text-anchor="middle" fill="#333" stroke="#333" stroke-width="0.1" >–</text>
<text x="494.20" y="322.00" font-size="7.4" text-anchor="middle" fill="#333" stroke="#333" stroke-width="0.1" >50</text>
<text x="505.60" y="322.00" font-size="7.4" text-anchor="middle" fill="#333" stroke="#333" stroke-width="0.1" >–</text>
<text x="346.00" y="332.50" font-size="7.4" text-anchor="middle" fill="#333" stroke="#333" stroke-width="0.1" >–</text>
<text x="357.40" y="332.50" font-size="7.4" text-anchor="middle" fill="#333" stroke="#333" stroke-width="0.1" >–</text>
<text x="368.80" y="332.50" font-size="7.4" text-anchor="middle" fill="#333" stroke="#333" stroke-width="0.1" >25</text>
<text x="380.20" y="332.50" font-size="7.4" text-anchor="middle" fill="#333" stroke="#333" stroke-width="0.1" >–</text>
<text x="391.60" y="332.50" font-size="7.4" text-anchor="middle" fill="#333" stroke="#333" stroke-width="0.1" >50</text>
<text x="403.00" y="332.50" font-size="7.4" text-anchor="middle" fill="#333" stroke="#333" stroke-width="0.1" >–</text>
<text x="414.40" y="332.50" font-size="7.4" text-anchor="middle" fill="#333" stroke="#333" stroke-width="0.1" >–</text>
<text x="425.80" y="332.50" font-size="7.4" text-anchor="middle" fill="#333" stroke="#333" stroke-width="0.1" >25</text>
<text x="437.20" y="332.50" font-size="7.4" text-anchor="middle" fill="#333" stroke="#333" stroke-width="0.1" >–</text>
<text x="448.60" y="332.50" font-size="7.4" text-anchor="middle" fill="#333" stroke="#333" stroke-width="0.1" >50</text>
<text x="460.00" y="332.50" font-size="7.4" text-anchor="middle" fill="#333" stroke="#333" stroke-width="0.1" >–</text>
<text x="471.40" y="332.50" font-size="7.4" text-anchor="middle" fill="#333" stroke="#333" stroke-width="0.1" >–</text>
<text x="482.80" y="332.50" font-size="7.4" text-anchor="middle" fill="#333" stroke="#333" stroke-width="0.1" >25</text>
<text x="494.20" y="332.50" font-size="7.4" text-anchor="middle" fill="#333" stroke="#333" stroke-width="0.1" >–</text>
<text x="505.60" y="332.50" font-size="7.4" text-anchor="middle" fill="#333" stroke="#333" stroke-width="0.1" >50</text>
<text x="334.00" y="345.30" font-size="8.0" text-anchor="end" fill="#000" font-weight="bold" >p53</text>
<text x="334.00" y="361.50" font-size="8.0" text-anchor="end" fill="#000" font-weight="bold" >DNMT1</text>
<text x="334.00" y="377.20" font-size="8.0" text-anchor="end" fill="#000" font-weight="bold" >Vinculin</text>
<rect x="337.50" y="335.60" width="176.30" height="12.10" fill="#fff" stroke="#222" stroke-width="1.0" />
<rect x="337.50" y="352.90" width="176.30" height="11.80" fill="#fff" stroke="#222" stroke-width="1.0" />
<rect x="337.50" y="369.30" width="176.30" height="12.10" fill="#fff" stroke="#222" stroke-width="1.0" />
<rect x="341.70" y="339.6" width="8.6" height="2.6" fill="#b0b0b0" filter="url(#blur1)"/>
<rect x="342.20" y="343.8" width="7.6" height="1.0" fill="#d8d8d8" filter="url(#blur1)"/>
<rect x="353.10" y="339.6" width="8.6" height="2.6" fill="#a8a8a8" filter="url(#blur1)"/>
<rect x="353.60" y="343.8" width="7.6" height="1.0" fill="#d8d8d8" filter="url(#blur1)"/>
<rect x="364.50" y="339.6" width="8.6" height="2.6" fill="#9a9a9a" filter="url(#blur1)"/>
<rect x="365.00" y="343.8" width="7.6" height="1.0" fill="#d8d8d8" filter="url(#blur1)"/>
<rect x="375.90" y="339.6" width="8.6" height="2.6" fill="#a4a4a4" filter="url(#blur1)"/>
<rect x="376.40" y="343.8" width="7.6" height="1.0" fill="#d8d8d8" filter="url(#blur1)"/>
<rect x="387.30" y="339.6" width="8.6" height="2.6" fill="#bcbcbc" filter="url(#blur1)"/>
<rect x="387.80" y="343.8" width="7.6" height="1.0" fill="#d8d8d8" filter="url(#blur1)"/>
<rect x="451.5" y="337.6" width="61.0" height="8.6" rx="2.5" fill="#050505" filter="url(#blur2)"/>
<ellipse cx="460.00" cy="341.9" rx="5.8" ry="4.6" fill="#000" filter="url(#blur2)"/>
<ellipse cx="471.40" cy="341.9" rx="5.8" ry="4.6" fill="#000" filter="url(#blur2)"/>
<ellipse cx="482.80" cy="341.9" rx="5.8" ry="4.6" fill="#000" filter="url(#blur2)"/>
<ellipse cx="494.20" cy="341.9" rx="5.8" ry="4.6" fill="#000" filter="url(#blur2)"/>
<ellipse cx="505.60" cy="341.9" rx="5.8" ry="4.6" fill="#000" filter="url(#blur2)"/>
<rect x="342.00" y="357.30" width="8.0" height="1.6" fill="#8a8a8a" filter="url(#blur2)"/>
<rect x="399.00" y="356.20" width="8.0" height="3.0" fill="#050505" filter="url(#blur2)"/>
<rect x="410.40" y="357.00" width="8.0" height="1.4" fill="#e8e8e8" filter="url(#blur2)"/>
<rect x="456.00" y="356.80" width="8.0" height="2.6" fill="#151515" filter="url(#blur2)"/>
<rect x="467.40" y="357.60" width="8.0" height="1.4" fill="#d8d8d8" filter="url(#blur2)"/>
<rect x="342.20" y="360.20" width="7.6" height="1.2" fill="#c8c8c8" filter="url(#blur2)"/>
<rect x="399.20" y="360.40" width="7.6" height="1.2" fill="#888" filter="url(#blur2)"/>
<rect x="456.20" y="360.20" width="7.6" height="1.2" fill="#777" filter="url(#blur2)"/>
<rect x="341.90" y="374.0" width="8.20" height="1.9" fill="#111" filter="url(#blur2)"/>
<rect x="342.40" y="375.9" width="7.20" height="0.8" fill="#999" filter="url(#blur2)"/>
<rect x="353.90" y="374.0" width="7.00" height="1.9" fill="#2a2a2a" filter="url(#blur2)"/>
<rect x="354.40" y="375.9" width="6.00" height="0.8" fill="#999" filter="url(#blur2)"/>
<rect x="364.60" y="374.0" width="8.40" height="1.9" fill="#111" filter="url(#blur2)"/>
<rect x="365.10" y="375.9" width="7.40" height="0.8" fill="#999" filter="url(#blur2)"/>
<rect x="376.50" y="374.0" width="7.40" height="1.9" fill="#2a2a2a" filter="url(#blur2)"/>
<rect x="377.00" y="375.9" width="6.40" height="0.8" fill="#999" filter="url(#blur2)"/>
<rect x="388.00" y="374.0" width="7.20" height="1.9" fill="#2a2a2a" filter="url(#blur2)"/>
<rect x="388.50" y="375.9" width="6.20" height="0.8" fill="#999" filter="url(#blur2)"/>
<rect x="399.00" y="374.0" width="8.00" height="1.9" fill="#111" filter="url(#blur2)"/>
<rect x="399.50" y="375.9" width="7.00" height="0.8" fill="#999" filter="url(#blur2)"/>
<rect x="410.60" y="374.0" width="7.60" height="1.9" fill="#2a2a2a" filter="url(#blur2)"/>
<rect x="411.10" y="375.9" width="6.60" height="0.8" fill="#999" filter="url(#blur2)"/>
<rect x="421.80" y="374.0" width="8.00" height="1.9" fill="#2a2a2a" filter="url(#blur2)"/>
<rect x="422.30" y="375.9" width="7.00" height="0.8" fill="#999" filter="url(#blur2)"/>
<rect x="433.60" y="374.0" width="7.20" height="1.9" fill="#2a2a2a" filter="url(#blur2)"/>
<rect x="434.10" y="375.9" width="6.20" height="0.8" fill="#999" filter="url(#blur2)"/>
<rect x="444.90" y="374.0" width="7.40" height="1.9" fill="#2a2a2a" filter="url(#blur2)"/>
<rect x="445.40" y="375.9" width="6.40" height="0.8" fill="#999" filter="url(#blur2)"/>
<rect x="455.80" y="374.0" width="8.40" height="1.9" fill="#111" filter="url(#blur2)"/>
<rect x="456.30" y="375.9" width="7.40" height="0.8" fill="#999" filter="url(#blur2)"/>
<rect x="467.90" y="374.0" width="7.00" height="1.9" fill="#2a2a2a" filter="url(#blur2)"/>
<rect x="468.40" y="375.9" width="6.00" height="0.8" fill="#999" filter="url(#blur2)"/>
<rect x="479.40" y="374.0" width="6.80" height="1.9" fill="#2a2a2a" filter="url(#blur2)"/>
<rect x="479.90" y="375.9" width="5.80" height="0.8" fill="#999" filter="url(#blur2)"/>
<rect x="490.80" y="374.0" width="6.80" height="1.9" fill="#2a2a2a" filter="url(#blur2)"/>
<rect x="491.30" y="375.9" width="5.80" height="0.8" fill="#999" filter="url(#blur2)"/>
<rect x="502.50" y="374.0" width="6.20" height="1.9" fill="#2a2a2a" filter="url(#blur2)"/>
<rect x="503.00" y="375.9" width="5.20" height="0.8" fill="#999" filter="url(#blur2)"/>
<text x="31.50" y="25.40" font-size="6.8" text-anchor="middle" fill="#000" font-weight="bold" textLength="48.00" lengthAdjust="spacingAndGlyphs" ><tspan font-style="italic">TP53</tspan><tspan baseline-shift="super" font-size="4.6">WT</tspan> parental</text>
<text x="31.50" y="32.90" font-size="6.7" text-anchor="middle" fill="#000" font-weight="bold" textLength="40.50" lengthAdjust="spacingAndGlyphs" >AML cell lines</text>
<text x="128.00" y="24.90" font-size="6.7" text-anchor="middle" fill="#000" font-weight="bold" textLength="67.50" lengthAdjust="spacingAndGlyphs" >Isogenic AML cell lines</text>
<text x="128.00" y="32.40" font-size="6.7" text-anchor="middle" fill="#000" font-weight="bold" >with</text>
<text x="128.20" y="39.90" font-size="6.7" text-anchor="middle" fill="#000" font-weight="bold" textLength="52.50" lengthAdjust="spacingAndGlyphs" ><tspan font-style="italic">TP53</tspan> allelic series</text>
<text x="170.00" y="24.90" font-size="6.7" text-anchor="start" fill="#000" font-weight="bold" textLength="30.00" lengthAdjust="spacingAndGlyphs" >Treatment</text>
<text x="211.20" y="25.40" font-size="6.7" text-anchor="start" fill="#000" font-weight="bold" textLength="30.00" lengthAdjust="spacingAndGlyphs" >Read-outs</text>
<text x="170.00" y="38.20" font-size="6.6" text-anchor="start" fill="#333" stroke="#333" stroke-width="0.1" textLength="18.75" lengthAdjust="spacingAndGlyphs" >DMSO</text>
<text x="170.00" y="45.70" font-size="6.6" text-anchor="start" fill="#333" stroke="#333" stroke-width="0.1" textLength="28.25" lengthAdjust="spacingAndGlyphs" >Decitabine</text>
<text x="170.00" y="53.20" font-size="6.6" text-anchor="start" fill="#333" stroke="#333" stroke-width="0.1" textLength="28.75" lengthAdjust="spacingAndGlyphs" >Azacitidine</text>
<text x="170.00" y="60.70" font-size="6.6" text-anchor="start" fill="#333" stroke="#333" stroke-width="0.1" textLength="28.00" lengthAdjust="spacingAndGlyphs" >Venetoclax</text>
<text x="170.00" y="68.20" font-size="6.6" text-anchor="start" fill="#333" stroke="#333" stroke-width="0.1" textLength="31.25" lengthAdjust="spacingAndGlyphs" >HMAs+Ven</text>
<line x1="170.00" y1="71.80" x2="203.50" y2="71.80" stroke="#555" stroke-width="1.0" />
<polygon points="202.5,69.0 207.0,71.8 202.5,74.6" fill="#000"/>
<text x="210.90" y="54.00" font-size="6.3" text-anchor="start" fill="#333" stroke="#333" stroke-width="0.1" textLength="41.90" lengthAdjust="spacingAndGlyphs" >Drug responses</text>
<text x="210.90" y="63.50" font-size="6.3" text-anchor="start" fill="#333" stroke="#333" stroke-width="0.1" textLength="46.20" lengthAdjust="spacingAndGlyphs" >DNMT1 inhibition</text>
<text x="210.90" y="73.00" font-size="6.3" text-anchor="start" fill="#333" stroke="#333" stroke-width="0.1" textLength="27.00" lengthAdjust="spacingAndGlyphs" >Apoptosis</text>
<text x="210.90" y="82.50" font-size="6.3" text-anchor="start" fill="#333" stroke="#333" stroke-width="0.1" textLength="52.00" lengthAdjust="spacingAndGlyphs" >Competition assays</text>
<text x="210.90" y="92.00" font-size="6.3" text-anchor="start" fill="#333" stroke="#333" stroke-width="0.1" textLength="45.20" lengthAdjust="spacingAndGlyphs" >Xenograft assays</text>
<defs><radialGradient id="nuc" cx="0.5" cy="0.45" r="0.55"><stop offset="0" stop-color="#e06a8a"/><stop offset="0.7" stop-color="#c03a72"/><stop offset="1" stop-color="#7a1a5a"/></radialGradient></defs>
<ellipse cx="23.35" cy="61.4" rx="4.3" ry="3.7" fill="#4a3080" stroke="#8d86cc" stroke-width="0.9"/>
<ellipse cx="23.35" cy="61.4" rx="3.0" ry="2.6" fill="url(#nuc)"/>
<ellipse cx="32.7" cy="58.3" rx="4.3" ry="3.7" fill="#4a3080" stroke="#8d86cc" stroke-width="0.9"/>
<ellipse cx="32.7" cy="58.3" rx="3.0" ry="2.6" fill="url(#nuc)"/>
<ellipse cx="39.3" cy="62.8" rx="4.3" ry="3.7" fill="#4a3080" stroke="#8d86cc" stroke-width="0.9"/>
<ellipse cx="39.3" cy="62.8" rx="3.0" ry="2.6" fill="url(#nuc)"/>
<ellipse cx="24.4" cy="68.4" rx="4.3" ry="3.7" fill="#4a3080" stroke="#8d86cc" stroke-width="0.9"/>
<ellipse cx="24.4" cy="68.4" rx="3.0" ry="2.6" fill="url(#nuc)"/>
<ellipse cx="34.4" cy="70.4" rx="4.3" ry="3.7" fill="#4a3080" stroke="#8d86cc" stroke-width="0.9"/>
<ellipse cx="34.4" cy="70.4" rx="3.0" ry="2.6" fill="url(#nuc)"/>
<ellipse cx="30.6" cy="65.9" rx="4.3" ry="3.7" fill="#4a3080" stroke="#8d86cc" stroke-width="0.9"/>
<ellipse cx="30.6" cy="65.9" rx="3.0" ry="2.6" fill="url(#nuc)"/>
<text x="19.10" y="84.80" font-size="6.6" text-anchor="start" fill="#000" font-weight="bold" textLength="26.00" lengthAdjust="spacingAndGlyphs" >MOLM13</text>
<text x="19.10" y="91.60" font-size="6.6" text-anchor="start" fill="#000" font-weight="bold" textLength="23.00" lengthAdjust="spacingAndGlyphs" >MV-4-11</text>
<text x="19.10" y="98.60" font-size="6.6" text-anchor="start" fill="#000" font-weight="bold" textLength="29.80" lengthAdjust="spacingAndGlyphs" >OCI-AML3</text>
<text x="50.00" y="60.60" font-size="6.4" text-anchor="start" fill="#444" stroke="#444" stroke-width="0.1" textLength="36.20" lengthAdjust="spacingAndGlyphs" >CRISPR-HDR</text>
<text x="50.00" y="68.10" font-size="6.4" text-anchor="start" fill="#444" stroke="#444" stroke-width="0.1" textLength="32.00" lengthAdjust="spacingAndGlyphs" >CRISPR-KO</text>
<line x1="50.00" y1="71.80" x2="84.50" y2="71.80" stroke="#555" stroke-width="1.0" />
<polygon points="83.5,69.0 88.0,71.8 83.5,74.6" fill="#000"/>
<rect x="93.40" y="53.40" width="30.30" height="6.80" fill="#d81e3c" stroke="#333" stroke-width="0.6" />
<line x1="90.40" y1="55.30" x2="93.40" y2="55.30" stroke="#333" stroke-width="0.75" />
<line x1="123.70" y1="55.30" x2="126.70" y2="55.30" stroke="#333" stroke-width="0.75" />
<line x1="90.40" y1="58.30" x2="93.40" y2="58.30" stroke="#333" stroke-width="0.75" />
<line x1="123.70" y1="58.30" x2="126.70" y2="58.30" stroke="#333" stroke-width="0.75" />
<text x="108.55" y="59.00" font-size="6.2" text-anchor="middle" fill="#fff" stroke="#fff" stroke-width="0.25" textLength="9.20" lengthAdjust="spacingAndGlyphs" >WT</text>
<rect x="93.40" y="63.00" width="30.30" height="6.80" fill="#1f5c99" stroke="#333" stroke-width="0.6" />
<line x1="90.40" y1="64.90" x2="93.40" y2="64.90" stroke="#333" stroke-width="0.75" />
<line x1="123.70" y1="64.90" x2="126.70" y2="64.90" stroke="#333" stroke-width="0.75" />
<line x1="90.40" y1="67.90" x2="93.40" y2="67.90" stroke="#333" stroke-width="0.75" />
<line x1="123.70" y1="67.90" x2="126.70" y2="67.90" stroke="#333" stroke-width="0.75" />
<text x="108.55" y="68.60" font-size="6.2" text-anchor="middle" fill="#fff" stroke="#fff" stroke-width="0.25" textLength="9.00" lengthAdjust="spacingAndGlyphs" >KO</text>
<rect x="93.40" y="72.30" width="30.30" height="6.80" fill="#3cb54a" stroke="#333" stroke-width="0.6" />
<line x1="90.40" y1="74.20" x2="93.40" y2="74.20" stroke="#333" stroke-width="0.75" />
<line x1="123.70" y1="74.20" x2="126.70" y2="74.20" stroke="#333" stroke-width="0.75" />
<line x1="90.40" y1="77.20" x2="93.40" y2="77.20" stroke="#333" stroke-width="0.75" />
<line x1="123.70" y1="77.20" x2="126.70" y2="77.20" stroke="#333" stroke-width="0.75" />
<text x="108.55" y="77.90" font-size="6.2" text-anchor="middle" fill="#fff" stroke="#fff" stroke-width="0.25" textLength="19.50" lengthAdjust="spacingAndGlyphs" >R175H</text>
<rect x="93.40" y="81.50" width="30.30" height="6.80" fill="#3cb54a" stroke="#333" stroke-width="0.6" />
<line x1="90.40" y1="83.40" x2="93.40" y2="83.40" stroke="#333" stroke-width="0.75" />
<line x1="123.70" y1="83.40" x2="126.70" y2="83.40" stroke="#333" stroke-width="0.75" />
<line x1="90.40" y1="86.40" x2="93.40" y2="86.40" stroke="#333" stroke-width="0.75" />
<line x1="123.70" y1="86.40" x2="126.70" y2="86.40" stroke="#333" stroke-width="0.75" />
<text x="108.55" y="87.10" font-size="6.2" text-anchor="middle" fill="#fff" stroke="#fff" stroke-width="0.25" textLength="19.50" lengthAdjust="spacingAndGlyphs" >Y220C</text>
<rect x="132.60" y="53.40" width="30.40" height="6.80" fill="#3cb54a" stroke="#333" stroke-width="0.6" />
<line x1="129.60" y1="55.30" x2="132.60" y2="55.30" stroke="#333" stroke-width="0.75" />
<line x1="163.00" y1="55.30" x2="166.00" y2="55.30" stroke="#333" stroke-width="0.75" />
<line x1="129.60" y1="58.30" x2="132.60" y2="58.30" stroke="#333" stroke-width="0.75" />
<line x1="163.00" y1="58.30" x2="166.00" y2="58.30" stroke="#333" stroke-width="0.75" />
<text x="147.80" y="59.00" font-size="6.2" text-anchor="middle" fill="#fff" stroke="#fff" stroke-width="0.25" textLength="15.90" lengthAdjust="spacingAndGlyphs" >M237I</text>
<rect x="132.60" y="63.00" width="30.40" height="6.80" fill="#3cb54a" stroke="#333" stroke-width="0.6" />
<line x1="129.60" y1="64.90" x2="132.60" y2="64.90" stroke="#333" stroke-width="0.75" />
<line x1="163.00" y1="64.90" x2="166.00" y2="64.90" stroke="#333" stroke-width="0.75" />
<line x1="129.60" y1="67.90" x2="132.60" y2="67.90" stroke="#333" stroke-width="0.75" />
<line x1="163.00" y1="67.90" x2="166.00" y2="67.90" stroke="#333" stroke-width="0.75" />
<text x="147.80" y="68.60" font-size="6.2" text-anchor="middle" fill="#fff" stroke="#fff" stroke-width="0.25" textLength="18.90" lengthAdjust="spacingAndGlyphs" >R248Q</text>
<rect x="132.60" y="72.30" width="30.40" height="6.80" fill="#3cb54a" stroke="#333" stroke-width="0.6" />
<line x1="129.60" y1="74.20" x2="132.60" y2="74.20" stroke="#333" stroke-width="0.75" />
<line x1="163.00" y1="74.20" x2="166.00" y2="74.20" stroke="#333" stroke-width="0.75" />
<line x1="129.60" y1="77.20" x2="132.60" y2="77.20" stroke="#333" stroke-width="0.75" />
<line x1="163.00" y1="77.20" x2="166.00" y2="77.20" stroke="#333" stroke-width="0.75" />
<text x="147.80" y="77.90" font-size="6.2" text-anchor="middle" fill="#fff" stroke="#fff" stroke-width="0.25" textLength="18.90" lengthAdjust="spacingAndGlyphs" >R273H</text>
<rect x="132.60" y="81.50" width="30.40" height="6.80" fill="#3cb54a" stroke="#333" stroke-width="0.6" />
<line x1="129.60" y1="83.40" x2="132.60" y2="83.40" stroke="#333" stroke-width="0.75" />
<line x1="163.00" y1="83.40" x2="166.00" y2="83.40" stroke="#333" stroke-width="0.75" />
<line x1="129.60" y1="86.40" x2="132.60" y2="86.40" stroke="#333" stroke-width="0.75" />
<line x1="163.00" y1="86.40" x2="166.00" y2="86.40" stroke="#333" stroke-width="0.75" />
<text x="147.80" y="87.10" font-size="6.2" text-anchor="middle" fill="#fff" stroke="#fff" stroke-width="0.25" textLength="20.30" lengthAdjust="spacingAndGlyphs" >R282W</text>
<text x="7.50" y="359.50" font-size="7.2" text-anchor="start" fill="#000" font-weight="bold" textLength="51.50" lengthAdjust="spacingAndGlyphs" >MOLM13-<tspan font-style="italic">TP53</tspan><tspan baseline-shift="super" font-size="5">WT</tspan></text>
<text x="62.50" y="359.50" font-size="7.2" text-anchor="start" fill="#000" font-weight="bold" textLength="61.50" lengthAdjust="spacingAndGlyphs" >MOLM13-<tspan font-style="italic">TP53</tspan><tspan baseline-shift="super" font-size="5">mutant</tspan></text>
<path d="M 30.4 362.3 C 45 362.3, 55.8 370, 55.8 405" fill="none" stroke="#333" stroke-width="0.8"/>
<path d="M 86.5 362.3 C 72 362.3, 61.9 370, 61.9 405" fill="none" stroke="#333" stroke-width="0.8"/>
<polygon points="54.0,404.3 57.6,404.3 55.8,408.2" fill="#000"/>
<polygon points="60.1,404.3 63.7,404.3 61.9,408.2" fill="#000"/>
<defs><radialGradient id="gg" cx="0.4" cy="0.4" r="0.6"><stop offset="0" stop-color="#e8ffe8"/><stop offset="0.5" stop-color="#6cd06a"/><stop offset="1" stop-color="#1f8a2a"/></radialGradient><radialGradient id="rg" cx="0.4" cy="0.4" r="0.6"><stop offset="0" stop-color="#ffe8ee"/><stop offset="0.5" stop-color="#e0506a"/><stop offset="1" stop-color="#8a1020"/></radialGradient></defs>
<circle cx="45.0" cy="370.0" r="3.6" fill="url(#gg)" stroke="#1a5a22" stroke-width="0.8"/>
<circle cx="71.2" cy="369.6" r="3.6" fill="url(#rg)" stroke="#5a0a18" stroke-width="0.8"/>
<text x="39.60" y="372.30" font-size="6.4" text-anchor="end" fill="#333" stroke="#333" stroke-width="0.1" textLength="11.80" lengthAdjust="spacingAndGlyphs" >GFP</text>
<text x="78.10" y="372.30" font-size="6.4" text-anchor="start" fill="#333" stroke="#333" stroke-width="0.1" textLength="22.30" lengthAdjust="spacingAndGlyphs" >RFP657</text>
<text x="58.85" y="375.40" font-size="6.6" text-anchor="middle" fill="#000" stroke="#000" stroke-width="0.3" font-weight="bold" textLength="7.70" lengthAdjust="spacingAndGlyphs" >1:1</text>
<text x="40.55" y="386.20" font-size="6.4" text-anchor="middle" fill="#333" stroke="#333" stroke-width="0.1" textLength="18.70" lengthAdjust="spacingAndGlyphs" >DMSO</text>
<text x="71.50" y="386.20" font-size="6.4" text-anchor="start" fill="#333" stroke="#333" stroke-width="0.1" textLength="28.10" lengthAdjust="spacingAndGlyphs" >Decitabine</text>
<text x="71.50" y="392.33" font-size="6.4" text-anchor="start" fill="#333" stroke="#333" stroke-width="0.1" textLength="28.40" lengthAdjust="spacingAndGlyphs" >Azacitidine</text>
<text x="71.50" y="398.46" font-size="6.4" text-anchor="start" fill="#333" stroke="#333" stroke-width="0.1" textLength="28.10" lengthAdjust="spacingAndGlyphs" >Venetoclax</text>
<text x="71.50" y="404.59" font-size="6.4" text-anchor="start" fill="#333" stroke="#333" stroke-width="0.1" textLength="27.00" lengthAdjust="spacingAndGlyphs" >HMA+Ven</text>
<text x="157.80" y="406.60" font-size="6.5" text-anchor="middle" fill="#333" stroke="#333" stroke-width="0.1" textLength="88.00" lengthAdjust="spacingAndGlyphs" >Continuous treatment for 10 days</text>
<text x="158.50" y="413.60" font-size="6.5" text-anchor="middle" fill="#333" stroke="#333" stroke-width="0.1" >or</text>
<text x="158.00" y="421.60" font-size="6.5" text-anchor="middle" fill="#333" stroke="#333" stroke-width="0.1" textLength="130.00" lengthAdjust="spacingAndGlyphs" >Repetitive treatment for 4 days in 14-day intervals</text>
<line x1="93.00" y1="425.00" x2="127.50" y2="425.00" stroke="#888" stroke-width="1.1" />
<line x1="134.30" y1="425.00" x2="135.80" y2="425.00" stroke="#888" stroke-width="1.1" />
<line x1="138.50" y1="425.00" x2="141.80" y2="425.00" stroke="#888" stroke-width="1.1" />
<line x1="145.20" y1="425.00" x2="148.60" y2="425.00" stroke="#888" stroke-width="1.1" />
<line x1="151.90" y1="425.00" x2="155.30" y2="425.00" stroke="#888" stroke-width="1.1" />
<line x1="158.60" y1="425.00" x2="162.00" y2="425.00" stroke="#888" stroke-width="1.1" />
<line x1="165.40" y1="425.00" x2="168.70" y2="425.00" stroke="#888" stroke-width="1.1" />
<line x1="172.10" y1="425.00" x2="175.50" y2="425.00" stroke="#888" stroke-width="1.1" />
<line x1="178.80" y1="425.00" x2="180.90" y2="425.00" stroke="#888" stroke-width="1.1" />
<line x1="187.60" y1="425.00" x2="223.00" y2="425.00" stroke="#777" stroke-width="1.1" />
<polygon points="222,422.6 226.5,425.0 222,427.4" fill="#000"/>
<path d="M 27.70 420.30 L 27.70 428.20 A 30.40 8 0 0 0 88.50 428.20 L 88.50 420.30" fill="#fff" stroke="#333" stroke-width="0.8"/>
<ellipse cx="58.10" cy="420.30" rx="30.40" ry="8" fill="#fff" stroke="#333" stroke-width="0.8"/>
<ellipse cx="58.10" cy="422.80" rx="27.90" ry="6.5" fill="#fff" stroke="#999" stroke-width="0.6"/>
<ellipse cx="35.60" cy="424.30" rx="3.0" ry="1.9" fill="#1d9a3a" stroke="#2a2a2a" stroke-width="0.6"/>
<ellipse cx="35.60" cy="424.30" rx="1.3" ry="0.75" fill="#fff"/>
<ellipse cx="44.10" cy="421.30" rx="3.0" ry="1.9" fill="#c8203a" stroke="#2a2a2a" stroke-width="0.6"/>
<ellipse cx="44.10" cy="421.30" rx="1.3" ry="0.75" fill="#fff"/>
<ellipse cx="51.10" cy="419.30" rx="3.0" ry="1.9" fill="#c8203a" stroke="#2a2a2a" stroke-width="0.6"/>
<ellipse cx="51.10" cy="419.30" rx="1.3" ry="0.75" fill="#fff"/>
<ellipse cx="56.60" cy="422.80" rx="3.0" ry="1.9" fill="#1d9a3a" stroke="#2a2a2a" stroke-width="0.6"/>
<ellipse cx="56.60" cy="422.80" rx="1.3" ry="0.75" fill="#fff"/>
<ellipse cx="62.90" cy="419.30" rx="3.0" ry="1.9" fill="#1d9a3a" stroke="#2a2a2a" stroke-width="0.6"/>
<ellipse cx="62.90" cy="419.30" rx="1.3" ry="0.75" fill="#fff"/>
<ellipse cx="70.60" cy="420.80" rx="3.0" ry="1.9" fill="#c8203a" stroke="#2a2a2a" stroke-width="0.6"/>
<ellipse cx="70.60" cy="420.80" rx="1.3" ry="0.75" fill="#fff"/>
<ellipse cx="79.10" cy="423.30" rx="3.0" ry="1.9" fill="#c8203a" stroke="#2a2a2a" stroke-width="0.6"/>
<ellipse cx="79.10" cy="423.30" rx="1.3" ry="0.75" fill="#fff"/>
<ellipse cx="44.60" cy="425.30" rx="3.0" ry="1.9" fill="#1d9a3a" stroke="#2a2a2a" stroke-width="0.6"/>
<ellipse cx="44.60" cy="425.30" rx="1.3" ry="0.75" fill="#fff"/>
<ellipse cx="52.60" cy="426.60" rx="3.0" ry="1.9" fill="#c8203a" stroke="#2a2a2a" stroke-width="0.6"/>
<ellipse cx="52.60" cy="426.60" rx="1.3" ry="0.75" fill="#fff"/>
<ellipse cx="59.90" cy="427.30" rx="3.0" ry="1.9" fill="#1d9a3a" stroke="#2a2a2a" stroke-width="0.6"/>
<ellipse cx="59.90" cy="427.30" rx="1.3" ry="0.75" fill="#fff"/>
<ellipse cx="68.10" cy="425.80" rx="3.0" ry="1.9" fill="#1d9a3a" stroke="#2a2a2a" stroke-width="0.6"/>
<ellipse cx="68.10" cy="425.80" rx="1.3" ry="0.75" fill="#fff"/>
<ellipse cx="64.60" cy="424.00" rx="3.0" ry="1.9" fill="#c8203a" stroke="#2a2a2a" stroke-width="0.6"/>
<ellipse cx="64.60" cy="424.00" rx="1.3" ry="0.75" fill="#fff"/>
<path d="M 229.20 420.40 L 229.20 427.80 A 31.75 8 0 0 0 292.70 427.80 L 292.70 420.40" fill="#fff" stroke="#333" stroke-width="0.8"/>
<ellipse cx="260.95" cy="420.40" rx="31.75" ry="8" fill="#fff" stroke="#333" stroke-width="0.8"/>
<ellipse cx="260.95" cy="422.90" rx="29.25" ry="6.5" fill="#fff" stroke="#999" stroke-width="0.6"/>
<ellipse cx="238.45" cy="424.40" rx="3.0" ry="1.9" fill="#c8203a" stroke="#2a2a2a" stroke-width="0.6"/>
<ellipse cx="238.45" cy="424.40" rx="1.3" ry="0.75" fill="#fff"/>
<ellipse cx="246.95" cy="421.40" rx="3.0" ry="1.9" fill="#c8203a" stroke="#2a2a2a" stroke-width="0.6"/>
<ellipse cx="246.95" cy="421.40" rx="1.3" ry="0.75" fill="#fff"/>
<ellipse cx="253.95" cy="419.40" rx="3.0" ry="1.9" fill="#c8203a" stroke="#2a2a2a" stroke-width="0.6"/>
<ellipse cx="253.95" cy="419.40" rx="1.3" ry="0.75" fill="#fff"/>
<ellipse cx="259.45" cy="422.90" rx="3.0" ry="1.9" fill="#1d9a3a" stroke="#2a2a2a" stroke-width="0.6"/>
<ellipse cx="259.45" cy="422.90" rx="1.3" ry="0.75" fill="#fff"/>
<ellipse cx="265.75" cy="419.40" rx="3.0" ry="1.9" fill="#c8203a" stroke="#2a2a2a" stroke-width="0.6"/>
<ellipse cx="265.75" cy="419.40" rx="1.3" ry="0.75" fill="#fff"/>
<ellipse cx="273.45" cy="420.90" rx="3.0" ry="1.9" fill="#c8203a" stroke="#2a2a2a" stroke-width="0.6"/>
<ellipse cx="273.45" cy="420.90" rx="1.3" ry="0.75" fill="#fff"/>
<ellipse cx="281.95" cy="423.40" rx="3.0" ry="1.9" fill="#c8203a" stroke="#2a2a2a" stroke-width="0.6"/>
<ellipse cx="281.95" cy="423.40" rx="1.3" ry="0.75" fill="#fff"/>
<ellipse cx="247.45" cy="425.40" rx="3.0" ry="1.9" fill="#c8203a" stroke="#2a2a2a" stroke-width="0.6"/>
<ellipse cx="247.45" cy="425.40" rx="1.3" ry="0.75" fill="#fff"/>
<ellipse cx="255.45" cy="426.70" rx="3.0" ry="1.9" fill="#c8203a" stroke="#2a2a2a" stroke-width="0.6"/>
<ellipse cx="255.45" cy="426.70" rx="1.3" ry="0.75" fill="#fff"/>
<ellipse cx="262.75" cy="427.40" rx="3.0" ry="1.9" fill="#c8203a" stroke="#2a2a2a" stroke-width="0.6"/>
<ellipse cx="262.75" cy="427.40" rx="1.3" ry="0.75" fill="#fff"/>
<ellipse cx="270.95" cy="425.90" rx="3.0" ry="1.9" fill="#c8203a" stroke="#2a2a2a" stroke-width="0.6"/>
<ellipse cx="270.95" cy="425.90" rx="1.3" ry="0.75" fill="#fff"/>
<ellipse cx="267.45" cy="424.10" rx="3.0" ry="1.9" fill="#c8203a" stroke="#2a2a2a" stroke-width="0.6"/>
<ellipse cx="267.45" cy="424.10" rx="1.3" ry="0.75" fill="#fff"/>
<text x="259.90" y="348.80" font-size="6.6" text-anchor="middle" fill="#000" font-weight="bold" textLength="24.00" lengthAdjust="spacingAndGlyphs" >Relative</text>
<text x="259.90" y="356.20" font-size="6.6" text-anchor="middle" fill="#000" font-weight="bold" textLength="34.00" lengthAdjust="spacingAndGlyphs" >competitive</text>
<text x="259.90" y="363.60" font-size="6.6" text-anchor="middle" fill="#000" font-weight="bold" textLength="19.70" lengthAdjust="spacingAndGlyphs" >fitness</text>
<rect x="243.40" y="368.00" width="33.00" height="32.20" fill="#fff" stroke="#444" stroke-width="1.0" />
<rect x="245.10" y="369.70" width="12.50" height="14.80" fill="#fff" stroke="#666" stroke-width="0.7" />
<rect x="259.30" y="386.20" width="15.10" height="12.00" fill="#fff" stroke="#666" stroke-width="0.7" />
<circle cx="250.74" cy="378.58" r="0.42" fill="#5cb860"/>
<circle cx="250.80" cy="376.19" r="0.42" fill="#5cb860"/>
<circle cx="249.25" cy="376.48" r="0.42" fill="#5cb860"/>
<circle cx="253.75" cy="378.33" r="0.42" fill="#5cb860"/>
<circle cx="253.58" cy="377.82" r="0.42" fill="#5cb860"/>
<circle cx="252.17" cy="377.64" r="0.42" fill="#5cb860"/>
<circle cx="247.63" cy="379.58" r="0.42" fill="#5cb860"/>
<circle cx="252.41" cy="378.55" r="0.42" fill="#5cb860"/>
<circle cx="247.58" cy="372.04" r="0.42" fill="#5cb860"/>
<circle cx="249.34" cy="375.74" r="0.42" fill="#5cb860"/>
<circle cx="251.97" cy="376.97" r="0.42" fill="#5cb860"/>
<circle cx="252.45" cy="375.24" r="0.42" fill="#5cb860"/>
<circle cx="251.98" cy="378.24" r="0.42" fill="#5cb860"/>
<circle cx="249.85" cy="382.08" r="0.42" fill="#5cb860"/>
<circle cx="252.52" cy="380.57" r="0.42" fill="#5cb860"/>
<circle cx="249.94" cy="374.96" r="0.42" fill="#5cb860"/>
<circle cx="250.54" cy="376.79" r="0.42" fill="#5cb860"/>
<circle cx="252.69" cy="377.82" r="0.42" fill="#5cb860"/>
<circle cx="250.32" cy="374.32" r="0.42" fill="#5cb860"/>
<circle cx="250.15" cy="380.64" r="0.42" fill="#5cb860"/>
<circle cx="249.52" cy="377.81" r="0.42" fill="#5cb860"/>
<circle cx="252.24" cy="372.78" r="0.42" fill="#5cb860"/>
<circle cx="251.41" cy="380.89" r="0.42" fill="#5cb860"/>
<circle cx="246.87" cy="376.17" r="0.42" fill="#5cb860"/>
<circle cx="251.07" cy="374.73" r="0.42" fill="#5cb860"/>
<circle cx="252.39" cy="376.92" r="0.42" fill="#5cb860"/>
<circle cx="248.08" cy="379.50" r="0.42" fill="#5cb860"/>
<circle cx="252.77" cy="379.84" r="0.42" fill="#5cb860"/>
<circle cx="254.47" cy="378.15" r="0.42" fill="#5cb860"/>
<circle cx="251.56" cy="373.33" r="0.42" fill="#5cb860"/>
<circle cx="252.65" cy="375.33" r="0.42" fill="#5cb860"/>
<circle cx="250.30" cy="373.43" r="0.42" fill="#5cb860"/>
<circle cx="249.17" cy="375.56" r="0.42" fill="#5cb860"/>
<circle cx="254.14" cy="371.21" r="0.42" fill="#5cb860"/>
<circle cx="248.09" cy="377.79" r="0.42" fill="#5cb860"/>
<circle cx="254.48" cy="378.78" r="0.42" fill="#5cb860"/>
<circle cx="247.12" cy="370.60" r="0.42" fill="#5cb860"/>
<circle cx="252.09" cy="374.96" r="0.42" fill="#5cb860"/>
<circle cx="248.84" cy="379.93" r="0.42" fill="#5cb860"/>
<circle cx="253.72" cy="377.56" r="0.42" fill="#5cb860"/>
<circle cx="251.84" cy="378.36" r="0.42" fill="#5cb860"/>
<circle cx="254.81" cy="378.90" r="0.42" fill="#5cb860"/>
<circle cx="252.44" cy="378.69" r="0.42" fill="#5cb860"/>
<circle cx="247.85" cy="380.82" r="0.42" fill="#5cb860"/>
<circle cx="253.40" cy="378.64" r="0.42" fill="#5cb860"/>
<circle cx="246.96" cy="375.26" r="0.42" fill="#5cb860"/>
<circle cx="253.15" cy="371.85" r="0.42" fill="#5cb860"/>
<circle cx="250.90" cy="380.06" r="0.42" fill="#5cb860"/>
<circle cx="248.42" cy="381.77" r="0.42" fill="#5cb860"/>
<circle cx="252.51" cy="376.66" r="0.42" fill="#5cb860"/>
<circle cx="252.01" cy="378.98" r="0.42" fill="#5cb860"/>
<circle cx="251.56" cy="380.42" r="0.42" fill="#5cb860"/>
<circle cx="249.84" cy="375.90" r="0.42" fill="#5cb860"/>
<circle cx="253.59" cy="377.18" r="0.42" fill="#5cb860"/>
<circle cx="249.36" cy="379.84" r="0.42" fill="#5cb860"/>
<circle cx="254.52" cy="375.81" r="0.42" fill="#5cb860"/>
<circle cx="248.26" cy="376.71" r="0.42" fill="#5cb860"/>
<circle cx="250.97" cy="376.24" r="0.42" fill="#5cb860"/>
<circle cx="254.39" cy="374.12" r="0.42" fill="#5cb860"/>
<circle cx="254.07" cy="373.42" r="0.42" fill="#5cb860"/>
<circle cx="249.57" cy="378.93" r="0.42" fill="#5cb860"/>
<circle cx="253.78" cy="379.59" r="0.42" fill="#5cb860"/>
<circle cx="252.06" cy="377.51" r="0.42" fill="#5cb860"/>
<circle cx="251.64" cy="378.77" r="0.42" fill="#5cb860"/>
<circle cx="250.91" cy="377.90" r="0.42" fill="#5cb860"/>
<circle cx="252.56" cy="377.10" r="0.42" fill="#5cb860"/>
<circle cx="252.98" cy="378.74" r="0.42" fill="#5cb860"/>
<circle cx="255.72" cy="378.04" r="0.42" fill="#5cb860"/>
<circle cx="250.36" cy="376.02" r="0.42" fill="#5cb860"/>
<circle cx="251.27" cy="379.78" r="0.42" fill="#5cb860"/>
<circle cx="250.56" cy="378.22" r="0.42" fill="#5cb860"/>
<circle cx="255.34" cy="370.60" r="0.42" fill="#5cb860"/>
<circle cx="248.83" cy="377.81" r="0.42" fill="#5cb860"/>
<circle cx="252.18" cy="377.79" r="0.42" fill="#5cb860"/>
<circle cx="250.35" cy="379.00" r="0.42" fill="#5cb860"/>
<circle cx="251.92" cy="375.59" r="0.42" fill="#5cb860"/>
<circle cx="256.30" cy="378.13" r="0.42" fill="#5cb860"/>
<circle cx="250.08" cy="376.81" r="0.42" fill="#5cb860"/>
<circle cx="250.80" cy="376.92" r="0.42" fill="#5cb860"/>
<circle cx="246.30" cy="375.69" r="0.42" fill="#5cb860"/>
<circle cx="268.82" cy="389.98" r="0.45" fill="#d03040"/>
<circle cx="266.67" cy="394.01" r="0.45" fill="#d03040"/>
<circle cx="268.51" cy="395.03" r="0.45" fill="#d03040"/>
<circle cx="263.40" cy="391.53" r="0.45" fill="#d03040"/>
<circle cx="266.12" cy="393.38" r="0.45" fill="#d03040"/>
<circle cx="268.98" cy="387.10" r="0.45" fill="#d03040"/>
<circle cx="268.98" cy="389.45" r="0.45" fill="#d03040"/>
<circle cx="268.17" cy="389.36" r="0.45" fill="#d03040"/>
<circle cx="267.15" cy="394.47" r="0.45" fill="#d03040"/>
<circle cx="266.50" cy="392.56" r="0.45" fill="#d03040"/>
<circle cx="268.39" cy="392.47" r="0.45" fill="#d03040"/>
<circle cx="266.62" cy="395.11" r="0.45" fill="#d03040"/>
<circle cx="268.90" cy="391.64" r="0.45" fill="#d03040"/>
<circle cx="272.29" cy="390.02" r="0.45" fill="#d03040"/>
<circle cx="268.63" cy="391.70" r="0.45" fill="#d03040"/>
<circle cx="267.06" cy="393.54" r="0.45" fill="#d03040"/>
<circle cx="267.24" cy="393.41" r="0.45" fill="#d03040"/>
<circle cx="263.75" cy="389.33" r="0.45" fill="#d03040"/>
<circle cx="268.03" cy="390.37" r="0.45" fill="#d03040"/>
<circle cx="264.75" cy="389.41" r="0.45" fill="#d03040"/>
<circle cx="269.33" cy="393.62" r="0.45" fill="#d03040"/>
<circle cx="269.75" cy="390.42" r="0.45" fill="#d03040"/>
<text x="240.90" y="384.60" font-size="6.8" text-anchor="middle" fill="#333" stroke="#333" stroke-width="0.1" textLength="12.50" lengthAdjust="spacingAndGlyphs" transform="rotate(-90 240.90 384.60)" >GFP</text>
<text x="259.90" y="407.70" font-size="6.8" text-anchor="middle" fill="#333" stroke="#333" stroke-width="0.1" textLength="21.80" lengthAdjust="spacingAndGlyphs" >RFP657</text>
<rect x="0.6" y="0.6" width="518.8" height="640.8" fill="none" stroke="#000" stroke-width="1.2"/>
</svg></body></html>
